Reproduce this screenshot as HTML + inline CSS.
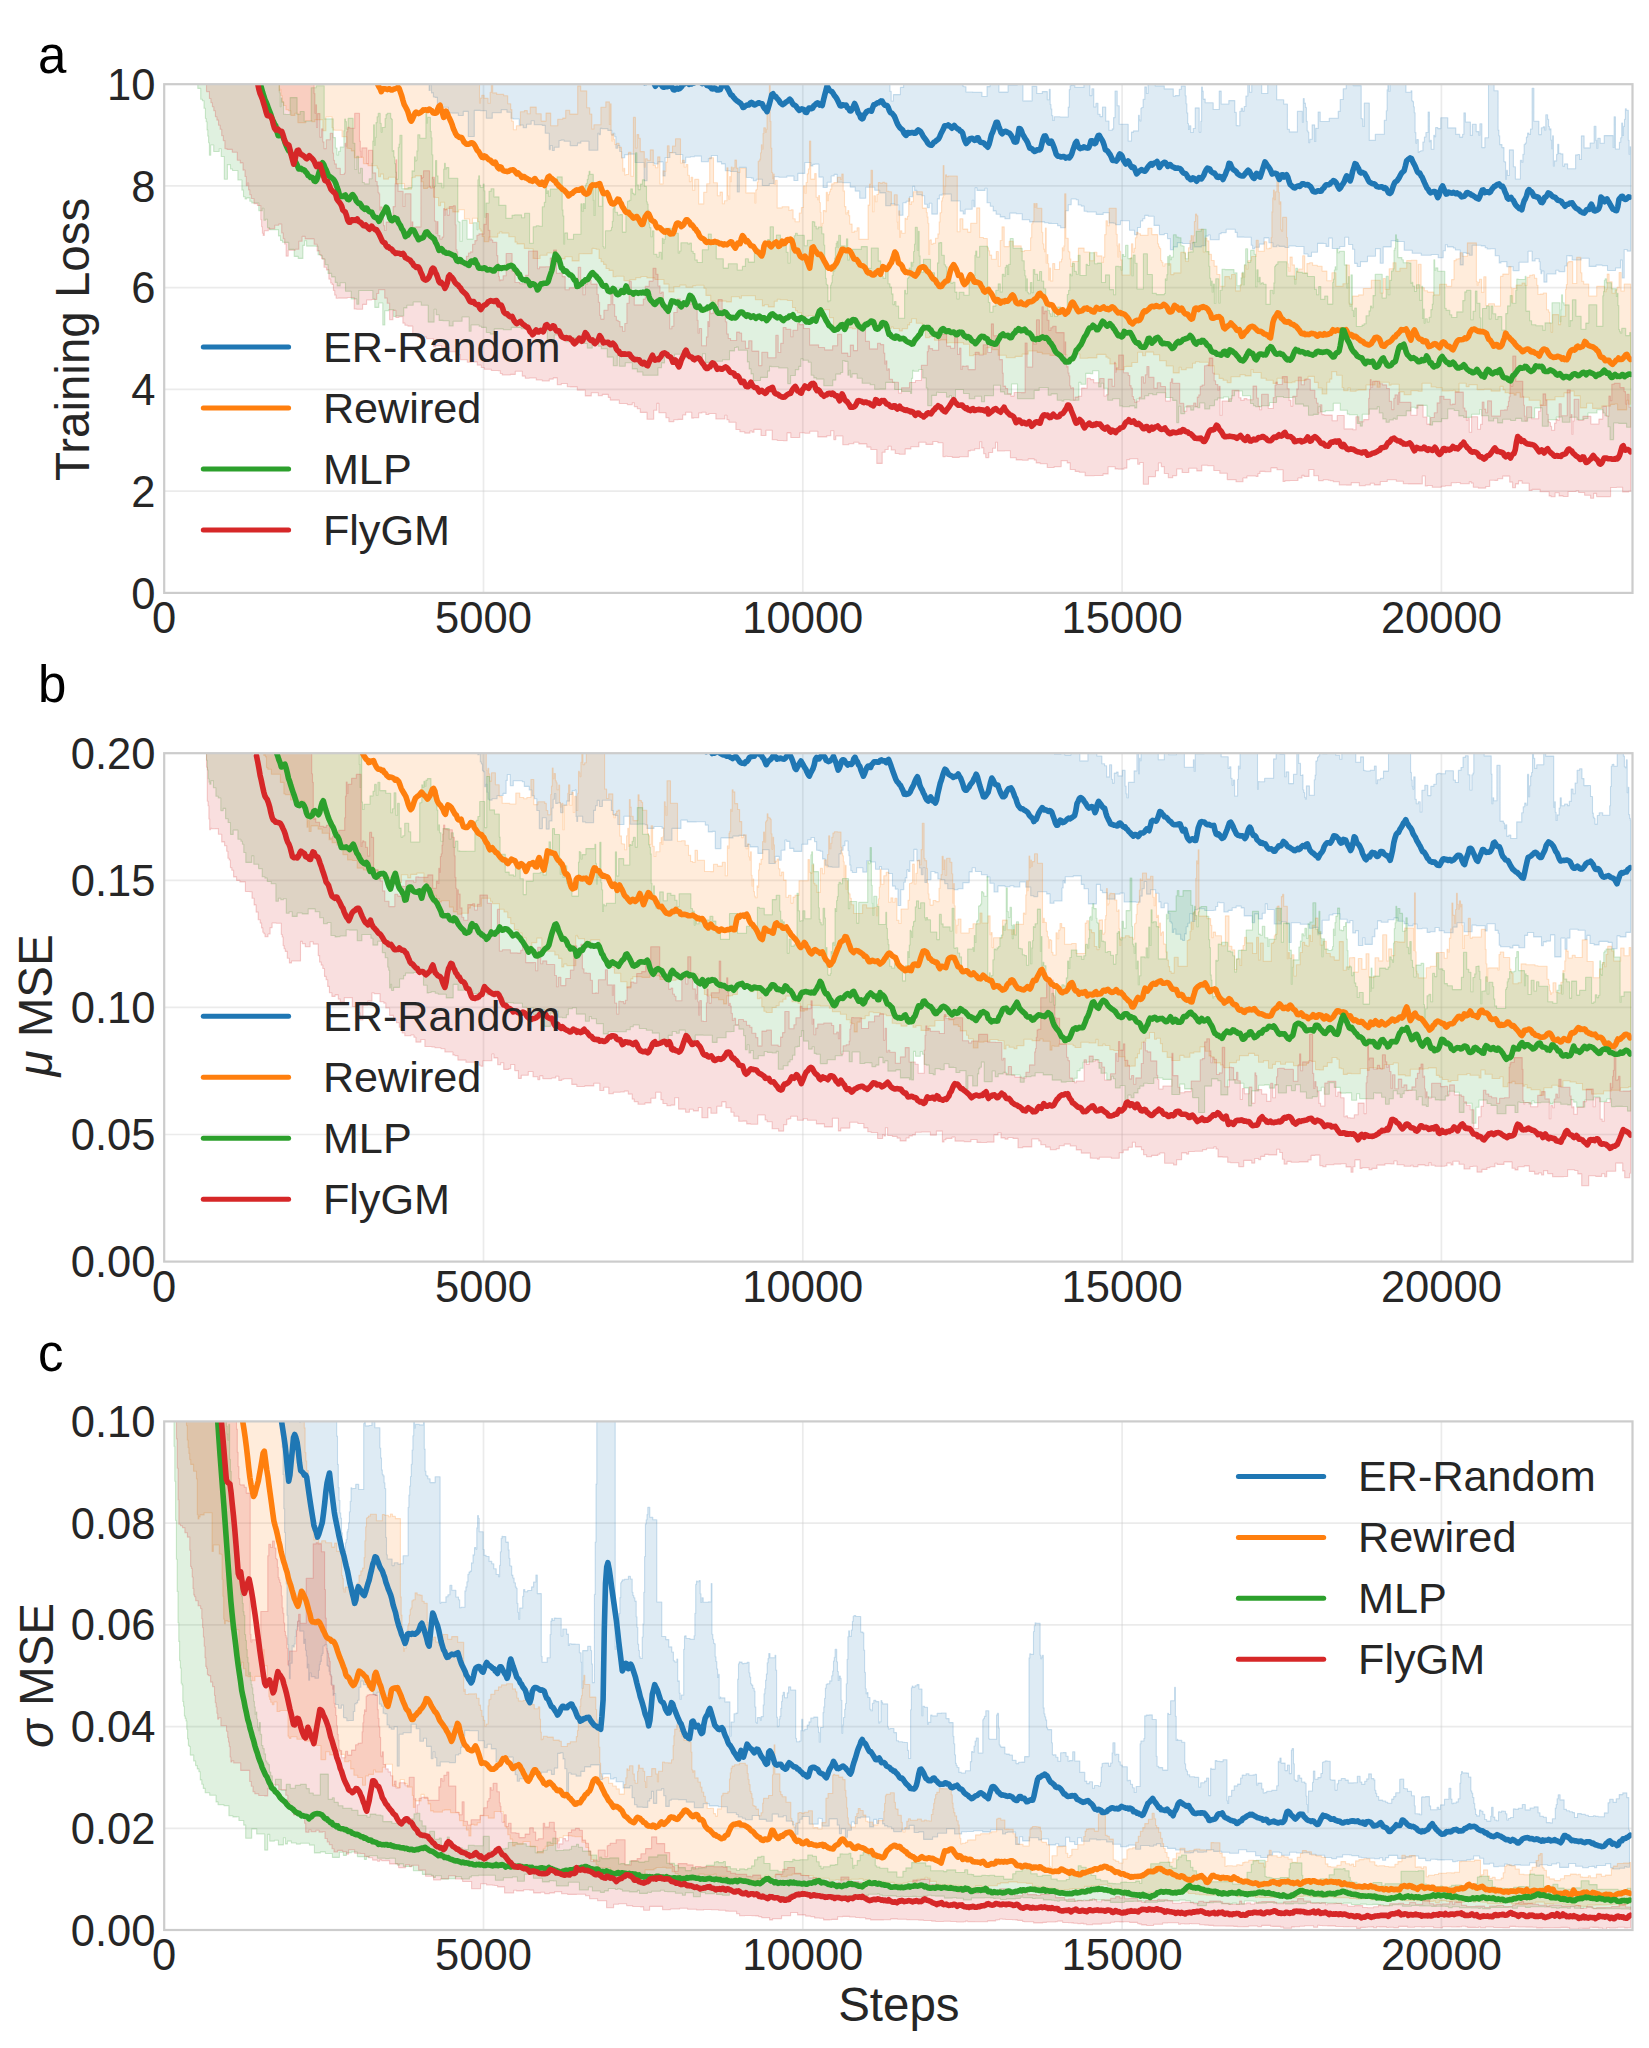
<!DOCTYPE html>
<html><head><meta charset="utf-8"><title>chart</title><style>html,body{margin:0;padding:0;background:#fff;overflow:hidden}svg{display:block}</style></head><body>
<svg width="1649" height="2048" viewBox="0 0 1649 2048">
<defs><clipPath id="clipa"><rect x="164.2" y="84.2" width="1468.3" height="508.7"/></clipPath><clipPath id="clipb"><rect x="164.2" y="753.2" width="1468.3" height="508.39999999999986"/></clipPath><clipPath id="clipc"><rect x="164.2" y="1421.4" width="1468.3" height="508.5999999999999"/></clipPath></defs>
<style>.t{font-family:"Liberation Sans",sans-serif;font-size:43.5px;fill:#262626}.l{font-family:"Liberation Sans",sans-serif;font-size:47.5px;fill:#262626}.p{font-family:"Liberation Sans",sans-serif;font-size:51px;fill:#000}</style>
<g stroke="#cccccc" stroke-opacity="0.40" stroke-width="1.7"><line x1="483.5" y1="84.2" x2="483.5" y2="592.9"/><line x1="802.8" y1="84.2" x2="802.8" y2="592.9"/><line x1="1122.1" y1="84.2" x2="1122.1" y2="592.9"/><line x1="1441.4" y1="84.2" x2="1441.4" y2="592.9"/><line x1="164.2" y1="491.2" x2="1632.5" y2="491.2"/><line x1="164.2" y1="389.4" x2="1632.5" y2="389.4"/><line x1="164.2" y1="287.7" x2="1632.5" y2="287.7"/><line x1="164.2" y1="185.9" x2="1632.5" y2="185.9"/></g>
<g clip-path="url(#clipa)">
<path d="M414,-16.9h5v-3h7v-2.1h5v3.7h4v.3h6v-.4h9v-9h5v8.7h5v-3.6h8v1.6h6v3.8h4v2.1h9v1.3h6v-7h7v7.1h8v1.3h2v-.2h8v1.2h3v-7.6h2v-.2h9v2.8h4v-8.7h2v7.8h7v-9.8h4v7h5v-6.9h9v4.2h6v-5.8h2v14.7h7v1.4h3v-4.5h4v.3h3v-1.8h9v7.5h2v-2.2h6v5.6h5v7h6v-7.5h6v-6.3h2v3.9h4v-1.8h6v-35.5h2v51.5h8v-3.4h8v-7.1h6v12.6h8v4.6h5v-6.8h6v-.2h5v2.6h3v3.9h3v2.8h6v3.7h2v1.2h7v1.2h4v2h5v-1.8h9v-8.9h8v8.6h5v3.4h5v-1.9h8v8.2h6v-4.8h7v-1.8h2v13h7v-2.4h6v-3.7h3v7.5h8v2.3h6v-2h7v-12.2h8v10.4h4v2.5h8v-28.5h9v35.7h6v6.5h7v-6.5h8v-1.7h5v17.4h8v-10.9h5v-2.2h9v9.4h8v13.4h6v21.3h1.2v9.6h2.2v-6.4h7v-7.2h3.2v-32.6h1.2v27.2h1.6v-11.9h1.7v1.1h2.5v-2.2h8v14.6h7v-17.6h5v10.4h3v-7.2h5v-.3h9v4.2h4v.9h9v-26.2h1.7v36.9h.8v1.8h1v.2h1.9v5.3h7v.4h9v4.1h5v-9.9h3v-6.5h9v12h9v-6.8h9v-4.9h2v2.8h2v-.2h2v17.9h9v-14.5h4.8v7.1h5.5v-1.9h5v8.2h2v-10.6h.9v15.3h.8v4.4h.8v6.7h.9v4.8h1.5v-3.6h6v.2h8v-9.9h1.1v-17.5h.8v-3.8h.8v-5.8h.8v5.4h3.2v2h9v-3.2h6v11.4h2v-6.9h1.9v18.2h2.1v-3.7h2.1v11h2.1v2.4h2.4v-9.6h3.2v14h3.3v9.3h3.2v-1.4h1.4v-11.3h1.4v-26.6h2.2v14.8h2v18.4h9v16.8h3.3v-8.9h2v-1.2h5v-15.7h.8v4.6h.8v1.1h.8v-12.7h.8v-.7h1.4v-8.1h1.7v-12.5h1.6v6.6h1.6v-15.2h3.3v-3.4h4v11h9v3h9v7.4h2v-.7h4v-6.4h2v-3.2h4v9.7h.8v8.1h.8v9.1h.8v10.6h.8v6h.8v-3.8h1.5v6.8h2.4v-4h2v-20.6h4v24.2h1.6v-10.9h.8v-34.2h.8v4.1h.8v8h2v3.6h8v6.8h6v-18.4h2v12.9h7.6v-3.4h6v11.8h1.5v13.2h1.5v.1h2v-14.3h1.4v-3h1.4v2.7h1.6v-4.6h1.7v-10.5h1.9v-16.8h1.8v13h2.1v-48.5h4v39.2h6v10.6h6v-11.3h9v17.5h7v4.3h3.7v25.2h2v2.7h8v-20.7h5v11h.9v-23.7h.9v4.6h1.2v4.3h1v13.9h.8v9.4h.8v1.3h.8v10.6h.9v-3.4h2.4v-14.3h2.5v16.6h1.1v-13.3h1.1v.3h1.3v-16.5h2.1v9.5h9v-3.3h9v-6.8h2v-11.9h3v-10.7h3v-9.1h3v.4h4v5.5h8v33h.8v.1h.9v7.7h1.4v-23.4h5v37.4h6v-6.2h9v-13.9h2v-9.5h.8v-21.1h.8v-4.5h.8v6.1h1.3v-11.7h7v3.9h2v-5.7h2v5.3h5v9.2h5v-1.6h.9v10.1h.8v.8h.8v5.2h.8v5.9h.8v19.9h.8v10.5h.8v-3.5h.8v-.1h.8v13h.8v-1h1.6v-.7h2.2v-8.8h1.5v-5h1.5v-4.5h2.2v-20.4h1.3v29.7h1v-1.6h.9v9h2.5v-13.9h.9v1.4h.9v-9.1h.9v-.1h1.3v1.1h3v-10.9h7v10.2h8v6.5h3.9v2.7h2.9v-2.8h1.3v-21.4h1.5v9.1h5v13.4h2v-11.2h3.8v7.4h2.7v3.7h1v-11.5h2v23.8h3v-9.8h3.6v-61h.8v6h.8v-1.9h4v9.9h4v39.3h.8v5.6h.8v8.9h2.3v3h2v14h.8v.3h.8v17.2h.8v-8.7h1v5.1h2v-25.6h4v16.9h2v12.2h5v-18.7h1.4v1.9h1.1v-7.9h1.2v-9.8h1.1v-1.5h1.2v-6h1.2v-4h1.4v1.5h1.5v-5.5h1.6v-40.8h1.8v33.1h5v13.3h2.4v-6.9h2v-.9h1.3v3.2h1.2v-15.2h1.8v4.5h1v7.2h.8v3.2h.8v-.8h.8v11.2h.8v8.7h.8v-13h.8v30.2h.9v-5.1h2.3v-6.7h1.1v-10h1.1v9.2h1.9v.5h2.2v12.2h1.6v-2.2h3.1v4.8h8v-13.8h2.1v-.4h1.9v5h1.8v-23.6h2.7v12h6v-4.9h4v-16.6h1.9v14h.8v7.9h1v-10h2.4v4.9h4v-7.6h9v11.8h.9v-30.7h1.3v32.3h4v-6.8h1.3v-4.4h1v-14.7h.9v12.4h.9v-9.1h1v-7.2h.9v-10.5h.9v1.6h2v29.9h.8v14h.8v-7.5h.8v11.2h0h0v93.2h-3.5v-1.6h-3v28.5h-1.9v-17.9h-1.8v7.9h-5v2.5h-8v-4.9h-5.4v-.5h-6v1.3h-7v-8.1h-8v1.7h-9v-4.1h-3.1v-.3h-2.1v10.4h-2.1v5.6h-6v-1.3h-2.9v3.7h-9v8.1h-3v-11h-2.1v2.5h-.9v-4h-.8v-7.8h-1v-3h-4v2.2h-3v-9.7h-4v10.9h-9v8.4h-6v-4h-6.3v-5h-5.8v1.4h-1.8v-7.3h-4v-7h-5v.3h-3v-1.2h-2v-1.9h-4v-.7h-9v10h-3v-1.8h-3v-.8h-3v12.3h-3v-14.9h-4.8v-2h-2v-1.1h-6v-2.1h-2v6h-2.2v6.9h-5v-3.2h-7v.8h-8v-.1h-2v-2h-9v-3h-8v-8.7h-8v-.9h-5v6.3h-8v16.4h-3v-14.7h-4.7v7.6h-8v5.4h-7v4.9h-3.3v-3.1h-2.6v-14.2h-2v-4.7h-4v-7.2h-3.8v9.2h-5v2h-3v0h-4.5v-10.4h-3.5v8.3h-2.8v-2.9h-2.5v-.1h-6v8.9h-6v4.1h-3.6v-2.4h-4v-7.5h-8v-.5h-7v1.5h-4v-1.1h-6v-1.1h-2v1.5h-4v-4.1h-4v-4.8h-4.8v6.2h-4.7v3.2h-4.8v1.5h-2v-3.5h-1.4v-8h-7v-.2h-7v-4.7h-2v-3.2h-9v3.4h-5v1.1h-2v6h-9v-4.7h-2v1.1h-2.8v9.7h-4v1.1h-7v-4.4h-2v7.2h-2v-6.2h-8v-.9h-5v4.3h-4v2.9h-3v-11.2h-2.9v-5.1h-3.1v1.1h-5v-9.2h-5.4v-9.2h-5.7v-.8h-3.5v3.4h-2v2.2h-2.3v6.5h-3v7.1h-3v-4.4h-5v-9.4h-9v3.8h-5v-1.3h-2v-.4h-4.3v-10.3h-6v1.8h-7v-2.4h-9v-.7h-3.1v-5.2h-2.9v-1.1h-3v-5.2h-2v-.8h-5v5.8h-2.9v6h-2.9v17h-4.8v-2.1h-3v-2.2h-6v-.1h-3v-.6h-4v-.9h-6v0h-9v-2.2h-7.4v-6h-6v-.6h-6.3v5.6h-5v-1.8h-4.7v-2.7h-4.1v-3.3h-2.9v-4.7h-2.9v-3.4h-3.3v-14.6h-2v2.2h-8v-2.5h-1.9v18.9h-1.4v-6.6h-1.5v9h-7v4.8h-2v-2.9h-3v-10.1h-9v-6.9h-9v1h-2.8v3.8h-2v15.2h-5.6v-10.8h-2.5v4.5h-2v-3.6h-2.7v-8.5h-2.8v-1.1h-5v-4.2h-2.2v-4h-1.9v10.4h-3.2v4.5h-3.3v1.5h-3.2v12.4h-4.1v-10.1h-4.1v-1.2h-4.1v1.8h-5v-12.8h-6v-2.6h-5v-3h-9v10.9h-6v-7.1h-4.5v-4h-5v-4.5h-8v-.4h-5v-7.8h-3v1.6h-3v6.3h-4v5.2h-4.1v-10.4h-4.2v-13h-4.1v.3h-2v1.5h-2v-3.4h-6v10.9h-6.9v7.1h-4v-4.4h-7v1.1h-8v-.4h-4.8v6.7h-4.8v2h-7v-6.2h-6v1.5h-3v-2.7h-2v-.6h-5v-10.1h-7v24.6h-2v-20.5h-7v-.7h-5v-6.9h-3.8v-2h-4.1v-6.4h-6v3.1h-3v3.2h-7v-5.7h-7v.6h-4v.6h-4.7v5.5h-3v-8.3h-7v-1.9h-5.8v4.9h-4.8v18.4h-2v-14h-5v2.1h-4v-1.5h-7v18.2h-3v-18.2h-9v-8.4h-7v.5h-3.4v3.2h-3v-6.3h-2v-6h-2v2.7h-1.8v-11.6h-1.2v-3.4h-1.3v2.1h-1.6v-4.9h-4v-1.8h-5.8v-.2h-1.6v6.2h-1.3v-1.4h-1.2v17h-9v-8.9h-8v1.8h-3.4v2.5h-7.4v-4.3h-6v-1.2h-3v.4h-2v6.7h-4.8v3.3h-2v-5h-2v4.1h-1.1v-16.3h-4v-7.9h-3v-.7h-8v-3.9h-3v3.4h-4.7v3.6h-3.3v-2.7h-4v-6.1h-6v-.7h-2.2v-6h-4.1v-2.7h-5.6v3.1h-9v5.6h-6v-7.7h-6v-.2h-6v26.1h-6v-25.1h-5v4.1h-5v-2.4h-5.9v-.1h-4v-5.7h-7v-.8h-4v-9.1h-2.4v-.4h-1.6v-4.1h-1.9v-7.9h-1.4v5.5h-1v-8h-.8v-9.7h-.8v-4.2h-.8v1.5h-.8v-12.8h-.8v-7.1h-.8v-2.2h-.8v-5.7h-.8v-4.3h-.8v-7.1h-.8v-4.7h-.8v-6.6h-.8v-3.3h-.8v-2.5h-.8v-8.8h-.8v-1.2h-.8v-13.1h-.8v-5.7h-1.5Z" fill="#1f77b4" fill-opacity="0.15" stroke="#1f77b4" stroke-opacity="0.22" stroke-width="1.1" stroke-linejoin="round"/>
<path d="M269,16.2h2v-7h7v-11.8h2v10.4h6v-1.2h5v-1.3h7v8.4h4v-3h7v-1.1h2v-4.1h4v-9.4h9v9.4h2v-20.5h9v25.2h7v-.6h5v-4.3h6v2.2h5v1.9h6v-17.3h3v8h5v2.2h5v.3h9v-1.9h9v4.8h4v-3.7h6v9.3h9v-2.4h4v-11.5h3v10h9v-6.9h7v17h4v-12.9h9v.3h9v2.9h3v.9h5v16.2h1v14.6h.9v-3h1v8.6h.9v6.7h1v-7.7h1v11.3h.9v8.6h1v6.6h1v-6h.9v15h1v2.6h.9v-.7h1v21.7h1v-4.9h1.3v-2.9h2.3v3.2h4v4.8h2v-10.8h1.2v-41.8h1.4v42.3h4v1.5h7v1.3h4v8h3v5.9h1.2v11.6h1.5v8.6h3v-4.1h4v-13.9h4v-1.2h2.9v3.1h2.9v-6.6h6v6.7h5v7.3h4.8v-8h4.7v12.7h7v-6.6h5v-1.1h3v-7.8h4v3.8h8v-28.2h3v5h6v16.8h3v6.3h2.1v14.9h2.1v-4.1h7v-17.6h4.9v-5.3h3.6v22.5h.9v-20.5h.8v30.1h.8v6.9h.8v-7h.9v5.4h1.1v5.2h2v-1.3h2.4v4.2h2.4v10.6h1.3v13h1v-2.8h.9v6.7h1.2v-.4h2.6v-22.1h2.5v23.8h2.4v-58.8h2v30.5h1.6v-13.3h1.7v3.7h1.6v13.3h4v15.3h1.1v-8.2h1.9v1.5h3v-10.3h3v15.5h2.2v2.4h2.2v-10.9h2.2v27h3.1v-13h1.4v.4h1.5v-9.2h1.5v-16.3h1.7v6.7h3.4v-6.5h3v-7.3h5v24.3h1.9v-2.7h1.8v6.7h1.8v-2.5h1.8v10.8h1.6v6.3h1.7v-4.4h1.6v13h2v-10.8h4v24.5h5v-11.6h3v-8.5h3v-26h3.8v25h3.9v12.9h2.6v-3.6h2.4v11.6h2v-3h2.5v-32.9h1.1v28h.8v3.5h.9v-22.8h.8v5.1h.8v-14.6h.8v3.2h.9v-2.4h1.9v-7.7h1.6v8h1.4v4.3h2.1v-4.1h6v24.6h9v10.1h.8v-12.9h.8v-.8h.8v-7.3h.8v-20.8h.8v-.4h.8v-1.7h.8v-6.4h.8v-7.9h.8v4.1h.8v-15.4h.8v-5.8h.8v0h.8v4.5h.8v-2.9h.8v-18.5h.8v-7.1h.8v-1.3h.8v-17h.8v36h.8v26.7h.8v24.3h.8v6.4h.8v-4.8h.8v10.2h1.3v-3.9h1.7v27.6h4.8v-1.1h7v3.7h2v-.7h2.1v9h2.1v2.9h4.1v-8.7h2.1v-5.5h2.1v-21.6h1.5v7.3h1.1v-10.7h1.2v-8.8h1.1v-4.8h1.1v-27.8h1.2v38h4v-5.5h1.5v23.6h1.5v2.6h1v-4.3h.8v7h.8v9.8h.8v13.8h.8v-2.9h1.3v-12.6h2.1v1.1h1v-19.4h1.1v8.3h1v-6h1v-2.9h1v-2.6h1.3v-5.2h2.2v-1.3h3.6v-5.4h3v2.1h1.3v-5.2h1.4v16.8h1.3v15.7h1.4v7.4h1.1v-1.5h.9v-2h.9v5.1h.9v8.4h1v.1h1.4v8.3h2v-1.4h3v-3.2h2v11.6h9v-34.3h1.5v-21h1.4v-13.8h1.5v41.4h1.4v-16h1.5v6.1h1.5v-7.3h1.5v-12h1.7v.6h2.5v-.7h2.1v.7h2.1v8.2h2.1v.5h2.5v13.1h2.9v-10.2h2.9v27.2h.8v7.1h.8v-18.1h.8v26.2h.8v-6.4h1.4v2.6h3.2v-15.1h1.2v1h1.3v-2.9h1.2v-17.9h1.2v6h1.5v-2.6h2v-10h9v16.3h4v4.4h.8v4.4h.8v6.3h.8v31.2h.8v-14.1h.8v-.6h.9v4.4h1.7v-.8h2.5v-5h2.4v-4.4h1.3v-12h.8v-9h.8v-.4h.8v-11.6h.8v-3.2h.8v-32.1h.8v29.3h.8v-8.6h.8v-11.4h1v1.7h1.7v-.6h9v55.8h2.6v-13.1h3v10.4h4.8v3h3v-8.9h6v-15.3h3v29.6h3.8v1h3.8v9.3h1.1v2.9h1.2v4.4h2v4.2h4.7v-7.8h2v14.7h1.9v-25.7h1.8v-13.6h2.2v19.7h5v-5.3h4v4.6h8v5.5h3.2v-.9h6.2v-12.7h1.1v-14h1.1v-2.5h1.1v-17.8h.9v3.8h1v-3.8h1.3v4.7h4.7v24.1h1v11.4h.9v5.4h.9v2.6h.8v-23.7h.8v35h.9v-8.4h.8v8.9h.8v16.4h.8v-11.9h1.1v12.9h2.1v-17.3h2v5.9h4.8v-7.8h2v-2.6h.8v-11.3h.8v3h.8v-4.9h.8v-52.1h1.2v44.5h2.3v12.8h.8v.8h.8v7h1v7.6h1.9v-5h5.7v-13.4h5.7v3.9h5.8v8.8h4v-8.6h3v3.7h5v6.5h1.4v-5.3h1.4v-22.5h1.3v-13.9h1.4v5h1.8v-17.5h7v26h1v11.6h.8v11.2h.8v-13.3h.8v7.7h1v8.5h1.5v15.1h8v-16.9h1.4v-14.3h1.3v8.3h1.3v-3.7h1.3v-10.6h1.3v-5.6h1.4v1.6h2.4v1.6h7.4v-7.1h4v6.3h5.7v9.2h1v3h1.1v1.7h1v12h1.1v1.8h1.2v3.7h1.8v-2.2h6v10.8h3v-1.7h7v-20.5h4.7v8.9h3v-13.5h1.5v-7.1h1.1v-5.2h1.1v7.4h1.1v-7.2h1.1v-14.2h1.1v-7.5h1.1v1.7h1.2v13.6h5.5v22.6h1.8v-13.9h1.9v2.9h1.9v13.4h2.5v6.2h2.8v5.6h2.8v8.4h3v11.8h4.8v-9.7h4.7v2.1h2v-4.2h4v16.4h4.8v-6.1h1.5v-11.6h1.5v3.7h1.5v-11.9h1.5v4h1.6v-8.3h3.6v-4.2h4.7v-16.2h2v11h6v-9.6h2.5v7.1h2.4v-.7h2v-10.5h.8v-25.7h.8v-14h.8v-7.8h.8v9.5h1.1v-7.8h1.5v-10.9h1.6v11.4h.8v11.7h.8v-2.3h.8v28h.8v1.4h.9v-13.7h4v20.1h.8v26.2h.8v3.8h.8v3.8h1v-14.2h2.2v7.8h2.2v14.3h2.1v-7.8h2.2v-2.4h4v-13.2h2v17.2h2.2v-9.4h2.7v-.8h3v2.5h4.8v.9h4.7v4.9h4.8v9.6h5v-8h4v13.7h7v-2.6h3.2v-18.8h3.2v39.2h3.3v-8.1h6v-1.2h4.7v-6.4h8v-8.2h9v12.7h3v-14.5h2v10.9h3.9v-20.6h3.8v-6.1h3v8.7h3.9v-3.1h6.8v-7.7h4.7v-.3h5.5v27.9h1.4v-24h2.8v23.6h3.2v2.9h3.3v1.4h6v2.8h6v-10.7h7v2.1h5v-6.7h2.4v-19h2v-1.6h2.1v-.2h2.1v-6.1h2.1v3.6h5.1v-13.4h9v38.6h.8v3.8h.8v-2.9h1.5v-3.2h2.1v13.2h2.2v-15.6h2.2v28.7h2.5v-1.8h6v2.3h6v-29.6h2.3v-2.3h6v-7.4h2.2v21.1h.8v14.4h1v-13.7h3.3v-3.4h5.9v-2.1h3v2.4h2v-8.1h2.7v-2.1h2.8v-.4h2v3.4h2.3v7h1.2v9.3h2.1v-.4h3.2v-1.1h3.2v16.8h2.1v2.2h1.2v11.2h1.3v8.9h1.5v-17.5h6v10h2v-8.3h5v-27.1h.8v-4.6h.9v-21.8h1.4v-1.2h4v21.9h4v-26.3h4v15.6h1.2v8.6h1.8v2.6h5v12h8v-9.6h8v5.3h1.4v-2.6h1.1v-15h1.9v7.7h3v11.5h3v-3.4h2v-2.5h2v-14.9h2v18.5h3.1v-7h6.5h0v120.3h-2.1v-4.1h-2v9.7h-9v-5.9h-3v.4h-4v1.7h-9v2.3h-9v-5.2h-6v4.7h-6.3v-12h-6.2v-4.8h-4v1.8h-6v3.9h-9v3.1h-9v5.6h-6v-5.3h-9v0h-2v-3h-9v-4.5h-4v2.4h-2v-1.7h-5v-.6h-4v-2.9h-2v-3.5h-3v4.7h-9v-1.8h-7v.3h-7v-5h-8v2h-3v-3.4h-7v8.8h-4v-1.7h-2v.4h-4v.3h-7v-3.4h-6v-.6h-5v-3.7h-9v8h-4v-.7h-7v4.1h-7v-2.8h-5v-7.6h-8v.9h-2v-2.9h-9v5h-3v-6h-2v3.7h-9v4.9h-8v.4h-2v1h-6v-3.5h-2v2.9h-4.4v-3.2h-1.6v-12.3h-5.5v-3.6h-4.8v7.5h-2v3.2h-3v11.7h-4.7v-6h-3.9v-5.6h-3.8v-6h-6.3v2.3h-2v1.8h-4v.3h-7v1.3h-3v.7h-4v-.4h-4v-4.2h-7v5.2h-4v-3.1h-7v-2h-5v-5.8h-8v-3h-2v6.4h-6v-1.3h-5v2.1h-9v5.9h-4v-2.4h-4v-1.8h-4v-4.1h-4.8v-8.4h-5.8v-3.7h-9v-.4h-4v1.5h-3v4.7h-6.3v1.8h-5v-2.5h-2v5.6h-6v-6.9h-7v-5.3h-6.6v-6h-6v-2.6h-8v3.7h-3v-3.5h-5v10.2h-5.7v3.9h-5.7v.2h-2v3h-8v-6h-2v.4h-4.3v-5.7h-2v-1.2h-2v-2.7h-9v3.5h-9v.4h-8v-4.3h-5v6.6h-2v-1.5h-4v-.3h-2v-4.1h-8v.7h-9v-1.4h-7.7v-1.6h-5v-1.4h-9v3.1h-6v2.3h-7v1.3h-9v-2.4h-8v-5.7h-6v-3.8h-2v1.8h-4v6.6h-9v.4h-3.8v1.2h-3.9v-11.5h-6v-1.7h-7v.2h-8v.2h-2v-3.1h-6v.4h-6v-3.7h-5v1h-4v-8.3h-3.2v-6.1h-6v-4.4h-4.7v3.7h-2v2.4h-2v3.7h-5.3v2.4h-3v-2.5h-6v-1.5h-2v1.2h-3v-.4h-7v1h-3v-1.1h-2v-1.7h-8v-.5h-4v-.7h-2v-1.5h-4v.8h-2v4.7h-4v-.9h-8v-.1h-6v2.7h-4.8v-12.9h-4v-8h-9v6.9h-7v-1h-5v.7h-7v-3.6h-4v-2h-2v-3.1h-3v-7h-5.2v-.8h-7v-.4h-3v1.9h-3v5.7h-6v-2.1h-3.9v1.1h-2v-6.2h-7v-4h-6v0h-8v2.6h-2v-1.6h-8v5.2h-5v-.8h-9v3.6h-2v-3.6h-4.7v-5.7h-4.8v-7.1h-2v-3.1h-8v.4h-3v1.6h-7v-2.1h-6v1.5h-6v5.3h-5v-7.8h-5v-4.6h-9v-1.6h-8v-1.4h-6v1.1h-5v2h-6v1h-6v-4.4h-7.9v.5h-3v-6.3h-4v-1.9h-3v-4.1h-2.4v-2.6h-2.5v-3.3h-2v-9.3h-3v-.7h-2v-.1h-2v5.2h-9v.1h-4v7.2h-7v-4.1h-7v2.1h-7v-4.2h-4v-1.7h-7v2.2h-7v3.3h-5v-.1h-2v-9.6h-4.4v-.4h-4.4v-4.5h-7.3v-1.8h-2v-5.4h-6.2v-3.6h-7v-1.3h-2v1.4h-2v3.9h-9v4.7h-4.6v-5.3h-2v-5.4h-1.4v-2h-1.3v-7.4h-2v-3.5h-5v5.2h-3v-4.4h-5.1v-9.2h-5.6v2.1h-6v-3.5h-6v1.6h-2.2v-7.7h-4v3.5h-2v-8.3h-3v-.2h-2.1v-10.1h-6v1.2h-4v-6.7h-2.2v-5.8h-6v1.3h-2.4v.5h-1.4v11.4h-7v-5.5h-9v-6.3h-7v1.8h-5v-5h-3v2.7h-1.9v-8.6h-1.5v-2.5h-9v-2.1h-4.7v-6.2h-5v.2h-4v-6.7h-3v-2.4h-2.3v-.3h-2.2v-11.5h-4.9v-6.5h-7v-.1h-1.9v-2.5h-1.1v-10.9h-3.1v.3h-3v13.8h-3v-11.2h-8v2.1h-3v-1.2h-6v2.1h-8v-9.4h-3v2.2h-4v-4.7h-2.5v-1.1h-2.5v-4.1h-2.3v-3.4h-1.5v-6.6h-1.2v-6.2h-1v1.5h-.8v-10.3h-.8v-.3h-.8v-10.2h-.8v-7.4h-.8v-5.9h-.8v-6.2h-.8v-2.9h-.8v-8.6h-.8v-2.8h-.8v-8.9h-.8v-9.2h-.8v-6.6h-1.3Z" fill="#ff7f0e" fill-opacity="0.15" stroke="#ff7f0e" stroke-opacity="0.22" stroke-width="1.1" stroke-linejoin="round"/>
<path d="M197.8,-14.8h1.9v-5h7.1v13.1h3.9v-17.3h8.1v12.3h5.9v-10h3.1v10.1h7.9v-11.9h6.1v10.2h7.9v-7h6.1v-2.3h8.9v-15.3h9.1v22.2h.8v20.1h.8v23.6h.8v1.7h.8v6.2h.8v29.9h.8v7.1h.8v19.8h.8v13.9h.8v-8.5h.8v3.8h1.8v12.3h2.2v.3h4.3v-16.9h7v16.8h3v-2.9h4.1v9.7h7v-33.5h5v-1.9h8v33.1h9v18.7h2.2v10.4h1.6v6.9h1.6v-3.5h1.7v-4.4h3.6v-16.2h.8v-11.7h.8v2.5h.9v7.4h1.7v-10.6h5v24.8h1.8v26.3h1.8v-13.1h1.8v16.5h1.8v-4.7h2.1v14.3h2v1.4h4.8v-5.1h2.8v-15.6h.8v-22.1h.8v-16.3h.8v20.5h.8v-7.9h.8v-14.8h1.1v-5.8h1.1v-3.4h2v10h1v8.7h.9v-4.6h2v-.3h1v-8.7h.9v-3.9h1.2v-1.4h3.5v5h.8v1.1h.8v32h.8v-.7h.8v6.3h.8v6.7h.8v8.5h.8v7h2v-31.7h.8v-3.3h.8v-8.8h2.1v53.4h6v-1.1h4v-16.7h1.7v.3h.8v-14.3h.8v4h.8v-.6h.8v-9.4h.9v-16.1h2.1v3.5h6v-24.9h.8v9.5h.8v-5.5h2.9v13.8h.8v6.6h.8v16.9h.8v24h.8v9h.8v-1.4h1.1v-25.7h1.2v15.3h1.3v7.5h4v4.3h1.7v-18.6h.8v-5.8h.8v5.7h1.1v-1.4h2.4v10.6h9v43h1v.9h1.3v19.1h2v-20.8h5v18.7h6v-16.4h4v6.9h.8v-49.8h.8v-4h.8v9.3h.8v2.4h2.9v-3.4h.9v6.6h.8v26.6h1.1v-14.3h3v-11.6h2v-2.7h3v8.2h5v8.5h7v13h6v-3h2.6v-.5h7v2.9h3v-4.5h5v29.9h3.6v-16.4h3v-1h3v.4h3.1v-19.4h2v-4.6h1.3v-20.2h1v11.4h1v-2.7h1v5.6h1.6v-7.3h7v-12.1h5v33h.8v6h.8v28.1h.8v-10.9h.9v-.2h2v6.3h6v-4.9h7.4v-30.5h1.2v7.5h1.3v-7.8h1v4.9h1v-23.3h.9v-1.8h1v-4.1h.9v-4.2h.9v-3.8h.9v3.2h3.3v26h.8v15.1h.9v-29.6h3.6v20.3h3.7v-12.8h.8v53.1h.8v1.5h1.5v-17.2h5v-.5h1.1v-2.9h.8v-6.2h.8v-12.5h.8v-3h1.2v6.5h2.4v2.8h2.4v-.4h2.5v17.5h3.5v-19.2h1.6v-11.6h1.7v-1h1.6v-11.4h1.6v4.5h1.6v1.2h1.5v-41.8h1.4v32.1h1.4v4.7h2v-5.5h2.1v-4.3h2.1v6.6h2v15.4h.8v2.2h.8v6h.8v13.8h.8v3.8h1.2v9.2h1.5v-5.9h1.5v23.4h1.5v.1h1.6v2.6h2v-4.8h2.5v6.8h.8v-20.7h.8v5.2h.8v-4.3h1.4v-11h6v3.6h4v1.4h3v19.7h1.3v-1.9h1.3v-8.2h7v1.1h1.8v-.9h1.7v8.3h1.8v2.2h1.8v6.4h2.3v2.6h5v-12.7h6v-15.8h3v6h5v18.7h7v9.4h5v-4.3h9v6.2h5.1v-3.6h3v-7.6h3v3.3h6v-13.6h4v2.8h4.8v-.6h2v-9.3h2.4v-1.9h2.5v-12.7h3.3v17.1h3v-8.9h4v9.8h5.9v7.5h1.8v10.7h1.9v-22.2h3v5.3h1.2v-10.3h1.3v-2.6h1.8v2.2h7v10.4h3v-5.5h5v-18.8h1.3v.4h1.2v4.3h1.5v2.5h2v-1.7h3.6v6.7h2v11.3h.8v15h.8v18.4h.8v5.8h.8v.9h.8v16.6h.8v-1h1.9v-15.7h.8v-2.3h.8v-7.2h.8v-6.7h.8v2.1h.8v-12.9h.8v-10.6h.8v-4.2h.8v-1.8h.8v5.7h.9v-11.9h1.8v10.7h4.7v4h1.3v-11h1.2v21h1.6v-7.5h3v-3h9v-2.8h6v21.8h4v-20.4h7v12.9h2.4v15.6h2.5v1.9h2.4v-9.5h2.5v14.8h1.9v3.4h1.5v6.8h1.5v10.7h1.5v-3.1h1.5v4.5h2.6v12.2h6v-28h1v3.5h.9v.1h.9v-15.3h.9v-1.2h.9v-9.2h.9v1.7h.9v-7.5h.8v3.6h.9v-3.5h.9v-10.9h.9v-7.5h.8v-16.8h2v23.1h1v-19h.9v24.6h.9v11.4h1.2v5h2.2v-13h7v13.5h4v7.5h3v-17.4h1.2v-20h1.2v-.3h1.8v12.6h2.6v9.5h1.3v2.1h1.4v8.4h1.9v-1.2h2v9.1h2v-.7h2.1v9.7h2v6.8h2v-6.7h5v3h5v-19.6h5.9v-20.3h.8v-4.3h1.1v6h2.8v-10.7h8v47h.8v9h.8v.2h.8v9.8h2.9v-6.2h2.9v-15.7h2.4v-6.5h2.1v8h2v-17.6h1.7v1.9h1.2v-9h1.1v-1.9h1.2v9.2h1.1v-10.1h1.6v-25.9h3v9.7h9v12.5h2v9.5h.8v5.5h.8v15.1h.8v-12.1h.8v13.6h1v1.4h2v-11.2h1.5v10.1h1.4v-23h1.5v4.7h2.8v6.1h2v-8.9h2v9.5h2.1v7.7h2v15.6h2.1v6.1h1.7v3.4h1.4v2.7h1.4v-10.6h2.3v10.5h3v-9.3h3v6.2h2v-3h3.1v-.7h1.6v-15.1h1.3v-4.3h1.2v-16.2h1.2v1.8h1.3v-12.4h2.1v8h2v2.8h1.8v-19h1.9v20.3h6v-11.3h1.3v1.3h2.1v-12.8h5v11h3v-.6h4v19.4h4v-7.6h4v14.7h4.1v5.1h2v-28.3h3v.3h1.2v-.2h1.2v3.5h1.3v-15.4h1.4v1.9h1.9v-11.2h2.4v13.3h3.1v-.8h.9v17.9h1.2v-20.6h1.9v8.2h2v25.7h6.3v-35.3h4v20.8h5v18.9h4v1.2h8v-1.1h.9v-14.6h.8v1.4h.8v-5.7h.8v-18.1h.9v8.7h.8v-9.9h.9v4.3h1.2v-2.6h1.9v-22.2h2.8v2.2h2v.7h2.8v8h2v.5h1.1v7h1.2v5.5h2.9v-6.5h2.4v-.3h2.5v-9.7h3.2v-10.9h4.8v-2.1h5v22.4h2.9v14.6h.8v11.9h.8v7.2h.8v-4.2h.8v10.8h1.1v-7.9h1.1v19.2h1.4v-24.5h3v24.2h1.3v-12.6h1.9v-21.1h3v.4h9v3.3h3v12.9h4v-7.9h1.2v-5.7h1.1v12.5h1.1v-20h1.3v-15.9h1.9v13.7h3v-12.1h3.6v3.8h1.4v32.6h1.3v-17h1.2v11.8h1.1v-4.4h1v6.8h1v-.9h.9v-.4h1.3v1.5h2.7v20.2h4v-14.1h3v3.3h.8v-10.7h.8v-16.4h.8v-1.3h.8v-.9h1.5v-2.5h9v14.2h8v7.9h1v-15.6h1.7v4.1h5v.7h5v3.4h7v12.9h2.1v5.4h2.1v-8.3h2.1v12.9h3.9v-3.4h3v8.1h5v-21.7h.8v-3.3h.9v-9.2h.8v-3.2h.8v3.1h.8v-20.8h1v3.8h1.6v-1.5h5v13.6h2.5v23.1h.8v-4.6h.8v-6.8h.8v26.4h.8v3.5h.9v-31.6h1.3v35.5h1.2v6h1.2v-8.4h1.7v18.5h5.6v-1.4h2v-1.3h2v-8h3v-4.9h1.5v-4.9h1.2v1.8h1.3v-12.2h2.2v-21.4h7v23.8h4v-21.8h2v18.6h1.6v-14.4h1.7v-9.4h1.6v-2.2h.9v-18.4h.8v-2.3h.8v-13.4h.8v4.7h1.5v18.2h4v2.1h1.4v3h6v.4h1.6v20.3h.8v-1h1.1v3.7h1.7v5.4h2v-6.7h3.3v15.6h2v-14.1h.8v32.1h.8v-9.3h.8v14h.8v-4.3h2.3v3.2h1.8v-4.8h1.8v-7.6h1.4v-5.5h.8v-8.5h.8v-35.8h.8v10.5h1.1v-2.4h2v3.4h7v36.9h1.4v2.2h3.6v4.3h2v2.8h5v-5.6h6v-11.3h2v-8.7h1.7v-1.5h4.4v29.3h2.1v-8.4h2.4v-20.2h1.6v12.1h3v14.5h1v13.3h1.5v-22.5h4v-2.5h2.8v12.9h1.7v-12.9h1.8v7.8h3v5.6h2v-2.8h4v13.4h4v-16.4h1.8v-7.7h2.6v-10.3h2v7.7h3.6v-12.9h1v-11.4h1.4v.5h7v-3.1h.8v34.7h3.6v9.7h2v3.9h4.4v1.1h7v4.6h2v-7.5h7v-20.2h8v18.9h.8v-11.9h.8v-15h.9v8.1h1.6v2.1h5v21.6h.9v-5.9h2.4v-20.9h3.6v16.5h5.1v13.1h4.7v-6.2h3v-18.4h8v21.7h6v-30.7h.8v-4.4h.8v-11h.8v-1.5h1.2v4h5v5.9h5v7.8h.8v-3.2h.8v12.2h.8v24.1h.8v2h.8v1.4h1.3v-4.6h4v7.2h4v-3h1h0v94.7h-4.1v-3.9h-8v-.4h-5v16.6h-3.6v-12.8h-2v-11h-3v-2.8h-2v-3.2h-6v3.2h-9v5.5h-4v1.2h-7v-2.5h-7v5.1h-7.7v-5.2h-6v2.6h-8v6.6h-6v-18.4h-7.7v9.8h-7v3.5h-6v-2.8h-6v2.1h-5v-1.3h-8v3.7h-5v-4.6h-4v2.7h-5v-5.3h-7v-6.2h-2v4.8h-8v3h-2v.1h-6v-1.5h-4.8v-5.4h-4.7v-1.5h-6.3v9.6h-6.2v3h-9v3.5h-2.8v-8.9h-2.8v-10.8h-9v2.7h-3v-.9h-4v3.7h-4.7v4.7h-9v3.6h-2v-.8h-2v1.6h-4v2.2h-3.3v-3.3h-3.2v-5.9h-3.5v-6.1h-2v2.2h-8v5.1h-7v11.9h-2v-2.7h-3v-8.6h-8v-.7h-2v-3.8h-7v-7.1h-7v7.4h-8v1.2h-5v-5.1h-2v7.7h-5v.8h-4.8v-9.1h-5v-2h-8v-6.8h-3v.2h-9v-.9h-7v5.9h-7v3.2h-8v.9h-6v-.8h-2v-2.3h-3v-7.8h-8v-4.7h-8v4.7h-3v5.7h-3v-4.4h-5v1.1h-6v1.9h-3v5.6h-4.8v3.4h-5v-6h-5v4.8h-2v-.8h-4v3.1h-3v-3.1h-6v6.6h-4v-7.3h-2v16.3h-2v-22.2h-4v-2.9h-7v-4.8h-9v2.1h-4v-1.2h-4v2.1h-4v3.3h-8v8.9h-2v-2h-5v.8h-7v-.7h-3v-7.3h-7v1.6h-5v-12.1h-4.1v-5h-2.5v3.8h-2.4v-16.3h-6v3.1h-2v-.4h-5v10.9h-4.8v-1.9h-2v17.8h-9v-.5h-6v1.4h-2v-.9h-4.7v-6.3h-6v1.4h-3v-7.8h-9v2.9h-5v8.3h-9v.1h-7.7v-14.8h-6v10.2h-7v-2.3h-4v-6.6h-7v10.4h-4v-.1h-5v6.1h-3v-5.4h-6.7v2.4h-5.6v-5.2h-5.7v-4h-8v9.5h-4v-3.5h-2v1.6h-3v-4.6h-8v-.2h-2v3.1h-4.8v10.2h-4v-17.5h-1.5v-10.1h-3.5v-8.5h-4v1.7h-5v-.8h-1.1v8h-1v15.1h-1v-2.1h-9v-1.9h-7v-7.1h-9v6.7h-6v.2h-5v-4.5h-4.5v-1.6h-8v-4.9h-5v-4.4h-5v3.3h-1.7v-6.9h-1.3v4.9h-1.2v-13.8h-3v-.8h-2.2v11.9h-2.1v1.6h-4.8v6h-3v5.6h-9v-6.6h-7.3v-1.2h-2.7v-2.6h-2.7v-13.1h-2.8v-1.9h-5.3v-1.4h-2.1v7.5h-2.1v3.2h-3.4v5.9h-4.8v8.1h-2.9v-15.6h-9v-1.2h-7.3v-.4h-1.9v4.7h-2v6.3h-7v3.1h-4v.1h-3.2v-6.7h-2.3v-5h-1.8v-7h-1.8v-11.7h-9v-3.1h-2v.4h-1.9v3.4h-5v8.9h-7v1.5h-9v1.1h-8v-8.7h-3v9.6h-3v-2.4h-6v-2.3h-5v-.8h-4v-3.6h-4v.1h-6v3.7h-5v-1.2h-5v6.1h-3v4.8h-3.5v7.6h-8v0h-7.2v-3.3h-5.5v-3.1h-5v-6.1h-7v3.5h-6v-10.5h-2v10h-4v-8.7h-6v-8.4h-6v-2.4h-3v-2.6h-6v4.4h-5v-4.6h-7v-.4h-2v-5.4h-5v4h-7v-5.3h-2v2h-5v-3.4h-5v6.7h-7v-13.3h-6v4.9h-4v.5h-2v.9h-5v-6h-9v-1.2h-4v-.1h-6v2.3h-8v-.8h-9v5.2h-4v-1.6h-4v-5.1h-4.8v-1.1h-2.4v-1.3h-8v6.3h-2v-14.3h-7v4.3h-9v4.7h-4v-5.3h-6v-.3h-4v-5.7h-3v-5.5h-2v12.9h-5.9v-16.8h-7v-3.3h-8v3.2h-6.3v2.7h-3.2v8.1h-8v.5h-2v-6.9h-5v1.2h-3.9v14.2h-2v-22h-4v4.4h-4v-8.6h-2v-8.3h-5v0h-9v13.7h-2v-5.3h-5.6v-7.7h-5.7v-8.5h-5.3v3.2h-3v-3.5h-2v-5.5h-3.6v-3.5h-3.6v-8.8h-3v-5.5h-2.5v-3.3h-2v-1.1h-2.4v-8.4h-2.5v-.2h-9v-5.4h-2v4.7h-1.7v13h-4.7v-2h-4v-7h-5.5v-7h-4.2v-.1h-2v-1.9h-2v-4.5h-2v-6.3h-9v-2h-2v-8.3h-2v1h-1.6v-12.1h-1.6v2.5h-3.5v-7.7h-7v-1.8h-2v-3.3h-3.2v1.1h-1.5v-2.3h-1.6v-6.6h-1.6v-10.1h-4v-9.5h-5.4v-1.5h-2v-4.4h-3.1v14.6h-3.1v-22.7h-3.1v-7.8h-2v2.8h-5.5v-6.5h-3v10.3h-1.3v-12.5h-.8v-6.7h-.8v-6.2h-.8v-8.1h-.8v-3.3h-.8v-10.2h-1.4v-7.5h-1.6v-1.6h-1.7v-10.8h-2.9Z" fill="#2ca02c" fill-opacity="0.15" stroke="#2ca02c" stroke-opacity="0.22" stroke-width="1.1" stroke-linejoin="round"/>
<path d="M206.5,-17.7h5v1.7h4v-11.7h9v9.7h7v-13.5h6v8.4h9v3.6h9v-1.8h9v6.7h3v.1h9v-12.7h5v6.1h2v10.9h9v1.4h8v-7.3h2v-2.6h2v15h.8v10.4h.8v-1.4h.8v19.7h.8v-1.3h.8v14.4h.8v.4h.8v11.1h.8v5.7h.8v10.7h.8v12.4h.8v-.4h.8v15.6h.8v19.5h.8v-8.4h.8v22.7h1v-13.8h2.4v23.5h1.6v-8.2h1.3v13h1.2v6.7h2.2v-8.9h4v-6.4h2.5v19.7h.8v7.3h1v3.6h1.8v4.3h4v6.3h4v-1.4h.8v-29.8h.8v2.7h.8v-14.2h1v-4.4h2v.9h5v-15.1h4.8v27.9h.8v9.9h.8v5.6h.8v-8.7h5v15.7h1.5v-13.4h4.3v22.7h3v8.6h1.5v4.2h.9v6.7h.8v1.3h.8v16.3h.9v-3.2h.9v.6h1v8.6h1v9.6h1v4.9h1.6v-8.4h4v-5.2h3v-10.3h2v-22.8h.8v-24h.8v24.1h1.4v7.5h5v15.1h1.8v-12.7h1.6v0h4.5v35.4h.8v-7.3h1.1v5.4h3v-.4h5v-51.3h.8v2.5h.8v-.6h1v-6.7h6v15.6h1v1.7h1.8v-10.8h2.2v43.4h.8v.7h.8v12h.8v-11.9h1.1v14.1h2v3.3h2v-1.9h1.6v-28.4h.8v6.6h.8v-6h2.1v5.9h2v-8.5h4v-.9h2v19h.8v24.8h.8v2.3h.8v7.8h.9v-1.9h2.4v6.8h2.4v-.9h3v-7.3h2.1v-3.3h2v-1.1h2.1v-7.6h2.3v-3.7h2v-5.3h2v-1.4h5v-9.5h2.2v-10.9h2.2v16.7h1.6v9.7h.8v-1h.8v1.1h1.3v2.4h4v13.2h1v7.6h.8v13.2h.8v4.4h.8v-.9h2.9v-4.1h3v-22.3h6v18h3v11h4.8v1.3h5.6v-8.4h3v-24.4h9v17.8h2v-1.9h6v-.2h4.8v-8.6h3.3v-8h2.9v23.2h2.9v-.3h2.9v3.6h2.9v13.1h4v-2h9v-20.4h1.3v0h1.2v15.8h1.2v.5h1.2v11.1h2v-10.3h2v-4.1h4v3.8h6v10.3h1.3v7.9h1.2v12.9h1.3v3.9h3v-8.8h4v-5.7h3v-14.8h2v14.8h1.8v11.8h1.7v3.9h1.8v1.2h1.8v5.1h2.6v4.7h2.2v-7.8h2.1v-20.3h2.2v-21.8h2.2v10h3v13.5h9v-5.8h2v-12.7h3.8v-5.3h3.9v-12.9h3v6.1h2v11.6h2v7.2h1.6v-1.1h1.7v11.5h1.6v4.9h1.7v2.4h1.6v-2.1h1.6v20h2v-2.5h2v-13.7h3.2v-13.5h3.2v8h4v-5.1h6v2h7v16.5h.9v12.6h1.2v-4.5h2.3v17.2h4.8v-8.8h1.4v-15.3h.9v4.8h.8v-16.4h.8v3.7h1.1v-.3h1.8v-4.6h5v-9.3h4v9.9h1.7v6.3h1.5v6.1h1.4v12.1h1.5v4.6h2.3v2h6v-8.4h3v.9h2v8h3.9v7.4h3.2v-7.6h3.3v10.3h6.8v14.5h3v-13.3h6v5.4h8v-22.3h2.4v17.1h2.5v-9.1h2.4v-15.9h3v1.9h4.8v7.3h2v-6.4h4.7v-6.7h2v1h4v3.9h6v16.4h9v2.6h6v2.4h8v-4.1h5v-11.6h4v18.9h6.3v3.3h2.4v-11.3h3.2v5.5h4v-21.5h8v12.3h4v7.5h8v-5.6h3v1.3h3.2v8.4h1.1v11h1v-3.1h1.1v9.3h1.1v-1.4h1.4v10.5h3.1v3h6v10.7h3v-5.3h8v-5.2h6v-2h5.9v-15.2h5.9v-13.7h.9v-5.8h1.4v2.8h3v1.7h6v-15.8h8v11.6h4v2.1h4v-12.2h3v18.4h2v-6.3h1.4v21.3h1.2v-3.3h1.4v.3h2.6v-.5h2v3.7h7v-17.4h4v2.8h4v-10.2h4.6v7.7h3.6v-28.6h2v11.8h6v23.9h3v13.5h.8v13.4h.8v-.4h1.6v2.4h2v5.2h3.3v2.4h3.2v-3.6h7v.1h4v-49.6h2v24h5.5v-28.7h1.1v5.6h2.8v-24.2h2.9v19h2.5v-32h1.4v6.9h1.4v-2.6h2.5v9.3h1.8v10.2h1.8v-2.7h1.9v-1.6h3.4v6.4h8v20.3h.8v-11h.8v21.7h.8v3.3h.8v-.7h.8v6.7h.9v2.8h.8v10h.9v2.5h1.2v-.5h1.6v12.2h1.6v-2.8h3v-.8h3.5v-8.2h3.4v.2h2v-10h3.4v1.3h3.3v3.1h6v-4.2h4.4v17.5h2.1v-1.2h2v-15.7h4v7.2h2.3v-24.1h.8v9.8h1.1v-4.1h2.3v-12.9h4.8v17.8h4.8v2.7h1.5v10.1h1.3v2.4h1.2v8.5h1.2v3h1.3v2.9h2v-1.4h2.5v-3.7h2.1v-20.5h2.1v6.1h1.8v-8.2h1.6v-8.2h2.1v10.9h5v10.8h3.2v-5.4h3.5v3.7h4.8v14.5h4.8v-18.7h1.2v-3.5h1.2v4.5h7v19.9h4v8.1h3v-5.5h7v-2.8h2.1v3.4h1.5v-9.3h1.5v-2.2h1.4v-8.5h1.8v-1.4h2.5v-19.2h2.4v-.7h2.4v-7h3.5v14.9h1.4v7.7h1.4v3.8h1.2v.1h1.1v5.7h1.1v-4h1.1v29h1.9v-14.3h7v-2.2h3v-8.5h7v7.5h2v2.6h3v-1.8h3v1.2h6v-13.7h3.6v11.9h1.7v8.3h1.4v3.5h1.9v-15.5h6.7v14.2h5v-10.9h.9v-.1h.8v-12.1h.9v-3.4h1.4v2.5h5v-7.9h5v12.2h1.8v11.6h1.8v5.7h1.9v-9.7h4v-7.5h1.5v-11.9h3v7.7h3v-5.3h6v10.9h4.6v8h1.6v4.7h1.6v9.7h1.8v-8h2v9.9h2.3v.5h8v5.7h5v-5.3h7v13.4h4v0h4.8v.8h2.9v-12.9h2.9v5h4.9v-2.2h5v-21.2h.8v-9.2h.8v-9.7h.8v7.7h1.5v-5.8h7v2.4h3v1.1h4v3.6h2.8v12.9h2.4v8.2h2v-11.2h1.2v-3.5h2.5v9.3h1.1v-11.7h1.3v9.9h9v-.1h2v13h6v-10.3h6.2v12h3.8v7.1h3.7v-6.6h3.7v-4.7h2.8v-9.9h2.7v-6.6h4.2v3.1h6.3v5.3h2v-.6h3v-12h8v15.9h1.6v2.9h1.5v9.5h1.4v-2h1.5v13.8h2.3v-15.4h6v12.5h2.9v-4.9h1.7v-22.4h1.8v7.1h1.8v3.7h1.8v-12.1h1.9v.2h2v15.1h9v-5.8h3.8v-.3h3v-3.5h1.1v-5.1h.8v-4.5h.8v-18.8h1v8.1h1.8v-30.1h3v25.3h7v15.1h.8v8.6h.8v11.1h.8v4.6h1.4v-14h5v12h7v-7.5h2v-6.3h2.4v-11h2.6v6.1h1.4v14.4h1.2v7.3h1.1v.8h1.1v3.9h1.2v3.9h3v-7.2h1.5v-3.8h1.5v1.1h1.5v-16.7h2.1v12.1h6v-25.9h3v27.6h1v-2.9h.8v19.6h.9v-13.2h1.2v-21.8h4.8v21.2h4v-4h8v7.6h8v-4.9h3.8v-12.7h3.9v9.9h2.3v-20.2h1.5v4.5h1.4v-16.4h2.3v-.8h6v4.2h4v4h1.4v12.3h1.4v-9.5h2.2v12.9h1.7h0v83.9h-2.2v.7h-6v-4.6h-6v.2h-6v9.1h-6v0h-8v-3.2h-3v4.9h-3v-3.1h-6v-2.7h-6v-1.7h-2.5v.7h-8v5h-5v-.6h-4v-3.1h-4v4h-4v-.9h-2v-4.1h-9v-2.4h-8v1h-3v-7.1h-7v-2.4h-3.6v3h-3v3.8h-2.9v-5.6h-2.9v-6h-7v2.6h-5v1.7h-3v-.2h-5v6.3h-4v1.6h-7.4v-.9h-5v-4.1h-2v-1.2h-2v1.8h-9v-1.2h-4v.2h-5v3.1h-6v.4h-4v1h-9v-1.7h-5v.5h-2v-10h-3v8h-2v-.1h-5v0h-7v-.1h-5v-2.5h-7v-1.6h-9v1.8h-7v3.4h-3v0h-3v-1.6h-4v1.7h-5v.7h-6v-3.1h-8v2.5h-5v-.1h-7v-3.3h-6v-.9h-3v-.5h-2v-.5h-5v.8h-4.8v-4.8h-4.7v-6.3h-4.8v6.9h-5v-1h-2v2.6h-4v2.5h-8v.1h-5v.9h-2v-11.7h-6v-1.9h-6v3.8h-6v-.3h-5v2.1h-2v2.9h-2v-.4h-9v2h-4v3.8h-7v-2.2h-8.8v-6.4h-7.4v-2.7h-6v-4.7h-6v-.6h-6v5.7h-5v-2.7h-8v4.3h-6.7v-3.5h-5.4v6.6h-4v2.1h-4.4v-4.2h-4v-6.9h-3v-3.6h-2.9v7.8h-2.9v5.8h-7v7.6h-5.2v-21.7h-3.6v1.7h-2v-5.4h-8v.8h-2.8v8.5h-2.8v1h-6v-.2h-3v-2.1h-7v7.1h-5v1.6h-9v.3h-9v-3.6h-5.9v-.8h-4v-1.9h-5v-6.6h-3v-2.3h-3v0h-3v6h-7v.9h-7v-3.7h-7v-.9h-4v-2.8h-2v-1.2h-6v1.4h-6v-.4h-6v-2.1h-5.8v-7h-5.9v.2h-7v-8.7h-2v5.9h-2.9v4.3h-3.8v5.1h-3.1v-3.8h-2v-5.9h-2v-6.1h-2v6.9h-5v1.5h-4.4v.7h-2v5.9h-9v.6h-7v-.9h-5v-.3h-2v.4h-2.4v-13.8h-5v-1.3h-5v2.9h-7v-2.1h-7v4.5h-8v2.1h-5.7v5.4h-6v-.8h-4v-3.5h-4v-3.7h-3v3.2h-3.1v2.7h-2.9v11.2h-5.4v-13.9h-6v-2.4h-4v-3.2h-8v-1.6h-5v1.5h-5v1h-6v-8.8h-7v3.6h-2v-8.9h-3v5.1h-4v1.1h-9v-5.7h-8v2.1h-5v-.5h-5v4.7h-9v-4.6h-3.7v7.8h-3.6v-.2h-6.3v-.7h-5v-9.6h-6.2v5.3h-5v-6.1h-7v2.8h-2v-1.1h-2v2h-5.3v-1.4h-4.8v-2.2h-4v-7.3h-7v-2.4h-2v-4.5h-2v3.7h-9v-5.5h-7v1h-3v-2.2h-4v.7h-3.2v4.7h-5v.4h-2v-5.8h-6v2.7h-3v4.4h-4.8v.3h-4v1.9h-5v-3.8h-3v-5h-7v-9.4h-2v6.9h-3.2v9h-6.7v-6.9h-6.7v-3.6h-3v-2.2h-3v-3.9h-2v1.9h-5v-1.1h-8v-3.4h-9v-2.7h-2v-3h-6v1.3h-4v-3h-7v3.2h-6v-5.8h-8v-3.2h-7v-.2h-3v-3.2h-6v1.2h-4v-6.8h-4v1.2h-4v1.9h-7v-1h-6v-2h-7v.2h-4v-2.1h-3v-4.9h-7v3.2h-5v.6h-8v-1.5h-2v-2.8h-2v-.2h-7v-1.2h-7v-1.8h-3v-2.4h-4v-3.2h-6v.3h-4v-2.4h-7v-5.2h-4v-2.8h-7v-4.1h-7.7v-2.1h-6v1.1h-2v-7.9h-7v-1.7h-9v-3.4h-4.9v-7.6h-4.8v-.8h-3v-2.2h-2v-6.4h-4v.8h-3v-7.1h-3v9.4h-3.3v-16.6h-2.4v-5.1h-2.5v-8.5h-6v3.9h-2v6h-5.3v.5h-4.8v4.4h-4v4.9h-6v-.3h-2.4v-11.5h-7v.6h-6v0h-3v.1h-2.1v-3.1h-1.4v-4.7h-1.3v-6h-1.4v-1.4h-1.3v-3.9h-1.8v-9.2h-2.4v-2.7h-2.5v-8.5h-2.4v-4h-2v-3.8h-2.5v-6.7h-3v-5.3h-9v-2.5h-3v4.9h-3.2v8h-3.7v1h-7v5.8h-2.1v-12h-1.4v-5.3h-1.5v-5.8h-1.5v-8.9h-3v1.1h-4v3.5h-4v.2h-2.4v1.9h-4v4.6h-1.1v-2.1h-.8v-6.5h-.8v-7.2h-.8v-14.1h-3.4v-1.9h-3.4v-5.1h-2.7v-3.8h-1.5v-4.8h-1.2v-6.9h-1.2v2.8h-1.1v-9.3h-1.3v-6.4h-2v-7.2h-2.7v-2.7h-3v-8h-5v-2.8h-5.3v-.8h-2.1v-8h-1.6v-4.9h-1.6v-6.4h-1.6v-4h-1.6v-5.2h-1.6v-3.3h-1.5v-6.1h-1.6v-4h-1.4v-3.9h-1.5v-4.3h-1.5v-6.9h-2.9Z" fill="#d62728" fill-opacity="0.15" stroke="#d62728" stroke-opacity="0.22" stroke-width="1.1" stroke-linejoin="round"/>
<path d="M401,-93.5l1.2,.2 1.2,2.3 1.2,2.1 1.2,3.8 1.2-2 1.2-1.4 1.2,1.4 1.2,1.4 1.2,.6 1.2,2.1 1.2,1.3 1.2,3.1 1.2,2.4 1.2,1.9 1.2,.7 1.2,.9 1.2-.7 1.2,0 1.2,0 1.2,1 1.2,1.4 1.2,2.7 1.2,1.9 1.2,.7 1.2-.2 1.2,1.4 1.2,2.3 1.2,2.5 1.2,1.8 1.2,.8 1.2-.1 1.2-.2 1.2,1 1.2,1.7 1.2,1.5 1.2,1.3 1.2,1.7 1.2,1.8 1.2,.7 1.2-.9 1.2-.7 1.2,2.4 1.2,3.5 1.2-.3 1.2,0 1.2,.8 1.2,.4 1.2,1.5 1.2,2.2 1.2,1.4 1.2,.6 1.2,1.1 1.2,.3 1.2,.2 1.2,1 1.2,1.3 1.2,.7 1.2,2.3 1.2,2.8 1.2,3.1 1.2,1.2 1.2,2.5 1.2,.1 1.2-.1 1.2,.6 1.2,1.8 1.2,1.1 1.2-.3 1.2,.3 1.2,.7 1.2,1.4 1.2,2 1.2,1.4 1.2,.6 1.2-.7 1.2,1.3 1.2,1 1.2,1.9 1.2,.9 1.2,2.3 1.2,.6 1.2,.3 1.2,.9 1.2,1.1 1.2,1.4 1.2,2.1 1.2,1.7 1.2,.6 1.2,1.3 1.2,1.5 1.2,1.7 1.2,.7 1.2-.2 1.2,.8 1.2,1.4 1.2,1.7 1.2,.4 1.2,.5 1.2,1.2 1.2,.9 1.2,1 1.2,1.2 1.2,1.1 1.2,1.3 1.2,2.3 1.2,1.4 1.2,1.3 1.2,.8 1.2,2.8 1.2,.9 1.2-1.4 1.2-1.3 1.2,1.2 1.2,1.7 1.2,1.9 1.2,1 1.2,1.8 1.2,1.1 1.2,1.3 1.2,.4 1.2,.6 1.2,1.4 1.2,1 1.2,2.4 1.2,1.5 1.2,1.7 1.2,.3 1.2,.2 1.2-.7 1.2,1.3 1.2,3.8 1.2,2.9 1.2,.4 1.2,1 1.2-.6 1.2-.1 1.2,1.7 1.2,2.7 1.2,.4 1.2-.3 1.2,1.1 1.2,2.9 1.2,1.6 1.2-.4 1.2,1.1 1.2-.1 1.2-.2 1.2,1.1 1.2,.4 1.2-.3 1.2,.2 1.2,.1 1.2,1.2 1.2,0 1.2,1.5 1.2-.9 1.2,1.1 1.2-.4 1.2-.3 1.2,.1 1.2-2 1.2-2 1.2,2.7 1.2,2.7 1.2,.4 1.2-1.8 1.2,.8 1.2,1.7 1.2,1.4 1.2,1.1 1.2,.8 1.2-.3 1.2-.4 1.2-.5 1.2-.4 1.2,.9 1.2-.4 1.2,.7 1.2,1.1 1.2-1.4 1.2,.6 1.2,.6 1.2-.6 1.2,1.7 1.2-1.8 1.2,1.4 1.2,1.9 1.2,1.7 1.2-.7 1.2-.5 1.2-.1 1.2,1.6 1.2-.6 1.2-.4 1.2,.1 1.2-.3 1.2,.6 1.2,.2 1.2-.5 1.2,1.6 1.2,.4 1.2-.2 1.2,1 1.2-.2 1.2-.2 1.2-.2 1.2-.8 1.2,.3 1.2-.5 1.2,1.1 1.2,1.7 1.2,2.5 1.2-1.8 1.2-1.3 1.2-.3 1.2,.8 1.2,1.2 1.2,2 1.2,.4 1.2-.4 1.2-.3 1.2,0 1.2-.5 1.2,0 1.2-.7 1.2,1.9 1.2,2.5 1.2,.2 1.2-1.6 1.2-.3 1.2,1 1.2-.4 1.2-.9 1.2-1.4 1.2-2.1 1.2-.4 1.2-1.2 1.2-.3 1.2,.7 1.2,1.2 1.2-.4 1.2,.1 1.2-.9 1.2,.2 1.2-1.1 1.2,0 1.2-.5 1.2-.3 1.2,.8 1.2,.4 1.2,1 1.2-1 1.2-1 1.2,1.9 1.2,2 1.2-.1 1.2,1.1 1.2,.6 1.2,1.6 1.2,.2 1.2-1 1.2,.3 1.2,1.7 1.2,.1 1.2-.1 1.2-.4 1.2-2.7 1.2-3.4 1.2-.1 1.2,1.7 1.2,1.5 1.2,1.7 1.2,2 1.2,2.5 1.2,2.4 1.2,.2 1.2,1.9 1.2,1.3 1.2,1.3 1.2,1 1.2,.8 1.2,1 1.2,.8 1.2,1.7 1.2,2.4 1.2-.4 1.2-1.3 1.2-.7 1.2,0 1.2-.2 1.2-1.9 1.2-.6 1.2,.6 1.2,1.7 1.2,.2 1.2-.7 1.2-.7 1.2-.8 1.2,.5 1.2,.3 1.2,.2 1.2,2.9 1.2,1.8 1.2,1.2 1.2,2 1.2-3.8 1.2-3.9 1.2-4.5 1.2-4.8 1.2-.8 1.2,2.4 1.2,0 1.2,1.6 1.2,1.3 1.2,1.4 1.2,2.1 1.2,1 1.2,1.1 1.2-.8 1.2-.9 1.2-1.1 1.2-.6 1.2-1.1 1.2-1 1.2,1.2 1.2,2.5 1.2,1.8 1.2,.5 1.2,.7 1.2,1.8 1.2,1.5 1.2,1.2 1.2-.7 1.2-.8 1.2,.4 1.2,.3 1.2,2.7 1.2,.2 1.2-2.4 1.2-2.1 1.2,.1 1.2,.6 1.2-.5 1.2-2.5 1.2-.6 1.2-1.5 1.2-.7 1.2,.5 1.2,1.7 1.2-.6 1.2,1 1.2-5.1 1.2-4.9 1.2-4.6 1.2-4.7 1.2,1.7 1.2,2.4 1.2,.7 1.2,.5 1.2,1.6 1.2,2.1 1.2,1.5 1.2,1.7 1.2,2.3 1.2,2.5 1.2,2.6 1.2,.2 1.2-1.2 1.2,.2 1.2,.2 1.2-.1 1.2,2.7 1.2,.6 1.2,2.3 1.2,.3 1.2-2.2 1.2-2.4 1.2-2.9 1.2,2.4 1.2,3.3 1.2,3.8 1.2,1.2 1.2,3.5 1.2,1.1 1.2-.5 1.2-3.5 1.2-1.4 1.2-1.8 1.2-.5 1.2-.6 1.2,.1 1.2,.6 1.2-3.3 1.2-3.2 1.2-.4 1.2-.5 1.2-1.1 1.2,.1 1.2-1 1.2-.9 1.2,.2 1.2,2.5 1.2,1.5 1.2,.1 1.2,.2 1.2,2.1 1.2,3.3 1.2,2 1.2,.3 1.2,1.4 1.2,1.5 1.2,2.7 1.2,3.1 1.2,2.7 1.2,1.9 1.2,1.7 1.2,.9 1.2,.9 1.2,2.9 1.2,1.7 1.2,.9 1.2-2.9 1.2,.1 1.2,.5 1.2-.3 1.2-.3 1.2,.3 1.2,.5 1.2-.3 1.2-1.9 1.2-1.2 1.2,.7 1.2,1 1.2,2.1 1.2,2.2 1.2,1.9 1.2,1.5 1.2,1.6 1.2,2.2 1.2,1.3 1.2,.7 1.2,.2 1.2-1.3 1.2-1.8 1.2-.3 1.2-1.3 1.2-.8 1.2-1 1.2-2.4 1.2-2.9 1.2-2.3 1.2-2.3 1.2-3.2 1.2,0 1.2,.1 1.2-.9 1.2,.9 1.2,1.1 1.2,1.3 1.2-1.3 1.2-1.4 1.2,1.3 1.2,1.3 1.2,.9 1.2,.4 1.2,1.5 1.2,.6 1.2,1.5 1.2,4.6 1.2,3.5 1.2,2.4 1.2-1.4 1.2-1.2 1.2-2.2 1.2-.2 1.2-.2 1.2,1.1 1.2,1 1.2-.3 1.2-2.3 1.2,.1 1.2,3.1 1.2,1.2 1.2,.2 1.2,.3 1.2,.6 1.2,1.7 1.2,.8 1.2,1.4 1.2-2.8 1.2-4.4 1.2-5.1 1.2-2.5 1.2-3.4 1.2-3.4 1.2-3.4 1.2,.1 1.2,3.6 1.2,3.2 1.2,3.4 1.2,1.2 1.2-1.5 1.2-.7 1.2-.2 1.2,.9 1.2,.5 1.2,.4 1.2,1.4 1.2,2 1.2,2.3 1.2,3 1.2,.4 1.2-.4 1.2-5.9 1.2-7.3 1.2,.2 1.2,2 1.2,3.3 1.2,2 1.2,2.2 1.2,1.7 1.2,2.1 1.2,3.1 1.2,2.9 1.2,.4 1.2,.4 1.2,1.7 1.2,.9 1.2-.5 1.2-1.2 1.2,.2 1.2,0 1.2-1.2 1.2-4.8 1.2-5 1.2-2.9 1.2-.2 1.2,2.9 1.2,2.3 1.2,2 1.2,0 1.2-1.9 1.2,2.5 1.2,3.1 1.2,3.4 1.2,4.1 1.2,1.5 1.2,.5 1.2,0 1.2,.7 1.2-.3 1.2-.2 1.2,.4 1.2,1.3 1.2-.7 1.2-.5 1.2,.8 1.2-1.5 1.2-2.5 1.2-4.1 1.2-3.1 1.2-3.6 1.2-1.5 1.2,3.8 1.2,2.3 1.2,1 1.2-.9 1.2,.3 1.2-1.1 1.2,.5 1.2,.4 1.2,.3 1.2-.2 1.2-2.7 1.2-4.5 1.2,.1 1.2,1.6 1.2,1.2 1.2-.8 1.2-4.5 1.2-2.8 1.2-.1 1.2,2.5 1.2,1.7 1.2,2.2 1.2,3.6 1.2,4.5 1.2,.4 1.2,1.1 1.2,1.8 1.2,1.6 1.2,2.6 1.2,3 1.2,0 1.2,.1 1.2,.6 1.2-1.6 1.2-3.4 1.2-2.2 1.2,.7 1.2,1.8 1.2,3.6 1.2,2.1 1.2,1.9 1.2-1.2 1.2-1.8 1.2,2 1.2,2.8 1.2,1.6 1.2-.5 1.2,.8 1.2,3.1 1.2,3 1.2-1 1.2-1.4 1.2-.8 1.2-1 1.2,.6 1.2,.8 1.2,.2 1.2-1.5 1.2-2 1.2-1.6 1.2-1.4 1.2-1 1.2,1.3 1.2-1.3 1.2-.8 1.2-.3 1.2-1.1 1.2,2.2 1.2,3.8 1.2-1.6 1.2-1.7 1.2-.9 1.2-1.1 1.2,.2 1.2,1.9 1.2,2 1.2-1.6 1.2-.2 1.2,1.4 1.2,1 1.2,.3 1.2,1 1.2-.1 1.2-.1 1.2,.3 1.2,.2 1.2,.9 1.2,2.2 1.2,1.3 1.2,.5 1.2,.3 1.2,1.9 1.2,2.2 1.2,.4 1.2,1.4 1.2-.1 1.2-1.7 1.2,.7 1.2,1.3 1.2,1.4 1.2-2 1.2-1.6 1.2,.5 1.2,.8 1.2-1.8 1.2-1.9 1.2-3.2 1.2-2.3 1.2-1.6 1.2,.3 1.2,.6 1.2,2.4 1.2,.9 1.2,.7 1.2,.1 1.2,2 1.2,1.9 1.2,.4 1.2-1 1.2,1.1 1.2-.5 1.2,2.5 1.2-2.9 1.2-2.2 1.2-3.5 1.2-2.4 1.2-5.2 1.2,.4 1.2,2.7 1.2,2.5 1.2,.9 1.2,.8 1.2,1 1.2,1.9 1.2,.9 1.2,1 1.2,.3 1.2,.2 1.2,.1 1.2-1.7 1.2-1.3 1.2-1.5 1.2-1.3 1.2,1.1 1.2,2.2 1.2,2.1 1.2,2 1.2,.8 1.2-2 1.2-3.1 1.2,.9 1.2,2.4 1.2,.4 1.2-3.7 1.2-3.9 1.2-3.8 1.2-3.8 1.2,1.7 1.2,2.2 1.2,1.3 1.2,1.8 1.2,2.5 1.2,2.7 1.2-.9 1.2,.4 1.2-.2 1.2,.7 1.2,3 1.2,2.4 1.2-1.7 1.2-2.9 1.2,0 1.2,2.2 1.2-.9 1.2-1.3 1.2,2.2 1.2,4.3 1.2,3.3 1.2,.9 1.2,1.1 1.2,1.2 1.2,.1 1.2-1.1 1.2-.6 1.2-.4 1.2,.6 1.2-1.1 1.2-1.5 1.2-.1 1.2,.8 1.2,.5 1.2-.5 1.2,.3 1.2,1.1 1.2,.8 1.2,2 1.2,2.5 1.2,.6 1.2,.2 1.2-.6 1.2-.5 1.2,0 1.2,.4 1.2-.3 1.2-2.2 1.2-.7 1.2-2.1 1.2-1.2 1.2,0 1.2-.1 1.2-.6 1.2-1.4 1.2-.7 1.2-1.4 1.2,.5 1.2,1.1 1.2,2.1 1.2,2.8 1.2,1.9 1.2-1.4 1.2-2.2 1.2-1.6 1.2-2 1.2-3.3 1.2-2.7 1.2,1.5 1.2,1.9 1.2,1.7 1.2-3.8 1.2-5.7 1.2-3.5 1.2-4.2 1.2,.6 1.2,2.4 1.2,2 1.2,3.5 1.2,.8 1.2-.6 1.2,.5 1.2,.4 1.2,2.3 1.2,1.9 1.2,2.6 1.2,2 1.2,.6 1.2,.7 1.2,.4 1.2,.1 1.2,.8 1.2,1.9 1.2,.2 1.2,.3 1.2-.2 1.2-.2 1.2,.4 1.2,1.2 1.2-.6 1.2,.9 1.2,2.1 1.2,2.3 1.2,.5 1.2-.9 1.2-3.2 1.2-3.8 1.2-2.8 1.2-1.2 1.2-.7 1.2-1.7 1.2-2 1.2-2.5 1.2-1.8 1.2-1.1 1.2-1.3 1.2-4.6 1.2-5.1 1.2-1.1 1.2-.8 1.2-1 1.2,.6 1.2,2.7 1.2,2.5 1.2,2.1 1.2,3 1.2,2.9 1.2,1.2 1.2,.2 1.2,2.6 1.2,1.5 1.2,2.9 1.2,2.8 1.2,2.6 1.2,2.7 1.2,1.1 1.2,2.3 1.2,1.3 1.2-.7 1.2-.4 1.2-.3 1.2,.4 1.2,2.9 1.2,2.9 1.2-2.1 1.2-4.4 1.2-3.4 1.2-1.9 1.2,2.7 1.2,2.7 1.2,2.8 1.2-.3 1.2-1.8 1.2,.5 1.2,.5 1.2,.1 1.2-.8 1.2,.8 1.2,.6 1.2-.8 1.2,1.2 1.2-.1 1.2,1.7 1.2,1.2 1.2-.3 1.2-.3 1.2-1.2 1.2-2.3 1.2-.2 1.2,1.1 1.2,.1 1.2,1.2 1.2,.3 1.2,.8 1.2,.7 1.2,1.2 1.2,.5 1.2,.6 1.2-2.5 1.2-3.5 1.2-2.9 1.2-.4 1.2,2.9 1.2-1 1.2,.5 1.2-.3 1.2,.8 1.2-1.1 1.2-2.3 1.2-1.3 1.2-1.5 1.2-.4 1.2-1.2 1.2-.4 1.2-.7 1.2,1.4 1.2,1.3 1.2-.2 1.2,2.2 1.2,3.3 1.2,2.6 1.2,3.6 1.2,1.1 1.2-.7 1.2-1 1.2,2 1.2,1 1.2,2.6 1.2,2.1 1.2,1.3 1.2,1.1 1.2,1.1 1.2-.3 1.2,1.5 1.2-5 1.2-4.1 1.2-2 1.2-2.9 1.2-4.6 1.2-1.6 1.2,1.5 1.2,.5 1.2,1.8 1.2,2.9 1.2-.2 1.2,.8 1.2-.2 1.2,.9 1.2,2.2 1.2,2.5 1.2,.3 1.2-1.7 1.2-3.5 1.2-.4 1.2-1.6 1.2-2.5 1.2,.4 1.2,.9 1.2,1.6 1.2,.9 1.2,.3 1.2,.6 1.2,1.4 1.2,1.2 1.2,.2 1.2,.5 1.2,.4 1.2,2.1 1.2,1 1.2,1.8 1.2-1 1.2-1 1.2-.1 1.2-1 1.2,0 1.2-.3 1.2,2.1 1.2,1.7 1.2,1.4 1.2,.7 1.2,.6 1.2,1.1 1.2,1.3 1.2,.4 1.2,.7 1.2,.3 1.2-1.4 1.2-2.1 1.2-.3 1.2,.2 1.2-3.4 1.2-1.9 1.2,2.4 1.2,3.8 1.2,.6 1.2-.6 1.2-.4 1.2-1.1 1.2-3.1 1.2-8.7 1.2,1 1.2,1.9 1.2,1.7 1.2-1.7 1.2-1.1 1.2,2.3 1.2,1.7 1.2,2.4 1.2,2 1.2,2 1.2-.1 1.2,1.3 1.2,.1 1.2-3.9 1.2-7.4 1.2-1.4 1.2-1.5 1.2-.2 1.2,2.5 1.2,.7 1.2-.2 1.2-1.1 1.2-1.3 1.2,.4" fill="none" stroke="#1f77b4" stroke-width="5.6" stroke-linejoin="round" stroke-linecap="round"/>
<path d="M376.5,82l1.2,2.3 1.2,2.5 1.2,1.8 1.2,3.1 1.2-2.8 1.2,0 1.2,0 1.2,.1 1.2,.6 1.2-.7 1.2,0 1.2,1 1.2,.1 1.2-.7 1.2-.3 1.2-.5 1.2-.5 1.2-.8 1.2,1.6 1.2,3.6 1.2,3.4 1.2,4.5 1.2,4 1.2,2.2 1.2,2.3 1.2,2.4 1.2,3.9 1.2,4.2 1.2,1.8 1.2-2.1 1.2-2.9 1.2-2.8 1.2-1.2 1.2,.9 1.2,.6 1.2-.6 1.2-.8 1.2-.9 1.2-1.4 1.2,.2 1.2-.4 1.2,.7 1.2,.1 1.2-1.4 1.2,.9 1.2,.5 1.2,2.3 1.2,.4 1.2,0 1.2-.3 1.2-3.8 1.2-2.8 1.2-1 1.2,5 1.2,3 1.2,4.1 1.2-1.8 1.2-4.5 1.2,2.2 1.2,3.2 1.2,2.3 1.2,2.7 1.2,3 1.2,4 1.2,2.5 1.2,2.8 1.2,1.8 1.2,.8 1.2,1 1.2,0 1.2,.1 1.2,2.3 1.2,2.3 1.2,1 1.2,1.2 1.2-.1 1.2,0 1.2-.7 1.2-.8 1.2,.3 1.2,1 1.2,1.6 1.2,2.6 1.2,2.2 1.2,1 1.2,2 1.2,2.2 1.2,1.7 1.2,.3 1.2-1.7 1.2,.6 1.2,1.3 1.2,1.2 1.2,.9 1.2,.3 1.2,1.6 1.2,1.1 1.2,.6 1.2-1.2 1.2,2.5 1.2,2.6 1.2,1.3 1.2-1.8 1.2,.5 1.2,2.5 1.2,.9 1.2,.4 1.2,0 1.2,.4 1.2-.3 1.2-.7 1.2-.6 1.2,0 1.2-.3 1.2,1.1 1.2,1.5 1.2,1.6 1.2-.9 1.2,1.2 1.2,1.1 1.2,2 1.2-.7 1.2,0 1.2,1.2 1.2,.4 1.2,.7 1.2,.6 1.2,1 1.2,.2 1.2,.6 1.2-1.5 1.2-1.2 1.2,1.9 1.2,1.1 1.2,1.3 1.2,1.3 1.2,0 1.2-2 1.2,1.6 1.2,1.7 1.2-2.9 1.2-2.5 1.2-3 1.2-.8 1.2,1.6 1.2,.5 1.2,1.2 1.2,.9 1.2,.6 1.2,2.4 1.2,.9 1.2,1.6 1.2,.9 1.2,1.2 1.2,1.5 1.2,.3 1.2,1.1 1.2,1.3 1.2,1.5 1.2,2 1.2-.9 1.2-1.1 1.2-.2 1.2-1.4 1.2-.9 1.2-1 1.2-.5 1.2,.5 1.2-.1 1.2-1.2 1.2-.5 1.2,2.1 1.2,2.2 1.2,.9 1.2,.5 1.2-.7 1.2-1.1 1.2-3.8 1.2-2.5 1.2-1.2 1.2,.2 1.2-.2 1.2,.5 1.2-.7 1.2-.5 1.2-.6 1.2,3.8 1.2,3 1.2,3.1 1.2,.1 1.2-.3 1.2-.6 1.2,1.9 1.2,3.3 1.2,3.7 1.2,1.9 1.2,.5 1.2-.2 1.2-1.2 1.2-1.4 1.2-2.1 1.2,.3 1.2,2.7 1.2,1.6 1.2,3.2 1.2,1.6 1.2,2.3 1.2,1.6 1.2-.1 1.2,0 1.2,2 1.2,.9 1.2,1.3 1.2,1.6 1.2-.3 1.2-.9 1.2-.4 1.2,1.8 1.2,2 1.2,2.4 1.2,1.8 1.2-.3 1.2-4.1 1.2-3.6 1.2-1.7 1.2-1.4 1.2,.8 1.2,2.6 1.2,3.1 1.2,.9 1.2,.5 1.2,1.2 1.2,3.4 1.2,1.7 1.2-.3 1.2,.3 1.2,1.2 1.2,1.2 1.2,1 1.2,1 1.2,.1 1.2-1.2 1.2-.1 1.2,2.2 1.2,1 1.2-.7 1.2,.3 1.2-2.3 1.2-4.2 1.2-3.4 1.2-.7 1.2,.4 1.2,1.1 1.2,2.1 1.2-.9 1.2-1.2 1.2-2.5 1.2-2.1 1.2-.1 1.2,1.4 1.2,1.3 1.2,2.4 1.2,0 1.2,1.5 1.2,2 1.2,.9 1.2,1.9 1.2,1.2 1.2,3.1 1.2,1.8 1.2,.9 1.2,.4 1.2,.7 1.2,2 1.2,1 1.2-.5 1.2-.2 1.2,.8 1.2,0 1.2-.4 1.2,.2 1.2-.8 1.2,.7 1.2-.1 1.2,.8 1.2,.9 1.2-.2 1.2,.4 1.2,1 1.2-1.1 1.2,.7 1.2,.2 1.2-.9 1.2-1 1.2-1 1.2,.2 1.2,2.6 1.2,1.8 1.2,1.7 1.2-2.3 1.2-2.7 1.2,.4 1.2,.2 1.2-5.1 1.2-3 1.2,1.3 1.2,3 1.2,1.7 1.2-.9 1.2,1.6 1.2,1.6 1.2,1.9 1.2,0 1.2,.7 1.2,1.6 1.2,2.1 1.2,1.4 1.2,.4 1.2,1.3 1.2,1.4 1.2,1.2 1.2-3 1.2-7.1 1.2-2.6 1.2,.8 1.2-.5 1.2-.4 1.2,2.9 1.2,.8 1.2-2 1.2-.8 1.2-1.2 1.2-.8 1.2,1.1 1.2,3.3 1.2-.6 1.2-2.8 1.2-1.8 1.2,2.4 1.2-.1 1.2-1.3 1.2-2.5 1.2-.1 1.2,.6 1.2-1.1 1.2,1.1 1.2,3.4 1.2,5.3 1.2,2 1.2-.8 1.2,.2 1.2,2.8 1.2,2.9 1.2,1 1.2,.8 1.2-.6 1.2-1.1 1.2,2.1 1.2,3.6 1.2,2.9 1.2,3.4 1.2-9.2 1.2-11.1 1.2-.9 1.2,2.4 1.2,1.7 1.2,1.7 1.2,1.8 1.2,0 1.2-.1 1.2,1.9 1.2,2.1 1.2,2.4 1.2,2.1 1.2,2.2 1.2,2.2 1.2,1 1.2-.2 1.2,.7 1.2-2 1.2,.2 1.2-1.9 1.2-1.6 1.2-2.1 1.2-3.5 1.2-2.6 1.2-2.5 1.2-3.5 1.2,.1 1.2,.6 1.2,.7 1.2,0 1.2-.9 1.2,.7 1.2,1.4 1.2,2 1.2,2.7 1.2,2.4 1.2,.2 1.2,.2 1.2,1.5 1.2,2.2 1.2,1.9 1.2,.5 1.2,.2 1.2,.8 1.2,.9 1.2,2.5 1.2,2.1 1.2,.9 1.2-.3 1.2,1.2 1.2,.9 1.2,.3 1.2-.4 1.2-2 1.2-.7 1.2-1.2 1.2,1.3 1.2,2.3 1.2-4.2 1.2-3.5 1.2,.8 1.2,1.4 1.2,.6 1.2-1.5 1.2-1.5 1.2-2.1 1.2-1.5 1.2-3.5 1.2-3.4 1.2-3.9 1.2,1.7 1.2,4 1.2,5.2 1.2,.8 1.2,.9 1.2,1.4 1.2,3.5 1.2,1.4 1.2,1.5 1.2-.3 1.2,.6 1.2-.1 1.2,.3 1.2,.9 1.2,.5 1.2,1.1 1.2,.7 1.2-1.6 1.2-1.5 1.2-3.2 1.2-2 1.2-.4 1.2-.6 1.2,.1 1.2,.8 1.2,1.9 1.2,1.6 1.2,.9 1.2,1.4 1.2,1.9 1.2,2.1 1.2,1.5 1.2,.6 1.2,1.2 1.2,2.3 1.2,1.4 1.2,1.9 1.2,.2 1.2-.3 1.2-2.4 1.2-.9 1.2-1.6 1.2-.4 1.2-.3 1.2-3.8 1.2-4.9 1.2-3.9 1.2-1.6 1.2-1.9 1.2,2.1 1.2,2.2 1.2,3 1.2,3.6 1.2,0 1.2-.4 1.2,4.4 1.2,3.4 1.2,1.6 1.2-1.2 1.2-1.1 1.2-2.7 1.2-2.6 1.2-2.2 1.2,1.4 1.2,2.5 1.2,3.2 1.2,.5 1.2-.4 1.2,.6 1.2,.4 1.2,.8 1.2,2.7 1.2,1.6 1.2,2.9 1.2,1.1 1.2-1.2 1.2-.6 1.2-.8 1.2,2.4 1.2,1.1 1.2,1.9 1.2,2.6 1.2,2.4 1.2,1.2 1.2-1.5 1.2,.2 1.2,2.2 1.2,1.1 1.2-1.3 1.2-.5 1.2,.7 1.2-1.4 1.2,.6 1.2,.1 1.2-1.4 1.2-1.6 1.2-2.1 1.2-1.2 1.2,1.3 1.2,3 1.2,3.3 1.2,.8 1.2,.5 1.2-.3 1.2-1.2 1.2,1.4 1.2,.7 1.2-.2 1.2,.7 1.2-1.1 1.2-1.7 1.2,.1 1.2-.7 1.2,.1 1.2-.7 1.2-1.2 1.2-.8 1.2-.8 1.2-2.1 1.2-2.1 1.2-.5 1.2,1.9 1.2,.6 1.2,.9 1.2,1.6 1.2,2.7 1.2,2.7 1.2,.4 1.2,.7 1.2-.3 1.2,.3 1.2,1.8 1.2,2.2 1.2,1.7 1.2,.8 1.2,1.2 1.2-.3 1.2-.5 1.2-1.9 1.2-.2 1.2,2.3 1.2,2.1 1.2-1.2 1.2-.8 1.2-2.6 1.2-3 1.2-3.3 1.2-1.1 1.2,1.2 1.2,2.2 1.2,2.1 1.2,2.4 1.2,1.7 1.2-.4 1.2-.2 1.2-.4 1.2-1.2 1.2-1.2 1.2,.4 1.2-.7 1.2,1.3 1.2,0 1.2,.3 1.2,1.6 1.2,.5 1.2,.3 1.2-2.4 1.2-2.2 1.2,1.4 1.2,.1 1.2,.4 1.2-.9 1.2-.7 1.2-.7 1.2,1.4 1.2,.7 1.2-.5 1.2,1.1 1.2-.6 1.2-1.4 1.2-.9 1.2,.6 1.2,1.1 1.2,1.7 1.2,1.3 1.2,1.4 1.2-.4 1.2,0 1.2,1.1 1.2,.2 1.2,.3 1.2,.9 1.2,1.4 1.2,1.3 1.2,1.9 1.2,2.6 1.2,.3 1.2,1.4 1.2-1.5 1.2-1 1.2-.8 1.2-.4 1.2,.5 1.2-.7 1.2-1.8 1.2-3.4 1.2-2.6 1.2-1.3 1.2,.7 1.2-1 1.2-1 1.2-1 1.2-1.5 1.2-.8 1.2,.1 1.2,.4 1.2-.6 1.2-.7 1.2,.8 1.2,.4 1.2,0 1.2-.4 1.2-.7 1.2-1.3 1.2,.6 1.2,1.2 1.2,1.4 1.2,2.9 1.2,1.5 1.2,0 1.2-.8 1.2-3.1 1.2-2.7 1.2,1.2 1.2,.2 1.2,2.1 1.2,1.2 1.2-.3 1.2-1.5 1.2,2 1.2,2.6 1.2,1.1 1.2,0 1.2,.3 1.2,2 1.2,1.7 1.2,1.2 1.2-.4 1.2-5 1.2-5 1.2-.7 1.2,.7 1.2,.8 1.2-1.7 1.2-.4 1.2,.1 1.2-.9 1.2,.8 1.2,.1 1.2,.9 1.2,1.1 1.2,2.4 1.2,1.8 1.2,4.3 1.2,.3 1.2-.3 1.2-.5 1.2-.6 1.2,.2 1.2-.6 1.2,1 1.2,.9 1.2,5.1 1.2,4.1 1.2,1.1 1.2-1.2 1.2-1 1.2-1 1.2-.7 1.2-1.8 1.2,1.4 1.2,1.2 1.2,1.1 1.2,1.5 1.2,2 1.2,.3 1.2-.8 1.2,3.3 1.2,3.3 1.2-.4 1.2-2 1.2-1.8 1.2-.6 1.2-1.7 1.2-1.7 1.2-1.1 1.2-.5 1.2-.1 1.2,.4 1.2,1.2 1.2,1.1 1.2,1.3 1.2,.9 1.2,.1 1.2,0 1.2,.7 1.2,1.2 1.2,.7 1.2,.3 1.2,.7 1.2,.4 1.2,1.8 1.2,.7 1.2-7.3 1.2-8.1 1.2-3.7 1.2-2 1.2-1.8 1.2-2.1 1.2,.5 1.2,2.3 1.2,2.5 1.2,.8 1.2,1.3 1.2,1.5 1.2,.2 1.2,.2 1.2-.7 1.2,.8 1.2,1.5 1.2,.4 1.2,.2 1.2,1.4 1.2,.2 1.2,1.2 1.2,1.6 1.2,1.3 1.2,2.1 1.2,1.4 1.2,.3 1.2-.6 1.2,1.3 1.2-.3 1.2,.1 1.2,.2 1.2-.8 1.2-.4 1.2,.1 1.2,.3 1.2,.2 1.2,1.1 1.2,1.1 1.2-.6 1.2-1.6 1.2,.4 1.2,.6 1.2,.1 1.2-1.5 1.2,1.1 1.2,0 1.2-.4 1.2-.8 1.2,0 1.2-1.6 1.2-2.1 1.2,1.1 1.2,.2 1.2-.9 1.2-.3 1.2,.6 1.2,0 1.2-.4 1.2,0 1.2,.1 1.2-.1 1.2-.4 1.2,2.3 1.2,3.8 1.2-1.2 1.2-.2 1.2,.6 1.2,1.8 1.2-.5 1.2,.1 1.2,.9 1.2,1.3 1.2,.7 1.2,1.4 1.2,.3 1.2,.5 1.2,1.4 1.2,.9 1.2,.3 1.2,.5 1.2,.4 1.2-.6 1.2-.7 1.2-2.2 1.2-1.5 1.2-2.3 1.2-.4 1.2,.1 1.2,.7 1.2,1.5 1.2,3.1 1.2,3 1.2,.4 1.2,.1 1.2-1.7 1.2-1.2 1.2-1.1 1.2,0 1.2-1 1.2-1.1 1.2-1.5 1.2-1.5 1.2-.1 1.2-2.3 1.2-.7 1.2-1.3 1.2-1.3 1.2-1.8 1.2,.4 1.2-.3 1.2,.2 1.2-.9 1.2,2.2 1.2,3.8 1.2,2.5 1.2,2.6 1.2-4.9 1.2-3.6 1.2-1.6 1.2,2.4 1.2,2.8 1.2,2.4 1.2,1.4 1.2,.2 1.2,.2 1.2,2.1 1.2,.3 1.2-.9 1.2,.5 1.2,2.9 1.2,2.3 1.2-.3 1.2-.7 1.2-.5 1.2-1.2 1.2-.3 1.2,.3 1.2,1.7 1.2,1 1.2,1.1 1.2-2.4 1.2-2.7 1.2-.7 1.2,.6 1.2,1.5 1.2,1.7 1.2,.9 1.2-.2 1.2,1.1 1.2,1.4 1.2,.9 1.2-2.2 1.2-2.6 1.2-2.6 1.2-1.7 1.2-.9 1.2-.1 1.2,.1 1.2-.2 1.2-.5 1.2-1.2 1.2,.8 1.2-.8 1.2-1.4 1.2-3.4 1.2-2.1 1.2-1.4 1.2-.2 1.2-.4 1.2,.9 1.2,.8 1.2,.7 1.2-.4 1.2,.8 1.2-.3 1.2,.1 1.2,.6 1.2,.5 1.2,.9 1.2,3.2 1.2,2.7 1.2,.5 1.2,1.9 1.2,1.9 1.2,2.3 1.2-.5 1.2-1.1 1.2,.3 1.2,2.1 1.2,.1 1.2-.6 1.2-1.7 1.2-3.9 1.2-2.8 1.2-4.9 1.2,1.9 1.2,1.7 1.2,.8 1.2,1.7 1.2,.9 1.2,1.4 1.2,1 1.2,2.1 1.2,1.2 1.2,1.4 1.2,.5 1.2,1.1 1.2,1.5 1.2,1.4 1.2-.5 1.2-1.3 1.2-.3 1.2-.6 1.2,.3 1.2,.6 1.2,1.8 1.2,.2 1.2-.4 1.2,1.1 1.2,.7 1.2,.2 1.2,1.3 1.2,1.2 1.2-2.4 1.2-2.5 1.2-1.4 1.2-.7 1.2,.7 1.2,0 1.2,2.3 1.2,2 1.2,1.5 1.2,.9 1.2,.4 1.2,.7 1.2-.5 1.2,.3 1.2-1.1 1.2,.3 1.2,.5 1.2,.4 1.2,1.6 1.2-1 1.2,1.5 1.2-.7 1.2,.8 1.2-1.9 1.2-4.4 1.2-2.1 1.2-1.2 1.2-.5 1.2,.7 1.2-.6 1.2-2.5 1.2-.9 1.2,1.3 1.2-.1 1.2-.5 1.2-.3 1.2-2 1.2-3.1 1.2,.9 1.2,2 1.2,1 1.2,.5 1.2,.4 1.2,.4 1.2,.5 1.2,.8 1.2,.8 1.2,1.6 1.2,.7 1.2,2.7 1.2,2.8 1.2,.8 1.2,.2 1.2,1.2 1.2,2 1.2-.2 1.2-.3 1.2,0 1.2,2 1.2,1.1 1.2,1 1.2-1.4 1.2-1.1 1.2-1.6 1.2-.6 1.2-1.7 1.2,1.4 1.2,.1 1.2-.3 1.2-1.2 1.2-1.5 1.2-1.7 1.2-.5 1.2,2.5 1.2,1.4 1.2,1.2" fill="none" stroke="#ff7f0e" stroke-width="5.6" stroke-linejoin="round" stroke-linecap="round"/>
<path d="M260.2,83.6l1.2,4.1 1.2,4.5 1.2,3.6 1.2,4 1.2,2.4 1.2,3.1 1.2,3.6 1.2,2.9 1.2,3.2 1.2,3.9 1.2,2.7 1.2,2.4 1.2,1.8 1.2,5.8 1.2,4 1.2,0 1.2-.6 1.2,.9 1.2,.9 1.2,3.3 1.2,3.4 1.2,3.1 1.2,2.4 1.2,2.1 1.2,.9 1.2,2.2 1.2,2.6 1.2,2.6 1.2,1.4 1.2,2.3 1.2,2.4 1.2,3.4 1.2-.2 1.2-.3 1.2,1.3 1.2-.2 1.2,.8 1.2,1.8 1.2,1.2 1.2,2.3 1.2,.6 1.2,1.3 1.2-.3 1.2,1 1.2,2.8 1.2,.5 1.2-1.5 1.2-3.3 1.2-4.1 1.2-3.8 1.2-4.1 1.2-1.9 1.2,1.8 1.2,3.1 1.2,2.4 1.2,3 1.2,2.9 1.2,.5 1.2,1 1.2,.7 1.2,1.1 1.2,1.6 1.2,2.6 1.2,3.6 1.2,3.2 1.2,4.4 1.2,1.7 1.2-.2 1.2,.3 1.2-.9 1.2-.6 1.2,2.6 1.2,1.8 1.2,.3 1.2-2.2 1.2-1.7 1.2-1.2 1.2,1.5 1.2,1.7 1.2,3 1.2,1.3 1.2,1.4 1.2-.2 1.2,1.6 1.2,2.2 1.2,1.1 1.2,1.1 1.2-1.3 1.2,.2 1.2,2.3 1.2,1.1 1.2,.4 1.2,.3 1.2,2.9 1.2,1.7 1.2,.7 1.2-.1 1.2,1.7 1.2,2 1.2-2.5 1.2-2.4 1.2-2.3 1.2-1.9 1.2-2.1 1.2-2.8 1.2,1.7 1.2,4.6 1.2,4.6 1.2,2 1.2,.5 1.2-1.3 1.2-1.6 1.2,.9 1.2,.1 1.2,3.3 1.2,2 1.2,1.7 1.2,3.1 1.2,1.4 1.2,2.9 1.2,3.5 1.2-1.1 1.2-.4 1.2-1.7 1.2-2 1.2-1.7 1.2,.2 1.2,.3 1.2,2.3 1.2,2.8 1.2,1.9 1.2,2.5 1.2-.7 1.2-.9 1.2,0 1.2-.6 1.2-2.8 1.2-2.5 1.2-.3 1.2,1.4 1.2,1.7 1.2,1.3 1.2,.7 1.2,1.2 1.2,.7 1.2,3.2 1.2,2.1 1.2,2.8 1.2,3.4 1.2-.8 1.2-.9 1.2,1.3 1.2,1.9 1.2,.1 1.2,1.2 1.2,0 1.2-.1 1.2,.6 1.2,.4 1.2,.7 1.2,.6 1.2,.2 1.2,2.9 1.2,2.4 1.2,.4 1.2-1.7 1.2,.2 1.2,1.9 1.2,.4 1.2,.7 1.2,.7 1.2,.4 1.2,1 1.2,.5 1.2-3.2 1.2-1.2 1.2,.3 1.2,.9 1.2-2.3 1.2,2.8 1.2,2 1.2,3.1 1.2,.5 1.2,0 1.2,.2 1.2-.4 1.2-.4 1.2,.9 1.2,1.3 1.2,0 1.2-.3 1.2,.1 1.2,.6 1.2,.6 1.2,.1 1.2-1.9 1.2-1.4 1.2-.9 1.2,1.6 1.2-.5 1.2,.5 1.2-.5 1.2-.1 1.2-.2 1.2,.3 1.2-.6 1.2-1.2 1.2,0 1.2-.8 1.2,.5 1.2,.9 1.2,2.3 1.2,.9 1.2,1.6 1.2,2.1 1.2,.5 1.2,3.5 1.2,1.3 1.2,.9 1.2-.1 1.2,.8 1.2-.9 1.2,1.1 1.2,1.9 1.2,2.8 1.2-1.5 1.2-.2 1.2,.4 1.2,.9 1.2,1.4 1.2,3.5 1.2-1.2 1.2-3 1.2-1.9 1.2,.1 1.2-.5 1.2-.1 1.2,0 1.2-.5 1.2-1.3 1.2-4.1 1.2-3.5 1.2-3.3 1.2-5.5 1.2-6 1.2-4.9 1.2,1.4 1.2,1.6 1.2,2 1.2,4.1 1.2,4.8 1.2,.4 1.2,2.6 1.2-.5 1.2,.3 1.2,1.7 1.2,1.1 1.2,1.2 1.2,.2 1.2,1.1 1.2,2.2 1.2,2 1.2,0 1.2,6 1.2-.1 1.2-1.2 1.2-.7 1.2-.7 1.2-1.9 1.2-.3 1.2-1.8 1.2,.1 1.2-.5 1.2-2 1.2-2.1 1.2-1.7 1.2-.9 1.2,1.4 1.2,1.1 1.2,1 1.2,1.8 1.2,1 1.2,1.7 1.2,1.8 1.2,2.8 1.2,1 1.2-.2 1.2-.3 1.2,2.6 1.2,2.7 1.2,.6 1.2,.1 1.2-1.1 1.2-2.2 1.2,.9 1.2,2.4 1.2,2.4 1.2,.5 1.2-.5 1.2-1.3 1.2-2.1 1.2,1.1 1.2,.5 1.2-3.2 1.2-3.1 1.2,3 1.2,3.1 1.2-.1 1.2,.4 1.2,.4 1.2,1.2 1.2-1.3 1.2-.3 1.2,.3 1.2,.7 1.2-.7 1.2-.1 1.2,.4 1.2-.8 1.2,.7 1.2,.2 1.2-1.8 1.2,.3 1.2,4.8 1.2,3.1 1.2,1.4 1.2,1.1 1.2,1.8 1.2,.5 1.2-1.3 1.2-1.8 1.2-.3 1.2-1.2 1.2,0 1.2,3.2 1.2,2.4 1.2,1.2 1.2,1.8 1.2,1.2 1.2,1.7 1.2-3.5 1.2-3.3 1.2-3.6 1.2,.7 1.2-.1 1.2,.7 1.2,.9 1.2-.9 1.2,1.1 1.2,2.8 1.2,.8 1.2-2.6 1.2-1.3 1.2,1.1 1.2,.5 1.2-2.1 1.2-3.5 1.2-3.6 1.2,.7 1.2,1.4 1.2,2.3 1.2,3.1 1.2,3.8 1.2,.8 1.2-.4 1.2-.8 1.2,2.3 1.2,1.5 1.2,.1 1.2-.4 1.2-.8 1.2-.2 1.2-1.6 1.2,.5 1.2-.5 1.2-1.5 1.2-1.1 1.2,1.3 1.2,1.7 1.2,2.6 1.2,2.4 1.2,.8 1.2-.1 1.2-.2 1.2,.5 1.2-.5 1.2-1.1 1.2,.6 1.2,1.5 1.2,2.1 1.2,.5 1.2,.9 1.2,.6 1.2-.7 1.2,.3 1.2,.2 1.2-1.1 1.2-1.8 1.2-1.5 1.2-1.3 1.2-.2 1.2,.2 1.2,1.8 1.2,.9 1.2,1.3 1.2-1.4 1.2,.4 1.2,.8 1.2,1.3 1.2-.6 1.2-.8 1.2,1.2 1.2,1.2 1.2-.8 1.2-1 1.2-.4 1.2,1 1.2,1.4 1.2-.8 1.2,.1 1.2,1.3 1.2,1.5 1.2-1.4 1.2-1.5 1.2-2.4 1.2-1.1 1.2-.3 1.2,1.1 1.2,1 1.2,1 1.2,.8 1.2-.6 1.2-.3 1.2,1.3 1.2,1.3 1.2,1 1.2-1.6 1.2-.4 1.2-.8 1.2-.1 1.2-1.5 1.2-.2 1.2,.2 1.2-1.3 1.2,2.9 1.2,.9 1.2,.8 1.2-.5 1.2,.8 1.2-1.8 1.2-.3 1.2,.7 1.2,.7 1.2,1.2 1.2,1.6 1.2-.5 1.2,.8 1.2,0 1.2-.6 1.2-1.9 1.2-.3 1.2,.3 1.2,1.4 1.2-3.6 1.2-3.1 1.2-3.2 1.2-1.1 1.2,2.2 1.2,2.3 1.2,2.1 1.2,2.5 1.2,2.2 1.2,1.8 1.2,2.6 1.2,.5 1.2,1.1 1.2,1.3 1.2,1.5 1.2,.1 1.2-.8 1.2-.1 1.2-1.7 1.2-1.2 1.2-1.4 1.2-.3 1.2,2.1 1.2,2.6 1.2-2.3 1.2-4.4 1.2-1.4 1.2,1.2 1.2,.1 1.2-2.1 1.2-.9 1.2,.1 1.2,.5 1.2,2.1 1.2,2.5 1.2,1.6 1.2,.5 1.2,1 1.2,.9 1.2-1.7 1.2-2.1 1.2-1 1.2,.6 1.2-1.5 1.2-.6 1.2-1.5 1.2,.3 1.2,.3 1.2,3.6 1.2,3.3 1.2,.7 1.2-.3 1.2-1.8 1.2-.4 1.2-3.5 1.2-.7 1.2,.9 1.2,0 1.2,2.4 1.2,4.5 1.2,4.1 1.2,0 1.2,1.9 1.2,.6 1.2,.9 1.2,.4 1.2-2 1.2,.3 1.2,1 1.2,1.4 1.2-.4 1.2,.3 1.2-.5 1.2,.8 1.2,1.6 1.2,1 1.2,.4 1.2,.5 1.2,.6 1.2,1 1.2-.4 1.2-2.5 1.2-1.9 1.2-1.2 1.2-1.3 1.2-1.7 1.2-1 1.2-3.5 1.2-1.8 1.2-1.5 1.2,.5 1.2-.3 1.2,0 1.2,0 1.2,1.7 1.2,.7 1.2,2.4 1.2,1.3 1.2,.8 1.2-.3 1.2,1 1.2,1.1 1.2-2.2 1.2-3 1.2-1.8 1.2-.7 1.2,.9 1.2,1.7 1.2,.4 1.2-.7 1.2-.1 1.2,1.3 1.2,.4 1.2-.1 1.2-.4 1.2,1.4 1.2,1.4 1.2-.3 1.2-2 1.2-.4 1.2,.3 1.2,0 1.2,2.3 1.2,1.4 1.2,.1 1.2,1.3 1.2-.9 1.2,.7 1.2,1.6 1.2,1.8 1.2,.8 1.2,.4 1.2,1.7 1.2-1.1 1.2-1.7 1.2-1.6 1.2-1.9 1.2-1 1.2,.2 1.2,0 1.2,1.5 1.2,.2 1.2,.9 1.2,3.1 1.2-.5 1.2,1.4 1.2-.2 1.2,.8 1.2,.6 1.2-.2 1.2-1.8 1.2-2.1 1.2-2 1.2-2.5 1.2-.7 1.2-1 1.2,1.5 1.2,.2 1.2,0 1.2-.4 1.2,1.6 1.2,.9 1.2-.3 1.2-2.5 1.2-1.5 1.2-.9 1.2-2.2 1.2,0 1.2-1.8 1.2,.7 1.2,1.6 1.2-.3 1.2-.8 1.2-.6 1.2,1.2 1.2,1.9 1.2,.5 1.2,.2 1.2,1.4 1.2,1.6 1.2,3 1.2,0 1.2,.6 1.2-.5 1.2-.5 1.2,.6 1.2-.9 1.2-1 1.2-.4 1.2,.7 1.2,.6 1.2-.7 1.2,1.2 1.2,1.4 1.2,2.2 1.2,1.1 1.2,1.8 1.2,1.9 1.2,2.9 1.2,2 1.2,1.2 1.2,.9 1.2,.7 1.2,1 1.2,1.7 1.2,1.7 1.2,.8 1.2,1.9 1.2-.2 1.2,.2 1.2-.2 1.2-2 1.2-.7 1.2-.3 1.2-1.9 1.2-2.8 1.2-3.7 1.2-1.1 1.2-1.5 1.2-1.7 1.2-1.4 1.2-2.5 1.2-2.8 1.2-2.6 1.2-1.4 1.2-2.3 1.2-2.8 1.2-2.2 1.2-.2 1.2-.5 1.2-2 1.2,1.2 1.2,1 1.2,2.3 1.2,0 1.2-2 1.2-1.9 1.2-2.5 1.2-2.1 1.2,.8 1.2,1.7 1.2,1.5 1.2,.9 1.2-1 1.2-1.6 1.2,1.3 1.2,1.2 1.2,2 1.2,1.4 1.2,2.2 1.2,1.8 1.2,2.1 1.2-.5 1.2,1.2 1.2,.6 1.2-1 1.2-4.5 1.2,1.1 1.2,.4 1.2-.2 1.2-.1 1.2,0 1.2,1.9 1.2,2.2 1.2,2.6 1.2,1.9 1.2,1.4 1.2,.6 1.2-.3 1.2,2.3 1.2,1.5 1.2,.5 1.2,0 1.2,0 1.2-1.9 1.2-3.1 1.2-3.7 1.2-.1 1.2,2.1 1.2,2.7 1.2-1.5 1.2-.6 1.2-2.7 1.2-.6 1.2-.4 1.2,1.4 1.2,1.2 1.2,2.8 1.2,.9 1.2-.5 1.2,.3 1.2,.2 1.2,.1 1.2,.2 1.2,1.4 1.2,1.5 1.2,1.6 1.2-.5 1.2-1.7 1.2-2.3 1.2-1.6 1.2-.9 1.2,1.2 1.2-.5 1.2-1 1.2-1.7 1.2-.2 1.2-.7 1.2,0 1.2-.6 1.2-.9 1.2-1.6 1.2,1.1 1.2,1.7 1.2,3 1.2,1.8 1.2,.9 1.2-1.6 1.2-.8 1.2,0 1.2,.5 1.2-1.7 1.2,.2 1.2,1.4 1.2,1 1.2,2 1.2,.9 1.2,.8 1.2,2.8 1.2,1.9 1.2,.7 1.2,.3 1.2,.1 1.2,1.6 1.2,.1 1.2,0 1.2,.8 1.2,.1 1.2-1.9 1.2-1.8 1.2-.2 1.2,3.5 1.2,.4 1.2-2.2 1.2-3 1.2,.5 1.2,.6 1.2,1.3 1.2,.6 1.2,1.3 1.2,1.5 1.2,1.2 1.2,2 1.2,1.4 1.2,.1 1.2,.5 1.2-1.3 1.2-1.7 1.2-2.3 1.2-2.5 1.2-1.8 1.2,1.1 1.2,1 1.2,0 1.2,2.6 1.2,2.8 1.2,1 1.2-2 1.2-2.8 1.2-1 1.2,.1 1.2,.2 1.2,.6 1.2-.5 1.2,.4 1.2-2.3 1.2-3.6 1.2-.5 1.2-1.7 1.2,.6 1.2,2.1 1.2,2.3 1.2,1.7 1.2,.8 1.2-.2 1.2-.5 1.2-.2 1.2,1 1.2,.1 1.2,1.4 1.2,1.4 1.2,1.6 1.2,1 1.2-.7 1.2,1 1.2-.8 1.2-1.8 1.2-3.2 1.2-3 1.2-1.8 1.2,1.1 1.2-.2 1.2,1.4 1.2,.1 1.2-.3 1.2,.4 1.2,.6 1.2,1 1.2-.3 1.2-.4 1.2,1.1 1.2,.2 1.2,.2 1.2,.7 1.2-.8 1.2-.2 1.2-2 1.2-.6 1.2-.3 1.2,1 1.2-.2 1.2,.4 1.2-.2 1.2-.3 1.2-.2 1.2-.2 1.2,.5 1.2,.8 1.2,1.5 1.2,1.5 1.2,1.2 1.2-.3 1.2-2.4 1.2-1.6 1.2-.3 1.2-1.1 1.2-5.3 1.2-7 1.2-9 1.2,.2 1.2,3.2 1.2,3.3 1.2,3.1 1.2,2 1.2,2.5 1.2,3.1 1.2,2.3 1.2,1.8 1.2,1 1.2,1.3 1.2,2 1.2,.8 1.2,.6 1.2,.6 1.2,.1 1.2,2.2 1.2,2.1 1.2,1.4 1.2-1.9 1.2-.5 1.2,.8 1.2,.1 1.2-.3 1.2-.6 1.2,2.1 1.2,3.3 1.2,.6 1.2-.5 1.2-1.2 1.2-2.8 1.2-2.1 1.2-1.9 1.2-.7 1.2,2.8 1.2,1.7 1.2,2.4 1.2,1.1 1.2-.1 1.2-.3 1.2-1.2 1.2-1.9 1.2-.3 1.2-.8 1.2-4.7 1.2-4.9 1.2-4.3 1.2-1.6 1.2,1 1.2-1.8 1.2-.8 1.2,3.3 1.2,4.4 1.2,2.7 1.2,1.1 1.2,1.3 1.2,1.5 1.2-.3 1.2-.6 1.2,.8 1.2,.5 1.2,1.4 1.2,1.4 1.2-.1 1.2-.4 1.2-1.5 1.2,1 1.2-.2 1.2-1.3 1.2-3.3 1.2,1.7 1.2,2.9 1.2,2.6 1.2-.4 1.2,2.8 1.2,1.3 1.2-1.1 1.2,.2 1.2-.4 1.2-1.6 1.2-4.3 1.2-2 1.2-1.2 1.2,1.8 1.2,1.4 1.2,1.8 1.2,.9 1.2,.1 1.2,2 1.2-.2 1.2-1.2 1.2-.9 1.2,1.1 1.2,2.1 1.2,1.6 1.2,1 1.2-.1 1.2-.6 1.2-.1 1.2-1.4 1.2-1.1 1.2,1.2 1.2,2.4 1.2,1.1 1.2,.9 1.2,.9 1.2,.1 1.2,1.3 1.2,.1 1.2-.5 1.2-1.4 1.2-1.4 1.2,1.7 1.2,1.9 1.2,1.1 1.2,1.9 1.2,.1 1.2,.9 1.2-3.1 1.2-3 1.2-1.5 1.2,.7 1.2,1.8 1.2,1.3 1.2,.6 1.2-.9 1.2-.9 1.2-.3 1.2,.8 1.2-1.9 1.2-.8 1.2,2.5 1.2,2.9 1.2,2 1.2,.6 1.2,.2 1.2,.2 1.2,1.4 1.2,.8 1.2,.5 1.2-3 1.2-2.3 1.2-.6 1.2-1.8 1.2-1.4 1.2-1.8 1.2-1.3 1.2-1.1 1.2,.6 1.2-.1 1.2-.2 1.2-1.5 1.2,.2 1.2,1.1 1.2,2 1.2,.9 1.2,.8 1.2-.6 1.2-.7 1.2-1.9 1.2-2.3 1.2,.5 1.2,.2 1.2-.4 1.2,.7 1.2-.5 1.2,1.3 1.2,3.2 1.2,.5 1.2,.1 1.2-.1 1.2-.6 1.2-1 1.2,.5 1.2,.7 1.2,.7 1.2,1.1 1.2,1.6 1.2,.7 1.2-.4 1.2-1.1 1.2,1.4 1.2,1.4 1.2,1.3 1.2-.8 1.2-.4 1.2,.1 1.2,.3 1.2,.9 1.2-.8 1.2-1.3 1.2-1.4 1.2-.4 1.2,0 1.2,.7 1.2,1 1.2-.1 1.2-.9 1.2-1 1.2-1.1 1.2-.1 1.2,1.1 1.2,1.2 1.2-2 1.2,0 1.2-.6 1.2,.7 1.2,.6 1.2,.4 1.2,1 1.2,1.5 1.2-.8 1.2-1.1 1.2,.3 1.2-1.1 1.2-.4 1.2-1.8 1.2-1.2 1.2,1.2 1.2,1.7 1.2,0 1.2-.1 1.2,2.8 1.2,1.7 1.2-.3 1.2-1.8 1.2-1 1.2,1.1 1.2,.9 1.2-.3 1.2,.4 1.2-.5 1.2-1.5 1.2,.4 1.2,1.7 1.2-1 1.2-.5 1.2-.8 1.2-.2 1.2,.2" fill="none" stroke="#2ca02c" stroke-width="5.6" stroke-linejoin="round" stroke-linecap="round"/>
<path d="M257.8,84.2l1.1,5.2 1.2,4.3 1.2,2.8 1.2,3 1.2,4.1 1.2,3.9 1.2,4.5 1.2,3.5 1.2,.4 1.2-.2 1.2,.8 1.2,2.7 1.2,5 1.2,4 1.2,1.8 1.2-.4 1.2-.4 1.2,1.4 1.2,.8 1.2-.2 1.2,3.3 1.2,4.1 1.2,3.4 1.2,2 1.2,.4 1.2,.9 1.2,4.6 1.2,5.5 1.2,4.5 1.2,4.3 1.2-4.1 1.2-5.8 1.2-3.9 1.2-.3 1.2,2.5 1.2,1.8 1.2,.5 1.2,.8 1.2,.9 1.2,1.5 1.2,.7 1.2-1.4 1.2-1.6 1.2,1.2 1.2,1.1 1.2,1.3 1.2,1.8 1.2,2.8 1.2,2.6 1.2-.2 1.2-2.2 1.2,.2 1.2,4.1 1.2,3.7 1.2,4.5 1.2,3.7 1.2,.6 1.2,.2 1.2,2.2 1.2,2.9 1.2,2.9 1.2,1.4 1.2,1.3 1.2,.8 1.2,1.9 1.2,4.3 1.2,1.9 1.2,1.3 1.2,1.7 1.2,2.3 1.2,4.1 1.2,1 1.2,.9 1.2,3.4 1.2,4.6 1.2,2.1 1.2,.1 1.2-2.5 1.2,0 1.2,.6 1.2-.5 1.2,.6 1.2-1.5 1.2,2.3 1.2,.6 1.2,.8 1.2,1.3 1.2,1.5 1.2,.4 1.2-.9 1.2,1.4 1.2,1.5 1.2,1.4 1.2-1.3 1.2-1.9 1.2,1.6 1.2,1.1 1.2,.9 1.2-.2 1.2,2.3 1.2,2 1.2,2.5 1.2,2.6 1.2,2.6 1.2,.9 1.2,.4 1.2,2.9 1.2,1.3 1.2-.2 1.2,1.7 1.2,.2 1.2,1 1.2,1.9 1.2,.6 1.2,1.2 1.2-.4 1.2,.2 1.2,0 1.2,.9 1.2-.1 1.2-.7 1.2,1.5 1.2,2.8 1.2,.5 1.2,.9 1.2,.6 1.2,.5 1.2,1.8 1.2,1.2 1.2,2.2 1.2,.8 1.2,1.3 1.2-.6 1.2,.2 1.2,2.2 1.2,3.4 1.2,2.2 1.2,3.8 1.2,.9 1.2,.7 1.2-.7 1.2-1.1 1.2-1.8 1.2-3.2 1.2-3.9 1.2-1.4 1.2,.9 1.2,3.1 1.2,2.2 1.2,3.3 1.2,3.8 1.2,1.5 1.2-.5 1.2,1.6 1.2,1.3 1.2,3 1.2-2.1 1.2-3.3 1.2-6.2 1.2-1.7 1.2,1.7 1.2,.9 1.2,1.6 1.2,2.4 1.2,1.7 1.2,1.1 1.2,.8 1.2,1.7 1.2,1 1.2,2.3 1.2,1.2 1.2,1.2 1.2,1 1.2,1.3 1.2,2.2 1.2,2.4 1.2,2 1.2,.7 1.2-.6 1.2,0 1.2,2.1 1.2,.6 1.2,.6 1.2-.3 1.2,3.6 1.2,1.3 1.2-1.8 1.2-1.7 1.2-.9 1.2-.5 1.2-1.1 1.2-1.6 1.2-.5 1.2-.9 1.2,.5 1.2,.1 1.2,.4 1.2-.7 1.2-.2 1.2,1.8 1.2,2.6 1.2,.1 1.2,0 1.2,2.7 1.2,4 1.2,1.3 1.2,.8 1.2,0 1.2,1.5 1.2,1.2 1.2,.1 1.2-.3 1.2,2.7 1.2,2.2 1.2,1.5 1.2,.8 1.2-1 1.2-.4 1.2-.8 1.2,1.7 1.2,1.2 1.2,.7 1.2,1 1.2,.9 1.2,.1 1.2,2.1 1.2,2.8 1.2,.6 1.2,2.2 1.2-.9 1.2-2.4 1.2-1.4 1.2,1.7 1.2,.3 1.2-1.2 1.2-.5 1.2,.7 1.2,.8 1.2-2.8 1.2-3.9 1.2-.4 1.2,1.4 1.2,1.4 1.2,.8 1.2-.7 1.2-1.8 1.2,.3 1.2,3 1.2,1.9 1.2-.1 1.2-.1 1.2,2.5 1.2,2.7 1.2,1.1 1.2,.5 1.2,.7 1.2-.8 1.2,.7 1.2,.1 1.2-.3 1.2,1.7 1.2,.3 1.2,2.6 1.2,1.2 1.2-1.1 1.2-2 1.2-.9 1.2-1.7 1.2,1.8 1.2,1.4 1.2-.9 1.2-4.5 1.2-3.2 1.2,1.2 1.2,2.2 1.2,2.3 1.2,1.4 1.2,.7 1.2-.5 1.2,2.3 1.2,1.3 1.2-1.2 1.2-1.5 1.2-1.9 1.2-3.3 1.2,1.5 1.2,2.6 1.2,3 1.2-.7 1.2,.4 1.2,0 1.2-.3 1.2,1.7 1.2,.9 1.2-.3 1.2-1.3 1.2,1.2 1.2,1.7 1.2,3.2 1.2,1.4 1.2,.6 1.2,2.4 1.2,.7 1.2-.7 1.2,.6 1.2-.5 1.2,.5 1.2-.1 1.2-.2 1.2,.3 1.2,2.1 1.2,1.2 1.2,1.3 1.2,.8 1.2-.3 1.2,.2 1.2,.2 1.2,.1 1.2,2.1 1.2,1.3 1.2,.5 1.2-1.4 1.2,1.1 1.2,1.7 1.2,.6 1.2-3 1.2-2.6 1.2-2.6 1.2-2.3 1.2,2.8 1.2,2.1 1.2-.4 1.2-.8 1.2,.6 1.2-1.7 1.2-1.3 1.2-2.6 1.2-.8 1.2-.3 1.2,.8 1.2,.4 1.2,1.9 1.2,.5 1.2,.5 1.2,1.9 1.2,3.3 1.2,0 1.2-2.3 1.2,1.7 1.2,3.3 1.2,2 1.2-2.9 1.2-4 1.2-2.5 1.2-2.4 1.2-3.2 1.2-1.7 1.2,3 1.2,2.1 1.2,1.2 1.2,.4 1.2,.5 1.2,1.8 1.2,.6 1.2-1.4 1.2-.2 1.2-.3 1.2,.4 1.2,1.9 1.2,1.9 1.2,1.7 1.2,1.5 1.2,2.2 1.2,.9 1.2,0 1.2-1.5 1.2-.1 1.2-2.6 1.2-1.4 1.2,.7 1.2,1.4 1.2,1.9 1.2,2.5 1.2-.7 1.2-.2 1.2,.8 1.2,0 1.2-.9 1.2-.6 1.2-.8 1.2,.9 1.2,1.2 1.2,2 1.2,1.3 1.2,.4 1.2,.1 1.2,.7 1.2,2.6 1.2,.3 1.2-.5 1.2,1.4 1.2,2.8 1.2,2.3 1.2-1 1.2-.1 1.2,2.8 1.2,2.3 1.2,.3 1.2-.1 1.2-2.5 1.2-2 1.2,2.6 1.2,1.7 1.2,1 1.2,.2 1.2,.1 1.2,2.4 1.2,1.9 1.2-1.4 1.2-.2 1.2,1.1 1.2,1 1.2,.8 1.2-1 1.2-2.5 1.2-.9 1.2,.5 1.2-1.5 1.2-.5 1.2,3.4 1.2,2.4 1.2,.8 1.2,.1 1.2,.6 1.2,1.2 1.2,.4 1.2,.7 1.2,.2 1.2-.2 1.2-1 1.2-1.1 1.2-.7 1.2-.6 1.2-.1 1.2-2.5 1.2-1.9 1.2-1.6 1.2-1.1 1.2,2 1.2,2.7 1.2,.3 1.2,1.3 1.2,.5 1.2-3.6 1.2-1.3 1.2-2.3 1.2,.8 1.2,.6 1.2,.9 1.2-2.1 1.2-2 1.2-.6 1.2-.2 1.2,1.1 1.2,4.1 1.2,2 1.2-1 1.2,1 1.2,2.1 1.2,1.7 1.2,.6 1.2,1.2 1.2-1 1.2-.3 1.2-1.2 1.2-.4 1.2,0 1.2,1 1.2-1.2 1.2,.6 1.2,1.9 1.2,.4 1.2-.1 1.2,2.8 1.2,2 1.2-2.7 1.2-4.1 1.2,2.2 1.2,3.2 1.2,1.5 1.2,.5 1.2,1.8 1.2,1.6 1.2,2.5 1.2-.1 1.2,.1 1.2-.5 1.2-.9 1.2-2.4 1.2-2.4 1.2-.4 1.2,.4 1.2,.2 1.2,.8 1.2,.7 1.2-.6 1.2,0 1.2,.6 1.2,.2 1.2,.5 1.2,1.3 1.2,.5 1.2,.7 1.2-2.1 1.2-4.2 1.2,.6 1.2,2.9 1.2,.3 1.2-1.4 1.2-1.4 1.2,.1 1.2-.1 1.2,1.6 1.2,1.8 1.2,.2 1.2,.4 1.2,1.6 1.2,.9 1.2,.2 1.2-1.5 1.2-.1 1.2,2.2 1.2,1.1 1.2-1.2 1.2-1.5 1.2,2.2 1.2,.3 1.2,.5 1.2,.7 1.2,.4 1.2-.5 1.2,.9 1.2,0 1.2,1.1 1.2-.5 1.2,.6 1.2,1.4 1.2,1.9 1.2-1.3 1.2-1 1.2,.3 1.2,1.4 1.2,.7 1.2,.4 1.2,1.1 1.2-1.1 1.2-.9 1.2-1.8 1.2-.3 1.2,.8 1.2,.3 1.2-1.7 1.2-1.7 1.2-.9 1.2-1.8 1.2-.6 1.2-1.5 1.2,.9 1.2,.4 1.2,1.6 1.2,1.6 1.2,1 1.2,.6 1.2-1.7 1.2-1.6 1.2-1.4 1.2-2 1.2-1.8 1.2-2.1 1.2-1.4 1.2,2 1.2,1.3 1.2,1.4 1.2,.8 1.2-.1 1.2-.1 1.2-.1 1.2,1.5 1.2,1.1 1.2,1 1.2-.6 1.2,1.8 1.2,.4 1.2,.4 1.2-1.5 1.2-.4 1.2,1.7 1.2,.1 1.2-.8 1.2,.1 1.2-.6 1.2,.7 1.2-.2 1.2,.4 1.2,0 1.2,.9 1.2-.6 1.2-1.4 1.2,5 1.2-.9 1.2-1 1.2-.9 1.2-1.2 1.2-1 1.2-.5 1.2,1.2 1.2,1.1 1.2,.4 1.2,1 1.2-1.7 1.2-1.5 1.2-1.8 1.2,2.6 1.2,1.5 1.2,1.5 1.2,.9 1.2,1.4 1.2,.2 1.2,.6 1.2,1 1.2,2.8 1.2,2.9 1.2-.7 1.2-1.8 1.2,.2 1.2,1.3 1.2,1.6 1.2-1 1.2,.4 1.2,1.1 1.2,.2 1.2-.8 1.2-1.5 1.2,2.2 1.2,2.5 1.2-1.2 1.2-1.2 1.2-1.6 1.2-.6 1.2,.2 1.2,1.1 1.2,.2 1.2-4.1 1.2-2.8 1.2-1.3 1.2-.2 1.2,.8 1.2-.5 1.2,1.4 1.2,1.1 1.2-.2 1.2-1.9 1.2-1.2 1.2,1.4 1.2,.9 1.2,.4 1.2-.2 1.2-.4 1.2-2.1 1.2-.3 1.2-.5 1.2-1.8 1.2-1.8 1.2-1.8 1.2-3.1 1.2,.3 1.2,2.2 1.2,3.3 1.2,2.9 1.2,2.9 1.2,3.7 1.2,2.8 1.2-.5 1.2-1.3 1.2-1.8 1.2,1.2 1.2,1.3 1.2,3.8 1.2,2 1.2-1.7 1.2-1.3 1.2-.5 1.2-1.2 1.2,1.4 1.2,.8 1.2,.2 1.2-1.1 1.2,.5 1.2-1.3 1.2,.3 1.2,.4 1.2-.2 1.2,1.6 1.2,1.7 1.2,1 1.2,.7 1.2-1.2 1.2-.8 1.2,1.3 1.2,2.9 1.2,.7 1.2-2 1.2,.5 1.2,1 1.2,1 1.2-1.9 1.2-.7 1.2-.6 1.2-1.4 1.2-.3 1.2-.4 1.2-1.6 1.2-2.7 1.2-1.2 1.2-.1 1.2-1.8 1.2,1.8 1.2,.7 1.2-.2 1.2-1.1 1.2,1.5 1.2,1.8 1.2,.1 1.2-.9 1.2,1 1.2,1 1.2,1.7 1.2,1.5 1.2-.1 1.2-1.8 1.2-.3 1.2,2 1.2,1.9 1.2-2 1.2-1.2 1.2,1.8 1.2-1 1.2-1 1.2-.2 1.2-.8 1.2,1.4 1.2,1.3 1.2,.8 1.2-.2 1.2-.6 1.2-.7 1.2,1.9 1.2,1.2 1.2,1.6 1.2,.9 1.2-.1 1.2-1.3 1.2-.2 1.2,.6 1.2,.2 1.2-.3 1.2-.2 1.2-1.1 1.2,.8 1.2-1 1.2-1.5 1.2,.5 1.2,1.4 1.2,.4 1.2,.2 1.2,1.3 1.2,.3 1.2,.6 1.2,1.4 1.2,1.1 1.2,1.5 1.2,.1 1.2,.2 1.2-.1 1.2,.3 1.2-.6 1.2,1.3 1.2,2 1.2,0 1.2-1.8 1.2-2.4 1.2-3.3 1.2-2.5 1.2-1.4 1.2-.2 1.2,.2 1.2-.5 1.2-1.9 1.2-2.4 1.2,.8 1.2,2.5 1.2,1.8 1.2,1.2 1.2,2.1 1.2,2.2 1.2,1 1.2-.2 1.2-.1 1.2,0 1.2-.4 1.2,.3 1.2,.2 1.2,.1 1.2,.3 1.2,.6 1.2,.7 1.2-1.3 1.2-.5 1.2-1 1.2,1.6 1.2,1.1 1.2,1.4 1.2,.8 1.2-1.4 1.2-2.3 1.2,2.7 1.2,1.5 1.2,.2 1.2-1.2 1.2-.8 1.2,.8 1.2-.1 1.2-1 1.2-1.2 1.2,.1 1.2-.4 1.2-.7 1.2-.1 1.2,1.2 1.2,.4 1.2,1.3 1.2,1.2 1.2,.2 1.2-.1 1.2-.6 1.2-1.9 1.2-1.1 1.2,.2 1.2,.1 1.2-1.6 1.2-1.1 1.2,1.2 1.2,.2 1.2-.8 1.2-1.9 1.2-1 1.2,2.3 1.2,1.7 1.2,.1 1.2,0 1.2,.3 1.2,1 1.2,1.1 1.2,2.7 1.2-.1 1.2-.6 1.2-.2 1.2,.1 1.2-.3 1.2,1.3 1.2-.4 1.2-.4 1.2-.6 1.2-1.6 1.2-1.9 1.2,2.5 1.2,1.8 1.2-.5 1.2-2.4 1.2-.8 1.2-.8 1.2,.7 1.2,1.2 1.2,1.1 1.2,1.7 1.2,1.6 1.2,.7 1.2-.4 1.2,1.4 1.2,1.2 1.2-.3 1.2,.6 1.2-1.2 1.2-2.3 1.2-.7 1.2,.2 1.2-.6 1.2-.6 1.2,1 1.2-.9 1.2-.2 1.2,2.6 1.2,2.6 1.2,.5 1.2-2.2 1.2,1.8 1.2,1.5 1.2,1.5 1.2,.4 1.2-.3 1.2-.5 1.2,.4 1.2,.1 1.2,.9 1.2,.7 1.2,.6 1.2,.4 1.2,.2 1.2,.3 1.2,.5 1.2-.9 1.2,.2 1.2-.4 1.2,1.8 1.2,1.6 1.2-.6 1.2,0 1.2-.7 1.2-.6 1.2-.2 1.2-.5 1.2-.5 1.2-.6 1.2-.8 1.2-.5 1.2-2 1.2-.5 1.2-.2 1.2-.4 1.2-.2 1.2-2.4 1.2-1.9 1.2-.2 1.2-1.6 1.2-1.9 1.2-.3 1.2-.5 1.2,1.3 1.2,.6 1.2,.8 1.2,.3 1.2-.1 1.2,1.5 1.2,.2 1.2,1.3 1.2,0 1.2,.1 1.2-.2 1.2-.3 1.2-.8 1.2,1.3 1.2,2.1 1.2,2.5 1.2,2 1.2-1.6 1.2-1.7 1.2,.6 1.2,.5 1.2,.3 1.2-.1 1.2-.2 1.2-1.4 1.2,.9 1.2,1.7 1.2,.7 1.2-1.5 1.2,.3 1.2,.7 1.2,.5 1.2-1.7 1.2-1.4 1.2,1.6 1.2,2.9 1.2,1.7 1.2,.9 1.2-1.1 1.2-2.1 1.2-2.4 1.2-.3 1.2,1.9 1.2-.8 1.2-.4 1.2,.9 1.2-.6 1.2-1.3 1.2-1.7 1.2,1 1.2,.9 1.2-.5 1.2,1 1.2-1.1 1.2-1.2 1.2-1.9 1.2-.7 1.2-1.7 1.2,2.4 1.2,1.2 1.2,1.8 1.2,.8 1.2,1.4 1.2,1.5 1.2,.8 1.2-.5 1.2,.1 1.2,.4 1.2,.7 1.2,1.3 1.2,2.1 1.2,.6 1.2,0 1.2,1.3 1.2,.9 1.2-.9 1.2-1.6 1.2-.9 1.2-.4 1.2-1 1.2-1.5 1.2-1.8 1.2-1.8 1.2-1.3 1.2,1.5 1.2,2.1 1.2-.2 1.2,.4 1.2,.8 1.2-.1 1.2,.8 1.2,2.5 1.2,1.1 1.2-1.4 1.2-.7 1.2,1.8 1.2,1.5 1.2-2.5 1.2-1.6 1.2-.4 1.2-3.9 1.2-7.6 1.2-5.4 1.2,1.2 1.2,.8 1.2,2.8 1.2-.9 1.2,.3 1.2,1.5 1.2,.8 1.2,.8 1.2,.1 1.2,.3 1.2,.1 1.2,.2 1.2,.3 1.2,.7 1.2,1.3 1.2,1.6 1.2,1.8 1.2,1.6 1.2-.7 1.2-1.3 1.2,1.4 1.2,1.7 1.2-2.1 1.2-1.2 1.2-1 1.2,2.4 1.2,.9 1.2,1.2 1.2,.9 1.2,1.3 1.2,.9 1.2-.4 1.2-.4 1.2,.8 1.2-.3 1.2,.4 1.2-1.5 1.2-.4 1.2-.4 1.2-.5 1.2-2.2 1.2-2 1.2-.4 1.2,1.7 1.2,.1 1.2,2.2 1.2,.9 1.2,1.2 1.2,1.1 1.2,.6 1.2,1 1.2,1.7 1.2-.2 1.2-2.4 1.2,.2 1.2,3.1 1.2,2.3 1.2-.4 1.2-1 1.2-1.3 1.2-.9 1.2-2.1 1.2-1.3 1.2,1.6 1.2,1.6 1.2,.8 1.2,1.5 1.2,2.7 1.2,.5 1.2-1 1.2-2.6 1.2-2.5 1.2-.1 1.2,0 1.2,.7 1.2,0 1.2,.1 1.2,.1 1.2,.4 1.2-.2 1.2,.1 1.2-.9 1.2,.5 1.2-1.3 1.2-2.5 1.2-4.1 1.2-4.2 1.2-.9 1.2,4.2 1.2,.2 1.2-.8 1.2,.2 1.2,.7 1.2,1.5" fill="none" stroke="#d62728" stroke-width="5.6" stroke-linejoin="round" stroke-linecap="round"/>
</g>
<rect x="164.2" y="84.2" width="1468.3" height="508.7" fill="none" stroke="#cccccc" stroke-width="2.2"/>
<text x="155.5" y="608.5" text-anchor="end" class="t">0</text>
<text x="155.5" y="506.8" text-anchor="end" class="t">2</text>
<text x="155.5" y="405.0" text-anchor="end" class="t">4</text>
<text x="155.5" y="303.3" text-anchor="end" class="t">6</text>
<text x="155.5" y="201.5" text-anchor="end" class="t">8</text>
<text x="155.5" y="99.8" text-anchor="end" class="t">10</text>
<text x="164.2" y="632.9" text-anchor="middle" class="t">0</text>
<text x="483.5" y="632.9" text-anchor="middle" class="t">5000</text>
<text x="802.8" y="632.9" text-anchor="middle" class="t">10000</text>
<text x="1122.1" y="632.9" text-anchor="middle" class="t">15000</text>
<text x="1441.4" y="632.9" text-anchor="middle" class="t">20000</text>
<text transform="translate(89,339.4) rotate(-90)" text-anchor="middle" class="l">Training Loss</text>
<line x1="203.3" y1="347.1" x2="288.6" y2="347.1" stroke="#1f77b4" stroke-width="5.0" stroke-linecap="round"/>
<text x="322.9" y="362.0" class="t" style="font-size:43.2px">ER-Random</text>
<line x1="203.3" y1="408.1" x2="288.6" y2="408.1" stroke="#ff7f0e" stroke-width="5.0" stroke-linecap="round"/>
<text x="322.9" y="422.9" class="t" style="font-size:43.2px">Rewired</text>
<line x1="203.3" y1="469.0" x2="288.6" y2="469.0" stroke="#2ca02c" stroke-width="5.0" stroke-linecap="round"/>
<text x="322.9" y="483.9" class="t" style="font-size:43.2px">MLP</text>
<line x1="203.3" y1="530.0" x2="288.6" y2="530.0" stroke="#d62728" stroke-width="5.0" stroke-linecap="round"/>
<text x="322.9" y="544.9" class="t" style="font-size:43.2px">FlyGM</text>
<g stroke="#cccccc" stroke-opacity="0.40" stroke-width="1.7"><line x1="483.5" y1="753.2" x2="483.5" y2="1261.6"/><line x1="802.8" y1="753.2" x2="802.8" y2="1261.6"/><line x1="1122.1" y1="753.2" x2="1122.1" y2="1261.6"/><line x1="1441.4" y1="753.2" x2="1441.4" y2="1261.6"/><line x1="164.2" y1="1134.5" x2="1632.5" y2="1134.5"/><line x1="164.2" y1="1007.4" x2="1632.5" y2="1007.4"/><line x1="164.2" y1="880.3" x2="1632.5" y2="880.3"/></g>
<g clip-path="url(#clipb)">
<path d="M439,633.9h5v16.8h6v1.9h5v3.4h3v-2.7h2v1.3h7v-.1h4v-5.9h9v4h4v-2.5h2v-5.1h8v-1.3h6v-19.2h8v23.2h7v10.5h8v-11.2h4v11.6h5v-.1h6v-11.1h2v6.2h7v6h7v-8h2v5.4h6v-8.9h2v1.4h8v-5.6h8v7.7h5v2.6h8v.7h2v-4.7h6v13.4h6v-7.2h3v-.4h2v-.2h3v3.6h9v-3.6h5v9.5h2v-5.4h4v6.4h5v-7h8v.3h3v1.4h8v7h6v-36.2h7v41.2h2v-5h7v7.5h9v-4.7h8v7.2h7v-14.7h3v7.2h8v9.7h7v-4.5h5v8.7h4v-7.9h4v-35h2v35.6h5v-3.8h4v16.2h2v-7.7h2v6.6h7v-2.5h8v-8.1h6v11.2h2v4.1h6v2.4h9v2.9h4v-8.8h2v1.1h2v1.7h7v-4.9h7v5.4h6v6.4h8v-.8h4v-30.7h5v33.8h4v-5h5v9.9h7v-8.1h4v1h3v1.6h3v-2.8h5v1.7h7v3.9h2v-10h6v22.7h2v-7h9v-.2h6v-3.6h6v6.2h4v-.3h3v-9.6h8v4.4h4v7.6h6v-41.3h7v34.8h2v5.3h4v1.9h2v2.2h7v7.2h9v3.4h7v-4.6h7v-4.2h8v10.4h7v10h.8v4.3h.8v1.8h5v-27.7h7v35.8h6v-4.4h2v3.5h4v-6.7h2v5.9h3v-5h2v.3h8v2.4h5v.7h7v1.2h5v-3.3h6v-3h3v9.4h6.2v-4.9h1.8v.3h.8v-6.1h1.5v11.5h6v-17.5h9v23.3h8v-11.6h3v-6.2h6v12.9h5v7.7h2.7v2h2v11.2h3v-12.1h2v14.4h.9v3.9h1.7v-10h2.3v-1h1.6v3.8h4.3v-5.5h2.7v15.6h1v7.8h.9v4h1.4v-15.4h5.7v-11.5h2.8v-20.5h1.7v23.4h.8v-15.5h.8v2.4h.8v-52.6h1.3v45.4h7v-6.8h9v13.1h6v-17.1h3v4.6h1.5v7.4h7.6v-39.2h8v51.8h9v-7.6h.8v11.5h1v-17.6h9v-4.5h9v3.4h8v4.2h7v11.8h1.4v-1.8h1.3v11.5h1.2v6.9h1.2v-5.1h1.3v16h3v-16.8h.8v-13.2h.8v2.8h.8v-21.5h.9v-1h1.6v-6.5h6v7h9v42.4h.8v-7.7h1v.2h5.3v-3.5h9v-19.3h2.5v-7.1h4v2.4h3.3v-13.4h1.3v36h1.4v-4.9h2.6v11.7h4.8v-9.4h3.3v-46.7h1.9v35.9h1.8v12.1h1.7v-.6h.8v14.8h.8v2.8h.8v4.8h.8v1.7h1v-13.1h3v9.4h4v-.1h.9v-15.4h.8v-4.7h.8v-14h.8v-.3h.8v-3.6h.9v-1.2h1.2v-4h3.2v1.7h4v-7.4h6v3.5h3v5.5h4v4h2v-8h5v-2.7h9v13.7h4.8v-5.4h2.9v13.5h1.3v.4h1.4v.2h4v-.7h4.2v-4.3h1.8v17.6h1.2v-3.9h3.1v-1.4h3v-7.2h5v-24.1h7v-4.3h9v8.5h4v-3.4h2.1v24.6h.8v7.6h.8v6.3h.8v2.8h.8v-12.2h1.3v22.3h1.2v4.5h2v-1.9h1.9v10.1h1.7v-21.6h2.9v-5.1h3v10.4h3v-9.2h3v-2.2h2.4v-9.7h.9v-.9h1.3v-.2h2v.3h5v-2.9h8v9.2h2v2.5h3v-12.1h2.6v-2.9h2v-10.1h2.4v-1.6h2.8v18.9h1.8v15.3h1.9v-15.3h1.1v-1.7h.8v-22.3h.8v-8h.8v4h1.8v5.9h7v3.3h7v18.2h.8v29.7h.8v-6.1h.9v3.1h3.2v-35.5h3.2v55.8h3.3v1.9h1.1v5.6h1.1v-3.9h1.1v11.4h2.1v-1.1h2v3.5h5.9v-16.6h5v-9.2h1.5v-6h1.5v-3.6h1.4v1.8h1.4v-30.5h1.1v22.3h1v-11h1v-9.6h1v-3.6h.9v-21.4h1v7.1h1.2v10.2h2v-3.6h7v-19.5h2v10.8h8v51h.8v-5.4h.8v10.6h.8v8.1h1v-5.5h2v-6.9h1.1v-10.3h1.1v8h3.3v-1.7h2.9v1.6h1.8v-4.2h1.9v-12.3h1.9v4.7h2v-10.8h2v-12.7h2.5v-1.5h2.4v9.8h2v7h2.2v0h2.2v-.1h2.1v11h2v16.6h.8v4h.8v1.4h.9v5.6h2.3v-8.6h1.9v-2.7h3.5v2.5h7v-9.5h.8v-19.3h.8v-20.2h.8v-1.8h.8v-.2h1v2h3.3v-16.5h3v.7h3.2v5.5h1v10.7h1v1h1v-7.9h.8v32.8h.8v-5.4h.8v27.4h.8v3.8h.8v2.2h.3h0v111.8h-4.7v4.5h-6v-1h-2.9v12.8h-5v-6.3h-4v-1h-9v3.5h-5v-1.4h-4.1v-8.1h-3v4h-2v-9.1h-7v-1h-8v8.8h-3v11.2h-2v-11.2h-4v18.8h-6.3v-22h-4.2v6.2h-4.2v.8h-3v3.8h-1.8v-8.8h-7.9v-4.4h-6v2.9h-2.9v12.3h-5.9v-2.3h-5.9v2.6h-3v-1.3h-6v0h-3.3v-1.5h-1.4v-12h-1.1v-2.8h-3v-6.7h-8v7.3h-2v-5.4h-9v-.5h-4v6.7h-8v-9h-7v4.3h-4v5.6h-9v-2h-5v-3.2h-4v4.2h-5v.7h-3v-4.1h-5v.4h-5v-4.6h-4v1.8h-5v-2.1h-4v-2.6h-6v-3.3h-4v1.8h-6v2.5h-7v-1.3h-3.6v8.1h-2.6v7.7h-2.6v7.7h-7.4v-6.7h-2v7.8h-4.5v-14.9h-2.8v2.4h-2.8v-12.5h-2.8v2.2h-3v-3.4h-7v-5.7h-7v1.4h-3.8v5.3h-7v13.5h-4v-6.4h-5v.9h-4v-4.1h-9v-1.5h-9v19.8h-2v-18.5h-3v-2.2h-5v2.2h-7v-14.5h-6.9v-5.6h-2v9.4h-3v5.6h-3.9v-5h-3.8v8.7h-2.4v-6.7h-8v-8h-3v-1.8h-5v1.6h-4v2.7h-4v1.6h-4.3v-9.2h-4.2v-.6h-2v4.3h-2v3.7h-2v.3h-9v-1.8h-7v.9h-3v11.9h-2.5v-7.9h-2.4v9.6h-1.9v3.6h-1.7v7.1h-1.6v6.6h-2v-1.3h-2v-5h-4.8v-5.1h-2v3.3h-1.5v-9.3h-1.2v-1.5h-1.3v-8.4h-1.9v-10h-3.6v4.6h-3.4v-5.9h-2v-8.6h-3.3v-3.7h-5v4.5h-4v-12.6h-2.3v7.1h-2.1v7.5h-2.1v6.2h-4v-.4h-7v.1h-5v-8.9h-4v1h-5v5h-8v-6.5h-4.7v-2.2h-2v-6h-4v19.5h-8v-15.2h-4.4v-4.3h-2.7v-8.5h-8v.8h-6v0h-2v6.2h-1.1v-2h-1.1v7.1h-1.1v13h-8v2.3h-4v-9.4h-3.3v-2.2h-9v4.9h-4v-.8h-3v-8.7h-4.9v-5.1h-6v5h-6v-1.2h-3.8v.9h-5v-.8h-7v6.1h-4v-8.8h-4.1v-6.2h-2.8v-2.3h-5.7v-3.2h-6v-3.8h-3.2v4.2h-3v10.7h-6.2v6.2h-5v1h-4v-1.1h-6.3v-5.1h-3v-4h-3.8v-.6h-3v-6.1h-3v-1.4h-3.9v8.1h-4v2.9h-2.1v-14.9h-1.8v7h-1.8v-6.6h-1.8v-7.3h-2.6v-11.3h-3v11.5h-2.4v-.1h-1.6v10.6h-1.5v-1.5h-1.5v8h-1.6v4.4h-1.5v7.3h-3v15.9h-2.8v-16.4h-2.7v-3h-2.8v-12.6h-4v-4.2h-7v-2.8h-2v2.7h-4v-7.2h-5v-1.3h-3.9v11.4h-3.8v-4.4h-6.2v4.8h-4.3v-1.7h-1.5v-5.7h-1v-9.4h-.9v-5h-.9v-9.6h-3v4.5h-1.9v4.7h-2v3.6h-2v13.4h-7v-.4h-2v-.1h-2v-1.5h-3v-6.4h-2.5v-7.7h-2.4v-.8h-1.9v-.1h-1.7v-8.7h-2.1v-4.1h-3.4v2.2h-3.4v4.5h-6v7.2h-8v-3h-4v-7h-3v-1.3h-1.7v10h-1.5v.1h-2.3v10h-2v-3.8h-4v7.1h-6.3v-13.9h-6.2v3.8h-4.8v-6.5h-7.9v-2.4h-2v1.9h-3v-11h-6v.7h-6v1.8h-4v0h-8v10.7h-5.7v-17.2h-3v.5h-4v-6.8h-3v-3.3h-9v.1h-9v-1.8h-6.3v8.3h-9v11.8h-8v-11.9h-2v-1.8h-8v1.9h-7v-3.6h-2v-.7h-6v.1h-9v-7.9h-6v8.2h-6.2v-9.1h-2.5v-.5h-1.9v-4.4h-2v-10.3h-9v6.3h-3v-6.1h-2.1v5.3h-1.8v4.7h-1.9v12.3h-8v-.7h-3v-5.8h-5v5.3h-.8v-5.1h-.8v-26.5h-.8v.7h-2.9v3.9h-2.9v6.6h-2.9v4.2h-3.5v7.3h-2.4v-9.6h-3v.4h-1.9v-9.9h-1.2v5.8h-1.3v8.8h-1.2v12.9h-2.8v8.1h-3v-11.3h-3.8v10.8h-3.1v-18.1h-2.5v-11.7h-2.4v-3.1h-2.5v-5.7h-2.7v-3.6h-4.9v-4.6h-2v-1.1h-9v5h-3v-11.2h-3v5.9h-1.2v13h-3v2.1h-6v3.3h-5v1.3h-2.8v-.9h-1.3v-7h-1.1v-7.9h-1.1v2.4h-1.1v-14.9h-1.1v-1h-1.1v-6.8h-1.1v-2h-1.1v-11.7h-1.2v4.5h-1.3v-3.9h-1.3v-5.3h-1.3v-13.7h-1.3v.8h-1.3v-2.1h-1.3v-9.7h-1.3v-8.5h-1.3v2.5h-1.3v-9.8h-1.2v-4.3h-1.3v-7.4h-1.3v-.6h-1.3v-5.8h-1.3v-4.1h-1.3v-10.1h-1.3v-2.6h-1.3v-6.3h-1.3v-2.3h-1.3v-4.6h-1.3v-3.7h-1.3v-.4h-1.3v-11.9h-1.3v-1.8h-1.3v-4.7h-1.3v-3.3h-1.3v-6.4h-1.3v-6.2h-1.2v-6.4h-1.3v-3.7h-2.6Z" fill="#1f77b4" fill-opacity="0.15" stroke="#1f77b4" stroke-opacity="0.22" stroke-width="1.1" stroke-linejoin="round"/>
<path d="M259,679.7h4v-2.9h4v-22.1h9v15.1h5v3.3h8v-4.4h9v-7.7h6v13.6h6v2.1h4v-3.3h3v5.3h2v1.7h7v-43.3h8v43.3h8v-4h8v-3.7h9v6.1h7v-14h8v-34.2h9v34.5h6v16.3h2v3.2h3v-23.2h2v20.8h5v7.6h6v-12.9h5v23h6.4v3.5h4v4.4h6.3v-6.5h6.4v4.7h6.3v15h2v9.4h2v-24h6.4v5.2h6v16.1h2v-1.7h6v-3.7h2v9.5h6.3v9.7h5v-1.2h6.4v5.6h.8v24.3h.8v6.1h.8v-7.9h.8v5.3h1v7.4h1.8v-8.3h3.9v12h3.8v11.8h3v6.7h3.6v.1h4v.6h6v-11h4v4.5h4v1.3h3v-1.3h4.1v-18h2.9v25.1h4v-2.8h7v1.6h1.5v7.1h1.5v4.3h2.9v-20.3h.8v-8.4h.8v-18h.8v10.5h.8v-5h1.5v7.1h.9v2h.8v7.1h.9v0h.8v-4.7h.8v17.2h.8v4.7h.9v-3.1h.8v-.6h.8v26.4h1.2v-24.7h3.7v-11.7h.8v-8.4h1.3v20.3h2v-13h1.4v20.2h1.4v-16h1.7v14h1.3v-17.1h.8v-21.9h.8v1.4h.8v3.8h.8v-14.2h.9v-12.9h1.2v15.1h1.6v-1.9h1.7v-23.2h2.3v8.7h2v-3.4h5v6.6h2v1.4h7v36.2h2v9.5h2.1v-4.6h4.1v20.6h1.2v3.3h1.3v-4.2h1.3v-2.5h1.5v-1h1.6v25.8h1.7v7.9h1.6v.2h1.7v5.7h1.9v-13.9h1.2v-7.6h.8v18.1h.8v-46.8h.8v7.6h1v9.1h2v4.4h4.8v-25.9h1.1v5.7h1.2v.2h1.1v1.7h1.2v8h4.2v14.4h.8v8.9h.8v2.1h1.1v8.5h1.6v-18.5h1.5v20.7h1.6v10.1h1.6v-4.7h4v-9.2h1.4v-5.1h.8v7h.8v-7.7h.8v-8.9h.8v-26.1h.8v4.7h.8v8.8h1v-34.5h3.5v22.5h7v37.9h3.9v-.4h3.8v4.4h3.3v10.1h2.1v6.2h2.2v1h2.2v-12.1h2.5v9.8h7v11.3h6v.1h3v-7.3h4v1.8h4.8v-3.8h3v13.5h2.1v-29.9h.8v2.4h.8v-15.1h.8v-1.8h.8v-22h.8v1.9h.8v-21.5h.9v2.1h1.7v11.7h2.8v5.9h2v12.1h2.1v16h1.6v-2.8h1.4v.1h1.5v13.9h1.5v-4.9h1.2v12.8h.8v3.2h.8v-8.1h.8v23.4h.8v10.7h.8v-6.9h.8v12.6h.8v4.4h.8v1.8h1.7v-11.9h.8v1.2h.8v-17.2h.8v-6.5h.8v1.1h.8v-5.1h.8v-.2h.8v-17.6h1v-9.5h1v9.9h1v-20.3h.8v-1.1h.8v-6.8h.8v3.4h1.2v.8h1.2v1.4h.8v14.3h.8v15.4h.8v-11.8h.8v7.4h.8v17.4h1.2v-1.1h1.5v-2h1.4v9.8h1.5v6.8h1.6v-3.5h2v8h2.5v17.1h2.4v-2h2.5v7.9h2v-6h2v-1.7h4v-14.7h9v-21.1h1.4v12.7h1.4v.8h1.4v-8.3h1.4v18.4h1.4v1.8h1.9v7.4h3.5v-24.2h2v5.6h1.9v-13.9h2v6.9h1.3v-12.3h1.1v-18.7h1v13h1.1v-5.6h1v-6h1.1v-4.2h1.5v-1.3h3.4v.3h3.2v15.1h.8v5.9h.8v2.7h.8v6.1h.8v15.5h.9v-11.9h1v23.8h1v-8.4h1v11.9h1v1.2h1v4.4h1.2v6.4h2.3v8.8h9v-8.8h4v3.2h8v-.5h2v8.3h1.1v-11.5h.8v-5.5h.8v-11.7h.8v-17.6h1v14.8h2.7v-8.5h2.4v-3.4h2.5v29.9h2.2v-4.3h2v4.3h2v-3.8h2v22h2.1v3.1h2v-14.5h7v-8.7h1.5v-16.8h1.6v-.8h1.5v-18.6h1.7v19.8h1.6v-10.7h1.4v-12.6h1.3v-.5h1.2v4.7h1.3v-15.2h1.2v-26.4h1.8v35.3h.9v2.2h.8v-.1h.8v7.8h.8v14.9h.8v10.4h.8v5.3h1.2v6.1h2.9v-4.6h2.9v1.1h3v-13.2h1v-8.9h1.1v-4.9h1v-18.4h1.1v13.2h1v-9.5h1v15.2h1.4v-16.9h3.5v4.1h1.8v11.5h.8v29.1h.8v-19.3h.8v22.1h.8v14h.8v13.2h.8v-7.7h1.3v-6.2h3v14h8v-4.5h4v-4.7h2v-.1h5v-10.7h2v10h6v-7.1h2.1v18.8h1v-2.1h1v15h1.4v-9.8h9v-17.7h4.7v9.7h4.8v4.7h1.1v-5h1.1v4.4h1.2v-9.5h8v-11.3h1.4v1.1h1v-19.3h.8v-14.1h.8v9.8h.8v-9.8h.8v-24.7h.8v11.5h.8v-7.6h.8v6.2h1v-4.6h2.1v-7.8h3v9.5h5v59.2h.8v-4.1h1v4h1v.1h1.1v8.6h1v5.6h1.1v11.3h1v-8.5h1.1v.8h1.1v12.1h1.3v2.6h3v-22.2h1.3v5.9h1.4v-8.6h1.3v-6.6h1.7v4.1h2.9v16.6h7v-.7h4.6v10h9v-30.4h1.6v-2.3h2v8.9h2.8v2.9h2.8v13.9h2.6v3.1h2v-29.5h1.9v-.2h1.6v14.1h.8v.3h.8v-1.6h.8v-13.1h.8v-4h.8v-27h.8v16.4h.8v-1.3h.9v-8.8h.9v-1.6h1.8v.3h3v6.4h2.1v11.2h1.5v-1.3h.8v18.9h.8v16.6h.8v-8.1h1v.4h3.6v-2h4v1.7h3.5v1.6h1.8v-15.3h.8v-.6h.8v-8.7h.8v-10.3h.8v-.2h.8v-2.2h.8v-11.6h.8v-11.2h.8v1.5h1.5v-7.4h4v6h4v-2.7h2.5v21h1.2v8.4h1.2v-11.9h1.1v23.6h1v-2h1v11.9h1v-4.3h1v12.2h1v-2.5h1v-1h1v12.2h1.2v.3h1.2v7.7h1.3v8.2h1.2v6.5h1.2v4.8h1.6v1.7h3v-15.8h4v9.1h9v-25.9h1.6v-.9h1.2v-8.2h1v-9.4h1.1v7.2h1v-16.3h1.1v-1.6h.8v8.2h.8v-41.2h.8v-17.6h.8v2.9h.8v-13.8h.8v66.3h8v2.5h3.6v6.8h1.2v12.2h1.4v-5.5h2.3v3.7h6v9.9h3.9v-29.8h3.6v30.3h2.9v3.7h2.8v19.6h2v-10.7h3.4v6.7h1.5v-15.8h1.5v-4.2h1.4v-8.3h1.8v5.7h6.3v10.6h4v-16.2h1.9v22.6h1.8v-16.9h3v18.4h8v-18.1h1.2v.1h.9v-1.3h.9v-6.4h1v-1.3h.9v-.2h.9v-27.8h1v-.3h1v14.5h1.2v-11.9h1.1v-12.1h1.2v-2.2h1.1v11.9h3.6v52.4h.8v-6.1h1.3v5.7h2.5v-3.5h2v21.2h2.4v-11.3h3.9v-12.2h2.2v-10.1h2.3v3h2.2v.6h2.1v-10.8h1.7v6.3h1.7v-16.3h3.1v-7.1h2.4v13.9h2.4v13h3v-3.7h3v12.2h4v3.3h4v3.3h5v-18.5h4v28.7h3v-3.4h3.2v-9.2h3.2v-.1h2v14.5h3.6v-13.6h3.7v10.9h4v-15.7h3v23.4h6v-19.3h3.8v3.1h3.9v-26.1h4v26.1h2v-12h3v6.7h3v-14.1h2.7v.4h2v.2h5.3v-14.1h9v22.4h.8v-57.5h.8v58.9h.8v19.2h.8v2.8h1.4v4.1h8v-10.2h4v-1.4h6v-13.8h8v5.7h2.7v-9h1.2v2.7h1.2v-13.8h1.3v-9.2h1.2v-25.8h1v12h.9v.1h.9v8h.9v-13.7h.9v-16.2h.8v11h.9v4.6h1.2v-8h1.1v5.8h.8v-2.5h.8v21.4h.8v22.9h1.4v-13.2h4v-16.9h2v19.7h2v-1.1h9v-7.6h4v20h.8v14.4h.8v17.5h.8v-13.3h1.3v-.1h9v2h1v-15.4h1.3v-2.5h3.4v5.5h6v11.6h1.2v3.2h.9v1.2h1.3v10.3h5v-1.1h3v-18.8h5v.9h9v.9h3v.5h9v13.1h1.6v5.5h.9v5.9h.9v3.5h.9v-1.5h1.6v-10h3v9.5h2.4v.8h2.5v-10.7h2v-11.7h1v.6h.9v-10.3h.9v-11h1v1.2h1.5v6.9h4v-2.7h3v2.2h7v-17.6h5v21.6h6v16.3h6.3v-8.9h3v-6.4h2.1v4.2h1.4v-12.2h1.7v-8.1h4v4.5h2v10.1h7v-13h3.4v7.8h5v-8.3h1.7h0v139.4h-2.3v.7h-8v2.7h-9v.7h-8v3h-7v.1h-5v-4.2h-9v-6.4h-6.3v-1.5h-6.2v-1.2h-7v5.6h-5v-1.1h-6v2.5h-8v7.4h-4v-5.4h-9v-1.9h-4v-3.4h-2v1.7h-2v-2.4h-8v-2.4h-3v1.5h-4v3.8h-5v-9.9h-3v1.7h-8v-4.3h-7v-4.2h-4v8h-2v-2.8h-9v-1.7h-3v1.3h-9v5.7h-7v1.3h-3v-2.3h-5.7v-2.3h-3v-1.8h-3v-7.5h-8v.9h-2v-.1h-2v.4h-5v.1h-9v6.8h-5v-1.1h-7v-11.9h-5v1.5h-9v4.1h-8v-1h-7v2.8h-2v-1.9h-7v5.2h-9v-.3h-4v1h-4v-5.7h-2.1v-.6h-2.1v-8.8h-2.2v-1.8h-4.8v5.1h-4.7v3.8h-4v3.6h-4v-.4h-3.9v-8.2h-4v-.8h-3v2.9h-2v1.8h-7v-.1h-2v.5h-4v-3.5h-8v2h-5v-2.4h-5v2.6h-3v3.8h-4v-7.6h-5v1.7h-5v-6.9h-4v-2h-6v2.2h-9v4.6h-3v2.4h-7v5h-6v-2.6h-3v-2.1h-6.5v-5.9h-3v-1.1h-2v-4.7h-3.9v-4.3h-5v5.1h-6.2v1.1h-4v4.2h-6v-1.9h-4v5.1h-8v-3.1h-4.8v-5.6h-4.7v-8.2h-2v-5.4h-3.9v1.1h-2v-6.8h-5v5.8h-3.7v3h-2v1h-2.2v6.8h-2.1v4.6h-2v4.2h-2.2v8.2h-4v.1h-6.3v-9.5h-6.2v-6.2h-5v-.9h-4v-4.1h-4.8v-1.4h-2v1.6h-5v-6.3h-2v3.6h-7v-.8h-8v5.3h-6v-1.8h-2v-1.4h-5v-.3h-9v2.3h-5v-.5h-2v4.3h-2v-8.9h-7v-2.2h-3v1.6h-8v-1.3h-8v6.3h-7v3.1h-3v-1.5h-5v-1.9h-3v3.7h-2v-8.2h-6v-1.3h-8v1.9h-6v.7h-6v5.9h-4.7v-9.2h-4.8v-3.6h-2v-4.3h-6.2v-4.4h-2v-1.6h-4.8v-5h-4.8v-3.5h-4.7v4.1h-9v5.6h-6v4.3h-8v-4.8h-5v1.7h-3v-3.6h-6v2.4h-6v-2.4h-4.8v-.5h-4v-7.6h-6v-1.3h-6v-1.7h-7v-.6h-4v3.7h-4v2.9h-5v3.5h-3v9.8h-3v-8.4h-2v-.4h-2v-3.4h-3.8v-5.4h-6v-2.5h-8v-3.6h-3v-2.2h-9v-.6h-9v-.4h-4v5.1h-3v1h-4v-7.8h-2.4v-1.6h-6v-5.6h-6v3.2h-3v2.7h-3.8v3.6h-3v1.9h-4v5h-6.1v-1.3h-2.2v-4.6h-2.1v-8.5h-2.2v.7h-2.2v-8.4h-3.6v1.3h-3.9v-7.2h-4.8v.8h-4.7v2.4h-3v6.7h-4.8v1.4h-2v.1h-4v8h-3v-4.1h-5v-2.2h-7v-2.4h-5v-.7h-2.2v-8h-2.2v-4h-2.1v.6h-2.2v-9h-8v3.5h-8v1.7h-6v1h-6v0h-5.2v-.9h-4.8v-3.8h-7v-.5h-3v2.3h-8v-.8h-9v2.3h-2v9.1h-4v-6.3h-6.2v-8.5h-6.3v-5.7h-6.2v-2.6h-2.6v-4.9h-2v-5.8h-1.9v-2.3h-2v-12h-9v2.5h-6.2v-3.8h-6.3v-1.7h-.8v-1.7h-.8v.4h-.8v30h-9v-1.5h-3v2.8h-2v-8.5h-3.2v-3.4h-3.8v-3.7h-8v-3.9h-5v-9.3h-5v4.5h-5v6h-5.7v-10.9h-4v-4.6h-4v-3.3h-3.8v-6.2h-3.6v-6h-3v-5.6h-3.7v-2.7h-4.6v-5.7h-7v-2.4h-2v-2.9h-9v7.9h-8v-.8h-3v2.7h-2v5.2h-7v1h-4v-2.4h-4v-4.8h-4v-6.4h-8v1.2h-2v-3.4h-3v-3.2h-3.4v-4.5h-3v-4h-3.1v-4.8h-3v-8.9h-7v1.3h-6.2v3.5h-3v-3.2h-6.3v7.7h-3v1.5h-6v-6.5h-6v1.4h-9v-7.9h-7v-1.9h-2v1.7h-2v-.7h-3v-1.9h-6.2v-7.6h-4.8v-.5h-4.8v-5.4h-4.7v-6.5h-2v-3h-4v-2.3h-4.8v-3h-3v-6.6h-7v-4.1h-4v-3.2h-7v5.6h-2v-10.5h-1.1v6.2h-1v-14.5h-1v-4.8h-1.4v-7.2h-8v-4.2h-3v3.5h-3v-5.4h-5.4v-.9h-1.3v-11.3h-3.5v-8.1h-9v-5h-2.3v-.1h-1.3v-1.6h-1.3v-10.7h-1.1v-2.8h-.8v1.4h-.8v-11.2h-.8v-13.1h-.8v-13.6h-.8v-13.9h-.8v-14.9h-.8v-5.6h-.8Z" fill="#ff7f0e" fill-opacity="0.15" stroke="#ff7f0e" stroke-opacity="0.22" stroke-width="1.1" stroke-linejoin="round"/>
<path d="M206.5,547h7v8.1h7v2h6v-11.8h7v3.4h9v4.2h4v-8h8v15.5h5v-8.9h6v.2h3v-7.5h4v14.5h9v-15.6h6v-9.5h7v14h7v2.9h2v-7.9h2v3.9h4v8.3h9v18.7h1.1v4.7h1.1v11.3h1.1v-11.3h1.1v21.4h1.2v-1h1.1v-.6h1.1v20.4h1.1v-15.4h1.1v6.9h1.1v6.3h1.1v8.4h1.1v7.9h1.2v12h1.1v-11h1.1v7.7h1.1v13.5h1.1v.3h1.1v8.4h1.1v7.9h1.1v1.9h1.2v-13h1.1v23.6h1.1v2.4h1.1v8.1h1.1v8.9h1.1v-6.5h1.1v12.2h1.1v8.6h1.2v-1.5h1.1v5.5h1.1v16.7h1.1v-11.7h1.1v20.3h1.1v6.3h1.1v-8.3h1.1v2.1h.8v17.6h.8v23h.8v-35.7h.8v50.1h.8v7.6h1.5v-5.2h6v-8.4h3v-4.7h1.6v-6.8h1.7v10.9h1.6v-12.9h2v8.2h6v2.7h4.8v19.5h1.7v-4h1.7v-16.1h1.8v22.5h1.7v-11.9h1.7v24.8h1.8v9h1.7v-1.3h1.9v-12.5h4v8.4h2v10.3h9v-39.1h1.1v-.5h1v-17.5h1v2.6h1.1v-6.2h1v5h1v-6.2h1.5v-1.5h3.6v11.9h6v19.6h.8v19.8h.8v-5h.9v7.9h1.5v8.5h2v-12.7h6.2v10.4h2v-6.3h2.1v14.5h2.1v-6.1h2.5v9.8h2v.5h6v-.2h9v-29.4h1.5v-1.4h1.5v-3.9h1.8v-15h5v26.1h2v-51.1h3v33.4h4.8v4.1h4.8v23.1h.8v24.1h1.4v-7h3.8v17.9h3.9v2.8h4.3v1.1h2v-8.5h4.7v11.3h3.1v15.8h2.9v-13.5h7v-7.9h7v-.8h3v2.5h3v-24h.9v12.2h.9v-10.1h1v-11.1h1.5v8.4h2v-21.7h2v5.9h5v23.4h.8v16.4h.8v-10h.9v1.2h1.1v12h1.8v-11.6h1.9v17.3h1.8v2.4h3.4v10.5h6.5v-34h.8v-10.6h.8v.9h.8v6.5h1.2v-4.3h3.8v-6h9v-4.3h.8v19.1h.8v20.6h.8v-10.3h1.1v3.4h1.4v-34.8h1.2v40.3h.8v7.1h.8v21.8h.8v-7.1h.9v1.4h2.1v-2.5h9v-51.4h1.1v24h2.2v-17.3h5v6.4h6v-20.5h1.2v1h1.2v-4.2h1.3v-4.1h1.9v9.9h2v-39.5h5.3v26.7h6v10.5h1v2.5h.8v6.6h.8v29.5h.8v9.8h.8v7h.8v-14.3h.8v17.5h1.7v4.6h3.6v-16.1h3.6v8.8h3.9v-7.4h3.8v2.1h4v5h2.1v6.2h2v-12.8h4.5v-.1h7.3v14.8h1.6v5.9h.9v-3.3h.9v14h.9v-4.9h1.2v3.6h2.5v-1.8h6v-2h5v-3.6h3v4.7h3v10.8h1.2v1.3h1.3v-3.9h2.1v10.1h9v-25.9h8v19.7h9v-7h3v-.9h6.2v.8h1.7v-18.9h1.9v1h5v6.6h8v-15.2h3.9v-4.4h3.6v15.8h.9v10.9h.8v-2h.9v3.1h.8v-1.2h1.1v5.9h1.3v.5h1.7v24.9h1.8v-14.1h2v7.1h3v-1.4h2.9v-51.5h1.3v17.6h1.3v10.3h1.2v-.3h2.1v-10.1h2v8h6v-63.9h.8v-3.1h.8v12h1.1v7.9h4.9v36.2h.8v11.6h.8v3.2h1.1v2.2h1.9v-16.5h1.5v9.6h.8v36.4h.8v-6.8h.8v19.6h.8v7.7h.8v.6h1.6v-1.8h.8v-22.1h.8v1.6h.8v-10.2h.8v-.6h.8v3.2h.8v-36.9h.8v2.8h.8v-10.9h.8v-3.9h.8v-12.4h.8v-1.9h1.5v1.5h2v-5.3h5.9v30.1h1.3v-7.1h7v21.6h2v-20.7h9v-40.8h.8v2h.8v.1h.8v-16.2h1.3v37.8h.8v18h.8v11.9h.8v-19h3v10.2h2v18.1h7v-12.2h.8v16h.8v11h.8v5.3h.8v14.8h.8v6.9h1.9v1.7h2.9v-4.5h2.9v4.3h5v13.1h3v-15.1h2.2v-14.2h.8v5.8h.8v-12.4h.8v-14.7h.8v1.2h.8v5.6h.9v-10.9h.9v-4.6h.9v-.5h.9v-14.2h1.2v-6h2.1v7.5h2v-5.7h4v15.1h.8v2.2h.8v-2.5h1.3v2.2h3v12.3h6.3v7.6h2.6v-25.2h1.9v9.5h1.8v3h7v4.1h2v-22.7h1.9v39.8h1.9v-.4h1.8v5.3h1.9v3.9h1.9v14.7h6.2v-22.6h5v-1.4h.8v3.6h.8v-15.6h.8v6.8h.8v-17.9h.8v-3.4h.9v-1.1h1v-14h1v-.4h1v-1.6h1v-12.5h1v1.2h1.3v3.5h3.1v-19.5h.8v105.5h.8v.2h.8v-9.7h.8v6.5h1.3v-3.6h1.4v-15.8h1.3v-10.7h1.4v.6h1.4v-1.8h1.5v-1.3h1.4v-8.7h1.5v-2.9h1.5v-9h1.2v4.3h1.1v-6.6h1v-35.8h1.1v23.7h1v5.9h1.7v-10.1h1.5v18h.8v13.2h1v-13.9h1.2v10.2h2v-13.2h2v26.5h1.9v.5h2v6h2v.9h2.1v9.6h2.1v-23.5h2v22.1h1.2v-15.9h.8v-7.3h.8v-14h.8v.9h.9v-3.7h2.3v-14.7h3v42.1h.8v-14.7h.8v29.1h.8v-3.2h1.1v3.3h2.1v10.6h2v6.1h1.9v19.6h1.9v-8.7h1.8v11.7h1.9v-17h4v4.7h2.4v-8h2v1.2h2.4v-8h1.3v-16.9h1.1v7.5h1.1v-11h1.5v-7.5h5.5v6.3h5v3.1h2v-3.7h1.8v-11.3h1.9v3.6h1.2v-9.6h.9v-21.1h.8v-.9h.8v3.6h.8v-12.6h.8v-3.6h.9v4.8h2.5v9.8h.8v4h.8v1h.9v23.7h1.2v-16.8h1.8v10.8h1.9v.6h1.8v10.6h2.2v-.8h3v3.7h2.9v8.9h2.3v-9.5h1.3v-21.5h1.2v-1.5h1.2v7.3h1.3v1h1.2v-18.5h1.5v6.9h2.6v-17.7h4v-32.6h1.7v48.3h.8v17.8h.8v2h.8v7.2h1v-10.3h1v25.8h1.1v-7.7h1v23.6h1.1v-8.9h1.4v-18.9h4v.9h1.3v-9.9h1.4v9.8h1.2v-30.7h1.2v18.4h1.1v-35.6h1.1v12.8h1.3v-.8h3v4.8h2v32.3h8v-44.5h.8v4.2h.9v-7.5h8v-15.4h1.2v-5.1h1.7v5.6h4v-5.6h8v14.6h1.6v8.8h1v-1.4h.8v-6.2h.9v9.2h1.6v11.2h1.4v-15h1.2v-4.4h1.5v-.9h5.7v9.9h2.1v23.2h.8v8h.8v27.3h.8v5.2h.8v13.4h.8v4.4h.8v-1.4h2.2v-36.3h.8v1.1h.8v-.7h.8v-16.5h1.7v.1h1.8v-1.9h2v-.1h4v8.9h2.9v.8h2.2v3.8h1.8v16.3h1.9v-12.9h1.8v-8.7h7.9v-20.4h6.3v-18.8h6v22.9h1.8v1.2h2v-9.1h2.5v11.6h3.1v8.6h1v-7.2h7v-31h5.5v34.1h2v-19.2h6v27.3h1.1v-.4h.8v34.3h.8v-17.1h.8v-7.3h6v-12.9h1.5v-5.9h1.5v-7.4h1.5v2h1.5v-7.4h1.6v10.1h1.5v-14.5h1.9v-1.9h3v-19.3h2.9v26.6h2.1v5.5h1v-23.5h1v20.1h1v6.8h1v18.6h1.1v-17.9h1.5v10.2h3.6v1.4h3.7v-1.1h.8v-2.9h.8v-17.5h.8v6.5h.8v-12.9h.9v-6.5h1.7v-8h2v21.9h2v.6h2v-4.1h2v-3.9h.8v16.5h.8v11.5h.8v18.7h.8v-2.1h.8v-1.1h.8v.8h1.1v8.7h1.5v-3.4h1.4v10.7h1.4v3.6h1.5v11h1.8v-5h4.1v11.6h6.3v-27.5h.8v14.6h.8v-23.2h.9v19.9h1.6v-11.8h6v-8h6v1h2.6v-2.1h1.5v-10.1h1.5v2.8h1.5v2.6h.8v-19.3h.8v-14.4h.8v-5.8h.8v-16.5h.8v14.3h1.1v-12.1h2.1v4.9h2.6v17.8h2.2v-.5h1.2v-12.9h1.3v29.6h1.3v6.2h1.3v-12.1h1.4v18.8h1.3v7.1h1.4v9.6h2.1v-11.9h5v-1.8h1.9v.1h.8v41.1h.8v13.7h.8v-9.5h1.7v-12.9h1.9v-1.6h1.8v7.5h1.9v-28.3h2v3.2h2.1v-23.4h2.1v15.7h4v1.6h1.6v13.1h3v2.2h5v3.8h9v-12.4h2.1v-25h3.2v17h2.1v3.1h2.1v19.5h2v-14.3h1.8v-3.6h1.2v-7.4h2v-.4h1.2v5.3h.9v8.1h.8v24.2h1v-12.5h2.1v-.3h1.7v-14.1h1.6v17.1h1.6v-11.6h4v4.3h.9v12.3h1v7h1.9v2.6h9v-19.1h.8v-1.8h.8v-5.9h.8v-2.9h1.6v-7.3h2v.4h2.4v-.6h1.6v-13.7h1.2v-6h1.7v19h6v15.2h.8v-11.9h.8v1.7h2v18.9h3v-14.3h3v10.8h2.4v-9.3h2.4v4.6h9v15.4h5v1.6h4v-12.9h2v-5.4h2.7v9h1.3v-20.6h1.2v5.6h2.6v2.7h2.9v16.4h2v-17h5v14h3v-4.7h6v-13.1h6v25.8h2.1v-1.2h1.6v-7.1h1.6v2.8h1.7v-2.3h1.2v-34.4h.8v13.3h.8v1.2h.8v-11h.8v-1.8h.8v-10.2h.9v-1.5h1.4v-1.9h8v8h6v45.2h.9v-5.8h3v-4.5h6.8h0v119.2h-3.3v-4.6h-5v-.1h-7v.2h-4v-7.6h-4.8v2.4h-2v.3h-5v-4.6h-6v2.9h-9v7.1h-8v-5h-3v-2.5h-3v5.3h-3v-.6h-7v-2h-7.7v1.6h-3v-1.7h-9v.4h-7v-1.9h-2v3.3h-3v-1.5h-9v-.4h-2v10.4h-3v-7.1h-9v8.3h-9v-8.3h-6v-1.9h-4v-3.4h-8v7.1h-3v16h-4v-20h-8v9.2h-4.7v-20.1h-4.8v-1.1h-6.2v4.9h-3v4h-6v-.2h-4v-2.7h-7v9.3h-2v-1.4h-4.1v-8.4h-4v3h-2v-9.5h-8v.6h-4v3h-2v3.7h-2v-3.5h-3v-3.2h-3.9v8h-4v5.5h-3.8v-7.1h-3.9v-4.1h-6v-.3h-2v5.9h-6v-.1h-8v-4.9h-3v6.5h-5v-7.3h-5.6v.2h-5.7v-5.7h-6v-4.8h-5v11.6h-5v-7h-3v3.6h-3.9v5.8h-5v1.7h-6v-6.3h-6v-7.3h-5v5.9h-4v-5h-5v7.4h-8v-8.1h-4v3.2h-5v-3.2h-5v.4h-5.8v5.6h-7v15h-3v-18h-4.8v-4.7h-9v-3.1h-7v14.8h-7v-14.1h-3v-1.9h-6.2v7.2h-7v26.4h-6v-14.9h-6v-8.7h-8v-4.8h-4.8v10.4h-8v-15.1h-9v-1.4h-9v5.5h-6.1v-.3h-3.9v2.9h-3.8v2.5h-2v4.3h-4v4.8h-3v-2.6h-3v4.7h-3v-14.3h-4.8v2.5h-4.8v-9.3h-2v-2.5h-2v3.6h-4.6v-6.7h-2.9v.2h-2.9v-5.1h-2v-8.3h-6v2.1h-5v.2h-5v6h-2.9v2.4h-2.9v7.6h-3v3.3h-8v.6h-5v-2h-9v-5.2h-9v-2.2h-8v3.3h-4v.6h-7v5.7h-4v-7.3h-6v-.1h-8v-2.5h-3v1.5h-5v2.8h-3v-5.7h-3v10.6h-8v-19.5h-2.8v5.1h-1.5v1.7h-1.2v5h-1.2v12.1h-4.8v-10.2h-4.8v13.1h-2v-18.3h-6v1.9h-4v-5h-2v-.1h-5v-3.6h-4.7v5.8h-4v-1h-5v6.2h-2v-1.3h-4v-8.4h-3v-.7h-1.9v-10.1h-2v-2.8h-2v4.7h-4.8v-4.8h-2v28.5h-1.9v-17h-1.1v16.7h-1.1v-1.7h-9v-8h-4.5v1.2h-8v-10.2h-3v1.8h-2v-5.3h-4v7.7h-3v1.5h-4v-3.7h-2v-.3h-5v.9h-5v-11.5h-7.7v9.8h-3v-10.5h-7v4.5h-6.9v3.9h-8v3.9h-7v-9.3h-4.1v-.9h-2v-6.6h-2v2.3h-3.6v-8h-5v-10.5h-2v5.9h-2.1v9.9h-2.2v.6h-2.3v8.3h-2.5v4.5h-2.4v2.2h-2v3.7h-4.8v3.5h-5v-17.8h-2v1.6h-4v-.6h-5v-.9h-3v4.3h-6v3h-5v-8.3h-2.5v2.5h-1.8v-8.3h-1.8v5.1h-1.8v-14.2h-1.8v-6.5h-4.7v-3.8h-4.8v6.2h-3v.2h-5v6.1h-9v4.6h-4.8v-7.2h-9v-.1h-8v5.3h-5v-2h-5v-8.3h-6v3.1h-3v-1.7h-4v3.9h-4v4.7h-9v-7h-7v-2.9h-6v-1.7h-7v-3.5h-6v1.8h-3v3h-4v2h-9v-.3h-9v2.4h-5v-10.3h-6.9v-4.9h-5v-2.2h-2v4.8h-4v-7.2h-9v-6.3h-4v1h-4v6h-2v3h-4v-.5h-4v-5.9h-2v1.7h-6v13.3h-6v-17h-4v5h-7v-6.7h-7v-.4h-4v-4h-9v-.7h-3v-.1h-6.8v-4.8h-4.7v-1.8h-4v-1.1h-8v-3.6h-8v2.3h-6v-3.4h-9v.1h-6v-5.8h-4.7v13.5h-7v-3.6h-8v-1h-3v-1.7h-4v.9h-2.4v.4h-1.7v-7.6h-3.6v-14h-4v1.2h-6v.6h-8v2.5h-1.9v3.4h-4v8.4h-6v3.1h-2v-6.1h-1.1v3.6h-.9v-17.8h-.9v-3.1h-1v-9.3h-2.5v-5.2h-2.9v-11.3h-4.6v3.8h-4.8v-6.8h-2v-3.8h-9v6.2h-4.7v-10.6h-8v-.4h-3v6.3h-6.1v.6h-3v.3h-2v-1.4h-4.2v-13h-3.6v1.3h-3.8v-6.1h-3.8v-6h-4.5v-2.8h-7v5h-6v-.9h-5v3.4h-5v-4.6h-3v1.4h-2.9v-14.4h-2.9v.9h-2.6v-1.4h-2.4v2.9h-2.5v-17.5h-4.7v-2.2h-3.9v-3.4h-2.4v-1.3h-2.7v-8.2h-3.6v-4.3h-4.8v-8.4h-2v6.5h-6v-9.9h-2v-8.3h-1.4v-2.9h-1.5v-2.1h-3v-9.1h-4.7v4.3h-2.7v-11.9h-2.4v-3.8h-2.5v-10.3h-2.4v2.2h-2.4v-12.6h-2.5v-1.8h-2.4v-8.5h-2.5v-7.1h-2.4v3.6h-1.2v-2.1h-.8v-3.3h-.8v-8.7h-.8v-9.8h-.9Z" fill="#2ca02c" fill-opacity="0.15" stroke="#2ca02c" stroke-opacity="0.22" stroke-width="1.1" stroke-linejoin="round"/>
<path d="M206.5,552h4v-6.2h5v4.7h6v-4.4h9v-2.3h9v-.9h5v2h2v4.6h4v-3.9h2v2.3h9v-33.7h6v53.2h1.2v4.2h1.1v-14.7h1.2v16.1h1.2v13h1.2v11.8h1.1v-4.4h1.2v-4.6h1.2v14.5h1.2v12.1h1.1v-1.7h1.2v12.3h1.2v5.4h1.2v10h1.1v-6.6h1.2v13.3h1.2v.3h1.2v2.9h1.1v14h1.2v4.4h1.2v-10.4h1.1v17.7h1.2v4.4h1.2v-5.6h1.2v-29.4h1.1v44.4h1.2v5.1h1.2v11h1.2v5.9h1.1v-34.5h1.2v24.7h1.2v14.3h1.2v11.1h1.1v4.7h1.2v10.3h1.2v4.5h1.1v4.4h1.2v-7.3h.8v28.8h.8v8.4h.8v33.1h.8v4.1h.8v-1h.9v3.9h3.8v4h3.9v.8h3v-1.9h3.2v12.8h3v-2h2v-.3h4v-5.3h6v-12.7h.8v-21.6h.8v-14.1h.8v11.4h.8v-9.1h3.7v-6.1h4.7v-3.8h4.8v72h.8v-3.8h.8v-1.8h1v.9h2v5.7h1.9v8.5h2v-23.5h2v5h2v31.9h2.3v.4h2.2v8.9h2.2v2.4h2.2v9.9h2.3v10.4h4.2v5.3h5.8v-12.3h3v1.8h4v-9.7h2v.1h2v-5.8h8v1.6h2v-5.4h3v.5h9v-2.5h5v13.3h3.6v-7.2h1.6v2.5h.8v-15.3h.8v4.1h.8v-15.8h.8v-2.8h.8v-8.6h.8v-11.1h.8v-9h1.2v4h2.5v.7h5v7.5h2v18.5h.8v21.7h.8v10.8h.8v21.6h.8v-20.1h.8v4.3h1.8v13.9h1.9v9.4h1.8v2.9h4v-15.6h4.8v-.8h2v6.2h2.8v-5.7h2.5v-9.3h7.5v8.2h4v33h.8v-2.3h1v1.8h2.1v-2.2h2.1v-24.1h2v41.6h3v-1.2h8v3.1h7v.2h3.3v-2.8h2v-6.3h3v18.6h8v-.1h2v8.2h2v-23.5h3v16.5h2v-2.8h4v3.6h8v11h1.8v11.3h1.7v-9.6h2.7v8.4h4.8v-7.1h4.7v-8.5h3.4v-24.1h3v6.2h1.2v-2.8h1.4v4.5h1.5v-9.5h1.5v24.4h1.6v4.2h2.5v.3h3.9v7.1h2v13.1h3.1v-.5h1.5v.3h1.4v-13.4h7v-10h2v15.1h5v10.4h1v-10.4h1.3v18.1h2v11h2.1v-12.6h2v.2h3v2h1.6v-3.4h1.6v-13.3h1.7v-.2h2.2v-4.7h2.9v.9h2.9v-9.4h5v-1.9h4v-8.9h5v-16h9v29.9h5v2.4h4v10.1h2.4v-1h1.6v5.9h1.7v2.3h1.6v4.4h5.8v-23.9h4v7.1h2v-27.1h3v18.9h2v13.2h2.6v10h.8v-4.5h.8v-16.2h.8v23.5h.8v13.2h1.1v-14.3h1.7v20.4h2v.5h3v-18.7h.8v-13.8h.8v7.4h1.2v6.7h2v-10.4h8v-31.7h1.5v25.6h6v-8.9h1.1v14.7h.8v13h.8v-2.2h.9v2.9h.9v7.1h1.2v7.3h1.5v-2.1h1.7v6.4h2.9v-5.3h5v1.7h3v4h3.4v2h2.1v6h3.9v4.4h2v8.3h4v-14.8h4.7v-1.1h4.8v15h6.8v1.2h2.4v-9.1h2v-4.5h2.2v-21.1h4.3v17.3h4.8v-4h2v-7.1h4.3v-11.4h1.9v2.3h8.9v-7.8h1.2v23.1h.8v-4.9h1v15.7h1.7v-6.6h2v-4.1h6v-1h8v2.5h2v8.3h3v-1.8h1.7v6.6h1.2v-14h1.3v29.4h2.2v-8.3h3v-.9h3v-3.7h.8v-12.1h.8v-4.3h.9v-7.2h1.9v.2h8v10.8h7v-6.7h6v-5.9h5v-2.1h4v26.3h1.5v-11.8h1.5v23.6h1.4v-1.5h2v1.8h5.5v11h5v-6.3h4.8v-9.3h4v14.4h6v2.3h3v9h6v-23.2h.8v-14.7h.8v-9.5h1.2v2.7h3.4v2.7h9v2.2h5v-18.9h1.6v3.9h3.6v.4h5v-1.1h8v22.9h6v2.2h3v-1.9h7v-6.6h9v7.8h8v.3h6.3v17.4h1.3v-1.7h1.9v15.6h3.2v-7.3h3.2v8.5h3.3v2.1h7v.8h4.1v-5.7h3.6v-7.3h4v.1h1.2v-13.1h.8v-3.4h.8v-11.3h.8v-7.1h.9v-.7h2.7v-31.6h5.9v-19.3h3.3v1.6h3.4v15.1h.8v1.6h.8v20.5h.8v10.9h.9v-10h3v25.9h7v13.1h1.5v3.4h1.4v17.4h1.6v.1h1.6v3.4h1.8v1.3h1.7v-1.8h7.9v-21.3h2.3v4.7h2.8v-8.3h4v5.2h2v-1.5h3v2.7h3.8v4.5h2.5v13h6v-6.3h5v-20.4h1.6v8h1.4v-19.8h1.4v8.6h3.5v-6.2h1.4v16.6h1.5v-.2h1.5v5.1h1.7v13.5h2.1v-3.4h2.1v8.8h2.1v-6.4h5.5v-14.4h2v-21.2h2.1v8.5h2.1v1.1h3.3v9h6v14.4h.9v4.2h1.2v9.5h4v-3h9v-32.6h1.1v22.2h5v11.7h1.9v5.4h4.8v-1.1h6.5v-10.6h9v-21.3h2.2v-1.1h2.2v-16.7h2.2v-3.2h2.7v12.2h1.4v11.9h1.5v-5.6h1.6v2.2h2.5v15.1h2.9v-1.6h2.8v-25.6h2.5v39.4h4.7v-19.5h2.1v.4h2.1v12h2.9v-7.3h1.4v8.4h2.4v18.8h2v-10.9h2v5.1h5v-6.6h2.6v16h3v-30.3h.8v2.8h1v14h5v4.4h5v7.4h4v-18.2h2v14.5h2.7v-12.8h1.1v-8.1h1.1v-8.3h1.8v-.1h5v1h9v11.9h2.4v0h2v-15.4h.9v-1.1h.9v-10.9h1.1v16.9h1.9v-8.9h7v-27.5h3v39h1.1v15h1.1v-6.8h1.2v5.2h1.4v4.8h1.6v11.8h1.6v2.6h4.2v-23h3v-1.6h8v14.8h2v-4.2h3v5.8h3.3v19h1.7v-.9h1.7v1.9h2.9v.2h3.9v-3.2h3.8v-11.7h6v10.5h2v-30.8h.8v-6.6h.8v-37.8h.8v21.4h.9v-1.8h4v11h4v-3.7h2.2v2.7h1.4v.9h1.4v-14.1h3v7h1.4v5.7h1.4v-2.2h1.4v6.2h1.4v16.7h1.4v-13.4h2.6v14h3.3v-9.7h3.4v8.1h2.2v-2.3h3v5.3h5v-3.3h3.7v-8.5h1.8v-5.1h1.8v-5.7h1.8v-3.6h2v13.3h.8v-1.3h.8v12.8h.8v8.9h.8v-6h.9v5h1.5v1.3h3v-14.8h9v3.4h4v-.4h3v8.7h2v-10h4.8v10h7v1.5h2.5v5.5h2.6v3.4h3.7v4.5h3.6v18.7h4.7v-11.8h2.5v-10.3h2.4v-16.2h2.5v3.8h2.9v2.2h2.9v1.6h5v5.6h2.9v-5.2h4.7v-.5h4.8v-30.6h.8v-3.2h.8v-1.7h1v.1h2.5v-4.7h8v11.8h.8v31.2h.8v3.4h.9v-1.5h6v4.2h7v-11.3h4v-3.8h3.4v7.3h4.2v19.9h1.5v-13.2h2v2.1h1.5v-8.7h1.5v-5h1.6v3.8h1.5v-18.6h2.1v8.1h9v8.6h1.1v3.4h.8v8.4h.8v-1h1.2v7.6h3.3v-7h6v-5.7h3v-12.5h7v17.7h2v-9.1h5v21.3h2v2.2h2v-18.7h6v-19.3h.8v5.9h.8v-1.7h.8v-11.2h.8v-5.9h.8v-30.5h1.7v40.5h1.4v-.5h1.2v-3.5h1.5v14.9h3v-.1h7v-.6h.8h0v82.8h-1.1v4.4h-5v-6.8h-2v-7.8h-7v8.1h-9v5.5h-2v-2.9h-3v2.6h-6v-.7h-7v10.1h-7v-11.9h-3.9v-3.4h-3.2v-.7h-7v6.7h-4v.1h-9v.1h-2v-3.1h-5v-3h-4v4.4h-2v-2h-3v1.1h-4v-2.7h-5.3v-5.5h-5v.9h-6.3v3.1h-3v-1.6h-3v-6.4h-8v2.5h-7v-1.2h-2v3.5h-5v.9h-3v1.8h-5v2.7h-5v-5.9h-4v.3h-3v2.5h-6v-4.7h-5v-3h-6v3.7h-2v-1.9h-4v2.6h-2v.6h-8v0h-2v-1.1h-4v-2.6h-2v3.1h-4v-.8h-7v1.7h-5v-1.3h-2v1h-7v-1.5h-7v-3.8h-3v3h-3v-.4h-6v1.5h-8v3.3h-5v1.4h-3v-2.2h-7v.8h-2v-8.5h-5v6.9h-2v5.4h-2v-5.3h-5v-3.2h-5v.4h-7v.6h-8v2.1h-3.2v-1.2h-3v-10.5h-4.7v.3h-4v4.6h-3v1.9h-9v.3h-8v-.8h-4v2.7h-3v-4.9h-1.7v-6.7h-2.7v-3.2h-3v5.6h-8v-.5h-4v2h-4v3.4h-2v-1.3h-4v4.6h-3v-2.7h-8v6.2h-5v-3.9h-8v-.4h-3v-5.2h-5v-.2h-4.7v-7.9h-2v-2.2h-2v1.4h-7.4v1.4h-4v1.7h-8v.2h-6v2.6h-2v-1.2h-5v6.9h-5v5.2h-3v-1.7h-9v-10.3h-4.7v1.2h-2v1.2h-6.3v1.4h-5v-2.1h-3v-5.1h-2.2v-2.7h-6v-4.6h-3v5h-4.1v2.8h-5v2.5h-4v5.6h-8v-1h-4v0h-8v1.9h-2v-.8h-5v-.2h-2v-5h-9v-3.2h-5v-3.9h-6v-1.9h-6v1.7h-5v2.9h-3v1.1h-6v-2.7h-4.7v-2.4h-4.8v-3.7h-2v-2h-7v7.9h-9v.9h-4.8v-9.4h-5v-.9h-5v1.6h-3v-1.2h-4v-5.1h-3v2.1h-4v7.2h-7v.4h-6v-.1h-4v-2.9h-6v2.1h-7v-.5h-9v-4h-3v1.3h-6v1.4h-2v2.1h-1.6v-10.8h-6v4h-6v-3.1h-4v0h-5v.2h-6v2.7h-3v1h-3.3v2.1h-3v2.9h-6v-2.8h-3v-1.7h-4.7v-.9h-4.8v-7.7h-2.2v8.1h-1.4v-1.3h-1.4v3.9h-5v-6h-6.5v-.7h-3.3v-3.9h-4v-4.4h-6v-1.2h-8v5.8h-9v2.8h-2.4v-12.6h-6v8.6h-8v-3h-8v-3.7h-9v-1.5h-4v1.6h-6v-4.1h-6.6v2.4h-2v.6h-2v5.4h-3.2v6.5h-5v-2.3h-6.5v-7h-5v-1.8h-2v-5h-7.4v9.2h-7v-.3h-4v-2.8h-4v.2h-4v-5.1h-4.8v-4h-3v-4.5h-5v-5.8h-4v4.4h-5v6.9h-6v-5.3h-3v9.8h-6v-10.2h-3.5v3.4h-5v-1.6h-4v2.9h-3.8v-3.1h-7v-11.4h-3.9v7.4h-3.8v.6h-4v-2.2h-4v-3.9h-2v-7.3h-5.2v6h-4.7v4.6h-6v1.4h-7v-2.7h-3.8v-2.5h-2v-5h-3.9v-3h-4v.9h-4v.2h-7v1.5h-4.5v-6.4h-5v3.2h-4v-7.3h-6v2.7h-9v.6h-8v-2.1h-5v-5.7h-8v.5h-2v1.2h-3v-4.2h-3v1.8h-4v.6h-9v-2.7h-3v3.7h-2v-2.9h-4.8v-5.2h-4.7v3.7h-7v3.2h-2.9v-7.8h-3.7v-6.1h-4v4.1h-2v.8h-5v-6.6h-3v1.9h-3v-6.8h-3.8v-3.9h-2v6.7h-9v5.5h-2v-1h-2v-2.7h-4v-.2h-9v-2.2h-8v-4.5h-3v-.6h-2v-3h-8v-3.2h-4v-1h-6v-.8h-3v-.5h-7v-7h-4v2.6h-5v-4.9h-2v-2.2h-3v.8h-6.1v-2.8h-2.7v-5.8h-2.8v-4.4h-2.8v-3.4h-3v-4h-3.9v-7.4h-3.8v-4.9h-2v-1.3h-3.8v-8.2h-6v-.9h-2v8.4h-4.2v4.2h-4.8v14.7h-3v-7.3h-3.8v-6.2h-3.9v-8.9h-8v4.4h-4v-2.9h-2v-4.2h-3.2v1.5h-3.2v-3.7h-2.5v-6.3h-1.7v-6.7h-1.6v-3.3h-1.6v-7.9h-1.7v-3.4h-1.6v-3h-1.6v-6.5h-1.4v-11.5h-5v-2.4h-3.1v5h-4.8v-3.1h-3v-2.2h-1.8v19.6h-9v1.9h-2.1v-4.7h-2.1v-6.8h-2v-2.6h-1.2v-3.2h-1v-8.6h-.9v-2.5h-.9v-11.2h-5v-.3h-4.2v4.6h-2v6.4h-2.1v2.7h-3v-2.9h-1.1v-1.6h-1.1v-4.3h-1.2v-4.8h-1.4v-3.4h-2v-7.6h-2.1v-7.2h-2v-6.6h-2.1v-6.5h-2v-.3h-4.6v-9.6h-5.5v-1.5h-3.3v-3.5h-3v-6.6h-1.8v-2.7h-1.4v-7.6h-1.2v-1.7h-1.3v-7h-1.2v-5.5h-2.1v-3.9h-2.9v-7.7h-3.3v-5.6h-3v.1h-3.8v-.5h-1.1v1.5h-.8v-10.7h-.8v-13.3h-.8v-4.4h-.8v-34.1h-.8Z" fill="#d62728" fill-opacity="0.15" stroke="#d62728" stroke-opacity="0.22" stroke-width="1.1" stroke-linejoin="round"/>
<path d="M351,549.5l1.2,.4 1.2,.5 1.2,3.7 1.2,3.3 1.2-.7 1.2-1.1 1.2,1.3 1.2,.3 1.2,2.3 1.2,2.9 1.2,1.5 1.2-.2 1.2,.5 1.2,2.7 1.2,2.2 1.2,1.1 1.2,.4 1.2,.9 1.2,1.4 1.2,.9 1.2,1.1 1.2,.3 1.2-.5 1.2,1 1.2,.8 1.2,1.5 1.2,2.2 1.2,2.8 1.2,.6 1.2,.6 1.2,.5 1.2,.4 1.2,.9 1.2,1.9 1.2,.2 1.2,1.8 1.2,1.8 1.2,1.8 1.2,.8 1.2,2.3 1.2,1 1.2,1.7 1.2,1.2 1.2,.9 1.2,.9 1.2,1.4 1.2,2.1 1.2,.8 1.2,1.4 1.2,1.3 1.2,.9 1.2,1.6 1.2-1.6 1.2,0 1.2,2.7 1.2,1.7 1.2,2.3 1.2,1.7 1.2-1.1 1.2-.9 1.2,2.2 1.2,2.8 1.2,2.2 1.2,.8 1.2,.2 1.2,2.6 1.2,1 1.2,.2 1.2,.8 1.2,1.7 1.2,1.8 1.2-.1 1.2,.1 1.2,.7 1.2,1.5 1.2,1.4 1.2,2 1.2,1.6 1.2,1.6 1.2-.3 1.2,0 1.2,.2 1.2,2.6 1.2,3.4 1.2,1.8 1.2,.8 1.2,.3 1.2,1.4 1.2,.1 1.2,.4 1.2,.9 1.2,2.2 1.2,2.6 1.2,.3 1.2,1.3 1.2,.8 1.2,1.5 1.2,.6 1.2,.6 1.2,.6 1.2,.6 1.2,.9 1.2,1 1.2,1.1 1.2,.5 1.2,.9 1.2,1.9 1.2,2.1 1.2-.9 1.2-.8 1.2,.8 1.2,.8 1.2,1.6 1.2,1 1.2,.9 1.2,1 1.2-.6 1.2-1.1 1.2,.4 1.2,1.3 1.2,1.6 1.2,1.4 1.2,.2 1.2,2.4 1.2,2.4 1.2,.8 1.2-.5 1.2-.3 1.2-.4 1.2,.3 1.2-.4 1.2,1.5 1.2,1.1 1.2,1.5 1.2,.4 1.2,1.9 1.2-.5 1.2,.3 1.2,.8 1.2,1 1.2,1.2 1.2-.5 1.2,.3 1.2,1.5 1.2,1.7 1.2,2 1.2,1 1.2-1.8 1.2-2.1 1.2,1.3 1.2,2.7 1.2,1.4 1.2,.4 1.2,1.6 1.2,1.1 1.2,.8 1.2,0 1.2,1.1 1.2-.2 1.2,.7 1.2,.8 1.2,1 1.2,.7 1.2,.4 1.2,.7 1.2,.9 1.2,1.2 1.2,1.4 1.2,1.9 1.2-.2 1.2,.7 1.2,.5 1.2,0 1.2-.2 1.2,.2 1.2,0 1.2,.8 1.2,1.6 1.2,2 1.2,.7 1.2-1.2 1.2,.8 1.2,1.5 1.2,1.7 1.2-1 1.2-1 1.2,3.8 1.2,3.4 1.2-.8 1.2-.3 1.2-.6 1.2-1.3 1.2,0 1.2-.3 1.2,.5 1.2-1.9 1.2,.4 1.2,1.9 1.2,2.4 1.2,.1 1.2,1.7 1.2,.1 1.2-.7 1.2,.1 1.2-.8 1.2,.7 1.2,2 1.2,1.5 1.2-1.2 1.2-1 1.2,1 1.2-.5 1.2,.5 1.2-.4 1.2,.4 1.2,.7 1.2,1.7 1.2,1.7 1.2,.6 1.2-1.4 1.2-.4 1.2-2.8 1.2-.4 1.2,2.1 1.2,1.9 1.2,1.7 1.2,.8 1.2,.6 1.2-1.5 1.2,.1 1.2-.6 1.2-.1 1.2,.2 1.2,.5 1.2-1.6 1.2-.1 1.2,1.6 1.2,2.5 1.2-1.2 1.2-.4 1.2,0 1.2,.5 1.2,1 1.2,.1 1.2-.6 1.2,1 1.2,.7 1.2,2.3 1.2,1.4 1.2-.6 1.2,.5 1.2-1.9 1.2-.8 1.2,.4 1.2,1.2 1.2,.6 1.2,1.5 1.2,.2 1.2-1.9 1.2-.2 1.2-.2 1.2-.4 1.2,0 1.2,0 1.2,2.3 1.2,2.2 1.2-1 1.2-.8 1.2,.4 1.2,.6 1.2-.6 1.2-.7 1.2-.3 1.2,.1 1.2,0 1.2,1.2 1.2,2.3 1.2-.7 1.2-2.3 1.2,.2 1.2,.4 1.2-.6 1.2,0 1.2-.8 1.2,1.3 1.2,.6 1.2,.7 1.2-.2 1.2,.7 1.2,.3 1.2-.4 1.2-.8 1.2,.3 1.2,1.4 1.2,.8 1.2,.5 1.2-1.3 1.2-1.3 1.2-.8 1.2,2.9 1.2,2.4 1.2-1.2 1.2,.9 1.2-1.1 1.2-1.4 1.2,.8 1.2,1.2 1.2,.9 1.2,.6 1.2,.8 1.2-.5 1.2,.5 1.2,1.2 1.2-.2 1.2,.2 1.2,1.1 1.2,.4 1.2,.9 1.2-1.2 1.2-.6 1.2-.1 1.2,1.8 1.2,1.5 1.2,1.9 1.2,1 1.2,.3 1.2,.1 1.2,.3 1.2-2.1 1.2-.1 1.2-1.5 1.2-2.3 1.2-.8 1.2-.2 1.2-.3 1.2,0 1.2-2.1 1.2-.5 1.2-.4 1.2,.5 1.2,.9 1.2,.6 1.2,2.3 1.2,1.3 1.2,2.9 1.2,2.9 1.2-1.9 1.2-1.8 1.2-.9 1.2-1 1.2-1.8 1.2-1.9 1.2,.3 1.2,1.4 1.2,2 1.2-.8 1.2,.3 1.2-.5 1.2,.5 1.2,.4 1.2,.1 1.2-1 1.2-1.8 1.2-1.9 1.2,1.1 1.2-.2 1.2,2.6 1.2,2.9 1.2,3.5 1.2,3.9 1.2,1.2 1.2-2.2 1.2-2.1 1.2-2.3 1.2-1.8 1.2,2.3 1.2,2 1.2,2.2 1.2,1.6 1.2,3 1.2,2.6 1.2,1.4 1.2-3.1 1.2-2.1 1.2-2.2 1.2-3.8 1.2-5.8 1.2-1.6 1.2,1.3 1.2,.2 1.2-2 1.2-1 1.2-1.4 1.2,1.5 1.2,1.5 1.2,2.8 1.2,.4 1.2,.8 1.2-.6 1.2-.9 1.2-1.1 1.2-2.7 1.2,3 1.2,2.8 1.2,4.1 1.2,3.9 1.2-2 1.2-3.6 1.2-4 1.2-.8 1.2,.4 1.2,2.1 1.2,1.5 1.2,1.3 1.2-1.2 1.2,.3 1.2,.4 1.2-1.7 1.2-4.1 1.2-1.5 1.2,2.7 1.2,1.9 1.2,3.1 1.2,1.4 1.2,4 1.2,2.9 1.2,3 1.2-2.7 1.2-3.4 1.2-2.8 1.2-1.3 1.2,.2 1.2,1.2 1.2-3.1 1.2-1 1.2-1.6 1.2,.3 1.2-.2 1.2,.5 1.2-.1 1.2-1.7 1.2-.7 1.2,1.1 1.2-.2 1.2,.5 1.2,1.4 1.2-2.1 1.2-1 1.2,3.1 1.2,3.2 1.2,3.6 1.2,3.4 1.2,3.2 1.2,3.2 1.2,2.4 1.2,1 1.2,1.8 1.2,1.2 1.2,2.7 1.2,2.3 1.2,3.5 1.2-.9 1.2,1.2 1.2-.3 1.2-.6 1.2-1.7 1.2-2.8 1.2-2.1 1.2-2.6 1.2-3.1 1.2-2.6 1.2-1.8 1.2,3.2 1.2,5.1 1.2,2.9 1.2,1.9 1.2,3.1 1.2,2.2 1.2,3.1 1.2,1.8 1.2,.9 1.2-1.5 1.2-2.6 1.2,1.9 1.2,2.3 1.2,.6 1.2,1.3 1.2-3.1 1.2-6.3 1.2-5.1 1.2-5.2 1.2-3.3 1.2-4.3 1.2-3.7 1.2-2.8 1.2,1 1.2,2.1 1.2,1.9 1.2,.9 1.2,.6 1.2,.8 1.2,.9 1.2-1.1 1.2,.1 1.2-.9 1.2-1.5 1.2,2.3 1.2,1.8 1.2,3.1 1.2,3.5 1.2,4 1.2,1.5 1.2-.1 1.2-1.9 1.2-1.1 1.2-2.3 1.2-1.5 1.2-1.5 1.2-2.6 1.2-2.2 1.2-2.8 1.2,2.5 1.2,4.5 1.2,4.5 1.2,3.6 1.2,3.5 1.2,4 1.2,.1 1.2-1.2 1.2-1.9 1.2-1.7 1.2-5 1.2-5.1 1.2-4 1.2,1.8 1.2,2.7 1.2,2 1.2,.6 1.2-.1 1.2,3.6 1.2,3.3 1.2,2.6 1.2,2.3 1.2-.1 1.2-.9 1.2-3.3 1.2-2.1 1.2-1.7 1.2-.4 1.2-.4 1.2,1.9 1.2,2.9 1.2,3.5 1.2,2.3 1.2,3.9 1.2,3.2 1.2,1.4 1.2,1.6 1.2-.1 1.2,.6 1.2,1 1.2,.5 1.2,1 1.2,.9 1.2,2.2 1.2,1.6 1.2,1.1 1.2,1.1 1.2,3 1.2-1.3 1.2-.8 1.2-3 1.2-3.1 1.2-2 1.2-2 1.2-1.7 1.2,1.1 1.2,1.3 1.2-.3 1.2,.9 1.2,.7 1.2-.8 1.2,.6 1.2,1.2 1.2,3.5 1.2,3.3 1.2,3.8 1.2,2.3 1.2-.1 1.2-3.3 1.2-1.6 1.2,.4 1.2,2 1.2-.3 1.2-.9 1.2-1.1 1.2-1.2 1.2-.9 1.2,.7 1.2-.8 1.2-.8 1.2-.8 1.2-1 1.2-4.7 1.2-7.3 1.2-2.3 1.2-2.7 1.2-.9 1.2,.6 1.2,1.2 1.2,2.1 1.2,1.5 1.2,2 1.2,1.9 1.2,1.2 1.2-.7 1.2-.8 1.2,.1 1.2,2.5 1.2,3.5 1.2-2.8 1.2-5.7 1.2-2.8 1.2,1.7 1.2,1.5 1.2,1.9 1.2,1.3 1.2,.4 1.2,4.6 1.2,3.8 1.2,2.5 1.2,2.3 1.2,2.6 1.2,.5 1.2,0 1.2,.8 1.2-.1 1.2,.8 1.2-.3 1.2-2.3 1.2-.4 1.2,1.4 1.2,1.8 1.2,.9 1.2-.3 1.2,1.9 1.2,.8 1.2,1.8 1.2,1 1.2,1.5 1.2,1.2 1.2,1.1 1.2-1.6 1.2,.1 1.2,.3 1.2,1.6 1.2-1.5 1.2-2 1.2,.1 1.2-.2 1.2-.6 1.2-1.9 1.2-1.4 1.2,.7 1.2,1 1.2-4.1 1.2-5 1.2-1.2 1.2,.2 1.2,.3 1.2,.3 1.2-2.2 1.2-3.7 1.2-3.8 1.2,.5 1.2,1.9 1.2,1.2 1.2,1.7 1.2,.3 1.2,.9 1.2,1.5 1.2,1.5 1.2,.4 1.2,1.6 1.2,1.2 1.2,.6 1.2,0 1.2-.2 1.2,.1 1.2-.8 1.2,.1 1.2,3.8 1.2,3 1.2-.7 1.2-.7 1.2,4.5 1.2,3.8 1.2,1.8 1.2,1.1 1.2-1.3 1.2-.5 1.2,.2 1.2,1.4 1.2,0 1.2-5.8 1.2-6.6 1.2-3.3 1.2-2.7 1.2-.5 1.2,.5 1.2,.1 1.2,1.2 1.2,1.1 1.2,.4 1.2-.4 1.2,.7 1.2,.4 1.2,.1 1.2-.2 1.2,5.2 1.2,3.6 1.2,.7 1.2-.9 1.2,1.2 1.2,2 1.2,1.2 1.2-.7 1.2-2 1.2-3 1.2-2.9 1.2-3.3 1.2-3.7 1.2-.7 1.2,1.9 1.2,2.3 1.2,3.1 1.2,2.3 1.2,2.5 1.2,1 1.2,.2 1.2,.5 1.2,0 1.2,0 1.2,1.3 1.2,1.3 1.2-1.8 1.2-3.9 1.2-4 1.2-1.7 1.2,1.8 1.2,4.2 1.2,2.3 1.2-.2 1.2,1.4 1.2,3.1 1.2,1.1 1.2,.9 1.2,1.5 1.2-.6 1.2,1.1 1.2-.1 1.2,.4 1.2,2.2 1.2,1.8 1.2,.9 1.2,.1 1.2-.2 1.2,1 1.2,1.5 1.2-.1 1.2-2.2 1.2-1.1 1.2-1.9 1.2-.4 1.2,.3 1.2-2 1.2-2.4 1.2,.9 1.2,1.2 1.2,1.9 1.2,1.3 1.2,.4 1.2,.9 1.2,.7 1.2,.7 1.2,1 1.2,.1 1.2-1.2 1.2-.9 1.2,1.1 1.2-.9 1.2-1.9 1.2-1.1 1.2,.5 1.2,.4 1.2-2.3 1.2-.5 1.2,2.8 1.2,3.3 1.2,1.5 1.2,1.4 1.2,.4 1.2,1.2 1.2,1.3 1.2-.1 1.2,2.3 1.2-2.3 1.2-2 1.2-1.4 1.2-1.9 1.2-3.7 1.2-2 1.2-1.4 1.2-.5 1.2,0 1.2,.5 1.2-1.7 1.2-2.6 1.2-3.1 1.2,.2 1.2,.4 1.2,1.3 1.2,1.1 1.2,3 1.2,1.4 1.2-.7 1.2-3.2 1.2,.9 1.2-.1 1.2,3.3 1.2,2.2 1.2,2.3 1.2,2.6 1.2-2.3 1.2-5 1.2-6.4 1.2,.9 1.2,4.4 1.2,1.8 1.2,1 1.2,2.2 1.2,2.5 1.2,4 1.2,2.5 1.2,2.5 1.2,1.1 1.2-2.1 1.2-1.4 1.2,.7 1.2-3.1 1.2-1.4 1.2,1.1 1.2-.6 1.2,2.2 1.2,1.4 1.2-.4 1.2-2.1 1.2-2.4 1.2-.1 1.2,.6 1.2,2 1.2,.7 1.2,.9 1.2,.1 1.2,2.3 1.2,2.2 1.2-4.6 1.2-5.3 1.2-7.6 1.2-4.8 1.2-3.5 1.2-1.6 1.2-.5 1.2-2.8 1.2-1.9 1.2-1.9 1.2-2.6 1.2-1.3 1.2-2.2 1.2,3.3 1.2,1.7 1.2,2 1.2,1.3 1.2,2 1.2,3.5 1.2,2 1.2,1.8 1.2,2.9 1.2,2 1.2,2.2 1.2,1.9 1.2,2.7 1.2,2.6 1.2,.1 1.2,1.9 1.2,1.9 1.2,2.7 1.2,.9 1.2,2 1.2,.5 1.2,.6 1.2-.3 1.2,.2 1.2,1.2 1.2,1.5 1.2,.5 1.2,.2 1.2-2 1.2-2.5 1.2-2 1.2-.2 1.2,.9 1.2-.4 1.2,1.1 1.2-.8 1.2,0 1.2,1.3 1.2-.6 1.2-.4 1.2-1.6 1.2-1.3 1.2-1.3 1.2-.5 1.2,.2 1.2,1.6 1.2,3.9 1.2,2.5 1.2,1.2 1.2-4.6 1.2-3.5 1.2-3.3 1.2-4.8 1.2-.2 1.2,1.3 1.2,2.6 1.2,2.5 1.2,3.1 1.2,2.6 1.2,.9 1.2-2.9 1.2-2.8 1.2-2.9 1.2-3.1 1.2,.3 1.2,1.3 1.2,1.3 1.2-.4 1.2,.2 1.2-.3 1.2-1.5 1.2-2.4 1.2-4.9 1.2-.8 1.2,1.8 1.2,2.1 1.2,.2 1.2,.5 1.2,2.8 1.2,4.5 1.2,2.6 1.2,1.1 1.2,1.9 1.2,.4 1.2,.2 1.2,2.2 1.2,2.4 1.2,1.9 1.2,2.1 1.2,1 1.2,1.1 1.2,1 1.2,.4 1.2,1.6 1.2,.9 1.2,1.5 1.2,1.3 1.2,.3 1.2-5.3 1.2-5.7 1.2-5.3 1.2-4.6 1.2-.2 1.2-.8 1.2-.9 1.2-1.2 1.2-1.3 1.2-.5 1.2,.6 1.2,1.5 1.2,2.2 1.2,.9 1.2,0 1.2-2.9 1.2-2.4 1.2-2.4 1.2-4.3 1.2-1.9 1.2-1.6 1.2,.7 1.2,.7 1.2,1.4 1.2,1.5 1.2,2.5 1.2,2.7 1.2,1.5 1.2,2.9 1.2,3.2 1.2,1.9 1.2-.4 1.2-.2 1.2,0 1.2-.2 1.2-.2 1.2,.4 1.2,.4 1.2,1 1.2,2.8 1.2,2.4 1.2,1.2 1.2-.1 1.2-1 1.2-.9 1.2,1 1.2,1.5 1.2,.4 1.2-.2 1.2-1.4 1.2-1.5 1.2-2 1.2-1 1.2-.8 1.2,.1 1.2-1.1 1.2,1.6 1.2,1.3 1.2,2.9 1.2,2.2 1.2,.2 1.2-.9 1.2,.9 1.2,2.2 1.2,3.2 1.2,1.7 1.2,.7 1.2-.3 1.2-.6 1.2-.2 1.2-.5 1.2,1 1.2,.8 1.2,.4 1.2,.5 1.2,1.2 1.2,1.9 1.2,2.4 1.2-3.7 1.2-3.6 1.2-3 1.2-.9 1.2,.5 1.2-.7 1.2-.5 1.2,0 1.2-2.3 1.2-.9 1.2-1" fill="none" stroke="#1f77b4" stroke-width="5.6" stroke-linejoin="round" stroke-linecap="round"/>
<path d="M362.8,753.7l1.1,2.1 1.2,1.8 1.2,1.8 1.2,.7 1.2,2.5 1.2-.3 1.2-1.2 1.2-.1 1.2-.4 1.2,3 1.2,2.5 1.2,2 1.2,1.2 1.2-.1 1.2,.3 1.2,1.2 1.2-.3 1.2,2.2 1.2,.8 1.2,2 1.2,1 1.2,1.1 1.2-.4 1.2,.1 1.2,.6 1.2,.6 1.2,1.7 1.2-.8 1.2,.9 1.2,1.4 1.2,3 1.2,3.5 1.2,2.5 1.2,1.9 1.2,2 1.2,2.2 1.2,3.6 1.2,4.1 1.2,3.1 1.2,2 1.2-1.1 1.2-3.4 1.2-3.9 1.2-3 1.2-1.1 1.2-1.1 1.2-.6 1.2-1.6 1.2-1.6 1.2,1.3 1.2,1.5 1.2,1.2 1.2,1.5 1.2,1.5 1.2-1.6 1.2-1.8 1.2-3.2 1.2-3.1 1.2-1 1.2,2.3 1.2,5.4 1.2,4.4 1.2,2.4 1.2,1.5 1.2,1.2 1.2,2 1.2,1.9 1.2,3.2 1.2,1.6 1.2-5.8 1.2-3.6 1.2,.7 1.2,.9 1.2,1.2 1.2,2.3 1.2,2.1 1.2,2.2 1.2,.7 1.2,3.7 1.2,1.2 1.2,0 1.2-.7 1.2,4.4 1.2,3.1 1.2,.5 1.2,.3 1.2,0 1.2-1.4 1.2-1.1 1.2-2.4 1.2,.1 1.2,1.2 1.2,3.8 1.2,1.4 1.2,1.6 1.2,2.1 1.2,.8 1.2,.7 1.2,.2 1.2,1.9 1.2,1.2 1.2,2.8 1.2,2.1 1.2,1.3 1.2,3.6 1.2,2.3 1.2-.8 1.2-1.1 1.2,2 1.2,1.1 1.2,1.7 1.2,.2 1.2,1.8 1.2,1.6 1.2,1.5 1.2,1.1 1.2,1.1 1.2,0 1.2,.1 1.2,2.5 1.2,1 1.2-1.6 1.2-1.1 1.2-1.6 1.2,.7 1.2,.5 1.2,.5 1.2,2.5 1.2,2.4 1.2,1 1.2-2.5 1.2-.7 1.2,.8 1.2,1.2 1.2,2.7 1.2,3 1.2-2.2 1.2-3.5 1.2-1.7 1.2,.3 1.2-1 1.2-.6 1.2,2.4 1.2,1.8 1.2,.2 1.2-6.4 1.2-3 1.2,2.9 1.2,2.9 1.2,4.1 1.2,2.5 1.2-5.6 1.2-6.4 1.2-7.1 1.2,.9 1.2-.1 1.2,1.2 1.2,0 1.2,.5 1.2,.2 1.2,2.7 1.2,2.3 1.2,1.7 1.2,.7 1.2,2 1.2,1 1.2,2.7 1.2,4.8 1.2,2.5 1.2-.2 1.2,1.4 1.2,4 1.2,5 1.2,3.3 1.2,1.4 1.2-.7 1.2-.4 1.2-8.6 1.2-1.4 1.2-.4 1.2,.5 1.2,.9 1.2,.1 1.2-.5 1.2,.4 1.2-.6 1.2,1.6 1.2,1.8 1.2,.8 1.2-3.2 1.2-3.8 1.2-4.8 1.2-2.8 1.2,.4 1.2,2.4 1.2,.2 1.2,.1 1.2,2.5 1.2,1.3 1.2,1.4 1.2-.5 1.2,.9 1.2,.1 1.2,.5 1.2,1.9 1.2,2.8 1.2,2.6 1.2,2 1.2-.4 1.2-1.7 1.2,2.8 1.2,3.2 1.2-2.8 1.2-2.5 1.2,2.3 1.2,2.1 1.2,2.5 1.2,3.1 1.2,1.4 1.2,1 1.2,1.7 1.2,1.4 1.2,1.3 1.2-1.6 1.2-.9 1.2,.5 1.2,1.6 1.2-.9 1.2-1.5 1.2-2.6 1.2-2.9 1.2,3.7 1.2,3.8 1.2,3.7 1.2-3.1 1.2-3.2 1.2-3 1.2-2.8 1.2,.9 1.2,3.1 1.2,.5 1.2,.6 1.2,.3 1.2,2.3 1.2,2.3 1.2,2.3 1.2,1.9 1.2-.2 1.2-.2 1.2,2.1 1.2,1.4 1.2,1.9 1.2,1.3 1.2,0 1.2,.8 1.2,0 1.2-1.3 1.2-1.3 1.2,.3 1.2-.5 1.2-1.6 1.2,1.5 1.2,.6 1.2,.1 1.2,2.5 1.2,.4 1.2-.3 1.2,0 1.2,.3 1.2,.1 1.2,1 1.2,0 1.2,0 1.2-.2 1.2-.5 1.2,.9 1.2,.7 1.2,.9 1.2,1.1 1.2-.6 1.2,1.1 1.2-.3 1.2-.2 1.2,1.6 1.2,2.3 1.2,3.1 1.2,1.1 1.2,1.2 1.2-2.5 1.2-1.3 1.2,1.4 1.2,1.9 1.2,.8 1.2,0 1.2,.9 1.2,.9 1.2,1 1.2-1.3 1.2-.7 1.2,.9 1.2,.4 1.2,.1 1.2-.3 1.2-.6 1.2,.2 1.2-.4 1.2-1 1.2,.4 1.2,1 1.2,.1 1.2-6.2 1.2-5.8 1.2-1.7 1.2,.9 1.2-1.6 1.2,.2 1.2-.5 1.2,1.1 1.2-1.2 1.2-.8 1.2,2.3 1.2,3.5 1.2,2.4 1.2,1.5 1.2,.6 1.2,2.2 1.2,1.1 1.2,1.9 1.2,2.3 1.2,2.6 1.2,2.9 1.2,1.2 1.2,.8 1.2-5.3 1.2-5.9 1.2,.6 1.2,1.8 1.2,.4 1.2,0 1.2,.5 1.2,1 1.2,.5 1.2-5.1 1.2-4.2 1.2-.9 1.2,2.1 1.2,.5 1.2,0 1.2,.5 1.2,2.2 1.2,0 1.2-.6 1.2-.6 1.2,1.9 1.2,2.1 1.2,1.5 1.2,2.3 1.2,1 1.2,1.4 1.2,1.4 1.2,1.2 1.2,1.7 1.2,2.5 1.2,2.2 1.2,1.2 1.2-1.5 1.2-1.1 1.2-2.3 1.2,1.4 1.2,2.8 1.2,1.3 1.2,2.8 1.2,1.9 1.2,1.1 1.2-1.6 1.2-1.8 1.2-.8 1.2,.7 1.2,1.3 1.2,.3 1.2,1.4 1.2-.6 1.2-.8 1.2,2.7 1.2,3.1 1.2,2.2 1.2,1 1.2,1.5 1.2,2.7 1.2-.4 1.2-2.3 1.2-1.2 1.2-3.6 1.2-3.2 1.2-3 1.2-3.1 1.2-2.4 1.2-3.5 1.2-.8 1.2-1 1.2-.8 1.2-3.2 1.2,.4 1.2,2.7 1.2,3.5 1.2,3.1 1.2,3.7 1.2,1.1 1.2,1.4 1.2-1.5 1.2-.4 1.2,.1 1.2,.3 1.2,.9 1.2,.8 1.2,.8 1.2,.8 1.2,1.9 1.2-.1 1.2,1.1 1.2,2.8 1.2,1.8 1.2-.1 1.2-1.2 1.2-.1 1.2,.7 1.2,.4 1.2-.2 1.2-.4 1.2,1.7 1.2,1.4 1.2-1 1.2-.7 1.2-1.5 1.2-2.1 1.2-1.5 1.2-1.9 1.2-1.7 1.2-.5 1.2,.9 1.2,1.6 1.2,.8 1.2,.7 1.2,.5 1.2,2.9 1.2,3.4 1.2,1.4 1.2,1.5 1.2,.7 1.2,1.3 1.2,0 1.2,1.9 1.2-.4 1.2-1 1.2-1.2 1.2,2.3 1.2,.2 1.2-4.1 1.2-2 1.2-.4 1.2,.2 1.2,1.1 1.2,0 1.2-3.4 1.2-4.1 1.2-3.4 1.2-3.3 1.2-.3 1.2,.5 1.2,.7 1.2,2.6 1.2,3.6 1.2,.2 1.2,1.7 1.2,1.1 1.2,.1 1.2,1 1.2-.3 1.2,1.2 1.2,3.5 1.2,1.8 1.2-1.9 1.2-.5 1.2,.6 1.2,.3 1.2,.4 1.2-3.8 1.2-4.4 1.2-1.2 1.2-.6 1.2-.3 1.2,.2 1.2,.3 1.2,3.1 1.2,2.4 1.2,3.4 1.2,.5 1.2,.2 1.2,3 1.2,1.5 1.2-.3 1.2-.4 1.2-.4 1.2,.4 1.2,1.9 1.2,1.1 1.2,.7 1.2-.4 1.2-1.4 1.2,1.3 1.2,1 1.2,1.5 1.2,1.6 1.2,.2 1.2,.3 1.2-2 1.2-1.6 1.2,.9 1.2,1.2 1.2,1.8 1.2-.1 1.2,1 1.2,.7 1.2-.3 1.2,3 1.2,3.6 1.2-.6 1.2-.7 1.2,.1 1.2,.2 1.2,1.7 1.2,.7 1.2,1.6 1.2-.3 1.2-.6 1.2-1.4 1.2-2.9 1.2-1.5 1.2-.3 1.2-2.8 1.2-.4 1.2,.8 1.2,2.1 1.2,2.5 1.2,1.5 1.2,1.7 1.2,0 1.2,.4 1.2,.5 1.2,.4 1.2,.1 1.2-1.1 1.2-.9 1.2-1.3 1.2,1.6 1.2,.8 1.2-2 1.2-3.9 1.2-2.8 1.2,.4 1.2-.3 1.2-3.1 1.2-2.2 1.2-2.2 1.2-2.6 1.2-.8 1.2,2.7 1.2,2.4 1.2,2.9 1.2,1.6 1.2,.4 1.2,.4 1.2,2.4 1.2,2 1.2,.1 1.2,1.4 1.2,.5 1.2-.5 1.2,1.3 1.2,1 1.2,2.3 1.2,1.8 1.2,.5 1.2-.9 1.2-.4 1.2,0 1.2-1.1 1.2-2 1.2-3.6 1.2-1.3 1.2-.8 1.2,2.3 1.2,4 1.2,1.9 1.2-.3 1.2,1.4 1.2,2.1 1.2-1.1 1.2-.5 1.2,.8 1.2-1.1 1.2-.4 1.2,1.9 1.2,2.2 1.2-1.1 1.2-.5 1.2,.1 1.2,.6 1.2-.2 1.2-2.1 1.2-.9 1.2,2.7 1.2-.5 1.2,0 1.2-.2 1.2-1.5 1.2-1.5 1.2-.5 1.2,.8 1.2-1.2 1.2-.4 1.2,1.1 1.2,1.2 1.2,.8 1.2-.2 1.2-.8 1.2-.4 1.2-1.5 1.2,1.6 1.2,1.5 1.2,.1 1.2-.4 1.2,1.5 1.2,1.2 1.2,2 1.2,1.1 1.2,1.1 1.2,1.5 1.2,.6 1.2,1.7 1.2,3.6 1.2,.3 1.2-1.9 1.2-3.1 1.2-2.5 1.2-2 1.2,.9 1.2,.9 1.2-.5 1.2-1.7 1.2-5.1 1.2-3.9 1.2,1.7 1.2,1.2 1.2-2.2 1.2-.6 1.2-2.7 1.2-1.4 1.2-.7 1.2,.8 1.2,0 1.2-1.8 1.2-.4 1.2-.8 1.2-.3 1.2,1.4 1.2,1 1.2-.1 1.2-.2 1.2-.5 1.2,.2 1.2,1 1.2,1.8 1.2,2.4 1.2,1.4 1.2,0 1.2,.3 1.2-.1 1.2,3.1 1.2,2.8 1.2-.4 1.2-.6 1.2,.4 1.2,2.5 1.2,1.4 1.2,1 1.2,.5 1.2-.7 1.2,.6 1.2,1.7 1.2,.2 1.2-4.6 1.2-3.9 1.2-4.3 1.2-1.5 1.2-1.1 1.2-.8 1.2-.8 1.2-.4 1.2,.3 1.2-.9 1.2-1 1.2,1.9 1.2,2.8 1.2,1.9 1.2,2 1.2-.6 1.2-1.4 1.2-.1 1.2-.6 1.2,.7 1.2,3.2 1.2,2.4 1.2,2.3 1.2,1.3 1.2,1.1 1.2,.7 1.2,2.4 1.2-1.2 1.2-.4 1.2-1.4 1.2-1.3 1.2,.9 1.2,1.9 1.2,2.2 1.2,1 1.2-.2 1.2,.7 1.2,2.6 1.2,1.8 1.2,.5 1.2-.6 1.2,1.1 1.2,1.4 1.2,.4 1.2-2.1 1.2-.5 1.2,.2 1.2-.9 1.2,.7 1.2,.1 1.2-.4 1.2-.9 1.2,1.5 1.2,1.4 1.2,1.1 1.2,1.2 1.2,0 1.2,0 1.2,.5 1.2,.7 1.2,.7 1.2,.2 1.2,.2 1.2,.2 1.2-.2 1.2-.4 1.2-2.7 1.2-2.7 1.2-1.1 1.2-1.1 1.2-.2 1.2-2.6 1.2-1.4 1.2,1.1 1.2,1.8 1.2,1.7 1.2-.1 1.2-1.1 1.2,.3 1.2,1.3 1.2-2.9 1.2-.9 1.2,1.1 1.2,2.4 1.2,1 1.2,.6 1.2,2.2 1.2,2.1 1.2,.1 1.2-.5 1.2-1.2 1.2,1.2 1.2,2.2 1.2,.2 1.2-.2 1.2,.9 1.2,1.4 1.2-1.1 1.2-.4 1.2-.5 1.2-2 1.2,1.1 1.2,1.5 1.2,.1 1.2-2.2 1.2-.3 1.2,.6 1.2-.2 1.2,2.4 1.2,1.4 1.2-.6 1.2-2.5 1.2,.9 1.2,2.3 1.2,.4 1.2-1 1.2-.7 1.2-1.2 1.2-2.3 1.2-1.6 1.2-1.9 1.2-.1 1.2,.6 1.2,.8 1.2,.1 1.2-.3 1.2,.3 1.2,.6 1.2,2.1 1.2,1.1 1.2,0 1.2-.1 1.2,2.3 1.2,1.3 1.2,1.1 1.2-.7 1.2,.5 1.2,.9 1.2,.8 1.2,.2 1.2-.9 1.2,.3 1.2,1.5 1.2,1.2 1.2,1.4 1.2,.4 1.2,1.2 1.2-1.6 1.2-3.7 1.2,1.4 1.2,.9 1.2-1.3 1.2-2.3 1.2,1 1.2,2.6 1.2,.7 1.2-1 1.2-2.3 1.2,1 1.2,1 1.2,1.1 1.2-.9 1.2-.5 1.2-1.2 1.2-.9 1.2-1.1 1.2-1.2 1.2,.5 1.2,1.4 1.2-.8 1.2-.2 1.2-1.6 1.2-1.2 1.2-.3 1.2,1.1 1.2-.9 1.2-4.2 1.2-3.5 1.2-2.5 1.2,3.8 1.2,5.6 1.2,4.3 1.2-1.7 1.2-2.3 1.2-2.4 1.2-1.1 1.2,2.5 1.2,1.3 1.2,1 1.2,.4 1.2,.2 1.2,1.3 1.2,1.5 1.2,1.6 1.2,1.7 1.2,1.7 1.2,1.4 1.2,2.3 1.2-.9 1.2-1.1 1.2-2.4 1.2-.9 1.2-2 1.2-1 1.2-.7 1.2,.8 1.2,.3 1.2,1.1 1.2,.6 1.2-.2 1.2,2.4 1.2,1 1.2-1 1.2-1.5 1.2-.6 1.2-.2 1.2,0 1.2-.6 1.2-2.1 1.2-1.4 1.2-1.6 1.2-1.5 1.2-.1 1.2,.8 1.2,1.5 1.2-1.3 1.2-3.5 1.2,.4 1.2,1.4 1.2-.5 1.2-2.3 1.2-1.9 1.2,2.3 1.2,2 1.2,.2 1.2,.3 1.2,.5 1.2,.9 1.2-2.6 1.2-3 1.2-1.2 1.2,0 1.2,1.9 1.2,.5 1.2,.2 1.2,.3 1.2,1 1.2,2.4 1.2,2.1 1.2,.6 1.2-.2 1.2,0 1.2-.3 1.2,1.6 1.2,2.8 1.2,1.9 1.2,.3 1.2-1.1 1.2,.9 1.2-.2 1.2-.7 1.2-.8 1.2-1.5 1.2,.2 1.2,1.4 1.2,1.4 1.2,1.1 1.2-.5 1.2,1.3 1.2,1.6 1.2,1.2 1.2,1.4 1.2,1.7 1.2,1.6 1.2,1 1.2-1.7 1.2-3.3 1.2-.4 1.2,0 1.2-.4 1.2-.7 1.2,.5 1.2,1.4 1.2,2.3 1.2,0 1.2,1.8 1.2,.4 1.2,.1 1.2,.6 1.2,.7 1.2,.5 1.2,0 1.2-.3 1.2-.3 1.2-1 1.2-1.6 1.2-.8 1.2-.2 1.2,.9 1.2,1.9 1.2,2.8 1.2,1.2 1.2,.2 1.2,.2 1.2-1 1.2,1.6 1.2,1.1 1.2-.4 1.2-1.7 1.2-1.3 1.2,.6 1.2,.4 1.2,.8 1.2,.2 1.2-4.2 1.2-3 1.2-.8 1.2,.3 1.2-.6 1.2-1.6 1.2-1.7 1.2-1.3 1.2,.5 1.2,1.3 1.2-.5 1.2,.5 1.2-.6 1.2,.8 1.2,2.3 1.2,.3 1.2,1.2 1.2-.2 1.2,1.1 1.2,0 1.2,.4 1.2-.6 1.2,1.5 1.2,1.9 1.2-.4 1.2,0 1.2,.3 1.2,.9 1.2,2.2 1.2,2.4 1.2,1.2 1.2-.8 1.2-.3 1.2,1.2 1.2,2 1.2,0 1.2,.3 1.2-.7 1.2-1.1 1.2-2.6 1.2-3.2 1.2,.6 1.2-.4 1.2-1.5 1.2-.7 1.2-1.5 1.2-1.1 1.2-.2 1.2,.8 1.2,.2 1.2,2.7" fill="none" stroke="#ff7f0e" stroke-width="5.6" stroke-linejoin="round" stroke-linecap="round"/>
<path d="M276.5,752.8l1.2,3.2 1.2,3.9 1.2,2.9 1.2,4.2 1.2-.7 1.2-1.7 1.2-.4 1.2,3.8 1.2,4.9 1.2,5.5 1.2,3.2 1.2,4.1 1.2,3.6 1.2,3.7 1.2,3.3 1.2,3.7 1.2,4.4 1.2,.9 1.2,.3 1.2-1.1 1.2-1 1.2,.5 1.2,1.6 1.2,2.7 1.2,4.8 1.2,2.6 1.2,.3 1.2,.7 1.2-.6 1.2-1.3 1.2-3.4 1.2-.8 1.2,1.7 1.2,.6 1.2,1.8 1.2-2.3 1.2-5.6 1.2-4.1 1.2-1.9 1.2,4.4 1.2,4.2 1.2,3.8 1.2,3.7 1.2,3 1.2,2.6 1.2,2.5 1.2,1.9 1.2,2.9 1.2,3.5 1.2,2.5 1.2,.8 1.2,2.5 1.2,4.1 1.2,4.2 1.2-.1 1.2,.1 1.2,.1 1.2-.6 1.2,1 1.2,.3 1.2,1.3 1.2-2.3 1.2-1.4 1.2-1.6 1.2,2.7 1.2,3.3 1.2,3.1 1.2,1.5 1.2,2.5 1.2,2.2 1.2,1.9 1.2,1.1 1.2,.8 1.2,.5 1.2-1.3 1.2,1.7 1.2,3.7 1.2,3.4 1.2-.6 1.2-1 1.2,4.3 1.2,2.6 1.2,.6 1.2-.9 1.2-1.3 1.2-1 1.2-.4 1.2,.1 1.2-.3 1.2,.7 1.2,2.6 1.2,3 1.2,4 1.2,3.2 1.2,2.2 1.2-4.3 1.2-4.9 1.2-3.7 1.2-2.9 1.2,4.5 1.2,5.6 1.2,3.9 1.2,2 1.2,1.3 1.2,2.4 1.2,1.3 1.2,5.8 1.2-.3 1.2-6 1.2-5.8 1.2-1 1.2,.1 1.2,2.1 1.2,1.9 1.2,.6 1.2,.3 1.2,.3 1.2-1 1.2-.4 1.2,4 1.2,3.3 1.2-4.7 1.2-4.7 1.2-1.3 1.2-1.3 1.2,2.6 1.2,.6 1.2,2.9 1.2,3.6 1.2,2 1.2,2 1.2,.6 1.2,1.5 1.2,1.6 1.2,2.9 1.2,2.3 1.2,2.6 1.2,3.7 1.2,.7 1.2-.1 1.2,0 1.2,.1 1.2-.2 1.2,2.8 1.2,1.5 1.2-.6 1.2,1.3 1.2-2.7 1.2,.7 1.2,1.7 1.2,2.7 1.2,2.1 1.2,1.5 1.2,1.4 1.2,1.1 1.2,1 1.2,2.4 1.2,.7 1.2-.8 1.2,0 1.2-1.1 1.2-5.7 1.2-2 1.2,2.8 1.2-.4 1.2-.1 1.2,2 1.2,2.9 1.2,2 1.2,.4 1.2,1.7 1.2,.2 1.2,1.3 1.2,.5 1.2,2.3 1.2-1 1.2-2 1.2-1.4 1.2-2.8 1.2,1.4 1.2,.3 1.2,.4 1.2-1.9 1.2-.4 1.2-2.3 1.2-2.5 1.2,1.8 1.2,1.4 1.2-.2 1.2-1.1 1.2,0 1.2,.1 1.2,1 1.2,1.2 1.2,1.3 1.2,1.7 1.2,1.6 1.2-.9 1.2-.2 1.2-.6 1.2,1.5 1.2,1.5 1.2,.9 1.2,1.9 1.2,1.5 1.2,2 1.2,2 1.2,1.6 1.2,2.4 1.2,2.7 1.2-1.9 1.2-1.5 1.2,1.6 1.2,.8 1.2,2.3 1.2,2.4 1.2,.2 1.2-.3 1.2-1.5 1.2,.4 1.2-.7 1.2-2.2 1.2-1.8 1.2-1.2 1.2-.7 1.2-1 1.2-2 1.2-4.8 1.2-4.6 1.2-4.2 1.2-3.1 1.2-3.8 1.2-.5 1.2,2.4 1.2,4.1 1.2,2.6 1.2,2.8 1.2,3.2 1.2-.8 1.2,.5 1.2,1.4 1.2,2 1.2,3.4 1.2,.9 1.2,2.4 1.2-.9 1.2,.2 1.2,1.2 1.2,1 1.2,5.8 1.2-.7 1.2-2 1.2-3.4 1.2-.1 1.2,.3 1.2-3 1.2-1.1 1.2-1.2 1.2-1.4 1.2,.4 1.2,1.2 1.2,.7 1.2-.4 1.2,.6 1.2,0 1.2-.3 1.2,.2 1.2-1.2 1.2,1.8 1.2,3.3 1.2,3.6 1.2,1.3 1.2,3.1 1.2,1.8 1.2,1.5 1.2,3.3 1.2,1.6 1.2-1.5 1.2-2.1 1.2-.6 1.2,.9 1.2,.8 1.2,.5 1.2,.8 1.2,1.3 1.2-2.2 1.2-1.7 1.2-1.8 1.2-.9 1.2-1.7 1.2-3.3 1.2-.6 1.2,2.1 1.2,1.8 1.2,2.4 1.2,2.7 1.2,2.5 1.2,.7 1.2-1.1 1.2,.1 1.2-1 1.2-1.6 1.2-.8 1.2,0 1.2,.2 1.2,0 1.2,.3 1.2-1.1 1.2-1 1.2,2.5 1.2,4.6 1.2,3.2 1.2,2.3 1.2,1.4 1.2-1.8 1.2-2.2 1.2-.8 1.2-.8 1.2,1 1.2,.6 1.2,.4 1.2,2.4 1.2,2 1.2,1.6 1.2,1.6 1.2,1.2 1.2,.3 1.2-4.6 1.2-3.1 1.2-1.6 1.2,1.5 1.2,1.9 1.2,.3 1.2,1 1.2,1 1.2,.7 1.2,.7 1.2-1.3 1.2-1.1 1.2-.5 1.2-.8 1.2-.5 1.2,1.1 1.2,1.3 1.2-.8 1.2,.4 1.2-.1 1.2,1.3 1.2,2 1.2,2.4 1.2,1.1 1.2,.9 1.2,.8 1.2-2.4 1.2-1.6 1.2,3.3 1.2,3 1.2-1.7 1.2-3.3 1.2-.9 1.2,1 1.2-.6 1.2-.9 1.2,.5 1.2-.1 1.2,1.4 1.2,2 1.2,.8 1.2,.9 1.2-.6 1.2,1.2 1.2-.3 1.2,.2 1.2,1.1 1.2,.6 1.2,1.2 1.2,.1 1.2-.9 1.2-.4 1.2,1.5 1.2,1.4 1.2-1.8 1.2-1.2 1.2-1.7 1.2-1 1.2-.5 1.2,.3 1.2-.8 1.2,1.7 1.2,1.9 1.2-1.2 1.2-.2 1.2,.7 1.2,.4 1.2,1.4 1.2,.8 1.2-.9 1.2-1.1 1.2,.7 1.2-.1 1.2,.4 1.2-.3 1.2,0 1.2,1.2 1.2,1.1 1.2,1.2 1.2,.8 1.2,1.6 1.2-2.5 1.2-1.4 1.2-1 1.2-2.4 1.2-1.5 1.2-.1 1.2,.9 1.2,1.6 1.2,2.1 1.2-.5 1.2,.9 1.2,.1 1.2,.9 1.2,.8 1.2-2.8 1.2-2.8 1.2,.6 1.2,1.8 1.2,2 1.2,0 1.2,1.5 1.2,1.8 1.2,2.8 1.2,1.7 1.2,.4 1.2,0 1.2,.6 1.2-2.2 1.2-3.2 1.2-1.4 1.2,.1 1.2-.7 1.2-.2 1.2,.4 1.2,.1 1.2,.6 1.2,.3 1.2-.9 1.2,.8 1.2,.2 1.2-2.3 1.2-1.6 1.2-2.3 1.2-2 1.2-3.3 1.2,1.3 1.2,3.5 1.2,3.3 1.2,2.9 1.2,1.5 1.2-.2 1.2,2.2 1.2,2.7 1.2,1.4 1.2,2.3 1.2,2.7 1.2,.5 1.2-1.1 1.2-3.2 1.2-1.9 1.2-.9 1.2-.7 1.2,.4 1.2,.2 1.2-1.4 1.2-1.6 1.2-1.1 1.2-.8 1.2,.9 1.2,1.4 1.2-1.4 1.2-2.5 1.2-.6 1.2,2.8 1.2,2.2 1.2,2.3 1.2,2.6 1.2-.5 1.2-.8 1.2,2.6 1.2,1.3 1.2-1.2 1.2-3.7 1.2-1.2 1.2-2.3 1.2-1 1.2-1.4 1.2,1 1.2,.9 1.2,1.6 1.2-.1 1.2-.3 1.2,3.6 1.2,0 1.2-7.1 1.2,2 1.2,.1 1.2,1.2 1.2,1.8 1.2,3.2 1.2,3.1 1.2,.2 1.2,1 1.2,1.3 1.2,.9 1.2,4.1 1.2,3.3 1.2,1.9 1.2,.6 1.2,.6 1.2-.3 1.2,.5 1.2,0 1.2-.9 1.2-1.5 1.2-.8 1.2,2.5 1.2,3.6 1.2,.9 1.2-1.9 1.2,1.7 1.2-.4 1.2-3.9 1.2-1.2 1.2-3.2 1.2-3.8 1.2-3.3 1.2,.1 1.2,.8 1.2-2.4 1.2-3.2 1.2-.1 1.2,1.9 1.2,1.3 1.2,1 1.2,.9 1.2,.2 1.2,1.6 1.2,1.5 1.2,2.5 1.2,1.6 1.2-.2 1.2-1.9 1.2-.6 1.2-1.3 1.2-2 1.2-1 1.2-.3 1.2,.7 1.2,1 1.2,1 1.2,1.5 1.2,2.1 1.2,.9 1.2,1.3 1.2-1.6 1.2-1.6 1.2,.9 1.2,.8 1.2-.6 1.2-2.1 1.2-1.8 1.2,.8 1.2,1.2 1.2,.5 1.2,.6 1.2,1.7 1.2,1.2 1.2,1.7 1.2-.1 1.2,.6 1.2,1 1.2,.3 1.2,1.2 1.2,.9 1.2-2 1.2-1.6 1.2-1.6 1.2-2.6 1.2,.3 1.2-1.3 1.2,1.1 1.2,.4 1.2,.7 1.2,4.5 1.2,.8 1.2,1.9 1.2,.8 1.2-1.1 1.2,.3 1.2-.1 1.2,.2 1.2-.1 1.2-3.9 1.2-1.8 1.2-2.7 1.2-2.9 1.2-1.2 1.2,0 1.2-.5 1.2,1.5 1.2,2.5 1.2,.5 1.2-1 1.2-1.6 1.2-1.5 1.2-2.1 1.2-1.8 1.2-2.2 1.2,2.4 1.2,3.3 1.2,1.3 1.2,1.6 1.2,.8 1.2,1.2 1.2,1 1.2,2.2 1.2,.9 1.2,0 1.2-.1 1.2,2 1.2,1.2 1.2-.3 1.2-1.9 1.2-.8 1.2-1.2 1.2-1 1.2,.1 1.2,.2 1.2,.9 1.2-.2 1.2,.7 1.2-1.1 1.2-1.3 1.2-1.6 1.2,1.1 1.2,.8 1.2,3.4 1.2,4 1.2,3.2 1.2,1.8 1.2,1.8 1.2,1.2 1.2,1.5 1.2,2.5 1.2,2.5 1.2,.8 1.2,.8 1.2,2.5 1.2-.3 1.2-1.3 1.2,.2 1.2-1.4 1.2-2.8 1.2-3.2 1.2-2.6 1.2-.4 1.2-.9 1.2,1.3 1.2-.7 1.2-1 1.2,.2 1.2-.1 1.2,.1 1.2-2.8 1.2-2.8 1.2-3.7 1.2-1.8 1.2-3.1 1.2-3.5 1.2-4.1 1.2-3.5 1.2-.4 1.2,2.6 1.2,1.4 1.2,1.5 1.2,.8 1.2-2.8 1.2-2.1 1.2-1.8 1.2-1.2 1.2,.6 1.2,1 1.2,1.8 1.2,2.1 1.2,1.1 1.2,1 1.2,1.1 1.2,.6 1.2,1 1.2,.9 1.2,2 1.2,1.7 1.2,1.3 1.2,.2 1.2,.8 1.2-.6 1.2-2.2 1.2-1 1.2,0 1.2,.5 1.2,1.7 1.2,2 1.2-1.3 1.2,.7 1.2,.4 1.2,.6 1.2,2.1 1.2,1.5 1.2,.5 1.2,.4 1.2,1.9 1.2,3.4 1.2,1.7 1.2,1.2 1.2-1.9 1.2-2.9 1.2-1.8 1.2-4.1 1.2-2.1 1.2,.3 1.2,.6 1.2-1.5 1.2-.3 1.2,.9 1.2,1.7 1.2-.7 1.2-.6 1.2,0 1.2-.2 1.2,1 1.2,1.3 1.2,1.1 1.2-.2 1.2-1.6 1.2-1.2 1.2-2 1.2,2.4 1.2,2.8 1.2-1.2 1.2-1.3 1.2,.7 1.2,2 1.2,0 1.2,0 1.2-.6 1.2-2.8 1.2-2.3 1.2,.4 1.2-.4 1.2-1.5 1.2-1.1 1.2-1.4 1.2-.2 1.2,1.8 1.2,.7 1.2,.9 1.2,1.7 1.2,1.4 1.2,2.1 1.2,.9 1.2-1.8 1.2-1.6 1.2,2 1.2,.6 1.2-.6 1.2-.1 1.2-1.4 1.2,2 1.2,2.4 1.2,1.8 1.2,2.3 1.2,3.5 1.2,2.6 1.2,.5 1.2,1.4 1.2-.1 1.2,1.4 1.2-.1 1.2,1.6 1.2-2.5 1.2-2.1 1.2-1 1.2-1.4 1.2,.4 1.2,1 1.2,.2 1.2-1.5 1.2-1.4 1.2,.3 1.2,1.5 1.2,.1 1.2,1.5 1.2-.1 1.2,.1 1.2,2.6 1.2,3.2 1.2,.1 1.2-1 1.2-2.8 1.2-.5 1.2,0 1.2-3 1.2-.2 1.2,2.3 1.2,1.4 1.2,2.2 1.2-.8 1.2-.7 1.2-1.4 1.2-1.8 1.2-.4 1.2,.5 1.2-2.5 1.2-.9 1.2-.2 1.2-.2 1.2-1.4 1.2-1.5 1.2,.3 1.2,.1 1.2,.4 1.2-1.2 1.2,1.4 1.2,2.1 1.2,2 1.2,2 1.2,.9 1.2-.7 1.2,.4 1.2-.1 1.2-.2 1.2,1.8 1.2,1.7 1.2,1.3 1.2,.7 1.2-2.1 1.2-.7 1.2-1.2 1.2-5.1 1.2-4.8 1.2-1.2 1.2-.7 1.2,0 1.2,.5 1.2,.4 1.2,1.2 1.2,.9 1.2,2.3 1.2,1.9 1.2,.1 1.2-.7 1.2,0 1.2-.1 1.2,0 1.2,1 1.2-2.5 1.2-3.2 1.2,0 1.2,.4 1.2,1.8 1.2,1.8 1.2,1 1.2,1.5 1.2,1.3 1.2,.4 1.2-1.8 1.2-1 1.2-2.2 1.2-.8 1.2,.8 1.2,1.6 1.2,1.6 1.2,2.1 1.2,.4 1.2,.3 1.2-2.8 1.2-5.9 1.2-3.8 1.2-4 1.2-2.6 1.2,2.7 1.2,1.9 1.2,2.2 1.2,3.1 1.2,2.7 1.2,.7 1.2-1.1 1.2,1.9 1.2,1.5 1.2,2 1.2,.7 1.2,1.9 1.2,1.4 1.2-.2 1.2,1 1.2,.8 1.2,2.5 1.2,2.2 1.2,.5 1.2-1.1 1.2-.9 1.2-.4 1.2,.4 1.2,0 1.2-.2 1.2,1.5 1.2,2.7 1.2,.9 1.2,.4 1.2-2.7 1.2-3 1.2-1.3 1.2-.4 1.2,1.8 1.2,1.8 1.2,.4 1.2,3.2 1.2-.6 1.2-2.4 1.2-2.2 1.2-.1 1.2,.3 1.2-.4 1.2,.4 1.2-2.5 1.2-3.4 1.2-3 1.2-1.2 1.2-2.3 1.2,.3 1.2,.4 1.2-.2 1.2-2.1 1.2,3.2 1.2,2.7 1.2,2.3 1.2,3.5 1.2-.6 1.2-1.6 1.2-2.5 1.2-.5 1.2,1.6 1.2,3.7 1.2,2.5 1.2,2.7 1.2,1.2 1.2-1.8 1.2-1.9 1.2-1.7 1.2-.9 1.2,1.3 1.2,3.4 1.2,3.7 1.2,.4 1.2-.2 1.2,2.4 1.2-.9 1.2,.1 1.2-.6 1.2-2.3 1.2-4 1.2-3.6 1.2,.1 1.2,.9 1.2,2.5 1.2,.7 1.2-.5 1.2,1 1.2,1 1.2,3.6 1.2,.3 1.2,1.3 1.2-1.2 1.2-.7 1.2-.8 1.2,.3 1.2-.2 1.2,1.2 1.2-.4 1.2-1.5 1.2-1 1.2,.2 1.2,.9 1.2,2.9 1.2,2.2 1.2,.2 1.2-.5 1.2-.9 1.2-3 1.2-.6 1.2,.6 1.2,1.4 1.2,1.1 1.2,.3 1.2,1.3 1.2,.9 1.2,.1 1.2-5.5 1.2-1.9 1.2,.6 1.2,1.2 1.2,1.4 1.2,.5 1.2-1.4 1.2-.5 1.2,1.6 1.2,.7 1.2,.4 1.2-2 1.2,1 1.2,1.1 1.2,1.6 1.2,1.6 1.2,2.3 1.2,1.9 1.2,1.6 1.2-1.1 1.2-.9 1.2,.3 1.2-1.3 1.2-4.3 1.2-4.6 1.2,1.6 1.2-.3 1.2-.4 1.2,.6 1.2-3.5 1.2-1.6 1.2-1.2 1.2,2.7 1.2,1.2 1.2-1.7 1.2,.1 1.2,0 1.2,1 1.2,.9 1.2,.9 1.2,1.2 1.2-.4 1.2-.9 1.2-1.9 1.2-1.7 1.2-.8 1.2-.2 1.2,2.6 1.2,1.4 1.2,0 1.2,.5 1.2,.5 1.2,1.8 1.2-.3 1.2,.7 1.2-2.6 1.2-2.7 1.2,.2 1.2,1.8 1.2,.5 1.2,1.6 1.2,1.9 1.2-.1 1.2,1.6 1.2,2.5 1.2,1.1 1.2-.2 1.2-.9 1.2-.1 1.2,1.3 1.2-.4 1.2-.1 1.2-1.8 1.2-4.6 1.2-3.1 1.2,2.6 1.2,2.2 1.2-.2 1.2,.3 1.2,1.3 1.2-1.1 1.2-1.6 1.2-1.9 1.2-1.3 1.2,.8 1.2,1.4 1.2-.8 1.2-1.5 1.2,.4 1.2,.5 1.2,.4 1.2,1.1 1.2,1.3 1.2,1 1.2,1.4 1.2,1 1.2-.4 1.2-2.1 1.2-1.1 1.2-.6 1.2-.3 1.2,.5 1.2-.4 1.2,.8 1.2,2.6 1.2-.1 1.2,.5 1.2,.6 1.2,.7 1.2,.1 1.2,0 1.2-.2 1.2-.3 1.2-1.5 1.2,1.1 1.2-.2 1.2-1.5 1.2-.9 1.2-.5 1.2,.9 1.2,1 1.2,1.9" fill="none" stroke="#2ca02c" stroke-width="5.6" stroke-linejoin="round" stroke-linecap="round"/>
<path d="M256.5,755.9l1.2,5.9 1.2,6.5 1.2,7 1.2,5.1 1.2,5.9 1.2,5.4 1.2,4.3 1.2,2 1.2,1.7 1.2,3.4 1.2,4 1.2,5.7 1.2,4.6 1.2,2.7 1.2,.5 1.2,1.6 1.2,.1 1.2,.3 1.2,.1 1.2,.9 1.2,2.1 1.2,2.7 1.2,2.5 1.2,3.4 1.2,4.5 1.2,3.3 1.2,2 1.2,3.3 1.2,4.6 1.2,4.7 1.2,1 1.2-.1 1.2-.3 1.2,.6 1.2-1.6 1.2-3.1 1.2-2.1 1.2,.9 1.2,.8 1.2,.8 1.2,3 1.2,.5 1.2-.2 1.2,2.4 1.2,.2 1.2-4.3 1.2-3.3 1.2,.6 1.2,3 1.2,.9 1.2,.6 1.2,2.6 1.2,3.8 1.2,3.1 1.2,4 1.2,3.3 1.2,3.8 1.2,4.4 1.2,1.5 1.2,1.8 1.2,3.9 1.2,4 1.2,3.1 1.2,.9 1.2,1 1.2-1.2 1.2,0 1.2,2.5 1.2,1.9 1.2,2.5 1.2,2.7 1.2,1.6 1.2,3.7 1.2,2.6 1.2,2.6 1.2,1.4 1.2,2 1.2-2.8 1.2-3.1 1.2-2.4 1.2-1.1 1.2-.6 1.2-1.4 1.2-.8 1.2-.1 1.2,2 1.2,3 1.2,2.9 1.2,2.5 1.2,2.5 1.2,1.6 1.2,1.1 1.2,1.1 1.2-2.9 1.2-1.8 1.2,4 1.2,2.2 1.2,1.5 1.2,1.3 1.2,1.2 1.2,1.8 1.2,1.2 1.2,.6 1.2,1.7 1.2,1.8 1.2,2.3 1.2,1.8 1.2,.7 1.2,.7 1.2,1.6 1.2,.4 1.2-.7 1.2,1.7 1.2,1.9 1.2,1.8 1.2,.1 1.2-.2 1.2-.2 1.2-1.5 1.2,1.2 1.2,1 1.2,0 1.2,.3 1.2,1.9 1.2,.9 1.2,3.3 1.2,2.6 1.2,3.1 1.2,1.3 1.2,.4 1.2,1.6 1.2,1.3 1.2,1.3 1.2,.4 1.2,2.5 1.2,1.3 1.2-.6 1.2-.2 1.2,.4 1.2,1.5 1.2,1.4 1.2-.8 1.2-1.2 1.2-1.1 1.2-1.5 1.2-3.3 1.2-1.9 1.2,4 1.2,3.9 1.2,1.1 1.2,1.6 1.2,.5 1.2,.5 1.2,1.6 1.2,3.7 1.2,3.1 1.2,2.4 1.2-5 1.2-8.6 1.2-5.2 1.2-2.3 1.2-3 1.2,.7 1.2,3.6 1.2,2 1.2,3.2 1.2,1.2 1.2,2.7 1.2,.3 1.2,2.7 1.2,1.6 1.2,.3 1.2,.9 1.2,2 1.2,3.6 1.2,.5 1.2,.5 1.2,3.7 1.2,3.3 1.2,1.8 1.2,.4 1.2,.1 1.2-.9 1.2,.2 1.2-.6 1.2-1.4 1.2-1.1 1.2-.2 1.2-4.5 1.2-3.2 1.2,1.4 1.2,1.3 1.2,1.1 1.2,1 1.2,1 1.2,.7 1.2,.8 1.2,.5 1.2-1 1.2,.2 1.2-.2 1.2,1.4 1.2,2.3 1.2,2.7 1.2,3.4 1.2,1.8 1.2,.2 1.2,.2 1.2,1.9 1.2,.6 1.2,.5 1.2,.9 1.2,1 1.2,1.6 1.2-.5 1.2-.3 1.2-.1 1.2,1.6 1.2,.4 1.2,0 1.2,.2 1.2-1.2 1.2,.5 1.2,.9 1.2,2.2 1.2,1.5 1.2,1 1.2,.8 1.2,.4 1.2-.9 1.2,.2 1.2-.4 1.2-.6 1.2-.9 1.2-1 1.2-1.4 1.2-.4 1.2,.6 1.2-.7 1.2-.1 1.2,.5 1.2,2.6 1.2,.7 1.2,.6 1.2,.6 1.2-.7 1.2,2.3 1.2,3.7 1.2,1.7 1.2,.4 1.2-1.9 1.2,1.9 1.2,1.4 1.2,.8 1.2-1.7 1.2,1.2 1.2,1.3 1.2,.6 1.2,.5 1.2,.6 1.2,1.1 1.2-.3 1.2-1.2 1.2-1.3 1.2,.8 1.2,.3 1.2,1.9 1.2-1 1.2,.8 1.2,.6 1.2-.4 1.2-1.9 1.2-1 1.2,1.9 1.2,.6 1.2,1.2 1.2,1.8 1.2,1.2 1.2,.2 1.2,1.7 1.2,1.4 1.2,.2 1.2-.2 1.2,.5 1.2-.3 1.2,1.7 1.2-.5 1.2-.1 1.2,.8 1.2,0 1.2-.6 1.2-1 1.2-1.9 1.2-1.2 1.2,.3 1.2-1.3 1.2,0 1.2,.2 1.2,.4 1.2,2.4 1.2,1.1 1.2-.3 1.2,0 1.2,2.8 1.2,2.3 1.2-.9 1.2-1.8 1.2,0 1.2,.2 1.2,.7 1.2-.4 1.2,.7 1.2,.7 1.2,.7 1.2-1.7 1.2-.4 1.2,1.9 1.2,3.1 1.2,1.7 1.2,1.6 1.2,.5 1.2,.5 1.2,.1 1.2-.6 1.2,1 1.2,.7 1.2-1 1.2-2.9 1.2-1.7 1.2-3.2 1.2-1.5 1.2-.8 1.2,2.4 1.2-.2 1.2-.3 1.2-.4 1.2-.4 1.2-.6 1.2-.8 1.2-.1 1.2,.3 1.2,2.8 1.2-.6 1.2-2.1 1.2,2.5 1.2,4.9 1.2,.8 1.2-.8 1.2,1.1 1.2,.5 1.2,.3 1.2,1 1.2-.9 1.2-1.9 1.2-3.3 1.2-3.8 1.2-3.1 1.2-3.5 1.2,1.1 1.2,2.2 1.2,2.2 1.2,1.4 1.2,2 1.2-.4 1.2-1 1.2,.1 1.2-.3 1.2,1.8 1.2,1.1 1.2,1.8 1.2,2.7 1.2,2.9 1.2,1.5 1.2,.6 1.2-.4 1.2,1.5 1.2,.6 1.2-.6 1.2-.5 1.2,1.5 1.2,2.5 1.2,.6 1.2-.6 1.2-1 1.2-.3 1.2,.4 1.2,.4 1.2-.7 1.2-.7 1.2-1.8 1.2-1.6 1.2-2.1 1.2-.4 1.2,.1 1.2,1.9 1.2,2.9 1.2,1.6 1.2-.2 1.2,1.6 1.2,.7 1.2,1.9 1.2,2.4 1.2,.3 1.2,.3 1.2,.1 1.2,3.8 1.2,3.4 1.2,1.3 1.2-1 1.2-1.5 1.2-1.7 1.2-1.2 1.2,.6 1.2-.1 1.2,.5 1.2-.1 1.2,.9 1.2,1.7 1.2,1 1.2,.5 1.2,.9 1.2,.7 1.2,.9 1.2,2 1.2-.3 1.2,.6 1.2-.2 1.2,2.7 1.2,.9 1.2,0 1.2-.1 1.2,1.5 1.2,1.9 1.2,1.2 1.2,2 1.2,1 1.2,.6 1.2-.6 1.2-3.7 1.2-1.8 1.2,.2 1.2-.8 1.2-.8 1.2-1.3 1.2-2.1 1.2-2.3 1.2,.5 1.2,.8 1.2-1.8 1.2-1.8 1.2,1.2 1.2,2.4 1.2,2.3 1.2,3.1 1.2-2.7 1.2-3 1.2-3.1 1.2-2.6 1.2-1 1.2-1.6 1.2-1.5 1.2-.8 1.2,.8 1.2,2.1 1.2,2.3 1.2,1.4 1.2,.8 1.2,1.3 1.2,2.7 1.2,1 1.2-1.3 1.2-1.5 1.2,1.3 1.2-.3 1.2,.8 1.2,1 1.2-1.5 1.2-2.4 1.2,0 1.2,.3 1.2,.9 1.2,1.8 1.2,2.4 1.2,.9 1.2,1.8 1.2-2.1 1.2-1.5 1.2,1.9 1.2,1.5 1.2,1.4 1.2,2.7 1.2,1.6 1.2-.6 1.2,.1 1.2,1.9 1.2,1.3 1.2-1 1.2-1.7 1.2-.6 1.2-.4 1.2-1.1 1.2-.4 1.2,0 1.2-.7 1.2,.1 1.2,.9 1.2,1.1 1.2,0 1.2,1.1 1.2-1.3 1.2-1 1.2-1.3 1.2-1.5 1.2-1.5 1.2,.3 1.2,.2 1.2,1.7 1.2-.4 1.2-.1 1.2,.8 1.2,1.5 1.2-.4 1.2-.7 1.2-1.3 1.2-1 1.2-1.1 1.2,1.4 1.2,2 1.2,1.4 1.2,.9 1.2,.6 1.2,.4 1.2-.3 1.2-.1 1.2,.3 1.2,.1 1.2,.1 1.2,1.9 1.2,1.1 1.2,1.1 1.2-.2 1.2,2 1.2,1.9 1.2-.2 1.2-.1 1.2-.4 1.2,.6 1.2,.7 1.2,0 1.2,1 1.2,1.9 1.2,.6 1.2,1 1.2-.5 1.2,1.1 1.2,.8 1.2-.8 1.2-3 1.2-2.7 1.2,.7 1.2,.7 1.2-.2 1.2-.8 1.2,0 1.2,1.6 1.2-1 1.2-2.1 1.2,.7 1.2,2.7 1.2-.1 1.2,.5 1.2,.6 1.2-.8 1.2-.6 1.2,.5 1.2-1.8 1.2-1.5 1.2-3.4 1.2-1.3 1.2-3.3 1.2-2.7 1.2-1.7 1.2,1 1.2-.5 1.2,1.2 1.2,1.7 1.2,1.6 1.2,0 1.2,1.2 1.2,.9 1.2,.9 1.2,1 1.2,1.1 1.2,1.1 1.2,1.7 1.2,1.2 1.2-1 1.2-.8 1.2-.5 1.2-.4 1.2,.5 1.2,.5 1.2-.3 1.2-.5 1.2,.2 1.2-1.7 1.2-.8 1.2-1.1 1.2,3.8 1.2,2.9 1.2-1.7 1.2-.4 1.2-1.2 1.2-.2 1.2-.1 1.2,1.5 1.2,1.3 1.2-.2 1.2-1.9 1.2-.8 1.2-1.5 1.2,1 1.2,.5 1.2,2.1 1.2,1.6 1.2,.1 1.2-.2 1.2,1.3 1.2,1.7 1.2,1.5 1.2,.7 1.2,1 1.2,.3 1.2,.5 1.2,1.1 1.2,.2 1.2,1.1 1.2,1.1 1.2,1.6 1.2-.2 1.2,.6 1.2-2.1 1.2-1.1 1.2,1 1.2,.6 1.2,.6 1.2,2 1.2-.3 1.2,.2 1.2-1.2 1.2-2.6 1.2-1.4 1.2,.7 1.2,.9 1.2-1.8 1.2-2.8 1.2,1.5 1.2,1.2 1.2-.1 1.2-.6 1.2-.8 1.2,.8 1.2,.4 1.2-.6 1.2-1.5 1.2-2.5 1.2-1.9 1.2-1 1.2-1.8 1.2-.9 1.2-.9 1.2,.1 1.2-.3 1.2-.9 1.2,.5 1.2-.7 1.2,3.2 1.2,2 1.2,1.3 1.2,2.8 1.2,.4 1.2,1.1 1.2,1 1.2,1.2 1.2,.8 1.2-.1 1.2,.6 1.2,1.9 1.2,1.9 1.2-.3 1.2,.2 1.2-.9 1.2-1.5 1.2-1.1 1.2-.5 1.2-1.4 1.2-.4 1.2,1.6 1.2,2.3 1.2,1.2 1.2-.1 1.2-.2 1.2-1.4 1.2-.4 1.2,1.2 1.2,1 1.2,.9 1.2,.8 1.2,.8 1.2,2.2 1.2,.3 1.2-.1 1.2-.2 1.2-.4 1.2-.8 1.2-.4 1.2,0 1.2-2.2 1.2-2.1 1.2,1 1.2,.1 1.2-1.3 1.2-1.1 1.2-2.5 1.2-3.5 1.2-.5 1.2,1.7 1.2,1.8 1.2-1.7 1.2,.2 1.2,1.7 1.2,1.9 1.2-1.6 1.2-1.9 1.2,2.4 1.2,2 1.2,2 1.2,.4 1.2-1.2 1.2-.3 1.2,.4 1.2,2.6 1.2,.5 1.2,1.3 1.2,1 1.2,.3 1.2-.7 1.2-1.2 1.2-1.7 1.2-.4 1.2-1 1.2-1.2 1.2,1.1 1.2,.2 1.2,1.9 1.2,1.7 1.2,.1 1.2,0 1.2,1.2 1.2,1 1.2-.4 1.2-1.2 1.2,0 1.2,.9 1.2-1.1 1.2-2.5 1.2-.8 1.2-.2 1.2,.3 1.2,1.9 1.2,.9 1.2,0 1.2,0 1.2-.1 1.2,.6 1.2,.7 1.2,2 1.2-.1 1.2-1.8 1.2-.5 1.2,1.3 1.2,2 1.2,1.3 1.2,1.8 1.2-.8 1.2-.5 1.2-.8 1.2-1.1 1.2,1.6 1.2,.5 1.2-.5 1.2,.4 1.2-.8 1.2-.4 1.2-1.5 1.2-.9 1.2-1.5 1.2-.5 1.2,.6 1.2-1.2 1.2-1.4 1.2,.7 1.2,1.6 1.2,1.4 1.2,1.5 1.2,.9 1.2-1.4 1.2-1.3 1.2,4.2 1.2,4.1 1.2-1.9 1.2-.1 1.2,.4 1.2,1.6 1.2-1.5 1.2-1.9 1.2-.7 1.2,0 1.2,.2 1.2-.4 1.2-.2 1.2,.8 1.2,.5 1.2-.2 1.2,.4 1.2,.4 1.2-.2 1.2,1.2 1.2,1.9 1.2,1 1.2-.2 1.2-.2 1.2,0 1.2-.5 1.2-2.2 1.2-3.5 1.2-1.3 1.2-1 1.2,2 1.2,.7 1.2,.8 1.2,1.8 1.2,.3 1.2-.8 1.2-.5 1.2,1.3 1.2,0 1.2,.3 1.2-.7 1.2,.1 1.2-.2 1.2-.8 1.2,.9 1.2-.5 1.2-1.8 1.2-1.6 1.2-.8 1.2,.8 1.2-1.1 1.2-.4 1.2,.1 1.2,1.1 1.2,2 1.2,2.5 1.2,.7 1.2,1 1.2-.9 1.2-1.8 1.2-.4 1.2,.6 1.2-.7 1.2,0 1.2-.3 1.2-.2 1.2-.2 1.2-.7 1.2-.7 1.2-.3 1.2-.2 1.2,1.6 1.2,1.6 1.2,.7 1.2-1.3 1.2-.7 1.2,.7 1.2,.3 1.2,.6 1.2,1.3 1.2,1.6 1.2,1.9 1.2-.6 1.2-.9 1.2,.4 1.2-.2 1.2,.3 1.2,1.4 1.2-.4 1.2,.3 1.2-.4 1.2,1.9 1.2,1.9 1.2,1.5 1.2,1.5 1.2,.1 1.2-.1 1.2-.5 1.2,.2 1.2,1.3 1.2-.6 1.2,.6 1.2-.3 1.2,0 1.2,.3 1.2-.4 1.2,.6 1.2,1.7 1.2,1.2 1.2,2.5 1.2-1.8 1.2-2.5 1.2-1 1.2,1.7 1.2,1.1 1.2-2.6 1.2,.3 1.2,.5 1.2,.8 1.2,0 1.2-.1 1.2,.2 1.2-.4 1.2-.5 1.2-.6 1.2-.7 1.2-.6 1.2-1.5 1.2-.4 1.2-1.4 1.2,.5 1.2-.4 1.2-.2 1.2-1.4 1.2,1.1 1.2-2.7 1.2-3.4 1.2-4.2 1.2-.2 1.2,.8 1.2,.2 1.2,2 1.2,.7 1.2,.7 1.2,2.1 1.2,1.9 1.2,1.1 1.2-1.4 1.2-1.2 1.2-2 1.2-.2 1.2,.6 1.2,1.6 1.2,1.5 1.2,.1 1.2,.1 1.2,.8 1.2,1.9 1.2,.4 1.2-1.2 1.2-1.9 1.2-2.1 1.2-.1 1.2,1 1.2,.8 1.2-.2 1.2,0 1.2,.6 1.2,1.4 1.2-.3 1.2-1.1 1.2-.2 1.2,.9 1.2-1.8 1.2-.3 1.2,1.5 1.2,4.7 1.2,.6 1.2-1.5 1.2-1.5 1.2,1.9 1.2,0 1.2,.4 1.2-1.1 1.2-.2 1.2,.1 1.2-.9 1.2-.3 1.2-1.3 1.2-2.1 1.2,1.1 1.2,.8 1.2,2.1 1.2-2.8 1.2-1.9 1.2-1.5 1.2-.7 1.2,1.4 1.2,2.5 1.2,.6 1.2-.5 1.2,.8 1.2-.2 1.2,1.3 1.2,2 1.2,2 1.2,.2 1.2,.1 1.2,.6 1.2,1.9 1.2-.4 1.2,.3 1.2,1.1 1.2,1.6 1.2,.5 1.2-1.6 1.2-1.5 1.2-1.1 1.2-1.9 1.2,.2 1.2-.9 1.2,.7 1.2,.9 1.2-.7 1.2-1.2 1.2,0 1.2-.2 1.2,.5 1.2,.6 1.2,1 1.2,.7 1.2,.9 1.2,.5 1.2,.9 1.2-.8 1.2-1.3 1.2,.6 1.2-.2 1.2-.4 1.2-.8 1.2-3.6 1.2-4.3 1.2-2.6 1.2,.6 1.2,.9 1.2,2.5 1.2,1.6 1.2,.1 1.2-.3 1.2,0 1.2-1.1 1.2-.5 1.2,1.2 1.2,.1 1.2,1 1.2,.1 1.2,.5 1.2,1 1.2,1.2 1.2,1.6 1.2-.7 1.2,.1 1.2,.9 1.2,2.5 1.2-1.5 1.2-2.1 1.2,1.8 1.2,2.2 1.2,.9 1.2-1.4 1.2,.3 1.2,.8 1.2-.3 1.2,.6 1.2,1.9 1.2,.3 1.2,.3 1.2,.4 1.2,.5 1.2-3.1 1.2-1.5 1.2-2.8 1.2-2.9 1.2-1.3 1.2,1.5 1.2,2 1.2,.7 1.2,.3 1.2,1.5 1.2,1 1.2-.9 1.2-1.2 1.2,1.1 1.2,2.6 1.2-.2 1.2,.6 1.2,.3 1.2,1.5 1.2,1.2 1.2,.9 1.2,1.4 1.2-2.1 1.2-2.8 1.2-.4 1.2,.5 1.2-.5 1.2,1 1.2-1.1 1.2-.8 1.2,.4 1.2,2 1.2,2.6 1.2,.5 1.2-.3 1.2,0 1.2,.3 1.2,.5 1.2,1.2 1.2,.8 1.2,1.6 1.2-.6 1.2-1.1 1.2-.4 1.2-.1 1.2-1 1.2-.8 1.2-2.8 1.2-2.7 1.2-3 1.2-3.3 1.2-2.9 1.2,1.3 1.2,.2 1.2,.6 1.2,.7 1.2,1.1 1.2,1.5" fill="none" stroke="#d62728" stroke-width="5.6" stroke-linejoin="round" stroke-linecap="round"/>
</g>
<rect x="164.2" y="753.2" width="1468.3" height="508.39999999999986" fill="none" stroke="#cccccc" stroke-width="2.2"/>
<text x="155.5" y="1277.2" text-anchor="end" class="t">0.00</text>
<text x="155.5" y="1150.1" text-anchor="end" class="t">0.05</text>
<text x="155.5" y="1023.0" text-anchor="end" class="t">0.10</text>
<text x="155.5" y="895.9" text-anchor="end" class="t">0.15</text>
<text x="155.5" y="768.8" text-anchor="end" class="t">0.20</text>
<text x="164.2" y="1301.6" text-anchor="middle" class="t">0</text>
<text x="483.5" y="1301.6" text-anchor="middle" class="t">5000</text>
<text x="802.8" y="1301.6" text-anchor="middle" class="t">10000</text>
<text x="1122.1" y="1301.6" text-anchor="middle" class="t">15000</text>
<text x="1441.4" y="1301.6" text-anchor="middle" class="t">20000</text>
<text transform="translate(51.9,934.4) rotate(-90)" text-anchor="end" class="l"><tspan font-style="italic">μ</tspan> MSE</text>
<line x1="203.3" y1="1016.3" x2="288.6" y2="1016.3" stroke="#1f77b4" stroke-width="5.0" stroke-linecap="round"/>
<text x="322.9" y="1031.2" class="t" style="font-size:43.2px">ER-Random</text>
<line x1="203.3" y1="1077.2" x2="288.6" y2="1077.2" stroke="#ff7f0e" stroke-width="5.0" stroke-linecap="round"/>
<text x="322.9" y="1092.2" class="t" style="font-size:43.2px">Rewired</text>
<line x1="203.3" y1="1138.2" x2="288.6" y2="1138.2" stroke="#2ca02c" stroke-width="5.0" stroke-linecap="round"/>
<text x="322.9" y="1153.1" class="t" style="font-size:43.2px">MLP</text>
<line x1="203.3" y1="1199.2" x2="288.6" y2="1199.2" stroke="#d62728" stroke-width="5.0" stroke-linecap="round"/>
<text x="322.9" y="1214.1" class="t" style="font-size:43.2px">FlyGM</text>
<g stroke="#cccccc" stroke-opacity="0.40" stroke-width="1.7"><line x1="483.5" y1="1421.4" x2="483.5" y2="1930.0"/><line x1="802.8" y1="1421.4" x2="802.8" y2="1930.0"/><line x1="1122.1" y1="1421.4" x2="1122.1" y2="1930.0"/><line x1="1441.4" y1="1421.4" x2="1441.4" y2="1930.0"/><line x1="164.2" y1="1828.3" x2="1632.5" y2="1828.3"/><line x1="164.2" y1="1726.6" x2="1632.5" y2="1726.6"/><line x1="164.2" y1="1624.8" x2="1632.5" y2="1624.8"/><line x1="164.2" y1="1523.1" x2="1632.5" y2="1523.1"/></g>
<g clip-path="url(#clipc)">
<path d="M279,1267.7h3v4.9h3v-3.6h4v-1.1h4v-.4h1v16.6h.8v20.3h.8v22.6h.8v26.4h.8v27h.8v18.1h.8v16.6h.8v7.1h.8v-3.2h4.3v2.3h5v-15h3v10h2v-.6h2v5.8h4v-8.6h3v6.8h2v-3h3v-3.7h3v4.3h5v18.8h.8v28.3h.8v23.2h.8v12.8h.8v12.5h.8v5.1h.8v14.8h.8v10.9h.8v8.4h.8v-.6h1.5v-8.7h.8v-3.3h.8v-7.7h.8v-2.6h.8v-6.5h.8v-11h.8v-10.3h.8v-13.6h.8v1h.9v-.3h3v-4.1h3v5.1h5v-66h.8v-10.2h.8v12.6h3.6v-.4h3v-5.4h3v7.6h5v20.3h.8v9.9h.8v12h.8v4.3h.8v1.6h1v6.9h.8v5.8h.8v48.9h.8v17.4h.8v4.2h.8v0h4v6.6h2v-2.9h4v1.7h2v-.7h3v-8h5v-48.4h.8v-12.3h.8v-9h.8v-9.5h.8v-12.3h.8v-14.2h.8v-14.3h.8v-13.9h.8v6.2h.8v-3.6h4.2v.5h4v-8.2h.8v32.4h.8v21.9h.8v4.3h.8v.6h1.2v2.9h2.2v3.8h5v-5.8h5v126.3h.8v-.7h5v-5.6h2v-2h2v-9.5h2v4.9h4v6.8h2.6v2.7h1.2v8.1h1.2v-.6h4v-16.3h1v-4h1v-5.2h1v-7.5h1.1v-2.1h1.1v-1h1.4v-8.2h1.5v-8h1.5v-7.3h1.5v1.5h.8v-21.2h.8v-12.4h.8v2.7h.8v13.5h4v17.8h.9v5.9h2v1.1h3v4.9h2.7v2.3h2v5h2.4v5.8h2.5v2.2h.9v-11.3h.8v-13.6h.8v-13.4h.8v-2h.8v.2h3v5.5h2.5v7.8h.8v8.4h.8v7.5h.8v.2h1v9.1h1.2v2.9h1.2v4.7h1.3v4.2h.9v1.4h.8v15.1h.8v8.8h.8v6.9h1v-11.1h3v-11.6h.9v-6.9h1.2v2.3h2.8v-1.3h4v-3.6h2v-4.9h2.3v-7h1.4v18.6h4v62.6h.8v6h5v-4.5h3v-23.2h.8v-13.4h.8v-2.5h.8v1.9h1.7v-2.4h2v.3h5v17.6h1.6v-7h3.8v5.1h1.8v11.3h1v-1.6h2v.3h4v.2h4v8.4h1.7v9.4h.8v25.8h.8v-37.3h5v-4.4h3v4.3h.9v13.4h.8v18.7h2v-88.2h.8v-52.3h.8v-58h.8v-68.2h.8v3.4h.8v-1.8h.8v.9h4v-1.9h4v-.9h3v2.9h5v230.7h.8v-2.8h.8v-6.8h1.5v-7.2h.8v-18.8h.8v-16h.8v-14.8h.8v-1.4h.8v-1.5h2.1v-.7h4v-2.9h2v2.7h1.8v13.2h.8v3.3h.8v2.3h1.1v3.3h1.3v15.6h.8v10.5h.8v16.9h.8v6.3h.8v6.4h.8v1.7h2v-21.5h.8v-13.1h.8v-31.6h.8v-35.8h.8v-32.6h.8v-4.1h.8v-5.2h.8v-7.3h2v10h3v2.4h4v82.3h5v34.5h4v3.1h3v7.3h3v5.1h1.6v8.7h1.5v1.3h2v-3h.8v22.1h.8v-.3h.8v12.3h.8v6.2h1.2v-4.3h2.4v-45.7h.8v-13.2h.8v-.4h.8v2.8h4v.9h4v-3.7h.8v-22.3h.8v-29h.8v-3.3h.8v.6h1.7v-1.1h1.2v13.1h.8v8.7h.8v-4.6h1.4v4.4h5v-.3h3v-18.3h.8v50.7h.8v5h.8v4h.8v.4h.8v13h.8v4.8h.8v7.4h.8v8.6h.8v-3.1h.8v24.2h.8v-1.6h.9v.9h4v4h5v34.1h1.2v-14h2.9v-8.2h2v-.7h1.7v-34h.8v-15.4h.8v-1.8h.8v.2h2v1.5h2v-.2h3v-1.2h2v10.5h.8v4.3h.8v6.7h.9v1.4h1.2v3.1h1.4v2.8h.8v15.9h.8v15.4h.8v.8h.8v-5.5h3v2.6h.8v-3.6h2v-11.7h.8v-11.1h.8v-5h.8v-8.7h.8v-6.2h.8v-11.2h.8v-4.1h.8v-5h1.2v4.2h5v-2.6h.8v14.9h.8v47h.8v9.6h.8v-.6h.8v-7.1h.9v-2.6h.9v-8h.8v-7.2h.8v-6h.8v-2.9h1.3v5.5h2.8v-4.9h1.3v-6h2.1v3.1h5v48.3h.8v3.5h3v-.8h1.4v-10.4h.8v-11.2h1v11.4h2v-1.5h2.5v-4.2h1.8v-3.2h1.8v-3.9h2.9v-.9h4v9.9h.8v5.4h.8v9.6h1.2v-14.5h2.5v-14.9h.8v-5.7h.8v-8.7h.8v-10.1h.8v-3.7h1v-.6h2.5v-2.9h2v-5.2h1v-4.7h.8v-10h.8v-3.6h.8v-8h1.6v12.4h.8v9.7h.8v8.9h.8v-4.4h1.2v2.4h.8v21.8h.8v32.9h.8v-8.2h.8v-7.4h1.2v-8.3h.8v-5.7h.8v-19.8h.8v-24.4h.8v-22.6h.8v-5.8h.8v5.5h1.8v-6.4h1.1v-8.8h.8v-4.9h.9v-.8h1.6v1h5v15.4h.9v.2h1.4v.8h.8v17.2h.8v22.1h.8v16.5h.8v5h.8v-1.1h1v4.9h2v11.7h1v1.6h1.4v-7.5h1.4v-3h2v1.3h3v21.3h.8v-1.1h1.4v-21.3h.8v1.7h.8v1.7h5v22.9h.8v2.1h1.6v-.4h4v4.1h2.5v8.2h2v.9h4v.6h2v.2h3v7.9h1.1v8.1h2v-48.7h.8v-22.1h.8v-1.6h.8v1h2v-1.4h2v-1.1h2v4.4h3v26.8h.8v-9.6h1.7v1h3v17h.8v-1.8h2.4v-7.4h1.4v.9h5v-2.5h4v-.4h5v5.6h3v4h4v13.7h.8v7.5h.8v11h.8v8.6h.8v2.1h.9v2h1.8v4.9h2.4v.6h4v-2.3h5v-9.1h1.2v-10h1.3v.6h1.1v-6.2h1.1v-5h1.2v-3h2v15h4.5v-33.3h.8v-1.2h.8v-2.1h1.4v-5.7h3v28h.8v.6h2v0h5v-24.4h.8v-1.5h1.1v14.5h.8v16.9h.8v1.2h.8v1.1h4v6.6h1.5v.4h3v.9h3v5.4h3.7v3.2h2.5v-1.4h3v-.1h3v-5.5h4.4v-98.7h.8v-4.2h.8v.6h1.2v.1h1.7v-22.9h.8v-5.7h.8v-2.9h1v.3h4v31.8h.8v3.7h.8v-1.8h.8v-1.7h.8v52.7h.8v5.8h.8v3h.8v3.2h.9v7.9h1v1.8h4v13.1h.8v11.9h.8v.5h.8v-.3h2v2.5h2v3.9h2.6v-8.5h2.5v-.1h3v3.6h2v5h1.4v-.6h3.2v-8.8h2.1v9.2h5v11.4h5v8.7h2v2.5h2.5v-1.9h3.2v6.5h2v-2.7h4v.8h2v-4.1h.8v-15.2h.8v-3.5h.8v-.2h1.7v-.2h4v3h2v-3.1h1.5v-10.1h.8v-10.1h2.1v12.2h.8v-.7h3v7.5h1.5v3.2h2v1.7h5v14h1.2v-.3h2v3.9h2v3.5h1.8v4.7h1.8v-6h4v-42.7h.8v-2.8h3v-2.5h.8v-22.7h.8v.1h.8v-.8h3v-.2h3v4.6h4v36.9h.8v9.8h1.6v1.4h4v2.5h5v-56.9h.8v1.3h.8v0h1.3v-13.7h4v-13.6h.8v29h.8v24.3h.8v-1.3h.8v1.2h4v1.9h3v21.5h.8v5.4h.8v1.8h1.1v3.7h2.2v2.1h5v.6h4v9.6h2v-4.3h3.9v-1.6h2v-3.1h2v17.6h2v-27.2h.8v1.1h.8v-.4h3v-8.5h1.8v.8h3v.2h3v-1.9h4v41h.8v2.8h.8v-7.3h3v-6h2.6v-4.3h3.4v-1.8h3v-6.1h1.6v-2.9h1.8v.2h2v-1.5h3v1.4h4v-.3h2v-.6h1.5v10.6h1.3v-1.8h4v5.8h1.5v4.1h1.4v-.4h2v-1.3h5v-.9h5v-4.7h1.6v-24.3h.8v.8h.8v-4.1h1.2v5h4v7.5h2.3v-5.6h2v8.6h2v-23.5h.8v-1.6h1.3v15.2h.8v16h.8v.4h.8v1h2v-5.8h1.8v2.8h2v3.9h3.2v1.4h1.2v12.6h.8v8.5h.8v7.6h.8v-21.1h4v-8.6h.9v-11.3h1.5v8.2h3v-1.7h3v-4.1h1.6v-11.2h1.1v-.5h1.6v-.9h2v.4h3v18.3h.8v.4h1.1v.1h3v10h2v-6.3h1.4v-3.5h2.8v-1.8h4v1.6h3v2.8h5v-.2h4v-6.4h2.8v5.7h1.7v2.4h2.9v-3.1h2v-2.4h2v-5h2.7v4.7h2.5v1.3h1v10.4h.9v3.1h.9v3.1h2v3.6h4v.9h3v1.2h2v1.1h4v-4.2h2v-2.5h2v-3.9h4v-13.3h1.1v-.4h2.9v9.5h1.5v.3h2.3v2.6h4v4.4h2.9v9.9h.8v8h1v.1h1.7v.1h2v.9h1.7v-17.7h.8v-.3h1v.2h2v-.4h4v9.3h1.2v3.9h1.5v0h5v-2.4h1.6v2h1.8v-4.5h4v-5.7h4.4v-11h2v10.9h1.1v4.5h1.2v-.6h3v-1.1h2v-3.1h1.7v-15.7h.8v-8.6h.8v-2.9h1v1.3h4v.2h2v3.9h2.4v13.9h.8v2.1h1v4.5h1.2v5.9h.8v5.5h.9v5.6h1.1v1.4h2.8v-5.8h1.5v1.1h2v3.1h1.7v5.2h2v1.6h4v-4.9h.9v-8.9h1.5v9.8h1.7v2.9h1.7v.8h2v-9h1.5v.4h1.5v-1.2h2v.3h2v2.5h1.4v6.2h1.5v-1.5h2v-1h3v-8.6h1.9v.5h3v-1.2h4v-3.7h3v5.4h4.8v-1.9h4v-1.1h4v5.8h1.9v3.5h3.4v1.1h3v5.3h4v.3h2v-4.2h2.9v-10.6h.9v-3.6h.9v-5.8h1.1v-3.9h1.9v5.1h4v9.5h2.4v1.3h3v1.1h3v.8h2v4.9h3v-3.9h3.9v.8h4v.8h3v1.3h5v-.7h2v.6h3v.3h3v.1h3v-3.9h3.6v-10.1h1.7v-3.5h3.5v3.1h3v-3.7h3v-4.1h3.6v-1.7h4v4.7h2v32.2h.7h0v37.4h-2.9v-.6h-2v1.7h-5v.7h-7v-1.3h-2v-4.1h-5v1.9h-9v2.3h-2v-1.4h-3v.1h-3v1.1h-3v.2h-3v-1.6h-7v-2.7h-7v3.9h-9v-4.4h-3v1h-5v1.5h-4v-.7h-8v1.4h-3v-3.5h-7v2.5h-9v-.3h-6v.6h-5v-.9h-2v-.5h-3v2.1h-6v.4h-5v-3.4h-4v.9h-6v-5.8h-4v-2.3h-6v3.2h-3v.7h-4v.9h-9v.4h-2v.4h-3v-1.9h-8v.2h-7v-.5h-2v-.2h-5v1.6h-3v-.2h-2v-2.2h-7v-2.4h-7v1.1h-6v1.3h-8v-3h-9v2.2h-3v2.7h-3v-2.5h-3v1h-5v-.5h-8v-.6h-5v-.5h-3v-1.6h-7v-.6h-2v-.3h-7v2.4h-6v1.5h-5v-1.1h-7v-2.3h-9v-1h-6v-1.4h-6v.2h-7v-.7h-7v3h-8v-2.6h-2v-.6h-7v3h-5v2.4h-7v-1.8h-5v-4h-9v-1.9h-8v3.4h-9v-.9h-8v-1.1h-3v.2h-5v-1.8h-7v2.4h-3v.3h-6v-1.3h-4v1.6h-3v.4h-6v-3h-9v-1.6h-8v-1.9h-7v-2.9h-4v1.5h-3v1.2h-4v-.8h-9v3.7h-5v-4.1h-7v1h-2v.7h-6v-2.5h-8v-2.3h-6v-2.2h-6v.1h-4v-.8h-7v2.1h-8v-3.5h-4v6.8h-3v-2.9h-5v-4.3h-4v8.8h-7v-2.4h-3v1.2h-7v-5.9h-7v.9h-3v-2.1h-9v3.1h-7v-4.1h-3v7.6h-4v-12.3h-8v.4h-2v1.5h-3v-4.2h-7v0h-5v2.1h-8v-1.2h-9v.8h-7v.3h-5v2.2h-7v-5.4h-8v4.6h-9v3.8h-5v2.4h-9v-7.5h-4.8v.6h-4.7v-7.1h-4.8v3.6h-4.7v.2h-3v2.4h-8v-2.8h-2v-1.8h-4v-1.1h-3v-2h-2v-5h-4v4.6h-2v-4.1h-3v7.5h-4v-9.8h-9v.8h-3.3v5.8h-2.9v-1.7h-3v8.3h-4v6.9h-2v-8.6h-4v5.2h-2v-8.7h-2.2v-6.2h-8v7.2h-7v-7.6h-2v-.3h-2v5.9h-9v-7.6h-7v2.8h-2.3v3.6h-1.9v11.4h-3v-9.3h-2.5v-3.9h-6.2v-5.4h-3v1.3h-5v-2.9h-6v7.2h-6v-1.9h-7v-3.9h-7v4.2h-7v-1.4h-3v-1.3h-4v-2.5h-2v-1.7h-9v-6.1h-9v-.8h-9v-2.3h-6v4.2h-9v-5.7h-8v-2.5h-8v-.3h-7v.9h-2v6.2h-3.6v-10.6h-2v-7.2h-2v1.6h-5v13.2h-3.3v-12h-1.9v7.2h-1.8v2.5h-1.9v6.3h-5v-.3h-5.9v-2.3h-2.4v-7.1h-2.5v-12h-2v2.2h-6.9v-6.1h-7v-4.2h-2v1.4h-3.6v-5.1h-3v0h-4.8v5.6h-3v-14.6h-9v2h-6.1v4.5h-3.6v4.7h-5v-1.9h-5v-1.2h-2.5v19.6h-1.8v-23.9h-1.9v-9.8h-1.8v-6h-2.8v.5h-2.5v14.7h-3.3v6.3h-3v-4.2h-4v2h-6v1.8h-9v5.2h-4v-.4h-9v2.4h-2.2v-6.4h-2v-4.1h-2.2v-13.6h-8v1.1h-4v3.8h-5v-13.1h-4.7v-4.6h-4.1v3.3h-2.9v-6.9h-6v-10h-9v-.3h-4.6v5.7h-1.6v4.2h-1.2v7.1h-1.2v6.4h-2v1.2h-3.2v7.6h-6.2v-.6h-9v4h-3.6v-8.2h-1.8v-6h-1.8v6.8h-1.9v-12.2h-4.7v-8.2h-3v3.1h-3.7v-12.5h-3.6v-4.6h-5v8.6h-8v1.5h-4v31.8h-2v-39.5h-3v2.7h-3v-1.5h-2.1v-2.8h-2.1v-11.1h-2v-.6h-1.9v-7.1h-1.8v-2.1h-1.9v-11.9h-2.3v3.3h-2v-1.1h-2v-4.5h-4v-2.1h-2v-3.2h-3.8v-3.5h-2.4v6.1h-1.8v13.1h-1.5v2.6h-1.4v1h-1.4v7.6h-1.4v9h-5v.2h-1.6v-2.7h-1.6v-.4h-1.7v-12.5h-2.1v3.1h-2.9v-3.7h-2.9v-11h-1.6v1.7h-1v-10.2h-1v-.7h-1v-9.8h-1v-3.3h-1v-4.8h-1v-1h-1v-20.7h-2.4v1.3h-1.5v7.5h-.9v2h-.9v5.9h-1v3h-.9v5.9h-.9v8h-3.6v-1.7h-3.7v-3.6h-1.6v7.2h-.9v-15.8h-.8v3.6h-.8v-11.9h-.8v-5.8h-.8v-10.9h-.8v4.1h-1v-12.4h-4v-10h-1.6v5.3h-.9v3h-1v7.1h-1v7.6h-1v2.9h-1v-1.5h-1v17.7h-2v15.6h-.8v-12.8h-.8v-21.5h-.8v-29.3h-.8v-31.2h-.8v-13.1h-.8v-38.4h-.8v-23.7h-.8v-34.3h-.8v-27.3h-.8v-11.9h-.8v-40.9h-.8v-44.6h-.8v-52.2h-.8Z" fill="#1f77b4" fill-opacity="0.15" stroke="#1f77b4" stroke-opacity="0.22" stroke-width="1.1" stroke-linejoin="round"/>
<path d="M186.5,1273.4h5v.4h4v-4.4h2v.8h5v5.3h3v-10.4h4v4.9h2v-.2h6v-3.1h6v3.4h4v-1h5v-2.4h2v-3.4h2v11h4v-5.3h2v-.8h5v3.9h3v-2.5h6v.9h6v-.1h5v-1.8h3v2.1h2v-3.7h6v3.1h2v-2.5h2v5.7h6v-1.9h5v1.2h3v-2h3v28.7h.8v20.2h.8v21.9h.8v31.8h.8v21.4h.8v24.2h.8v9.1h.8v24.7h.8v8.3h.8v9.7h.8v-.1h.8v17.4h.8v6.5h.8v.6h.8v13h.8v11.2h.8v7.8h.8v3.7h.8v9.3h.9v-.9h1.9v-4.8h2v8.7h3v-2.2h4v1.9h6v4.4h3v-4h2v8.3h5v24.1h.8v3.1h.8v10.1h.8v3.3h1.2v-4.9h4v4.2h6v-3.5h1.9v-4.7h1.8v-7.9h1.8v-4.3h1.8v-2.8h1.5v-10.5h.8v-16.9h.8v-14h.8v-8.7h.8v-.5h1.1v-1.5h2v-1.8h6v6.5h6v-6.2h2v.7h4v1.5h2v-2.7h2v2.4h3v2.2h5v78.3h.8v18.2h.8v11.4h.8v14.8h.8v10h.8v-3h1.8v-11.7h.8v-6.6h.8v-4.3h.8v-2.3h.8v-8.4h.8v-5.5h.8v-1.6h.9v-7.1h1.2v-1.1h2v-6.8h2.1v1.9h3v.6h2v5.8h2v2.1h3v18.9h.8v8.4h.8v11.2h.8v-1.8h1.1v-.4h3v-2.5h2v4.9h3v3.1h4v-10.6h5v4.9h4v-2.8h6v5.6h6v48.9h.8v-1.8h.8v5.2h3.2v-.6h6v-.1h2v4.5h2.6v6.8h1.4v5.2h1.5v6.1h1.4v3.8h1.4v5.8h1.4v-2h1.9v-18.2h.8v-6h.8v-.5h1.1v-5h3.9v-3.9h3.8v-3.5h3v-2h5v-1.2h6v5.2h3v2.8h1.4v6.3h1.5v2.9h1.9v.1h3v-.8h6v4.4h5v4.1h4v-1.8h1.4v12.1h.8v13h.8v7.7h.8v-.7h1.2v-2.8h4v.9h6v3h6v1.1h2v5.3h6v-2.9h3v-1.9h6v-5.1h1.2v-6.2h.8v-11.3h.8v-5.4h.8v-7.5h.8v-7.4h.8v-3.2h.8v-7.2h.8v-7.7h.8v-5.4h.9v9.2h5v12.6h6v12.4h.8v10.4h.8v4.5h.8v1.5h.8v21.1h.8v16h.8v10.5h.8v3h.8v1.7h2.5v-.8h4v6h4v2.6h3.6v2.9h3v5.2h5v-9.5h1.5v-6.8h1.1v-8.9h1.1v1.3h1.5v-4.5h3.5v8.2h1.3v6.5h.9v2.8h2.4v-11.9h.8v-6.2h1.1v3.1h3.7v3.1h1.5v10.1h.8v6h1.2v-10.9h5v-7.9h4v5.3h1.7v7.9h1.1v-10.6h4v-9.2h2v.8h4v.1h3v-3.1h1.6v-14.2h.8v-9.8h.8v-6.8h.8v.5h1.3v-4.7h3v6.5h2.2v5.2h1.9v3.6h4.4v1.7h2v.2h.8v10h.8v17.8h.8v2.3h.8v-1.4h1.5v7.2h3.1v4.1h2.3v5h1.6v5h1.7v4.4h1.6v5.8h1.9v6.3h3v-.3h3.3v5.4h2v2.5h2v-7.2h4v-13.2h1.3v-2.3h5v-1.6h1.7v-12.9h.8v-6.1h.8v-4.7h1v-2h2.4v-1.4h4.8v-1.5h6v1.8h2v8.5h.9v6h.9v5h1v6.8h.9v2.2h1v4.7h1v7.4h1.3v.8h1.8v2.7h2.4v6.6h2.5v-2.9h1.7v-9.7h.8v-4.7h1.1v-.1h3.9v-2.8h4v-20.7h.8v-11.8h.8v-18.1h.8v29h5v17.7h1v3h1.4v2.1h3.8v5.6h4.7v16h1v3.2h1.6v5.5h2.5v-3.9h2v-10h1.1v-.6h2.4v.6h3v-.8h4v-1.5h4v13.4h.8v3.8h1.2v-.4h3.5v1.4h4v-6.4h4v-24.2h.8v-.4h1.3v-4.5h4.7v-18.1h.8v-1.1h1.3v.8h4v2h4v2.5h2.3v10.8h.8v6.6h.8v10.9h.8v9.9h.8v6h.8v1h1.3v2.2h5v-10.5h1.4v-3h1.4v-5h2v2h3v4.6h2.6v6.2h2v.7h5v2.9h5v-4.3h6v-9h.8v-8.3h.8v-7.6h.8v-1.3h1.1v-.2h3v-1.5h4v9.6h1.1v6.5h1.1v.3h1.6v6.1h3.2v7.2h1v7.7h.9v1.9h1.7v-4.4h1.9v-6.3h1.6v-2.5h2v1.4h2v0h5v-1.2h4v1.9h3v-.9h2v.8h3v.2h2v-6.5h1.4v-5.3h.9v-5.9h.9v-4.5h1v-4.3h1.2v-2.3h2.5v-3.6h4v.2h6v-.4h2v6.4h1v8.3h.8v5.1h.8v4.4h1.1v3.3h1.6v4.9h1.6v4.1h1v8.1h.8v5.3h.8v5.7h1.1v-.8h3.7v-.9h2v-2.3h2v-.1h6v-5h5v-1.2h6v.1h3v-1.1h2v-.9h5v-12.8h1.2v-.6h3.1v1.6h4v9.5h1.5v-.4h2.8v.1h4v4.5h2v3.4h2v6.8h1.6v.5h4.3v1.6h6v-9.2h.8v-7.4h1v-1.6h1.5v-1.3h4v.3h2v.3h2v3.8h1v10.8h.9v.4h1.2v.3h3v2.4h3v21.5h.8v1.3h1.7v-11.9h5v-9.1h6v-.4h3v7.1h1.8v4.2h2v-1.9h2v-6.3h6v-4.6h6v-8.2h1.3v-5.4h1.3v-2h2v-.3h6v2.3h4v-17.1h1v-1h6v22.4h.8v0h1.1v1h2v2.7h4v20.3h.8v.6h1.8v1.4h3v1.6h4v-4h4v-9.3h1.8v-1h4v-.9h3v-5.5h2.6v-6h2.1v-5.1h2.4v-3.6h2v-4h3.6v-4.3h3.7v-5.9h2.1v5.4h1.4v6.7h1.1v2.1h2v4.6h2v6.2h1.6v5.2h1.3v4.9h1.6v4h1.9v4.7h1.8v5.1h1.9v-.1h2v-3.5h3.6v-5.7h3.6v-4.7h5v3.1h4v-.7h5v-1.3h2v-.4h4v.9h5v.1h6v-7.4h3v.2h6v10.3h2.2v3.9h2.9v9.5h1.6v-.7h6v.2h4v-1.3h3v.4h3v-2.5h2v-.6h4v-1.6h5v.2h5v2.5h5v3.8h2v-5.4h2v-5.9h1.5v-5.2h2v5.3h3v0h3v1.5h4v-1.3h3v1.1h4v2h2v0h2v3.2h5v-4.9h3.2v-3.8h2v-2.9h4v1.1h5v3.2h5v1h5v1.3h4v6.7h2.5v2.7h3v.4h6v-1.7h4v-3.7h4.7v2.2h4v1.1h2v-.9h2v2.5h2v-5.6h3.3v-1.3h5v-.8h6v3h5v3.3h2v.9h2v-.2h6v.7h4v.4h6v-2.6h3v-2.7h4v-6.3h3.4v1.4h4v-1.1h6v11.5h2v-.2h4v1.7h2v-1.9h3v10h2.2v-1.5h6v-.7h4v-1.3h3v.2h5v-.6h5v.1h3v-.7h5v-10.6h2v-.4h6v.1h2v-.1h5v-1.1h6v16.6h1v-2h2.1v-4.8h4v6.2h2v2.4h2.6v-1.1h3v2.3h6v-1.6h2v-5.3h1.6v-6.5h1.8v-1.4h4.7v1h4v3.1h4v5.2h4.8v.5h6v-4.4h2v-3.1h4v-6.6h2.3v-5.5h1.8v-1.5h2v13.5h.9v1.3h1.1v1.8h2.2v6.7h3v2h5v1.7h6v-1.8h4v-3.2h6v-1.5h6v.7h2v-.6h2v2.7h2v.5h6v-1.6h2v1.9h6v-3.6h5v2.2h2v-.1h2v-1.1h6v-6.7h2v-2.3h4v-2.6h6v-.4h6v-.6h1.3h0v40.8h-3.3v1.1h-3v1h-2v-.1h-4v-1h-6v.5h-6v.2h-5v-.1h-6v.2h-8v1.1h-9v-1h-4v-.8h-4v.2h-5v-.4h-3v-.9h-9v.6h-9v-1.8h-9v1.1h-4v.7h-4v.5h-8v-.5h-8v-1.3h-9v1.1h-7v0h-8v-1.4h-5v-.3h-2v-.5h-5v.8h-2v-1h-2v.2h-7v.6h-8v-1h-5v.4h-5v-.9h-7v2h-4v-1.7h-2v.5h-6v-.2h-3v-.5h-8v-.7h-2v.7h-9v-.4h-5v-.8h-9v1.3h-9v-1h-4v-.1h-6v-.1h-2v-1.3h-5v.4h-4v.2h-5v-.5h-7v-.6h-5v-.2h-3v.2h-8v-1.2h-6v.8h-8v-.3h-2v-.1h-7v-1h-3v-.2h-4v.6h-7v1.5h-3v-.3h-4v-1.5h-2v1.4h-7v-.8h-3v.7h-9v.1h-9v-.5h-2v.4h-2v-1.1h-8v-.7h-7v1h-3v-2h-9v-.1h-4v-.2h-9v.8h-9v-.4h-7v-.5h-4v-.7h-7v-1.4h-7v.5h-7v-2.3h-5v-.6h-7v1.6h-7v1.1h-7v.9h-5v-.1h-7v3.8h-6v-4.8h-4v-.7h-7v-2.8h-8v-2.6h-4v-1.4h-6v.3h-2v1.1h-5v-.4h-3v1.2h-2v-.5h-5v2.5h-7v-.3h-5v.5h-3v.5h-5v.6h-3v-.2h-3v-1h-6v-.9h-5v-.2h-3v-.9h-6v-.7h-6v-2.9h-6v-.7h-9v-.8h-9v1h-8v1h-3v1.8h-9v1.7h-7v-1.5h-6v2.3h-4v-1h-6v-.4h-2v.4h-2v-1.5h-3v-.4h-6v.1h-3v-.9h-4v.2h-9v-3.3h-6.3v-3.1h-3v-1.1h-2v2h-8v3.1h-2v-.5h-7v1.2h-3v.1h-2v.6h-2v.4h-7v-1.7h-9v-1.2h-4v1.1h-3v-1h-3v1h-3v-.6h-4v-1.8h-3v.5h-2v-1.5h-4v.4h-8v.8h-4v-1h-3v1h-6v-.6h-2v.7h-7v-1.9h-9v.7h-3v-1.1h-4v-2.3h-8v-.4h-4v-1.1h-9v1.1h-5v1.5h-6v-2h-6v2.5h-7v-2h-3v2.6h-4v.9h-3v2.7h-9v1.3h-4v-2.7h-5v-.5h-2v-2.4h-2v2.6h-9v-3.3h-8v1.6h-3v-3.9h-2v.9h-7v.1h-3v-1h-5v4h-4v-2.1h-8v.8h-5v1.9h-4v-5.2h-3v-1.8h-3v-3.6h-6v-.7h-4v.1h-6v1.1h-2v1.3h-9v7.9h-8v-1.2h-4v-.6h-5v-2.4h-7v-1.4h-2v-1.1h-9v-3.3h-5v-.2h-7v-2.9h-2v-3h-2.4v-2.2h-2.4v-4.2h-2.5v-7.8h-3.1v-5.3h-3.8v-5.4h-7v-.6h-3v-.6h-8.6v2h-4v3.5h-2v2.6h-4v1.8h-5v.8h-3v2.4h-2v4.2h-6.2v-6.3h-7v-5.1h-7v2.7h-8v1.7h-2.5v-6.8h-2.5v-4.4h-2.3v-6.7h-1.7v-1.8h-1.4v-4.3h-1.4v-10.4h-9v6.6h-6v-2.5h-8v7.2h-3v2.3h-3.2v-.7h-3.2v11.6h-2v-5.9h-2.5v-4.3h-3.3v-5.2h-3.6v-8h-9v-2.7h-6v.4h-2v1.8h-9v-1.2h-2.9v-7h-2.5v-5.5h-4v-4h-3v6.5h-6v6.5h-1.7v-11.9h-1.1v-8.4h-5v-3.2h-3v-4.4h-4v8.2h-3v-1h-2v-2h-1.8v.8h-1.1v-21.3h-7v3h-3v4.9h-6.9v-2.1h-2v4.4h-5v1.6h-3v9.2h-3v-7.7h-4.8v-2.3h-3.8v-6.3h-3.2v-8.2h-2v1h-4v-7.3h-4v-3.1h-7v3.6h-4v-3.1h-4v7.8h-4.8v-14.1h-5v-5.3h-6v.9h-5v-1.9h-8v-2.4h-6v1.6h-1.3v-1.1h-.8v-1.2h-.8v-25.6h-8v1h-3v-9.5h-3v2.6h-1.7v-2.3h-1.6v-2.9h-1v-2.6h-.8v-10.5h-.8v-2.7h-.8v-17.7h-3v-16h-.8v10.2h-.8v14.2h-.8v2.1h-7v4.4h-3v-4.6h-2v.6h-2v-.8h-2.2v-7.2h-2.2v-6.6h-2v3.4h-1.5v-7.9h-1.1v-27.9h-8v-8.2h-3v-.7h-2.6v2.8h-.8v-4.6h-.8v-22.8h-.8v-17.1h-.8v-24.7h-.8v-.5h-2v-9h-6v6.4h-1.2v-38.7h-8v2.2h-4v2h-1.2v2.1h-.8v-4.2h-.8v-35.9h-.8v-7.6h-2.9v-6.9h-2.9v-4.8h-1v-6.2h-.8v-5.8h-.8v-7.5h-.8v-14.5h-.8Z" fill="#ff7f0e" fill-opacity="0.15" stroke="#ff7f0e" stroke-opacity="0.22" stroke-width="1.1" stroke-linejoin="round"/>
<path d="M174,1268.8h5v4.1h7v-3.5h7v1.9h3v-.4h5v1h7v4.4h4v-7.3h2v-2.6h6v15.7h4v75.3h.8v27.7h.8v19.3h.8v21.6h.8v7.9h.8v6.4h.8v-15.9h.8v34.8h.8v12.1h.8v11.8h.8v6.7h.8v16h.8v3.5h.8v9.1h.8v7.4h.8v12.7h.8v10.5h.8v10.9h.8v7.3h.8v8h.8v3.6h.8v15.6h.8v1.9h.8v7h.8v8.3h.8v3.7h.8v19.2h.8v5.9h.8v9.2h.8v7.6h.8v5.6h.8v11.9h.8v-2.4h.8v8.1h.8v4h.8v3.3h.8v6.6h.8v6.9h.8v5.7h.8v7.4h.8v-2.2h.8v6.9h.8v8.4h.8v3.3h.9v-8.2h1v11.9h1.3v11.1h1.3v3.1h1.3v5.3h1.3v7h1.3v2h1.3v1.7h1.3v7.4h1.3v3.7h1.6v10.9h3.1v-7.3h5.9v10.8h5v-5.8h4v4h5v-2.9h5v-1h6v4.2h3v4.4h4v2h7v-20.9h8v25.3h4v-1.6h2v4.6h4v3.3h4.7v2.7h9v2h6v5h9v1.6h3v-2.9h6v.9h5v.8h2v5.8h9v1.7h7v-.5h8v-3.9h7v-5h2.8v-.7h3v7.5h2.4v5.2h3.7v8.8h3.8v-3.5h4.8v8h4.8v-1.2h2v7.9h6v-8.9h2v8.7h6v2.2h7v1.3h3v.4h3v-4.4h6v.6h9v-9.4h6v14.5h2v.6h9v-2.6h5v-.6h3v-5.8h9v1.3h9v2.5h9v6.4h2v-1.1h5.8v-1.6h3.9v-8h3.8v1.4h2v-5.4h3v12.6h2v-.1h5.7v-.6h6v-.6h2v-3.1h5v-2h2v3.1h4v3.8h8v3.9h6.2v6.3h3v-4.3h2v1.6h8v-.7h9v6.1h2v-.4h4v.9h5v-3.4h9v1h6v-.8h4v-4.4h9v-2h9v8.3h7.7v2h4v2.4h7v3h6v-3h4v1.1h3v-.8h4v-.1h4v-2.5h8v-3.3h2v-.4h2v1h5v-1.1h2v5.1h5v2.2h6.2v1.7h3v-1.6h5v.7h3v-1.4h4v-2.3h3v-6.2h3v-2.6h3.5v-.8h3v7.2h6v6.7h8v1.5h6v-10.2h5.1v.1h3.6v-2.3h2v1.1h5v-.6h3v0h5v-4.8h4.7v1.4h4v5.3h2.7v4.4h1.9v2.5h2v-1.9h7v-1.6h5v-.5h2.5v-7.3h2.4v-3.4h2.9v.1h6v-.7h2v4.8h1.8v10h1.1v-2.8h3.4v-4.7h2.9v-5.5h3v-2.6h5.2v2.2h7v11h1.4v1.3h3.2v1.3h8v3.6h9v5.1h6v-5.6h3v-3.5h5.8v-5.3h5v.3h9v3h5v4.9h5v-.1h8v.9h3v-1.7h9v2.6h9v-2.7h3v4.4h4v.4h2v1.5h8v-.7h4v.1h2v.1h2v-.3h5v1.1h9v2.7h9v-5.4h3v-2.5h6.3v-2.9h9v5.5h6.2v2.5h5v-.9h9v3.6h6v1.7h9v-1.2h3v-4.2h9v-9.5h3v1.5h5v2.4h5v5.8h4.7v3.7h4.8v1.6h7v2.3h2v.3h3v.2h3v.1h5v-1.5h3v-.1h3v.4h9v-1.4h4v2.4h2v-9.3h9v-10.4h9v-1.4h8v-.3h2v4.2h2.4v1.8h4.5v-8.4h2v-2.8h3v-1.9h4.9v5.6h4v6.7h2.5v3.4h3.5v3.3h6.2v3.9h5v.7h3v3.1h4v0h9v-.1h4v.1h5v2.3h8v-3.6h6.3v-8.1h4.3v-8.1h1.7v-3.4h3.1v-.5h9v16.2h1.3v.7h3.7v.5h2v.8h8v-.9h9v-8.9h1.1v-5.5h1.7v-.5h4v.2h6v12.4h.9v4.5h1.3v-.8h3v0h6v3.2h7v-3.3h9v-4.2h5v-5.8h7v.1h2v-.5h2v2.2h4v6.6h1.2v3.7h1.7v1.2h5v2.1h9v.6h7v-2.4h9v3.2h3v-1.9h7v-.1h9v-12.5h7v0h8v.3h2v-.7h6v13.9h1.1v-.6h1.3v1.2h6v1.2h8v-.4h2v1.1h7v-.5h2v-1.3h4v-.4h6v.6h8v-1h6v-.9h2v-6.7h2v-.8h6v.1h3v4.1h4v6.4h3.2v1.6h9v.2h9v-1.2h5v-.9h5v.3h6v-12.7h5v1h9v12h1.3v-.9h8v-2h5v3.9h6.2v1.2h8v-1.4h9v-7.1h8v3.8h8v4.8h5v-.1h4v0h8v0h4v.9h9v-1.9h3.7h0v21h-1.4v-.3h-8v-.3h-9v0h-4v0h-4v.1h-8v-.2h-3v-.8h-2v-.5h-8v.9h-9v-1.5h-4v1.6h-3v-.5h-3v-.2h-5v.6h-3v-.6h-5v-.6h-7v-.2h-5v0h-9v.6h-5v-1.1h-8v1.9h-5v-.9h-4v.2h-8v-.1h-8v.1h-2v1.1h-8v-.9h-2v.7h-2v-.4h-7v-.3h-6v0h-6v-1h-7v.9h-4v-1.2h-3v-.1h-9v.1h-5v-.4h-6v-.1h-6v-.4h-8v.7h-9v-1.4h-7v0h-3v.9h-9v-.8h-5v-.5h-6v.3h-6v-.6h-6v.4h-9v-1.4h-8v.4h-7v-.4h-9v-.2h-6v.6h-2v-.6h-7v-.4h-6v1.1h-8v-.3h-5v.6h-8v-.8h-8v0h-4v-.6h-7v.6h-4v.1h-6v-1.9h-3v-.3h-9v3.2h-8v-1.1h-4v.8h-2v.6h-2v-.8h-4v.1h-3v-1.6h-8v.5h-7v2.9h-9v-2.8h-7v-2.2h-5v-.5h-6v.8h-9v-.3h-6v.8h-7v.9h-9v-.1h-4v-1.2h-6v.3h-5v.1h-9v1.1h-5v-.1h-9v-1.8h-6v-.6h-3v0h-7v-1.4h-2v1.8h-7v-.4h-2v.6h-8v.8h-9v-1.1h-7v1h-2v-.6h-3v-.5h-3v-.3h-8v-1.6h-8v.2h-3v-.9h-9v-.3h-3v1.1h-5v.5h-9v.6h-6v-1.3h-5v.2h-2v-.5h-3v-.1h-6v.2h-2v0h-7v0h-4v2h-8v-1.8h-2v.1h-5v-.8h-2v.3h-2v.3h-8v-2h-9v-.4h-4v-.4h-4v.8h-2v-.3h-2v.9h-7v-.3h-4v.1h-9v-.3h-3v.6h-4v-.9h-7v.1h-7v-.9h-3v-1.2h-2v.4h-9v1.1h-5v-.1h-8v.3h-9v2h-9v-1.5h-5v-.5h-6v-.4h-6v-1.2h-6v.7h-4v.3h-8v-.3h-2v1.4h-6v-1.5h-5v2.1h-9v-.2h-9v-1.1h-4v1.2h-9v-2.1h-9v.4h-8v-.7h-5v-2.1h-7v3.2h-7v-.9h-6v-2h-2v1.3h-9v-1.3h-5v4.4h-7v-4.2h-8v2.6h-3v-1.9h-7v-1.7h-8v-.1h-3v-1.3h-4v1.1h-2v-.1h-7v1.3h-2v-.3h-2v1.2h-8v-3h-2v1.5h-8v-.8h-7v-1.7h-2v-.5h-3v.6h-2v-1h-7v2.4h-4v1.5h-4v-1.4h-8v-4h-4v3h-9v-7.7h-9v-.1h-2v3.8h-9v-.1h-3v-4.9h-3v-.4h-4v1.3h-7v-3.7h-9v-4h-9v7.1h-7v-4.3h-5v.7h-9v2.5h-8v-4.9h-9v0h-8v.4h-7v1.4h-2v1.9h-8v-2.4h-6v2.2h-7v.3h-7v-3.4h-6v1.7h-2v-2h-2v-1h-9v-3.6h-9v-4.7h-2v.3h-8v-2.5h-4v1.2h-2v-1.5h-2v-5.4h-6v.4h-4v-.4h-6v.1h-2v-2.5h-8v1.1h-3v2.5h-2v-2.8h-7v-4.6h-6v.8h-5v2.6h-3v-3.1h-4v5.1h-7v-3.9h-7v-1.6h-5v1h-6v-7.8h-5v-1.8h-9v.8h-4v-1.1h-5v-1.9h-4v2.8h-2v-6.1h-2v7.1h-5v-4.7h-4v.9h-4.7v-6.7h-2v15.7h-3v-16.1h-8v-5.1h-5v9.4h-6v-13.2h-2v-4.6h-4.8v-3.7h-2v.1h-4v-1.2h-4v-10.1h-5v-1h-5.9v-2.7h-2v-6.6h-6.3v-2.6h-4.5v-4.3h-1.9v-4.1h-1.5v-4.4h-1.5v-8.2h-1.4v-2.8h-1.6v-3.3h-1.7v-4.6h-1.9v-5.9h-1.8v0h-1.6v-8.6h-1.1v-1.1h-.8v-6.5h-.8v-9.7h-.8v-8.2h-.8v-2.6h-.8v-2.3h-.8v-9.8h-.8v-4.8h-.8v-16.5h-.8v-1.8h-.8v-15.1h-.8v-7.4h-.8v-19.3h-.8v-18.7h-.8v-31.3h-.8v-32.2h-.8v-38.8h-.8v-39.2h-.8v-34.9h-.8Z" fill="#2ca02c" fill-opacity="0.15" stroke="#2ca02c" stroke-opacity="0.22" stroke-width="1.1" stroke-linejoin="round"/>
<path d="M176.5,1268.2h3v-1.9h6v-3.6h8v8h9v.4h5v-6.3h3v9.2h3v-8.6h7v4.5h7v-5.3h5v44.4h.8v27.3h.8v24.5h.8v27.8h.8v21.9h.8v18.6h.8v23.1h.8v14.4h.8v12h.8v5.8h.8v.5h3.8v2.4h2v5.8h3.9v141.2h.8v7.7h.8v-2.2h9v-28.3h7v-55.7h1v-11.6h1.9v3.3h1.8v-6.5h1.8v7h1.5v10.5h.8v1.1h.8v7.6h.8v10.3h.8v2.3h.8v2.7h.8v3.3h.8v9.9h.8v12.1h.8v5.4h.8v9.7h.8v8.5h.8v4.1h.8v2.2h.8v10.6h.8v16.5h.8v-4h1v-9.8h7v-20.5h1v-9.1h1v-7.1h1.6v8.9h6v-44.9h7v-34.4h2.9v-1.1h2v1.1h3.3v7.9h3.2v37.7h.8v28.5h.8v30.2h.8v2.7h.8v2.4h.8v4.4h.8v3.6h.8v13.7h.8v1.3h.8v9.2h.8v3.4h.8v-3.5h.8v17.9h.8v4h.8v8.2h.8v10.3h.8v8.4h.8v5.8h.8v9h.8v1.5h1.8v7.3h4v-6.5h2v3.8h4v-5h4v-5.4h2.5v-1.5h2.4v-.2h1.6v-11.3h.8v-9h.8v-8h.8v-4.9h.8v1.6h.8v-14.9h1v-1.4h1.8v-.5h7v.8h1.5v14.2h.8v8.8h.8v8.3h.8v10.6h.8v18.6h.8v.9h.8v-5.1h1.1v12.8h2.4v4.4h2.5v3h2.4v3.8h2.2v10.7h1.7v-5.3h1.6v6.8h3.1v-5.1h6v3h4v-8.5h5v22.5h.8v-1.3h.8v14.3h1.3v-8.1h2v-6.3h2.5v-1h6.3v3h3v0h8v-13.5h1.7v-8.4h1.6v2.5h1.7v-5.8h2.9v-3.2h2v14h7v26.2h3v2.5h3.3v-13h2v19.6h3.4v3.7h3.6v-5.3h9v-4.4h3.6v-7.5h3.6v-6.8h1.5v-2.5h1.2v-10.9h1.2v2.4h1.9v-6.6h4v8.3h2.3v11h.8v3.6h.8v6.5h1.1v9.3h2.1v-7.3h2v11.7h2.2v-3.3h2.7v9.6h5v.6h3v4.2h6v-3.5h4.6v-6.4h3.6v4.3h2.4v8.2h2.5v-1.4h5v-15.5h1.5v3.7h4.6v-4.8h5v9.2h1.6v7.4h1v-.5h1v9.5h1.2v-3.9h3.7v-5.3h2.8v2.1h2.8v-8.2h3v-2.6h4v-1.5h4v1.8h3v9.9h3.2v3.2h2.9v7.7h2.4v10.2h2.5v-1.2h4.8v-10h7v6.8h2v-11.1h1.1v-.4h1.8v-2.1h6v-3.5h9v25.3h6v-4.4h6v-2h3.8v-4.9h4.7v-5.1h6v-11.7h5.1v6.7h8v9h5v11.5h2.8v2.5h2v4.7h3.6v-7.7h9v1.3h6v4h2v-2.3h6v.5h4v-.6h9v.3h7v-.2h2v.5h4v4.3h3.6v1.8h5v1.2h4v-.2h7v2.2h4v.4h2v-1.7h8v3.3h9v-.6h2v1.7h4v-5.4h7v-4.7h5v-1.9h6.9v5.8h6.3v2.2h8v2.4h8v.8h3v1.7h7v1.4h4v1.6h4v1.6h2v-2.6h4v-5.4h8v4.8h4v-.3h6v.9h3v.4h8v-1.1h3v2.1h2v.4h3v-.5h2v2.2h3v-.1h7v.3h3v.3h3v.6h3v.4h6v-2.3h8v-5h7.7v-.7h9v5h9v4.5h9v-.3h7v.9h3v2.6h5v-.3h4v-.1h2v-1h5v2.8h5v-1.1h2v-1h8v.5h9v1.6h2v-4.7h6v4.9h9v2h8v-3.2h5v2.1h9v.9h4v-1.4h9v-.9h6v4.4h9v2.1h4v-.7h4v-.1h2v2.4h3v-1h4v.5h8v-1.2h7v2.2h5v-1.9h9v-1.7h5v-1.6h4v1.3h3v-3.6h2v4.4h4v-.2h9v2.4h4v1.2h4v-1.8h3v.2h9v-1.1h2v.5h5v-.1h3v1h5v2.5h9v-1.1h4v.2h8v1.2h5v-2.2h5v1h6v-1.3h7v-.1h4v.8h2v1.5h7v1h7v.1h3v-3.3h2v2.7h5v-.9h4v1.1h4v-1.3h4v-.7h3v-.4h5v0h8v.6h2v1.6h7v-2.1h8v-.7h2v.3h4v-2.7h6v2.4h7v2.1h6v-.2h9v1.9h2v-1h6v-.2h2v-.2h6v1.3h6v1.5h7v-.6h8v1.9h5v.2h6v-.9h5v-1.7h2v.7h9v-2.1h9v-.5h5v1.3h6v-2h6v1.9h7v-4.1h7v3.5h4v1.1h3v-.7h4v.5h2v-.8h7v-2.1h3v2.4h2v-2.1h7v3.3h5v1.1h9v-.4h9v1.4h5v-1.5h7v-.5h7v1h9v-1.5h3v-1.2h3v-1.6h3v-.7h2v1.7h9v1h6v1.1h6v-.3h2v1.1h3v-.9h3v-.2h9v1.1h9v-.3h3v.2h2v-.5h5v3h6v-1.9h6v1.6h4v-.6h9v-.1h6v-.9h8v-2.3h6v2.7h5.2h0v20.8h-1.2v0h-2v.1h-3v-.6h-7v.5h-2v.2h-6v-.5h-3v2.4h-4v-1.9h-4v-.6h-6v-.2h-3v1.2h-7v-.2h-4v1.2h-9v-1.8h-2v-.2h-7v.2h-4v0h-2v.1h-5v-.1h-7v.3h-6v-.6h-4v-.2h-7v-.1h-7v-.2h-3v-.4h-6v1.2h-7v-.1h-3v0h-6v-.5h-8v.7h-5v-.7h-2v.5h-3v-.1h-8v-.8h-2v-.4h-4v.5h-2v.2h-3v.1h-5v-.3h-9v1.1h-5v0h-4v-1h-9v.3h-3v-.3h-7v.4h-7v-.8h-9v1.2h-5v-.3h-5v.2h-2v-.6h-7v-.3h-3v1.1h-3v-.8h-2v.1h-4v.3h-2v.1h-5v1h-4v-1.6h-8v-.2h-3v.1h-2v-.2h-3v0h-5v-.6h-8v-.2h-5v-.2h-3v-.2h-2v1.9h-4v-1.5h-9v.6h-5v.5h-5v.1h-3v1.4h-8v-1.2h-3v-.7h-8v-.1h-2v-.9h-9v1.2h-4v-.6h-9v.6h-5v.2h-4v0h-2v-.4h-4v-.3h-8v-.1h-6v0h-6v-.6h-5v-.3h-4v-.4h-5v-.9h-8v-.3h-2v.5h-5v-.2h-4v.5h-2v-1.5h-9v-.1h-2v.3h-5v1.2h-9v1.3h-7v-.6h-5v-.8h-2v-.5h-2v-1.2h-8v-.6h-6v.1h-4v-.3h-5v.7h-4v.9h-9v.9h-9v.7h-6v-.8h-3v-.6h-3v.2h-3v-.4h-4v-.3h-2v-.2h-3v-.2h-6v-1.4h-5v.5h-2v.4h-9v.4h-4v.5h-9v-1.2h-9v-.2h-2v-1.1h-5v-.5h-2v-.2h-3v-.2h-3v0h-4v-.2h-3v-.3h-3v.7h-2v.3h-2v.9h-8v.8h-5v.1h-8v-.2h-7v-.5h-2v.6h-2v.3h-7v-.5h-6v-.2h-7v.2h-8v-.4h-4v-.6h-8v-.4h-5v-.3h-9v-.2h-3v-.3h-9v-.4h-7v.9h-7v.1h-6v0h-7v-1h-5v-1.1h-6v-.3h-4v-.5h-6v-.6h-7v.3h-5v2.7h-6v.4h-2v.1h-6v-1.6h-4v-.3h-5v-1.4h-4v-.5h-5v-1.2h-8v-2.4h-7v3.2h-9v2.9h-9v1.3h-3v-2.3h-8v-1h-3v-.7h-3v-.3h-4v-.1h-7v.2h-5v-2h-3v-2.5h-8v-.1h-3v-.8h-7v-.5h-7v-.3h-8v.5h-7v-.8h-6v0h-3v-.9h-8v.7h-9v.6h-2v.1h-6v-3.3h-5v0h-8v3.9h-6v-3.4h-3v-.4h-8v-.9h-6v-1.8h-8v.5h-5v3.4h-7v-6.9h-9v-2.1h-8v-2.9h-4v-1.5h-3v-.1h-6v.2h-9v-.6h-6v-2.2h-7v1.3h-5v.7h-5v-1.4h-4v.7h-7v-2.8h-4v-.4h-6v1.2h-7v-.6h-3v2.7h-9v-6.1h-7v-1.4h-3v-.2h-2v-.3h-6v-1.3h-6v5.1h-9v-7.3h-9v-2.5h-7v-3.2h-7v2.9h-8v1.3h-7v-3.8h-8v-6.1h-7v-4.9h-7v1.4h-2v-2h-4v3h-7v-3.7h-9v-3.3h-8v-.7h-2v1.3h-2v-1.1h-5v-2.4h-4v-1.3h-4v-2.9h-4v-.2h-6v-3.5h-6v4.3h-2v-2.5h-4v-1.2h-5v1.6h-3.6v-3.3h-2v-4.1h-2.7v-2.6h-2v-3.5h-2.3v-7h-2v.6h-4v-1.9h-3v1.5h-5v-1.9h-2v2.4h-2.2v-.1h-1.1v-8.9h-1.1v-6h-3v-2.8h-2v.2h-3v.3h-3v-3.3h-1.9v-5.2h-2v-4.8h-1.9v-6.3h-2v-5.6h-7v-4.7h-5v2.2h-4v1.4h-2.1v7.3h-3v-.4h-6v-1.8h-3.9v-1.9h-1.8v-5.6h-1.7v-4.7h-1.6v-11.1h-9v-7.4h-7v-2.3h-1.8v1.3h-1v-4.9h-.8v-10.5h-.8v-4.5h-.8v-4.5h-.8v-6.4h-1.2v-5.4h-5.6v-8h-2.2v1.3h-1v-5.9h-.8v-6.2h-.8v-4.2h-.8v-7.3h-.8v-8.9h-1.9v-4.5h-2v-6.5h-2v-1h-1.2v-6.2h-.8v-2h-.8v-8.6h-.8v-11.5h-.8v-9.2h-.8v-9.5h-.8v-8.8h-.8v-10.2h-1.2v-2.9h-2.5v-5h-2.4v-3.9h-1.1v-1.9h-.8v-6.4h-.8v-11.4h-.8v-8.7h-.8v-2h-.8v-16.1h-.8v-13.2h-2.4v-4.4h-2.5v-5.1h-2.4v-1.8h-2v-1.5h-.8v0h-.8v-24.5h-.8v-31.6h-.8v-29.3h-.8Z" fill="#d62728" fill-opacity="0.15" stroke="#d62728" stroke-opacity="0.22" stroke-width="1.1" stroke-linejoin="round"/>
<path d="M281.5,1420.9l1.2,7.9 1.2,7.8 1.2,8.5 1.2,11.3 1.2,13.3 1.2,11.4 1.2-5.8 1.2-12.9 1.2-11.8 1.2-13 1.2-3.1 1.2,3.1 1.2,4.5 1.2,8.8 1.2,11.8 1.2,8 1.2,1 1.2,1.1 1.2,2.3 1.2-.3 1.2,2.5 1.2,8.6 1.2,8.5 1.2,8.1 1.2,7.8 1.2,7.3 1.2,7.7 1.2,3.6 1.2,3.2 1.2,5 1.2-2.7 1.2-4 1.2-3.9 1.2-4.1 1.2-9 1.2-10.3 1.2-11.7 1.2-8.8 1.2-4.8 1.2-4.8 1.2,10.4 1.2,9.8 1.2,9.6 1.2,9.4 1.2,6.7 1.2,5.8 1.2,5.8 1.2,6.2 1.2,4.9 1.2,5.9 1.2,4.6 1.2,3.9 1.2,5.3 1.2,5.2 1.2,4.5 1.2,6 1.2,6.3 1.2,4.5 1.2,5.4 1.2,4.7 1.2,5.4 1.2-3.5 1.2-8.5 1.2-4.6 1.2,1.9 1.2,1.6 1.2,2.3 1.2,1.9 1.2,1.2 1.2-3.5 1.2-4.1 1.2-4.3 1.2-3.4 1.2-5.5 1.2-4.8 1.2-5.5 1.2-3.4 1.2-4.3 1.2,.5 1.2,3.2 1.2,3.3 1.2,3.2 1.2,2 1.2,1.9 1.2,3.5 1.2,3.2 1.2,4.6 1.2,3.3 1.2,3.7 1.2,2.7 1.2,3.1 1.2,4.3 1.2,5.6 1.2,3.9 1.2,3.7 1.2,5.7 1.2,4.5 1.2,4.2 1.2,3.4 1.2,4 1.2,2.6 1.2,3.4 1.2,3.1 1.2-3.6 1.2-5.7 1.2-.5 1.2,.5 1.2,.3 1.2-1 1.2,.5 1.2,.4 1.2-.8 1.2-1 1.2-1.3 1.2-2.9 1.2-3.6 1.2-1.4 1.2,3.5 1.2,3.6 1.2,4.1 1.2,4 1.2,5 1.2,2.7 1.2-11.3 1.2-11.4 1.2-10.5 1.2,2.5 1.2,4 1.2,3 1.2,3 1.2,4.7 1.2,5.7 1.2,5.7 1.2,4 1.2,4.1 1.2,1.9 1.2,3.4 1.2,2.4 1.2-.3 1.2-1.6 1.2-.6 1.2-.8 1.2,.3 1.2,.3 1.2-.7 1.2-.7 1.2-.6 1.2,4.1 1.2,3.8 1.2,3.4 1.2,2.6 1.2,2.4 1.2,2.4 1.2,3.6 1.2,1.8 1.2,2.3 1.2,1.7 1.2,2.1 1.2-2 1.2-4.8 1.2-5.3 1.2-2.9 1.2-.9 1.2-.5 1.2,.3 1.2,2.6 1.2,1.9 1.2,.8 1.2-3.3 1.2-3.9 1.2-2.5 1.2,1.8 1.2,1.2 1.2,.8 1.2,.8 1.2,1.3 1.2,.4 1.2,2.2 1.2,.9 1.2,1.7 1.2-4 1.2-2.7 1.2,.1 1.2,2.2 1.2,2.4 1.2,2.2 1.2,1.8 1.2,2.8 1.2-3.5 1.2-11.1 1.2-4.7 1.2,3.6 1.2,3.7 1.2,3.4 1.2,3.4 1.2,4 1.2,1.4 1.2,1.5 1.2,2.8 1.2,1.3 1.2,2.6 1.2,1.6 1.2,1.6 1.2,3.4 1.2,4.9 1.2,2.2 1.2,2.1 1.2-4 1.2-7.1 1.2-2.5 1.2-1.4 1.2,0 1.2,.6 1.2,.6 1.2,1 1.2,.6 1.2-.4 1.2,.4 1.2,1.1 1.2,3.8 1.2,3.1 1.2,.6 1.2,2.5 1.2,2.9 1.2,2.4 1.2,.4 1.2,1.8 1.2,2 1.2,1.6 1.2,2.5 1.2-1.3 1.2-2.2 1.2-3.2 1.2-1.9 1.2-.1 1.2,1.4 1.2,.1 1.2-.1 1.2-2 1.2-.6 1.2-1.1 1.2,.3 1.2,2.8 1.2,1.8 1.2,2.6 1.2,3.4 1.2,2.7 1.2,.5 1.2,3 1.2-.6 1.2-.7 1.2-1.3 1.2,.1 1.2-1 1.2,0 1.2-.3 1.2,2 1.2,1.9 1.2,1.6 1.2,1.6 1.2,1.4 1.2,.2 1.2,1 1.2,1 1.2,.3 1.2,.9 1.2-12.4 1.2-17.1 1.2-69.9 1.2-46.3 1.2-16.4 1.2-4.4 1.2,6 1.2,8.3 1.2,9 1.2,8.5 1.2,8.5 1.2,8.5 1.2,8.5 1.2,10.3 1.2,11.1 1.2,9.7 1.2,9.7 1.2,10.2 1.2-2.3 1.2-2.2 1.2-3.2 1.2,.8 1.2,4.6 1.2-2.6 1.2-2 1.2,2.3 1.2,3.6 1.2,3.6 1.2,3.8 1.2,5.2 1.2,4.7 1.2,4.4 1.2,5.1 1.2,3.6 1.2,4 1.2,4.4 1.2,5.1 1.2,3 1.2,3.3 1.2,5.6 1.2-5.4 1.2-12 1.2-14.1 1.2-4.7 1.2-4.9 1.2,2.6 1.2,2.2 1.2,3.5 1.2,3.9 1.2,3.7 1.2,1.4 1.2,.5 1.2,2.7 1.2,4 1.2,2.2 1.2,1.7 1.2-.2 1.2-5.3 1.2-4.9 1.2,1.3 1.2,3.6 1.2,3.3 1.2,3 1.2,3.1 1.2,2.5 1.2,2.9 1.2,1.4 1.2,3.6 1.2,3.6 1.2,2.8 1.2,2.4 1.2-.1 1.2,2 1.2,.4 1.2-7 1.2-9.8 1.2-.6 1.2,2.8 1.2,2.9 1.2-.7 1.2-.7 1.2,2 1.2,3.8 1.2,2.4 1.2-1.2 1.2-8.2 1.2-5.7 1.2-2.4 1.2-1.8 1.2-3.7 1.2-2.1 1.2,3.9 1.2,4.2 1.2,4 1.2,4.4 1.2,1.6 1.2,1.2 1.2,1.5 1.2,.3 1.2-1.5 1.2-.4 1.2,1.5 1.2,4 1.2,3 1.2,2.4 1.2,3.6 1.2,2.3 1.2,1.1 1.2,2 1.2,2.1 1.2,2.5 1.2,1.6 1.2,2 1.2,1.9 1.2,1.2 1.2-4.6 1.2-3.9 1.2,3.4 1.2,3.3 1.2-4.2 1.2-4.1 1.2-4.6 1.2,1.5 1.2,1.9 1.2,.9 1.2,.8 1.2,2 1.2,1.5 1.2-1.4 1.2-2.3 1.2,.3 1.2,2.3 1.2,2.7 1.2,2.2 1.2,1.5 1.2,1.6 1.2,2.7 1.2,1.8 1.2-.8 1.2-11.2 1.2-1.3 1.2,1.7 1.2,2.8 1.2,3.8 1.2,4 1.2,1.5 1.2,.5 1.2-.8 1.2,.1 1.2-.3 1.2,1.7 1.2,1.8 1.2,.7 1.2,.8 1.2-1.1 1.2-3.6 1.2-1.7 1.2,.8 1.2,1 1.2,1.3 1.2,1 1.2,0 1.2,.5 1.2,1.6 1.2,.3 1.2,1.6 1.2,1 1.2,1 1.2,1.5 1.2,.2 1.2,1.3 1.2,1 1.2-.5 1.2-3.9 1.2-4.2 1.2-.8 1.2-.2 1.2,0 1.2,.9 1.2,.6 1.2,.6 1.2,2.5 1.2,1.1 1.2,.6 1.2,.4 1.2,.9 1.2,1.7 1.2,1.2 1.2-2.7 1.2-3.7 1.2-2.7 1.2-1.9 1.2-2 1.2-3.4 1.2,2 1.2,2.6 1.2,2.4 1.2,.2 1.2-.5 1.2-.8 1.2-.7 1.2-.6 1.2,1.2 1.2,.8 1.2,1.6 1.2,1.3 1.2,1.7 1.2,1.4 1.2-2.3 1.2-5.2 1.2-4.1 1.2-3.4 1.2-4 1.2-4.2 1.2-3.2 1.2-2.9 1.2-3.4 1.2-1.8 1.2,2.8 1.2,.8 1.2,1.5 1.2,2.5 1.2,2.5 1.2,2 1.2,0 1.2,1.8 1.2,1.8 1.2,2 1.2,2.3 1.2,.3 1.2-.9 1.2-.9 1.2,2 1.2,2.7 1.2-.3 1.2,.2 1.2,.9 1.2,2.3 1.2,.7 1.2,.5 1.2,.8 1.2,1.7 1.2,.4 1.2,1.4 1.2-.3 1.2,1.8 1.2,.9 1.2,1.7 1.2,2 1.2,1 1.2-.4 1.2,1.4 1.2,1.8 1.2,1.8 1.2,1.3 1.2,1.1 1.2,1.1 1.2,1.9 1.2,.2 1.2,.1 1.2,.2 1.2-.9 1.2-2.4 1.2-4.8 1.2-6.6 1.2-4.6 1.2-.5 1.2,1.7 1.2,2.1 1.2,2.8 1.2,2.7 1.2,.6 1.2,1.5 1.2,.3 1.2,0 1.2-1.3 1.2-1.2 1.2-.2 1.2,2.3 1.2,.5 1.2,1.6 1.2,1 1.2,.9 1.2-.3 1.2,.1 1.2-.2 1.2-1.2 1.2,.2 1.2,1 1.2,.1 1.2,1.5 1.2,1.8 1.2,.3 1.2-.5 1.2-1.2 1.2,.3 1.2-1 1.2,1.4 1.2,1.9 1.2,.4 1.2,.4 1.2,1.7 1.2,1.8 1.2,1 1.2,.8 1.2,.7 1.2,1.4 1.2,.6 1.2,1.3 1.2-.4 1.2-1.1 1.2-1 1.2-.5 1.2-.4 1.2-1.4 1.2-.9 1.2-.2 1.2,1 1.2,.6 1.2,1.5 1.2,.8 1.2,.8 1.2,1.1 1.2-4.4 1.2-3.7 1.2-3.4 1.2-.6 1.2,.6 1.2,1.3 1.2,1.5 1.2,2.1 1.2,.7 1.2,1.5 1.2,.9 1.2-.3 1.2,.5 1.2,0 1.2,.8 1.2,.3 1.2-.4 1.2-.2 1.2,.7 1.2,.6 1.2,1.4 1.2,1.2 1.2,.7 1.2,0 1.2-2.3 1.2-1.6 1.2,0 1.2,1.9 1.2,0 1.2-.1 1.2,1.8 1.2,1.7 1.2-.3 1.2-1 1.2-.6 1.2,.4 1.2,0 1.2-4 1.2-5.8 1.2-5.3 1.2-5.6 1.2-2.2 1.2-.1 1.2-1 1.2-.9 1.2,.1 1.2-1.4 1.2,.9 1.2,.8 1.2,2.2 1.2,2.4 1.2,1.8 1.2,.6 1.2,1.1 1.2,.9 1.2,2.2 1.2,.5 1.2-.4 1.2,.5 1.2,1 1.2,1.4 1.2,1.9 1.2,2 1.2,.2 1.2,1.3 1.2,1 1.2,0 1.2-.3 1.2,.1 1.2-.7 1.2,.5 1.2-.4 1.2,1.5 1.2,2.3 1.2,.1 1.2,.9 1.2,.7 1.2,.5 1.2,.8 1.2-.3 1.2-.8 1.2-.4 1.2-.3 1.2,1.2 1.2,1.1 1.2,.9 1.2,1.3 1.2,2.3 1.2,1.9 1.2,0 1.2,.6 1.2-.6 1.2,.5 1.2,.7 1.2,2 1.2,0 1.2-.3 1.2-.3 1.2-.6 1.2-1.7 1.2-.3 1.2-1 1.2-.6 1.2,.3 1.2,.7 1.2,0 1.2-.3 1.2,.5 1.2-.2 1.2-1.4 1.2-1 1.2,.8 1.2,.3 1.2,.5 1.2,.4 1.2-.2 1.2,.9 1.2-.9 1.2,.5 1.2,.6 1.2,2.5 1.2-.3 1.2,.6 1.2,1.3 1.2-.3 1.2,1.1 1.2,.3 1.2,1 1.2-.6 1.2-2.6 1.2-3 1.2-2.8 1.2-3.1 1.2-.8 1.2-1.5 1.2-1.2 1.2-1.3 1.2,2.1 1.2,1.6 1.2,1.6 1.2,1.7 1.2,1.9 1.2,.1 1.2,2.3 1.2,0 1.2,.2 1.2,.5 1.2-.3 1.2-1.1 1.2,1.9 1.2,.6 1.2,1.9 1.2,.4 1.2,1.8 1.2-3.7 1.2-1.7 1.2-2.4 1.2-3.6 1.2-1.9 1.2-.6 1.2,1 1.2,.8 1.2,1.1 1.2,.4 1.2,1.1 1.2-.3 1.2-.4 1.2,2.5 1.2,1.5 1.2,1.6 1.2,1.8 1.2,.5 1.2,.2 1.2-.4 1.2-.2 1.2,0 1.2,.2 1.2-.5 1.2,.4 1.2,0 1.2,1.3 1.2,1.7 1.2,1.4 1.2,3 1.2-.1 1.2-.7 1.2-.1 1.2-.4 1.2-.2 1.2-1.7 1.2-2.4 1.2-1.1 1.2,.1 1.2,.1 1.2-1 1.2,2.5 1.2,1.7 1.2,.7 1.2,.3 1.2,.8 1.2,.7 1.2,.7 1.2,.1 1.2,.6 1.2-.1 1.2,.9 1.2,1.6 1.2-.2 1.2-1.4 1.2-.8 1.2-.4 1.2-2 1.2-.7 1.2-.6 1.2-.8 1.2-1 1.2-.3 1.2-1 1.2,.6 1.2-.5 1.2,.9 1.2,.7 1.2,.7 1.2,.8 1.2,.3 1.2,.3 1.2,.4 1.2,.2 1.2,1.4 1.2-.1 1.2-.7 1.2,.2 1.2,2 1.2,1.2 1.2-.5 1.2-.4 1.2-.2 1.2-.5 1.2,1.2 1.2-.2 1.2,.8 1.2,0 1.2-.7 1.2-.1 1.2,.4 1.2-.7 1.2-1.8 1.2-4.7 1.2-3.7 1.2-.3 1.2,1 1.2,2 1.2,1.3 1.2,1 1.2,1.4 1.2,1 1.2-1.4 1.2-1.3 1.2-1.7 1.2-.5 1.2,.3 1.2-.1 1.2,2.2 1.2,1.1 1.2,1.4 1.2,.9 1.2,.6 1.2,.2 1.2,.8 1.2-.6 1.2,.1 1.2,1.3 1.2,1.3 1.2,.9 1.2-.2 1.2-2.3 1.2-2.6 1.2-2.2 1.2-1.9 1.2,.9 1.2-.3 1.2,.5 1.2,.5 1.2,.7 1.2,1.2 1.2,.5 1.2-.2 1.2-.3 1.2,1.4 1.2,.3 1.2,.7 1.2-.1 1.2,.1 1.2,1.2 1.2,.5 1.2,0 1.2-.8 1.2-.2 1.2-.3 1.2,.5 1.2-.4 1.2-.6 1.2,.1 1.2-.5 1.2,.8 1.2-.1 1.2,0 1.2-.5 1.2,1.2 1.2,.5 1.2,.3 1.2-.8 1.2,1.6 1.2,.5 1.2-2.5 1.2,0 1.2-.2 1.2,.5 1.2,.7 1.2,1.4 1.2,1.8 1.2,0 1.2-.3 1.2-.5 1.2-.5 1.2-1.2 1.2-.8 1.2,1.6 1.2,2.3 1.2,.4 1.2,.6 1.2,.6 1.2,1.8 1.2,1.6 1.2,0 1.2-1.5 1.2-1.1 1.2-1.2 1.2-1.2 1.2-1.7 1.2,.8 1.2-.2 1.2,.1 1.2-2.3 1.2-3.2 1.2,.4 1.2,1.3 1.2,1 1.2,1.6 1.2,.8 1.2,1.1 1.2-.1 1.2,.5 1.2-.2 1.2,.6 1.2,.9 1.2,.8 1.2,1.5 1.2,.9 1.2-.1 1.2,.9 1.2-1.1 1.2,.7 1.2-.7 1.2-.7 1.2-.4 1.2-1.5 1.2-2.2 1.2-.9 1.2-1.4 1.2,2.2 1.2,1.2 1.2,1.9 1.2,1 1.2,1.4 1.2,.8 1.2,1.2 1.2,.9 1.2-.3 1.2,0 1.2-1.2 1.2-1.2 1.2,.3 1.2-.4 1.2,.4 1.2-.4 1.2-1.1 1.2-.6 1.2-.1 1.2-.4 1.2,.9 1.2,.9 1.2-.3 1.2,.1 1.2-.1 1.2-.8 1.2-1.4 1.2-.1 1.2-1.1 1.2-.6 1.2-.9 1.2,1 1.2-.4 1.2,0 1.2-.1 1.2,.4 1.2,1.1 1.2,1.3 1.2,.6 1.2,.6 1.2,.4 1.2,.1 1.2,.9 1.2,1.1 1.2-.2 1.2,1 1.2,1.2 1.2,.3 1.2,1 1.2,.1 1.2,.4 1.2-.5 1.2-.5 1.2-1 1.2,.6 1.2,.6 1.2,.3 1.2,1 1.2,.5 1.2,.9 1.2,.7 1.2,.5 1.2-.2 1.2,.6 1.2,.9 1.2-.8 1.2-.9 1.2,.6 1.2,1 1.2,.7 1.2,1.2 1.2,0 1.2-1.3 1.2-.9 1.2-1.7 1.2-.5 1.2-.5 1.2-.1 1.2-.3 1.2,.1 1.2,1 1.2,0 1.2-.2 1.2,.7 1.2,.4 1.2-.2 1.2-.6 1.2,.4 1.2,1 1.2,.1 1.2,.8 1.2-1.1 1.2,.9 1.2-.6 1.2-.1 1.2,.1 1.2-.9 1.2,.6 1.2,.9 1.2-.3 1.2-.2 1.2-.8 1.2,1 1.2,.1 1.2,.9 1.2,.3 1.2,.8 1.2-1.7 1.2-3.3 1.2-2.2 1.2,.1 1.2,1.3 1.2-.1 1.2,1.1 1.2,1.2 1.2,1.5 1.2-.4 1.2,.2 1.2,.6 1.2-.1 1.2,.3 1.2,.4 1.2-.4 1.2-.1 1.2,.8 1.2,.4 1.2,.4 1.2-.5 1.2-.5 1.2,0 1.2,0 1.2,.7 1.2,1 1.2-.4 1.2,1.2 1.2,.8 1.2-.1 1.2,.6 1.2,.4 1.2,.1 1.2,.6 1.2-.1 1.2-.2 1.2-1.1 1.2-1.9 1.2-.8 1.2-1.1 1.2-.5 1.2,1.3 1.2,1.9 1.2-.8 1.2,.6 1.2,.4 1.2,1.3 1.2-.6 1.2-3 1.2-1 1.2-.2 1.2-2.1 1.2,0 1.2-.3 1.2-.9 1.2-.3 1.2-1 1.2-1.1" fill="none" stroke="#1f77b4" stroke-width="5.6" stroke-linejoin="round" stroke-linecap="round"/>
<path d="M242.8,1422l1.1,6.8 1.2,8.1 1.2,9.3 1.2,10.2 1.2,11.2 1.2,10 1.2,7.4 1.2,6.2 1.2,5.3 1.2-1.9 1.2-4.8 1.2-4.2 1.2-4.5 1.2-6.8 1.2-6.5 1.2-7.2 1.2-7.5 1.2-2 1.2,9 1.2,9.3 1.2,7.1 1.2,9.7 1.2,8.5 1.2,8.6 1.2,9.2 1.2,8.6 1.2,4.7 1.2,4.2 1.2,5.1 1.2,5.8 1.2,4.5 1.2,6.5 1.2,4.6 1.2,4.5 1.2,3.6 1.2,4.3 1.2,3.5 1.2,5.6 1.2,4 1.2,3.2 1.2,4.5 1.2,4 1.2,4.6 1.2,2.6 1.2,3 1.2,2.4 1.2-4.1 1.2-5.9 1.2-5 1.2,1.5 1.2,2.9 1.2,2.4 1.2,3.1 1.2,4.6 1.2,4.5 1.2,3.7 1.2,5.8 1.2,2.1 1.2-.3 1.2,.8 1.2,0 1.2-.9 1.2-.1 1.2,1 1.2,2.3 1.2,2.5 1.2,3 1.2,2.1 1.2,2.9 1.2,2.1 1.2,.9 1.2,.8 1.2,.3 1.2,1.8 1.2-.1 1.2,1 1.2,2 1.2,3 1.2,3.8 1.2,3.5 1.2,3.4 1.2,2.8 1.2,3.1 1.2,3.4 1.2,2.9 1.2,4.9 1.2,1.9 1.2,.5 1.2,1.8 1.2,2.9 1.2,1.9 1.2,1.7 1.2-.8 1.2-2.6 1.2-2.9 1.2-4.5 1.2-3.6 1.2,.6 1.2,1.3 1.2,.5 1.2,1.8 1.2,1.1 1.2,.9 1.2,3.8 1.2,1.5 1.2,2.9 1.2,1.6 1.2,1.9 1.2-5.4 1.2-8.5 1.2-2.8 1.2,3.4 1.2,3.9 1.2,3.7 1.2,2.7 1.2,4.3 1.2,3.9 1.2,3.8 1.2,3.1 1.2,3.9 1.2,1.2 1.2-4.5 1.2-4.9 1.2-7.1 1.2-1.1 1.2-.4 1.2-.4 1.2,.9 1.2-1.1 1.2,2.9 1.2,2.6 1.2,2.7 1.2,3.7 1.2,2.9 1.2,2.7 1.2,3.1 1.2,1.9 1.2,.7 1.2,3.2 1.2,3 1.2,2.5 1.2-.1 1.2-3.3 1.2-.6 1.2-1.4 1.2-1.7 1.2-.5 1.2-2.3 1.2-1.1 1.2-1.5 1.2-2.2 1.2-2.3 1.2-3.9 1.2,.4 1.2,1.5 1.2,2.2 1.2,2.6 1.2,2.2 1.2,1.8 1.2,2.2 1.2,1 1.2,1.8 1.2,2.6 1.2,3 1.2,1.9 1.2,1.6 1.2,1.6 1.2,1.9 1.2,1.6 1.2,2.5 1.2,1.8 1.2,2.6 1.2,2.8 1.2,3.1 1.2-2.5 1.2-4.2 1.2-3.4 1.2-3.4 1.2-4.4 1.2,1.7 1.2,5.3 1.2,4.7 1.2,3.7 1.2,3.4 1.2,2.6 1.2,1 1.2,1.4 1.2,2.1 1.2,.3 1.2,.8 1.2,.4 1.2-.7 1.2-2.5 1.2-1.7 1.2,2.4 1.2,3.4 1.2,3.5 1.2,4.1 1.2,4 1.2-.7 1.2,.4 1.2,.1 1.2,.9 1.2,1 1.2,1.7 1.2,1.3 1.2,1.1 1.2-.1 1.2,.3 1.2-.9 1.2-.8 1.2-1.7 1.2-.8 1.2-.7 1.2-1.2 1.2-2.6 1.2-2 1.2,.6 1.2-1.2 1.2,2.3 1.2,1.9 1.2,.6 1.2,1.2 1.2,2.2 1.2,2.1 1.2-.5 1.2-1.3 1.2-.8 1.2,0 1.2-1 1.2,1.2 1.2,2.7 1.2,1.7 1.2,2.9 1.2,2 1.2,2.5 1.2,2.4 1.2,1 1.2-1.6 1.2-2.6 1.2-2 1.2-3 1.2-2.1 1.2-.1 1.2,2.6 1.2,.8 1.2,2.6 1.2,1.8 1.2,1.4 1.2,1.8 1.2,2.5 1.2,.3 1.2,1.3 1.2-1 1.2-1.3 1.2-.3 1.2,1.4 1.2,1.1 1.2,1.3 1.2,1.9 1.2,1 1.2,1.6 1.2,.2 1.2-.6 1.2,.9 1.2,2.1 1.2,1.9 1.2,.7 1.2-.9 1.2-.3 1.2,1.5 1.2,1.8 1.2,.7 1.2,1.6 1.2,1.1 1.2,1.5 1.2,1.6 1.2-.2 1.2-1.3 1.2-.1 1.2,.1 1.2-1.7 1.2-2.1 1.2-1 1.2-2.3 1.2-1.6 1.2-.3 1.2-2 1.2-.7 1.2-2.6 1.2-3.8 1.2-3.4 1.2-1.6 1.2-.8 1.2,.3 1.2,2.3 1.2,1.7 1.2,1 1.2,2.8 1.2,2.4 1.2,2.5 1.2,2.7 1.2,1.6 1.2,2.2 1.2,2.2 1.2,1 1.2,1.6 1.2,2.1 1.2,1.9 1.2-1 1.2,.6 1.2-.3 1.2,1.1 1.2,.5 1.2,1.6 1.2,.8 1.2,2.4 1.2,2.5 1.2,1.1 1.2,.5 1.2,1.3 1.2,1.3 1.2,1.3 1.2,.4 1.2,.8 1.2,.5 1.2-1.4 1.2-2.7 1.2-1.2 1.2,.5 1.2,.5 1.2,1.6 1.2,.8 1.2,1.7 1.2,.3 1.2,.8 1.2,1.9 1.2,.7 1.2-.2 1.2,.4 1.2,.3 1.2-1.5 1.2,.3 1.2,1.9 1.2-.8 1.2-.3 1.2-1.1 1.2-2.1 1.2-1.1 1.2,1.7 1.2,.7 1.2-1 1.2-1.2 1.2-1.2 1.2-1.5 1.2-1.9 1.2-.6 1.2,.3 1.2,0 1.2,1.3 1.2,.5 1.2,.4 1.2-.8 1.2-2 1.2-.9 1.2-1.8 1.2-1.3 1.2-2.1 1.2-.5 1.2,.5 1.2,1.3 1.2,1.1 1.2,1.3 1.2,1.5 1.2,.9 1.2-.2 1.2-1.7 1.2-.2 1.2,.7 1.2,2.5 1.2,2 1.2-.2 1.2,.4 1.2,1.6 1.2,3.7 1.2,1.9 1.2,1.2 1.2,1.3 1.2,.1 1.2,1.3 1.2,1.3 1.2,1.4 1.2,1.3 1.2-.3 1.2,1.5 1.2,0 1.2,1 1.2,.9 1.2,.6 1.2-.6 1.2-.1 1.2-1.9 1.2-.9 1.2-.3 1.2-3 1.2-2.6 1.2-2.5 1.2-1.4 1.2-1 1.2,.1 1.2-.7 1.2,.1 1.2-.6 1.2-.2 1.2,1.9 1.2-.1 1.2,.2 1.2,.1 1.2,.7 1.2,.6 1.2,1 1.2,.7 1.2,1.6 1.2,1.1 1.2,.5 1.2,1.2 1.2,1.6 1.2,1.2 1.2,1.3 1.2,.5 1.2,.4 1.2,2.1 1.2,.5 1.2,.2 1.2-1.3 1.2,0 1.2,.6 1.2-.3 1.2-1.4 1.2-3.8 1.2-4 1.2,.2 1.2,2.5 1.2,2.8 1.2,1.2 1.2,1.6 1.2-.4 1.2-2 1.2-.4 1.2,.5 1.2-1.8 1.2-.5 1.2-1.2 1.2-.1 1.2-.3 1.2-.3 1.2,1 1.2,1.9 1.2,1.5 1.2,2.8 1.2,1.3 1.2,.9 1.2-1.1 1.2,.5 1.2,1.1 1.2,1.6 1.2,.1 1.2-.5 1.2-1.4 1.2-.6 1.2,1.4 1.2,1.9 1.2-.4 1.2-.1 1.2,.6 1.2,.5 1.2,0 1.2,.7 1.2-.2 1.2-.2 1.2-.5 1.2,0 1.2-.4 1.2,1.8 1.2-1.2 1.2,1.2 1.2,.6 1.2,1 1.2,.3 1.2,.5 1.2,.2 1.2,.2 1.2-2.1 1.2-1.3 1.2-.7 1.2-.4 1.2-1.4 1.2-2.2 1.2-1.3 1.2-.6 1.2,1 1.2,2 1.2,1.1 1.2,1.6 1.2-.5 1.2-.3 1.2,1.1 1.2,1.4 1.2,1.7 1.2,.3 1.2,0 1.2-1.7 1.2-.7 1.2,1.1 1.2,.3 1.2,.3 1.2,.3 1.2,.5 1.2,1.2 1.2,.8 1.2,.5 1.2,.5 1.2,0 1.2-.8 1.2,2.3 1.2,1.9 1.2-.1 1.2,.5 1.2,1.1 1.2-.3 1.2,.5 1.2,.5 1.2,.7 1.2-.6 1.2-1.5 1.2-3 1.2-2 1.2-.9 1.2-1.1 1.2-1.3 1.2-.8 1.2-.7 1.2-.7 1.2,.2 1.2,1.5 1.2,.3 1.2-.8 1.2,.5 1.2,2 1.2,.7 1.2,.9 1.2,.8 1.2,.5 1.2,2.2 1.2,.3 1.2,1.5 1.2,.1 1.2,1.1 1.2-.1 1.2,1.2 1.2,1.7 1.2-.6 1.2,0 1.2-.6 1.2-1.2 1.2-.7 1.2,.9 1.2,.6 1.2,.2 1.2,.2 1.2-.5 1.2-.3 1.2,.4 1.2,.5 1.2-.4 1.2,.8 1.2,.7 1.2,.6 1.2,.4 1.2,.6 1.2,.7 1.2,.9 1.2-4 1.2-4.1 1.2-4 1.2,.1 1.2-.1 1.2-.2 1.2-1.2 1.2-.5 1.2,0 1.2,1.4 1.2,2.1 1.2,1.6 1.2,1.6 1.2,1.4 1.2-1.5 1.2,.3 1.2,1.3 1.2,2.2 1.2-.5 1.2-.5 1.2,.4 1.2,1 1.2-.3 1.2-.2 1.2,.2 1.2,1.8 1.2,.5 1.2,.1 1.2,.1 1.2,0 1.2,.2 1.2,0 1.2,.8 1.2-1.1 1.2-.5 1.2,1.1 1.2,1.7 1.2,1.1 1.2,0 1.2-.5 1.2-.6 1.2-.6 1.2,.1 1.2,.3 1.2-.5 1.2-2.1 1.2,.4 1.2-.5 1.2,.7 1.2-.4 1.2,.2 1.2,.3 1.2-.7 1.2,.3 1.2,.3 1.2-.5 1.2-.2 1.2-.6 1.2,0 1.2,.8 1.2,.7 1.2,1.4 1.2,1.9 1.2,.2 1.2-.2 1.2,.1 1.2,1.3 1.2-.2 1.2-.7 1.2-.8 1.2,.3 1.2,1 1.2-.4 1.2,.2 1.2,.9 1.2,.9 1.2-1 1.2,.5 1.2-.6 1.2,.5 1.2,.5 1.2-1.2 1.2,.2 1.2,1.1 1.2,.7 1.2,.5 1.2,1 1.2,0 1.2-.1 1.2,.2 1.2,.6 1.2,.1 1.2,.7 1.2-.2 1.2-.5 1.2,.3 1.2-.3 1.2,.4 1.2-1.1 1.2-1.4 1.2,.2 1.2,1 1.2,.5 1.2,.7 1.2,.1 1.2,1.1 1.2,.6 1.2-1.7 1.2-.3 1.2,.9 1.2,1.4 1.2,.3 1.2,.3 1.2-.3 1.2,1 1.2-.1 1.2-.6 1.2-1.5 1.2,.2 1.2,.1 1.2-.7 1.2-.4 1.2-.7 1.2,.1 1.2-1 1.2,.4 1.2-1.1 1.2-.6 1.2-.1 1.2,.6 1.2-.8 1.2-.3 1.2-1 1.2,.5 1.2-.9 1.2-.5 1.2,.1 1.2,.2 1.2,1.2 1.2,.4 1.2-.1 1.2,.9 1.2,1.1 1.2,.7 1.2,1.4 1.2-.4 1.2,.1 1.2,.2 1.2,1.2 1.2,.7 1.2-.4 1.2,0 1.2,1 1.2,.6 1.2,.1 1.2,.4 1.2,.8 1.2,.6 1.2-.6 1.2,.4 1.2-.5 1.2,0 1.2,0 1.2-.1 1.2-.2 1.2,.1 1.2-.6 1.2-.2 1.2-1 1.2-.5 1.2-.9 1.2-1.1 1.2-.8 1.2,.2 1.2,0 1.2,.3 1.2,.1 1.2-1.2 1.2-.2 1.2-1.7 1.2-.1 1.2,0 1.2-.1 1.2,1.2 1.2,.4 1.2,1.4 1.2,0 1.2,.9 1.2,.4 1.2-1 1.2,.2 1.2,1.1 1.2,1 1.2,.5 1.2,.4 1.2,.5 1.2,1.1 1.2,.2 1.2,.3 1.2-1.2 1.2,.1 1.2,.5 1.2,1.4 1.2,1 1.2,.3 1.2,.8 1.2-.4 1.2,.6 1.2-.2 1.2-1.5 1.2-1.2 1.2,.5 1.2,.1 1.2-1.1 1.2,.2 1.2-1 1.2-.4 1.2,1.4 1.2,1 1.2,1.3 1.2,2.7 1.2,.4 1.2-1.1 1.2-2.3 1.2-1.9 1.2-1.5 1.2-.2 1.2,1 1.2,.3 1.2,.2 1.2,.3 1.2,.6 1.2,.7 1.2-.9 1.2-.2 1.2,.5 1.2,0 1.2-.2 1.2,.4 1.2,.2 1.2,1 1.2,.1 1.2-1.4 1.2-1.1 1.2,.9 1.2,1.2 1.2-.2 1.2,1.6 1.2-.2 1.2,.7 1.2,.4 1.2,.7 1.2-.7 1.2,.1 1.2-.2 1.2,.7 1.2,.5 1.2,.4 1.2,.4 1.2,.2 1.2-.2 1.2-.3 1.2,.3 1.2,.8 1.2,1.2 1.2-.7 1.2-.1 1.2-.1 1.2-.7 1.2,.2 1.2,0 1.2-.1 1.2-.1 1.2-.3 1.2-1.3 1.2,0 1.2-.5 1.2,1 1.2,0 1.2,.8 1.2-.6 1.2,1.3 1.2-1.8 1.2-.5 1.2,.2 1.2-.3 1.2,.3 1.2-.1 1.2-.6 1.2,.8 1.2,.6 1.2,.4 1.2-.5 1.2,1.1 1.2-.6 1.2,0 1.2-.8 1.2,1.3 1.2,.8 1.2-.4 1.2-.7 1.2-1.4 1.2,.2 1.2-1 1.2,.2 1.2-.4 1.2,0 1.2,1.3 1.2-1 1.2-.3 1.2-.1 1.2,.9 1.2,.3 1.2,.4 1.2,.1 1.2-.3 1.2,.6 1.2,.4 1.2-.8 1.2-.2 1.2-.8 1.2,.8 1.2-.1 1.2-.2 1.2-.5 1.2,.4 1.2,.5 1.2-.2 1.2-.1 1.2,.9 1.2-1.1 1.2,.2 1.2,1.9 1.2,.7 1.2-.2 1.2-1.4 1.2,1.2 1.2,.2 1.2,.5 1.2-.5 1.2,.8 1.2-.1 1.2-.3 1.2,1.3 1.2,.4 1.2,.3 1.2,0 1.2-.4 1.2,.3 1.2,.1 1.2,.4 1.2-.2 1.2-1.1 1.2,.8 1.2,.1 1.2,.5 1.2-.8 1.2-.7 1.2,1 1.2,.3 1.2,0 1.2,.3 1.2,1 1.2,.2 1.2,.4 1.2-.1 1.2-.1 1.2,.1 1.2,.9 1.2-.6 1.2-.3 1.2,.6 1.2,.6 1.2-.4 1.2-1 1.2,.3 1.2,.8 1.2-.1 1.2-.4 1.2,.1 1.2,.5 1.2,.1 1.2-2 1.2-1.7 1.2,0 1.2-.6 1.2,.6 1.2,.4 1.2,.2 1.2-1.2 1.2,.2 1.2,.2 1.2,1.5 1.2-.5 1.2,1.1 1.2,.2 1.2,1 1.2-1.8 1.2-.5 1.2-.6 1.2,0 1.2,.9 1.2,1.1 1.2-.7 1.2-.2 1.2-.3 1.2,.7 1.2,.4 1.2-.9 1.2-.1 1.2,1.5 1.2,.6 1.2,.3 1.2-.5 1.2,.2 1.2-.2 1.2,.2 1.2-.3 1.2,.1 1.2,.1 1.2,0 1.2,.6 1.2,.6 1.2-.1 1.2,.4 1.2-.4 1.2,.6 1.2-1.2 1.2-.7 1.2-.2 1.2,.2 1.2-.1 1.2-.8 1.2-.4 1.2,.9 1.2-.4 1.2-1 1.2-.9 1.2-1.6 1.2-.4 1.2,1.3 1.2,.2 1.2,.9 1.2-.9 1.2,.6 1.2,1.5 1.2,.1 1.2-.6 1.2-.1 1.2-.7 1.2-.4 1.2,1 1.2,1.3 1.2,1 1.2-.2 1.2,.3 1.2,.5 1.2-.2 1.2-.5 1.2,.5 1.2-.2 1.2,1.1 1.2-.5 1.2,0 1.2,.3 1.2-.2 1.2,.7 1.2,.6 1.2,.4 1.2-1 1.2,.4 1.2-.3 1.2,.8 1.2-.7 1.2-.4 1.2,.2 1.2-.2 1.2,.2 1.2,.4 1.2-.5 1.2-1.1 1.2,.2 1.2,.6 1.2-.3 1.2,1.2 1.2,.4 1.2-1.5 1.2-1.1 1.2,1.4 1.2,.7 1.2-.1 1.2-.4 1.2-.3 1.2-.5 1.2,.2 1.2,.2 1.2,.7 1.2-.4 1.2-.5 1.2,.7 1.2-.7 1.2,.2 1.2,0 1.2-.9 1.2-1.7 1.2-.3 1.2,2.1 1.2,.2 1.2-.8 1.2-.1 1.2,2.5 1.2,1.1 1.2,.3 1.2,.4 1.2,.1 1.2-.2 1.2,.2 1.2,.6 1.2-.8 1.2-1.2 1.2,.2 1.2,.9 1.2,.8 1.2,1.3 1.2,0 1.2-2.3 1.2-2.9 1.2,1.7 1.2,2 1.2,.1 1.2-.2 1.2,.6 1.2-.8 1.2-.4 1.2-.5 1.2-.5 1.2,.7 1.2-.8 1.2,1.1 1.2,.7 1.2,.2 1.2-.5 1.2-1.2 1.2,.2 1.2,.3 1.2,.6 1.2,.4 1.2,.2 1.2,.7 1.2,.4 1.2,1 1.2-1.1 1.2-.3 1.2-.5 1.2,.3 1.2,0 1.2-.1 1.2,.3 1.2,1.1 1.2,.3 1.2-.3 1.2-1 1.2-.6 1.2-.6 1.2-.2 1.2,.2 1.2,0 1.2-1 1.2-.1 1.2-.8 1.2,0 1.2,.8 1.2,.1 1.2,.7" fill="none" stroke="#ff7f0e" stroke-width="5.6" stroke-linejoin="round" stroke-linecap="round"/>
<path d="M217.8,1422.3l1.1,16.4 1.2,17 1.2,16 1.2,16 1.2,15.6 1.2,16.4 1.2,16.6 1.2,16.8 1.2,16.5 1.2,16.6 1.2,15.5 1.2,12.4 1.2,11.4 1.2,9.8 1.2,9.8 1.2,10.5 1.2,9.4 1.2,8.1 1.2,8.1 1.2,9.2 1.2,5.7 1.2,5.3 1.2,6.5 1.2,5.3 1.2,6.1 1.2,3.8 1.2,5.5 1.2,3.9 1.2,4.7 1.2,3.7 1.2,4.8 1.2,4 1.2,3.3 1.2,4.3 1.2,3.3 1.2,2.8 1.2,3.9 1.2,2.6 1.2,2.7 1.2,2.7 1.2,1.4 1.2,3.1 1.2,2.9 1.2,1.8 1.2,3.4 1.2,1 1.2,.8 1.2,2.1 1.2,.7 1.2,1.4 1.2,1.6 1.2,2.1 1.2,1.1 1.2,1.2 1.2,1 1.2,.9 1.2,1.6 1.2,1.5 1.2,1.4 1.2,.9 1.2,.5 1.2,1 1.2,.7 1.2,1.5 1.2,1.3 1.2,.2 1.2,1.3 1.2-.3 1.2,1.4 1.2,1.1 1.2-.3 1.2,.5 1.2,.1 1.2,.3 1.2,.4 1.2,1.9 1.2-1.5 1.2-.4 1.2-1.5 1.2-.8 1.2-.6 1.2-.2 1.2-.2 1.2,.2 1.2,.1 1.2,.4 1.2,.7 1.2,1.4 1.2,1.6 1.2,.8 1.2,0 1.2,1.8 1.2,.6 1.2,1.5 1.2-.2 1.2,2.1 1.2,.5 1.2,.4 1.2,1.2 1.2-.7 1.2,2 1.2,.4 1.2,.3 1.2,0 1.2,.4 1.2,.7 1.2-.2 1.2,1.2 1.2,.7 1.2-.1 1.2,.5 1.2,1.4 1.2,.1 1.2,.6 1.2,.7 1.2-.5 1.2,.7 1.2,.5 1.2,.9 1.2,.5 1.2,0 1.2,1.4 1.2-.3 1.2,.8 1.2,.9 1.2,.6 1.2-.1 1.2,.2 1.2,1.4 1.2,.1 1.2,.3 1.2,.3 1.2,.7 1.2,1.4 1.2-.5 1.2,.4 1.2,.3 1.2-.1 1.2,.3 1.2-.4 1.2,.1 1.2,.6 1.2,0 1.2-.3 1.2,1 1.2-.2 1.2,1.1 1.2-.2 1.2,.3 1.2,.1 1.2,0 1.2,.7 1.2,.1 1.2,.2 1.2-.3 1.2,.9 1.2-.2 1.2,.1 1.2,.8 1.2,.3 1.2-.4 1.2,.1 1.2,.7 1.2,.1 1.2-.3 1.2-.6 1.2,.4 1.2-.7 1.2-.4 1.2-.5 1.2,.4 1.2-.9 1.2-.1 1.2,1.1 1.2,.6 1.2,1.1 1.2,.7 1.2,.2 1.2,.4 1.2,.7 1.2,.9 1.2,.8 1.2,.9 1.2,.9 1.2-.4 1.2-.6 1.2,1.2 1.2,.3 1.2,1.3 1.2-.3 1.2,.7 1.2-.3 1.2,1 1.2,.5 1.2,.4 1.2,.4 1.2,.6 1.2,.4 1.2-.1 1.2,.1 1.2,.6 1.2,.4 1.2,.7 1.2-.5 1.2,.2 1.2,.7 1.2-.2 1.2,.3 1.2,0 1.2,.9 1.2,0 1.2-.1 1.2,.7 1.2,.1 1.2,.2 1.2-.5 1.2,.2 1.2-.3 1.2,.7 1.2-.5 1.2,.6 1.2,.4 1.2,0 1.2-1 1.2,.3 1.2,.2 1.2,.2 1.2,.3 1.2,.4 1.2-.5 1.2,0 1.2-.9 1.2,1 1.2,.2 1.2-.7 1.2,.2 1.2-.6 1.2,.4 1.2,.8 1.2,1.2 1.2-.8 1.2-.2 1.2,.2 1.2,.8 1.2-.4 1.2-.1 1.2-.4 1.2,.6 1.2-.3 1.2-.3 1.2,0 1.2,.1 1.2,.2 1.2,.3 1.2,.2 1.2,.5 1.2-.7 1.2,.5 1.2,.7 1.2-.5 1.2,.1 1.2-.1 1.2,1.2 1.2,.1 1.2-.1 1.2,0 1.2,.6 1.2-.9 1.2-.2 1.2-.4 1.2,.3 1.2,.2 1.2,1 1.2-.7 1.2,.2 1.2-1.2 1.2,1.4 1.2-.4 1.2,.7 1.2,.3 1.2,.9 1.2-.1 1.2,.8 1.2,.2 1.2,.4 1.2,.3 1.2,0 1.2-1.1 1.2-.2 1.2-.4 1.2-.1 1.2,1.1 1.2-1.2 1.2-.4 1.2,0 1.2,.1 1.2-.7 1.2-.4 1.2,.2 1.2,.1 1.2-1 1.2,0 1.2-.6 1.2-.1 1.2,.2 1.2-.9 1.2-.1 1.2,.7 1.2,.2 1.2,.9 1.2,.4 1.2,.1 1.2,.4 1.2,.5 1.2-.4 1.2-.3 1.2,.4 1.2,1.8 1.2,0 1.2,.8 1.2-.7 1.2,.4 1.2,.1 1.2-1 1.2,.8 1.2,.7 1.2-.2 1.2,.8 1.2,.4 1.2,.4 1.2,.1 1.2-.1 1.2-.9 1.2-.2 1.2,1 1.2-.7 1.2-.2 1.2,.2 1.2,.3 1.2,0 1.2,.6 1.2,.3 1.2-.7 1.2,.8 1.2-.1 1.2-.3 1.2,.4 1.2-.1 1.2,.8 1.2,.2 1.2-.2 1.2,1.7 1.2-.1 1.2,0 1.2,.6 1.2-.5 1.2,.2 1.2-.2 1.2,.9 1.2-.8 1.2,.8 1.2-.6 1.2,.5 1.2,.1 1.2-.9 1.2-.4 1.2,.1 1.2,.2 1.2,.5 1.2,.3 1.2-.2 1.2,.1 1.2,.5 1.2-1 1.2,1.3 1.2-.4 1.2,.5 1.2,0 1.2,.3 1.2-.7 1.2,0 1.2,.7 1.2-.3 1.2,.2 1.2-.5 1.2,1.1 1.2-.2 1.2-.1 1.2,.1 1.2-.3 1.2-.8 1.2,.6 1.2-.4 1.2-.2 1.2,.1 1.2-.5 1.2,.6 1.2,.1 1.2,.4 1.2-.1 1.2,0 1.2,.9 1.2-.1 1.2-.2 1.2,.3 1.2,.1 1.2-.1 1.2-.3 1.2-.4 1.2-.2 1.2,.7 1.2,.3 1.2,.1 1.2,.4 1.2-.7 1.2,.2 1.2,.2 1.2,.3 1.2-.1 1.2,.7 1.2,.2 1.2-.2 1.2,.4 1.2-.8 1.2,1.4 1.2-.4 1.2,.8 1.2-.6 1.2,.5 1.2-.5 1.2-.5 1.2-.1 1.2,1.1 1.2-.8 1.2-.7 1.2,.3 1.2,.4 1.2,.4 1.2-.2 1.2,.1 1.2,.4 1.2,.1 1.2,.8 1.2,0 1.2,.3 1.2,.2 1.2,.4 1.2,.4 1.2-.4 1.2-.6 1.2,.7 1.2,.3 1.2-1 1.2-.9 1.2-1.2 1.2-.6 1.2-1.1 1.2,.3 1.2-.5 1.2,1.2 1.2,1.2 1.2-.2 1.2,.6 1.2,1.2 1.2-.9 1.2,.5 1.2,1.1 1.2-.3 1.2-.6 1.2,.5 1.2-.4 1.2,.6 1.2-.5 1.2,0 1.2-.1 1.2,.9 1.2-1.4 1.2,.2 1.2,.7 1.2-.8 1.2,.9 1.2-.2 1.2,.6 1.2-.2 1.2,.1 1.2,.2 1.2,.4 1.2-.7 1.2,0 1.2,.8 1.2,0 1.2-.5 1.2-.6 1.2,0 1.2,.1 1.2-.4 1.2-.9 1.2,.7 1.2-1.4 1.2,0 1.2-.5 1.2,1.2 1.2,1 1.2-.5 1.2,.2 1.2,.3 1.2,.4 1.2,.7 1.2,.5 1.2,.1 1.2,.7 1.2-1.2 1.2,.4 1.2,.7 1.2,.4 1.2,.9 1.2-.6 1.2-.3 1.2,.7 1.2,.4 1.2-.4 1.2-1.1 1.2,.4 1.2-.1 1.2-.7 1.2-1.2 1.2,.7 1.2-.7 1.2,.9 1.2,.1 1.2,0 1.2,.6 1.2-.1 1.2,1.2 1.2-.1 1.2,0 1.2,.7 1.2-1 1.2-1.3 1.2,0 1.2-1.1 1.2-.3 1.2-.8 1.2,1 1.2,.2 1.2,0 1.2-.8 1.2,.1 1.2,1 1.2,.4 1.2-.8 1.2,.3 1.2,.8 1.2,.3 1.2-.3 1.2,.8 1.2-.2 1.2,.3 1.2,.1 1.2,1.1 1.2,.5 1.2,.1 1.2-.2 1.2-.1 1.2-.2 1.2,.2 1.2,.6 1.2-.2 1.2,.4 1.2-.7 1.2,.6 1.2-.1 1.2-.4 1.2-.2 1.2-.3 1.2-.6 1.2,1.1 1.2-.9 1.2,0 1.2,0 1.2-.8 1.2,.4 1.2,.4 1.2-.3 1.2-.4 1.2-.4 1.2,.1 1.2,.7 1.2,.9 1.2-.7 1.2,1 1.2,.8 1.2-.4 1.2,.8 1.2-.2 1.2-.6 1.2,.5 1.2,.2 1.2-1.1 1.2,.2 1.2,.1 1.2,.2 1.2,.6 1.2-.6 1.2-.1 1.2-.1 1.2,.4 1.2,.2 1.2,.2 1.2,0 1.2-.6 1.2,.7 1.2,.1 1.2,.3 1.2-.1 1.2,.6 1.2-.1 1.2,.1 1.2-.4 1.2-.1 1.2,1.3 1.2-.6 1.2-1.3 1.2,1 1.2-.6 1.2,.9 1.2,1.1 1.2,1 1.2-.3 1.2-.7 1.2-.3 1.2-.3 1.2-.2 1.2,.2 1.2-.1 1.2,.6 1.2-.4 1.2-.7 1.2,.6 1.2-1.4 1.2,.9 1.2,2.3 1.2,.1 1.2-.4 1.2,1.3 1.2-.1 1.2-.9 1.2,.7 1.2-.2 1.2,.5 1.2-.5 1.2-.1 1.2,.4 1.2,.5 1.2-.6 1.2,.3 1.2-.8 1.2-.7 1.2-.1 1.2,.2 1.2,1.2 1.2,0 1.2-.5 1.2-.1 1.2-.5 1.2,.2 1.2-.8 1.2,0 1.2-1 1.2,1 1.2-.9 1.2-.1 1.2,.7 1.2-.5 1.2-.5 1.2,0 1.2-.5 1.2,.3 1.2,0 1.2,.2 1.2-.2 1.2,.6 1.2,.1 1.2,.2 1.2,.3 1.2-.1 1.2,.1 1.2-1.1 1.2,.3 1.2,1.4 1.2-.6 1.2,.2 1.2,.4 1.2-.1 1.2,.1 1.2,.1 1.2-.4 1.2,.9 1.2,.3 1.2,.4 1.2,.4 1.2,.4 1.2-.4 1.2-.1 1.2,.6 1.2,.1 1.2,.3 1.2-.1 1.2,.1 1.2-.3 1.2,.3 1.2-.1 1.2-.8 1.2,0 1.2-.6 1.2,.8 1.2-.2 1.2-.2 1.2-.5 1.2-.5 1.2-.1 1.2,.4 1.2,0 1.2-.4 1.2-1.3 1.2,.2 1.2,.6 1.2-1.4 1.2,.1 1.2-.3 1.2,.2 1.2-.6 1.2,.5 1.2-1 1.2,.7 1.2,.1 1.2-.3 1.2,.6 1.2,.4 1.2-.2 1.2,0 1.2,.7 1.2,0 1.2,.3 1.2,.9 1.2,.3 1.2,.6 1.2-1.2 1.2,.2 1.2,0 1.2,.2 1.2,0 1.2,.5 1.2,.5 1.2,.1 1.2-.5 1.2,.2 1.2,.9 1.2-.8 1.2,1.2 1.2,.2 1.2,.4 1.2,.1 1.2-.1 1.2,.5 1.2-.2 1.2,.5 1.2-.4 1.2,1.3 1.2-.7 1.2-1 1.2,1.3 1.2-.5 1.2,.7 1.2,.3 1.2,.2 1.2,.9 1.2-1.2 1.2-.5 1.2-.1 1.2-.8 1.2-.5 1.2-1.5 1.2-.2 1.2-.5 1.2-.6 1.2,.2 1.2,.5 1.2-.2 1.2-.5 1.2,.2 1.2,.2 1.2-.2 1.2,.6 1.2,.5 1.2,.1 1.2-.1 1.2-.5 1.2,.6 1.2-.7 1.2-.2 1.2,.1 1.2-.1 1.2-.1 1.2-1.6 1.2-.8 1.2-1.3 1.2-1.2 1.2-.9 1.2-.5 1.2,1.5 1.2,.3 1.2,.3 1.2-.2 1.2,.7 1.2-.4 1.2-.2 1.2,.6 1.2,.7 1.2,.2 1.2,.1 1.2,.8 1.2,.2 1.2,.2 1.2,.5 1.2-.4 1.2,.8 1.2,.1 1.2,.1 1.2,.4 1.2-.7 1.2,.4 1.2,.4 1.2,1.4 1.2-.6 1.2,.5 1.2,.7 1.2-1.2 1.2,.3 1.2,.5 1.2,.2 1.2,.1 1.2-1 1.2,.3 1.2-.7 1.2,.4 1.2,.1 1.2,0 1.2,.5 1.2-.7 1.2-1.1 1.2,1.1 1.2,.7 1.2-.3 1.2,.2 1.2,.7 1.2-.4 1.2,1 1.2-.8 1.2,.1 1.2-.4 1.2-.1 1.2,.1 1.2-.4 1.2,.2 1.2-.3 1.2-.6 1.2-.4 1.2,.4 1.2,.1 1.2-.5 1.2,.8 1.2,.5 1.2-.4 1.2,.2 1.2-.5 1.2,.9 1.2,.2 1.2,.2 1.2-.1 1.2,.6 1.2,.2 1.2,.4 1.2-.2 1.2,1 1.2,0 1.2,.2 1.2-1.3 1.2,.9 1.2,.4 1.2,.5 1.2,.1 1.2-.4 1.2,.1 1.2-1.4 1.2,.4 1.2-1 1.2-.8 1.2-.7 1.2-.7 1.2-.6 1.2-1 1.2,.2 1.2-.2 1.2,.7 1.2,.5 1.2,.1 1.2,.2 1.2,.4 1.2,.5 1.2-.6 1.2,0 1.2,.7 1.2,.9 1.2-.1 1.2-.2 1.2-.4 1.2,.5 1.2,.1 1.2-.5 1.2,1.4 1.2-.2 1.2-.2 1.2-.2 1.2-.6 1.2,0 1.2-.4 1.2,.6 1.2-.1 1.2-.2 1.2,.6 1.2-.8 1.2-.8 1.2,.1 1.2-.1 1.2-.2 1.2-1.1 1.2,.1 1.2,.4 1.2,.7 1.2,0 1.2,1 1.2-.2 1.2,.5 1.2,.6 1.2-.1 1.2,.2 1.2-.2 1.2,.8 1.2-.3 1.2,.9 1.2,.1 1.2,.4 1.2-.3 1.2,.2 1.2,0 1.2,.2 1.2,0 1.2-.3 1.2,.2 1.2-.1 1.2,.7 1.2-.1 1.2-.5 1.2,.3 1.2,1.5 1.2-.7 1.2,.6 1.2-.3 1.2,.6 1.2-.2 1.2,.4 1.2,.1 1.2,.5 1.2,.3 1.2-.9 1.2,.6 1.2-1.2 1.2,.2 1.2,.2 1.2-.3 1.2-.6 1.2-.3 1.2-.1 1.2-1 1.2,1.5 1.2,.4 1.2-.3 1.2,.2 1.2-1.2 1.2-.2 1.2-.3 1.2,.9 1.2,.4 1.2-.8 1.2,.6 1.2,.6 1.2-.7 1.2-.1 1.2,.6 1.2-.6 1.2,.9 1.2,.4 1.2-.4 1.2-.3 1.2,0 1.2-.7 1.2,.1 1.2-.2 1.2,0 1.2-.5 1.2-.2 1.2-1 1.2,.4 1.2,.9 1.2-.8 1.2-.5 1.2,.2 1.2,.8 1.2-.4 1.2-.2 1.2-.3 1.2,.3 1.2,1.1 1.2-.9 1.2,.8 1.2-.6 1.2,1.6 1.2,0 1.2-.2 1.2-.8 1.2,.1 1.2,.7 1.2,.2 1.2,.5 1.2,0 1.2,.2 1.2,.3 1.2,.2 1.2,.6 1.2-.4 1.2,.8 1.2-.5 1.2,.1 1.2-.4 1.2-.9 1.2,.9 1.2,0 1.2-.8 1.2-.1 1.2,1 1.2-.8 1.2,0 1.2-1 1.2,.1 1.2,.3 1.2,1.1 1.2,0 1.2-.7 1.2,.3 1.2,.3 1.2,0 1.2-.6 1.2,.8 1.2,.8 1.2,.1 1.2-.7 1.2,.5 1.2,.4 1.2-.4 1.2,0 1.2,1.1 1.2,.2 1.2-.1 1.2-.4 1.2-.2 1.2-.4 1.2,.3 1.2-.4 1.2-.8 1.2-.1 1.2,.1 1.2-.7 1.2-.3 1.2,0 1.2,.5 1.2-.5 1.2-.3 1.2-.3 1.2-.5 1.2,1.1 1.2-.9 1.2,.8 1.2-.2 1.2-.4 1.2-.8 1.2,.1 1.2-.7 1.2-.8 1.2-.7 1.2,0 1.2,1.4 1.2-.4 1.2,.2 1.2-.4 1.2,.8 1.2,.4 1.2,.2 1.2-.1 1.2,.2 1.2,1.4 1.2-.4 1.2,.5 1.2-.2 1.2,.4 1.2-.9 1.2,.4 1.2,.7 1.2,.9 1.2,0 1.2-.5 1.2,.9 1.2-.7 1.2,.9 1.2,.6 1.2-.6 1.2-.1 1.2,.5 1.2,.6 1.2-.6 1.2,.6 1.2-1.1 1.2-.6 1.2-.3 1.2,0 1.2-.5 1.2,.4 1.2-.7 1.2-.3 1.2-.5 1.2,.6 1.2-.4 1.2,.4 1.2,.4 1.2,.1 1.2,.2 1.2,.1 1.2,0 1.2,.7 1.2-.2 1.2-.9 1.2,.1 1.2,.7 1.2-.1 1.2,.3 1.2,.8 1.2-.6 1.2,.2 1.2-.2 1.2,.6 1.2,.8 1.2-.6 1.2-.6 1.2,.3 1.2,.1 1.2,1.3 1.2,.1 1.2,.1 1.2-.1 1.2-.8 1.2,.1 1.2-.2 1.2,.3 1.2-.1 1.2,.6 1.2-1 1.2-.1" fill="none" stroke="#2ca02c" stroke-width="5.6" stroke-linejoin="round" stroke-linecap="round"/>
<path d="M221.5,1422.6l1.2,13.5 1.2,13.7 1.2,14.6 1.2,14.8 1.2,3.1 1.2,.7 1.2,.9 1.2,8.8 1.2,11.9 1.2,11.3 1.2,12.8 1.2,14.6 1.2,14.9 1.2,15.5 1.2,3.5 1.2-5.4 1.2,8.4 1.2,8.4 1.2,4.7 1.2-3.7 1.2-4.2 1.2-3.3 1.2-3.1 1.2,5.9 1.2,6.4 1.2,7.1 1.2,8.4 1.2,8 1.2,8.8 1.2,9.7 1.2,8.4 1.2,9.3 1.2,8.3 1.2,8.1 1.2,8.3 1.2,7.3 1.2,2.7 1.2-2.6 1.2-1.7 1.2-1.4 1.2,3.5 1.2,4.4 1.2,5 1.2-2.6 1.2-6.8 1.2-6.6 1.2-5.2 1.2,2.6 1.2,1.2 1.2,2.1 1.2,1.9 1.2,4.8 1.2,3.9 1.2,4.5 1.2,5.1 1.2,5.6 1.2,5.5 1.2,4.6 1.2,5.5 1.2,5.5 1.2,.4 1.2-3.7 1.2-2.9 1.2,.3 1.2,3.1 1.2,5.2 1.2,4 1.2,3.2 1.2,2.7 1.2,1.1 1.2-5.9 1.2-4.7 1.2,2.8 1.2,3.7 1.2,3.6 1.2,2.6 1.2,3.5 1.2-6.3 1.2-7.4 1.2-6.7 1.2-6.7 1.2-6.9 1.2,.5 1.2,1.8 1.2,3.6 1.2,2.1 1.2,2.8 1.2,3.3 1.2,3.5 1.2,4.9 1.2,5.1 1.2,3.2 1.2,4.1 1.2,4.2 1.2,3.2 1.2,5.4 1.2,3.1 1.2,3.5 1.2,4.8 1.2,2.5 1.2,4 1.2,3.8 1.2,2.9 1.2,2.3 1.2,2.4 1.2,3.4 1.2,.7 1.2,.5 1.2,1.5 1.2-.8 1.2-1.2 1.2-2 1.2,.2 1.2,1.5 1.2,1.6 1.2,2.9 1.2,2.6 1.2,3.9 1.2,2.8 1.2,4.2 1.2,2.8 1.2-5.4 1.2-4.7 1.2-6.9 1.2-6.4 1.2-7 1.2,0 1.2,1.4 1.2,2.7 1.2,1.3 1.2,.5 1.2,3.4 1.2,3.3 1.2,4.3 1.2,1.7 1.2,2.3 1.2,2.4 1.2,.9 1.2,2.1 1.2,1.5 1.2,1.6 1.2,1.2 1.2,2.1 1.2,1 1.2,.9 1.2,2.4 1.2,2.3 1.2,1.7 1.2,1.4 1.2,.7 1.2-2 1.2-.8 1.2-1.6 1.2-.7 1.2,.5 1.2,1.6 1.2,1.1 1.2,.3 1.2,1.5 1.2,2.5 1.2,1.9 1.2,1 1.2,1.1 1.2,2.9 1.2,.7 1.2,1.1 1.2,.2 1.2,.4 1.2-.1 1.2,.5 1.2,.2 1.2,.4 1.2,2 1.2,1.1 1.2,1.4 1.2,1.7 1.2,.6 1.2,1.5 1.2,1.3 1.2,.7 1.2,.1 1.2,1 1.2-.3 1.2,.9 1.2,1 1.2-1 1.2-2.6 1.2-2.8 1.2-1.4 1.2,.8 1.2,1 1.2,1.7 1.2,1.2 1.2,.6 1.2,.9 1.2,1.3 1.2-.2 1.2,1.3 1.2,.8 1.2,1.2 1.2,.1 1.2,.4 1.2,.3 1.2,.6 1.2,1.2 1.2-.1 1.2,1.5 1.2-.6 1.2-.1 1.2-.4 1.2-1.8 1.2-.7 1.2,1.3 1.2,1.6 1.2,1.2 1.2-.9 1.2,1.4 1.2,.7 1.2,.8 1.2-.6 1.2-1.2 1.2-.4 1.2-1.5 1.2,.1 1.2-.4 1.2-1 1.2-.8 1.2-.8 1.2-2.1 1.2-.7 1.2-.8 1.2,2.2 1.2,1.7 1.2,2.2 1.2,.4 1.2,.5 1.2,1.7 1.2,1.6 1.2,1.7 1.2,1.5 1.2,.4 1.2,1.7 1.2,1.6 1.2,.9 1.2-.3 1.2,.6 1.2,.3 1.2-.8 1.2,.1 1.2,1 1.2,.6 1.2,.5 1.2,.1 1.2,.1 1.2,.9 1.2,.5 1.2,1.9 1.2-.4 1.2-.7 1.2-.2 1.2,.9 1.2-.2 1.2,.3 1.2,1.1 1.2,.5 1.2,0 1.2,.1 1.2-.1 1.2,.1 1.2,0 1.2-.2 1.2-.7 1.2-1.8 1.2-1.3 1.2,.4 1.2,.5 1.2,.6 1.2,.6 1.2,1.3 1.2-.4 1.2,.7 1.2,.2 1.2,.7 1.2,.3 1.2,.5 1.2,.2 1.2-.6 1.2,.2 1.2-.1 1.2,.3 1.2-1.3 1.2-.2 1.2,0 1.2-.1 1.2-.6 1.2-5.1 1.2,1.4 1.2,.7 1.2,.3 1.2-.3 1.2-.7 1.2,.8 1.2,.6 1.2,0 1.2-.2 1.2,.7 1.2,.2 1.2,.7 1.2,.7 1.2,.7 1.2,1.1 1.2,.4 1.2-.4 1.2-.5 1.2,1.3 1.2-.2 1.2,2 1.2,.4 1.2,.5 1.2,.2 1.2-1.7 1.2,0 1.2,.7 1.2,1.1 1.2-.4 1.2,.3 1.2,.8 1.2,1.1 1.2,1.5 1.2-1.2 1.2-.9 1.2-.5 1.2-.3 1.2-.8 1.2-1.1 1.2-.2 1.2-1.5 1.2-.2 1.2,0 1.2,1 1.2-.1 1.2,1.5 1.2,.7 1.2,2.2 1.2,.1 1.2-.3 1.2,.6 1.2,1.3 1.2,.2 1.2,.6 1.2,.2 1.2,.4 1.2-.7 1.2-.7 1.2,0 1.2-.9 1.2-1.6 1.2-.6 1.2-.2 1.2,.4 1.2-.7 1.2,1 1.2-1.1 1.2-.1 1.2,.2 1.2-.5 1.2,1 1.2,.1 1.2,.4 1.2-.3 1.2-.1 1.2,.2 1.2,.1 1.2,1 1.2,1.4 1.2,.1 1.2,.3 1.2,.6 1.2,.8 1.2-.2 1.2,.1 1.2,1 1.2,.4 1.2-.2 1.2-.6 1.2-.2 1.2,1 1.2,1.1 1.2-.5 1.2,.7 1.2-.3 1.2,.6 1.2,.5 1.2,.7 1.2-.2 1.2-.3 1.2,.9 1.2,.2 1.2,1 1.2-.5 1.2-.2 1.2-.5 1.2,.1 1.2-.5 1.2-.5 1.2,.3 1.2-.5 1.2,1.2 1.2,.3 1.2,0 1.2,1 1.2,.7 1.2-1.1 1.2,.5 1.2-.8 1.2,.8 1.2-.8 1.2-.2 1.2,1.2 1.2,.7 1.2-1.2 1.2-.3 1.2,1 1.2,0 1.2,1 1.2,.4 1.2,.8 1.2,.1 1.2-.9 1.2,.2 1.2-.4 1.2,.9 1.2,1.1 1.2,.8 1.2-.3 1.2,.4 1.2-1.1 1.2,.8 1.2,1.3 1.2-.5 1.2-.5 1.2-.1 1.2,.1 1.2,.9 1.2-.4 1.2-.5 1.2,.8 1.2,1.9 1.2,0 1.2,.5 1.2-.9 1.2,.9 1.2,.2 1.2,.8 1.2,.6 1.2-.5 1.2-1.5 1.2,.3 1.2-.2 1.2,1.1 1.2,.1 1.2-.1 1.2-.1 1.2,.4 1.2,.9 1.2,1 1.2-1.1 1.2,.2 1.2,1.2 1.2,0 1.2-1 1.2,.3 1.2-.1 1.2-1.9 1.2-.1 1.2-1.3 1.2,.1 1.2-1 1.2-.7 1.2,.2 1.2-.7 1.2,.5 1.2-.3 1.2-.7 1.2,.5 1.2-.3 1.2,.5 1.2,0 1.2,.5 1.2,.1 1.2,1.2 1.2-.3 1.2-.8 1.2-.3 1.2,.9 1.2,0 1.2,.2 1.2-.1 1.2,.4 1.2,.4 1.2-.1 1.2,.3 1.2,.7 1.2-.4 1.2,.1 1.2-.4 1.2,.1 1.2,0 1.2,.7 1.2-.3 1.2,1.2 1.2-.8 1.2-.1 1.2,0 1.2,.3 1.2,.4 1.2,.4 1.2-.4 1.2,0 1.2-.1 1.2,.5 1.2,.9 1.2-1.3 1.2,0 1.2,.1 1.2,.3 1.2-.9 1.2-1 1.2,.2 1.2,.2 1.2,.1 1.2-.5 1.2,.6 1.2-.9 1.2,1.1 1.2,.5 1.2,.6 1.2,.8 1.2,.6 1.2,.7 1.2-.4 1.2-.3 1.2-.6 1.2-.2 1.2,.6 1.2-.4 1.2-.6 1.2,.4 1.2,.2 1.2,.9 1.2-.4 1.2,.7 1.2-.6 1.2,.8 1.2,.2 1.2-1.3 1.2,1.3 1.2,.3 1.2,.7 1.2,.3 1.2-.5 1.2,.3 1.2,.7 1.2-1.1 1.2-1 1.2,.4 1.2-.8 1.2,.8 1.2,.5 1.2-.3 1.2,0 1.2-.6 1.2-.1 1.2,.3 1.2,.5 1.2,.5 1.2-.8 1.2,0 1.2-.5 1.2,.6 1.2,.5 1.2-.5 1.2,.4 1.2-.7 1.2-1.4 1.2-.6 1.2,.8 1.2,.6 1.2,.2 1.2,.6 1.2,.3 1.2,.9 1.2,.6 1.2,.4 1.2,.4 1.2,.9 1.2-1 1.2,.1 1.2-.6 1.2-.5 1.2,1.5 1.2,.5 1.2-.2 1.2-.3 1.2,.8 1.2,.5 1.2-.1 1.2-.4 1.2,.2 1.2-.8 1.2-.1 1.2,1 1.2,1.1 1.2-1 1.2-.3 1.2,.2 1.2-.4 1.2,1.4 1.2,.5 1.2,.1 1.2,.3 1.2-.2 1.2,.6 1.2-.8 1.2,.2 1.2-.5 1.2,.1 1.2,.8 1.2,0 1.2-.4 1.2-.4 1.2,.2 1.2-.8 1.2,0 1.2-.3 1.2,0 1.2-.6 1.2-1.1 1.2-.3 1.2,.7 1.2,.5 1.2,.4 1.2-.2 1.2-.4 1.2-1 1.2-.1 1.2,.5 1.2,.1 1.2,.7 1.2-.1 1.2-.6 1.2,.2 1.2,.1 1.2,.3 1.2-.5 1.2-.2 1.2,.2 1.2,.3 1.2,.3 1.2,.7 1.2-.2 1.2-.8 1.2-.2 1.2,.8 1.2,1.3 1.2,1.2 1.2,.1 1.2,.6 1.2-.7 1.2-.5 1.2-.4 1.2,.4 1.2,.2 1.2,.6 1.2,.2 1.2-.8 1.2,.4 1.2,.3 1.2,0 1.2-.1 1.2-.3 1.2-.4 1.2-.3 1.2,.7 1.2-.3 1.2-.4 1.2,.7 1.2,0 1.2,.9 1.2-.6 1.2,.5 1.2-.9 1.2,.8 1.2,.4 1.2,.1 1.2-.3 1.2,.3 1.2,1.5 1.2,.3 1.2,.3 1.2,.1 1.2-.4 1.2-.1 1.2-.2 1.2,.2 1.2-.6 1.2,1.1 1.2,.8 1.2-1 1.2-.8 1.2,0 1.2-.9 1.2,.9 1.2,.9 1.2,.4 1.2-.3 1.2-.7 1.2,0 1.2,.8 1.2-.2 1.2,.8 1.2-.9 1.2-1 1.2,.1 1.2,.7 1.2,.2 1.2-.4 1.2-.2 1.2-.1 1.2-.2 1.2,.5 1.2,.1 1.2-.1 1.2,.1 1.2,0 1.2,.7 1.2-.2 1.2-.9 1.2,0 1.2,.1 1.2,.2 1.2,1.7 1.2,.4 1.2-.5 1.2-1.5 1.2,.6 1.2,.8 1.2-.3 1.2,.9 1.2,.5 1.2,0 1.2-.9 1.2,.6 1.2-.3 1.2-1.2 1.2,0 1.2,.2 1.2-.8 1.2,.7 1.2-.1 1.2-.1 1.2,.1 1.2,.2 1.2,.5 1.2-1.4 1.2-.2 1.2-1.1 1.2,.2 1.2,.1 1.2,0 1.2,.7 1.2-.2 1.2-1.1 1.2,.3 1.2,.8 1.2-.5 1.2,.6 1.2-.5 1.2-.7 1.2,0 1.2,.9 1.2-.1 1.2,.1 1.2,.7 1.2,.3 1.2,1.3 1.2-.2 1.2-1 1.2,.3 1.2,.4 1.2,.1 1.2,.4 1.2,.2 1.2,.1 1.2,1.1 1.2-.6 1.2-.6 1.2,.3 1.2,.7 1.2-.9 1.2,.8 1.2,.1 1.2,.6 1.2-1.2 1.2,.1 1.2-.3 1.2-.3 1.2,.8 1.2-.5 1.2-.8 1.2,.5 1.2-.4 1.2-.6 1.2,.6 1.2-.6 1.2-.3 1.2,.2 1.2,.7 1.2,.5 1.2,.8 1.2,.1 1.2-.3 1.2,1 1.2-.4 1.2-.5 1.2,0 1.2-.6 1.2,1.3 1.2-.5 1.2,.4 1.2-1.3 1.2,.5 1.2-.3 1.2-.4 1.2,1.4 1.2,.7 1.2-.9 1.2-.1 1.2,.5 1.2,1 1.2-.7 1.2,.6 1.2-.8 1.2,.1 1.2-.2 1.2-.3 1.2,.2 1.2,.2 1.2,1 1.2,.5 1.2-.7 1.2,.2 1.2,.5 1.2-.2 1.2-1.6 1.2-.7 1.2,.4 1.2-.3 1.2,.2 1.2-.8 1.2,.1 1.2-.2 1.2,.6 1.2,0 1.2-.2 1.2-.4 1.2,1.3 1.2,.1 1.2,0 1.2-1.1 1.2-.5 1.2,0 1.2,.7 1.2-.2 1.2-.8 1.2-.1 1.2-.7 1.2-.1 1.2,.7 1.2,1.2 1.2,.5 1.2-.3 1.2,.5 1.2-.2 1.2,0 1.2,.2 1.2-1.1 1.2-.1 1.2,.9 1.2,.3 1.2-.5 1.2-.1 1.2,.1 1.2-1.7 1.2,.3 1.2-.5 1.2,.5 1.2-.3 1.2,.5 1.2-.3 1.2,.2 1.2-.1 1.2,.9 1.2-.1 1.2,.5 1.2-.1 1.2,0 1.2-.5 1.2-.4 1.2-.6 1.2,1.6 1.2,.1 1.2-1 1.2-.7 1.2,1 1.2,1.3 1.2-.6 1.2,.1 1.2-.3 1.2-.5 1.2,.9 1.2,.4 1.2,1 1.2-1.1 1.2,.7 1.2,.2 1.2-.5 1.2,.4 1.2-.5 1.2,.6 1.2,.3 1.2-.9 1.2,.3 1.2,.7 1.2-.4 1.2-.3 1.2,.6 1.2,.4 1.2,.7 1.2,.4 1.2-.6 1.2,.2 1.2,.5 1.2,.4 1.2,.1 1.2-.9 1.2,.3 1.2,0 1.2,1 1.2,.8 1.2-.7 1.2-.1 1.2,0 1.2-.9 1.2-.6 1.2,.6 1.2,.5 1.2,.7 1.2-.5 1.2-.1 1.2-.7 1.2,0 1.2-.2 1.2,.1 1.2-.3 1.2-.3 1.2-.1 1.2,.1 1.2,0 1.2-.1 1.2-.1 1.2,1.1 1.2-.5 1.2-1.5 1.2-.4 1.2-.2 1.2,.2 1.2-.2 1.2-.6 1.2,.3 1.2-1.2 1.2,1.3 1.2,1.3 1.2-.4 1.2,0 1.2-.6 1.2,.2 1.2,.2 1.2,1.2 1.2-.5 1.2-.4 1.2,.4 1.2,0 1.2-.1 1.2-.8 1.2,.7 1.2,.1 1.2,.3 1.2-.2 1.2,1.2 1.2-.8 1.2,.4 1.2,0 1.2-.2 1.2,.4 1.2-.5 1.2,.3 1.2,.2 1.2-.2 1.2-1.1 1.2,.4 1.2-.3 1.2-.1 1.2,.6 1.2-1.3 1.2,.1 1.2,.1 1.2,.3 1.2,.4 1.2-1.3 1.2,1.1 1.2,.2 1.2,.1 1.2-.8 1.2,.2 1.2-.3 1.2,.6 1.2-.5 1.2-.3 1.2-.3 1.2,0 1.2,0 1.2-.6 1.2,1.6 1.2-.4 1.2,1.3 1.2,0 1.2-.1 1.2,.2 1.2-.2 1.2-.8 1.2-.7 1.2,.9 1.2,.9 1.2-.2 1.2-.8 1.2,1.6 1.2,.6 1.2,.3 1.2-.9 1.2,.2 1.2-.5 1.2,.4 1.2,0 1.2-.4 1.2,.5 1.2,.2 1.2-.3 1.2,.5 1.2-.8 1.2-1.3 1.2-.2 1.2,1 1.2-.1 1.2-.6 1.2,0 1.2-.1 1.2-.5 1.2,.8 1.2,.3 1.2-.2 1.2-.8 1.2-1 1.2-.7 1.2,.2 1.2,1.3 1.2-.2 1.2,.8 1.2,0 1.2,1.1 1.2,.5 1.2-1.4 1.2-.3 1.2,.3 1.2-.1 1.2,.8 1.2,.8 1.2,.1 1.2,0 1.2-1.4 1.2,.4 1.2-.4 1.2,.1 1.2,1.1 1.2,.2 1.2-.4 1.2,.4 1.2-.4 1.2,0 1.2-.7 1.2,.6 1.2,1.2 1.2,.4 1.2-.4 1.2-.4 1.2-.3 1.2-.5 1.2-.8 1.2-.5 1.2,.5 1.2,.9 1.2-1 1.2-1.4 1.2,.7 1.2,1.9 1.2-.8 1.2,.3 1.2-1.8 1.2,1.4 1.2-.1 1.2,1.3 1.2-.3 1.2,.5 1.2-.9 1.2,.4 1.2,.4 1.2-1.1 1.2,1 1.2-.1 1.2,.5 1.2,1.4 1.2-.8 1.2,.4 1.2-.9 1.2-1 1.2,1.6 1.2-.8 1.2,.9 1.2,.4 1.2-1 1.2,.3 1.2,0 1.2,.2 1.2-.1 1.2,1.1 1.2-1 1.2-.4 1.2-1.7 1.2,.8 1.2,.1 1.2,.1 1.2,0 1.2,.5 1.2-.8 1.2,.3 1.2,.5 1.2,1.4 1.2-1.3 1.2,.3 1.2,1.2 1.2-.1 1.2-1.5 1.2-.9 1.2-.1 1.2,1 1.2-.4 1.2,.5 1.2-.4 1.2,1.1 1.2,.2 1.2,.1 1.2-.9 1.2-1.3 1.2-.7" fill="none" stroke="#d62728" stroke-width="5.6" stroke-linejoin="round" stroke-linecap="round"/>
</g>
<rect x="164.2" y="1421.4" width="1468.3" height="508.5999999999999" fill="none" stroke="#cccccc" stroke-width="2.2"/>
<text x="155.5" y="1945.6" text-anchor="end" class="t">0.00</text>
<text x="155.5" y="1843.9" text-anchor="end" class="t">0.02</text>
<text x="155.5" y="1742.2" text-anchor="end" class="t">0.04</text>
<text x="155.5" y="1640.4" text-anchor="end" class="t">0.06</text>
<text x="155.5" y="1538.7" text-anchor="end" class="t">0.08</text>
<text x="155.5" y="1437.0" text-anchor="end" class="t">0.10</text>
<text x="164.2" y="1970.0" text-anchor="middle" class="t">0</text>
<text x="483.5" y="1970.0" text-anchor="middle" class="t">5000</text>
<text x="802.8" y="1970.0" text-anchor="middle" class="t">10000</text>
<text x="1122.1" y="1970.0" text-anchor="middle" class="t">15000</text>
<text x="1441.4" y="1970.0" text-anchor="middle" class="t">20000</text>
<text transform="translate(53.2,1603.1) rotate(-90)" text-anchor="end" class="l"><tspan font-style="italic">σ</tspan> MSE</text>
<line x1="1238.4" y1="1476.4" x2="1323.7" y2="1476.4" stroke="#1f77b4" stroke-width="5.0" stroke-linecap="round"/>
<text x="1358.0" y="1491.3" class="t" style="font-size:43.2px">ER-Random</text>
<line x1="1238.4" y1="1537.4" x2="1323.7" y2="1537.4" stroke="#ff7f0e" stroke-width="5.0" stroke-linecap="round"/>
<text x="1358.0" y="1552.3" class="t" style="font-size:43.2px">Rewired</text>
<line x1="1238.4" y1="1598.3" x2="1323.7" y2="1598.3" stroke="#2ca02c" stroke-width="5.0" stroke-linecap="round"/>
<text x="1358.0" y="1613.2" class="t" style="font-size:43.2px">MLP</text>
<line x1="1238.4" y1="1659.2" x2="1323.7" y2="1659.2" stroke="#d62728" stroke-width="5.0" stroke-linecap="round"/>
<text x="1358.0" y="1674.2" class="t" style="font-size:43.2px">FlyGM</text>
<text x="38" y="73" class="p">a</text><text x="38" y="701.5" class="p">b</text><text x="38" y="1370.5" class="p">c</text>
<text x="898.9" y="2020.8" text-anchor="middle" class="l">Steps</text>
</svg>
</body></html>
